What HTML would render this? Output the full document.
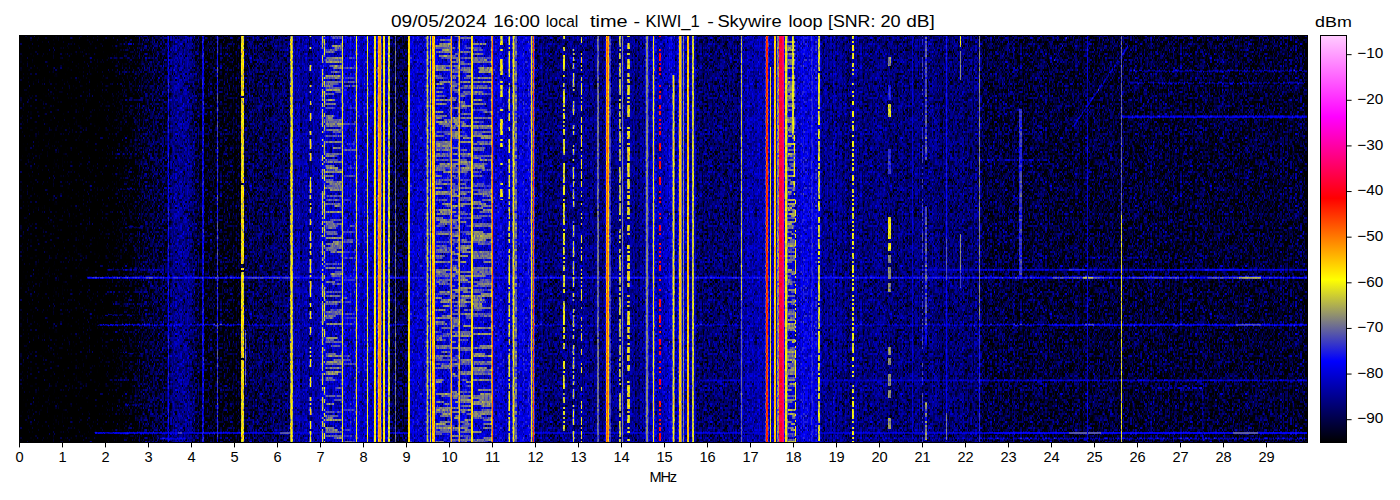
<!DOCTYPE html>
<html lang="en">
<head>
<meta charset="utf-8">
<title>KIWI_1 waterfall</title>
<style>
html,body{margin:0;padding:0;background:#fff}
body{width:1400px;height:500px;overflow:hidden;font-family:"Liberation Sans",sans-serif}
svg{display:block;position:absolute;left:0;top:0}
text{font-family:"Liberation Sans",sans-serif;fill:#000}
.tk line{stroke:#000;stroke-width:1}
.xl text{font-size:14.6px;text-anchor:middle}
.cl text{font-size:14.6px}
</style>
</head>
<body>
<svg width="1400" height="500" viewBox="0 0 1400 500">
<defs>
<filter id="wf" filterUnits="userSpaceOnUse" x="19" y="35" width="1289" height="408" color-interpolation-filters="sRGB">
<feColorMatrix in="SourceGraphic" type="matrix" values="1.1682 0.3363 0 0 -0.3363  1.1682 0.3363 0 0 -0.3363  1.1682 0.3363 0 0 -0.3363  0 0 0 0 1" result="s"/>
<feComponentTransfer in="s">
<feFuncR type="table" tableValues="0 0 1 1 1 1"/>
<feFuncG type="table" tableValues="0 0 1 0 0 0.8"/>
<feFuncB type="table" tableValues="0 1 0 0 1 1"/>
</feComponentTransfer>
</filter>
<pattern id="nz" patternUnits="userSpaceOnUse" x="19" y="35" width="160" height="128" patternContentUnits="userSpaceOnUse"><g transform="scale(1.25 2)" shape-rendering="crispEdges"><rect width="128" height="64" fill="#008400"/><path fill="#000000" d="M76 1h1v1h-1M6 3h1v1h-1M54 3h1v1h-1M93 3h1v1h-1M3 4h1v1h-1M4 5h1v1h-1M119 5h1v1h-1M19 7h1v1h-1M42 7h1v1h-1M95 7h1v1h-1M111 7h1v1h-1M21 8h1v1h-1M41 8h1v1h-1M99 8h1v1h-1M103 9h1v1h-1M74 10h1v1h-1M13 12h1v1h-1M65 14h1v1h-1M0 15h1v1h-1M70 15h1v1h-1M96 15h1v1h-1M40 16h1v1h-1M72 16h1v1h-1M53 17h1v1h-1M122 19h1v1h-1M124 19h1v1h-1M4 21h1v1h-1M35 21h1v1h-1M78 23h1v1h-1M79 23h1v1h-1M6 24h1v1h-1M13 24h1v1h-1M22 25h1v1h-1M31 25h1v1h-1M52 25h1v1h-1M54 25h1v1h-1M76 25h1v1h-1M77 25h1v1h-1M103 25h1v1h-1M7 26h1v1h-1M54 26h1v1h-1M60 26h1v1h-1M1 27h1v1h-1M6 27h1v1h-1M21 27h1v1h-1M10 28h1v1h-1M53 29h1v1h-1M110 29h1v1h-1M85 31h1v1h-1M108 31h1v1h-1M99 32h1v1h-1M50 33h1v1h-1M99 33h1v1h-1M73 34h1v1h-1M46 36h1v1h-1M6 37h1v1h-1M11 38h1v1h-1M42 38h1v1h-1M24 40h1v1h-1M34 40h1v1h-1M116 42h1v1h-1M86 43h1v1h-1M87 43h1v1h-1M97 44h1v1h-1M56 45h1v1h-1M82 45h1v1h-1M91 45h1v1h-1M63 46h1v1h-1M74 46h1v1h-1M112 46h1v1h-1M2 47h1v1h-1M7 47h1v1h-1M11 47h1v1h-1M26 47h1v1h-1M94 47h1v1h-1M97 47h1v1h-1M126 50h1v1h-1M40 52h1v1h-1M119 53h1v1h-1M44 54h1v1h-1M70 54h1v1h-1M58 55h1v1h-1M48 56h1v1h-1M58 56h1v1h-1M65 56h1v1h-1M41 58h1v1h-1M87 59h1v1h-1M125 61h1v1h-1M13 62h1v1h-1M57 62h1v1h-1M118 62h1v1h-1M33 63h1v1h-1M35 63h1v1h-1M123 63h1v1h-1"/><path fill="#000800" d="M85 0h1v1h-1M117 3h1v1h-1M19 4h1v1h-1M69 7h1v1h-1M65 8h1v1h-1M88 9h1v1h-1M5 10h1v1h-1M116 10h1v1h-1M23 11h1v1h-1M48 11h1v1h-1M95 13h1v1h-1M116 16h1v1h-1M104 19h1v1h-1M9 25h1v1h-1M72 26h1v1h-1M100 31h1v1h-1M96 33h1v1h-1M37 35h1v1h-1M117 35h1v1h-1M62 45h1v1h-1M6 50h1v1h-1M66 52h1v1h-1M25 54h1v1h-1M111 54h1v1h-1M18 56h1v1h-1M111 58h1v1h-1M72 60h1v1h-1M36 61h1v1h-1"/><path fill="#001000" d="M8 0h1v1h-1M38 3h1v1h-1M111 3h1v1h-1M119 3h1v1h-1M112 4h1v1h-1M0 6h1v1h-1M70 7h1v1h-1M31 10h1v1h-1M109 10h1v1h-1M60 11h1v1h-1M91 15h1v1h-1M43 18h1v1h-1M5 19h1v1h-1M21 19h1v1h-1M105 21h1v1h-1M125 22h1v1h-1M105 23h1v1h-1M5 24h1v1h-1M45 24h1v1h-1M89 25h1v1h-1M35 29h1v1h-1M59 29h1v1h-1M127 35h1v1h-1M67 38h1v1h-1M99 40h1v1h-1M52 42h1v1h-1M11 43h1v1h-1M21 43h1v1h-1M64 43h1v1h-1M119 43h1v1h-1M125 44h1v1h-1M84 45h1v1h-1M75 46h1v1h-1M12 50h1v1h-1M17 55h1v1h-1M100 56h1v1h-1M125 60h1v1h-1M59 63h1v1h-1"/><path fill="#001900" d="M127 1h1v1h-1M41 2h1v1h-1M53 4h1v1h-1M54 6h1v1h-1M114 6h1v1h-1M67 7h1v1h-1M63 11h1v1h-1M106 12h1v1h-1M112 12h1v1h-1M88 14h1v1h-1M117 16h1v1h-1M8 19h1v1h-1M1 20h1v1h-1M99 21h1v1h-1M88 22h1v1h-1M27 24h1v1h-1M32 24h1v1h-1M111 26h1v1h-1M13 28h1v1h-1M86 28h1v1h-1M22 30h1v1h-1M8 31h1v1h-1M47 31h1v1h-1M25 33h1v1h-1M59 34h1v1h-1M92 34h1v1h-1M88 35h1v1h-1M33 36h1v1h-1M86 36h1v1h-1M13 38h1v1h-1M75 38h1v1h-1M119 39h1v1h-1M16 42h1v1h-1M3 43h1v1h-1M14 43h1v1h-1M68 45h1v1h-1M97 45h1v1h-1M17 47h1v1h-1M8 49h1v1h-1M0 50h1v1h-1M30 51h1v1h-1M21 52h1v1h-1M21 53h1v1h-1M13 54h1v1h-1M71 54h1v1h-1M1 56h1v1h-1M72 56h1v1h-1M117 56h1v1h-1M40 57h1v1h-1M15 58h1v1h-1M13 59h1v1h-1M39 59h1v1h-1M94 59h1v1h-1M40 61h1v1h-1M6 63h1v1h-1M53 63h1v1h-1M85 63h1v1h-1"/><path fill="#002100" d="M68 0h1v1h-1M56 1h1v1h-1M109 2h1v1h-1M14 3h1v1h-1M22 3h1v1h-1M68 3h1v1h-1M4 4h1v1h-1M114 4h1v1h-1M92 5h1v1h-1M115 5h1v1h-1M116 5h1v1h-1M29 7h1v1h-1M75 7h1v1h-1M79 8h1v1h-1M105 8h1v1h-1M46 9h1v1h-1M78 9h1v1h-1M108 9h1v1h-1M30 10h1v1h-1M84 11h1v1h-1M117 11h1v1h-1M73 12h1v1h-1M85 12h1v1h-1M60 13h1v1h-1M31 16h1v1h-1M84 16h1v1h-1M107 16h1v1h-1M111 16h1v1h-1M127 17h1v1h-1M79 18h1v1h-1M24 19h1v1h-1M63 19h1v1h-1M118 19h1v1h-1M76 20h1v1h-1M111 20h1v1h-1M77 23h1v1h-1M98 24h1v1h-1M8 26h1v1h-1M47 27h1v1h-1M51 27h1v1h-1M42 28h1v1h-1M62 28h1v1h-1M67 28h1v1h-1M87 28h1v1h-1M26 30h1v1h-1M118 31h1v1h-1M19 32h1v1h-1M76 32h1v1h-1M54 33h1v1h-1M106 34h1v1h-1M0 39h1v1h-1M67 39h1v1h-1M44 40h1v1h-1M92 40h1v1h-1M6 41h1v1h-1M86 42h1v1h-1M112 43h1v1h-1M95 44h1v1h-1M52 45h1v1h-1M89 45h1v1h-1M102 50h1v1h-1M116 51h1v1h-1M125 52h1v1h-1M62 56h1v1h-1M64 57h1v1h-1M76 58h1v1h-1M15 59h1v1h-1M18 59h1v1h-1M32 59h1v1h-1M51 59h1v1h-1M4 60h1v1h-1M41 60h1v1h-1M95 61h1v1h-1M42 63h1v1h-1M103 63h1v1h-1M116 63h1v1h-1"/><path fill="#002900" d="M47 0h1v1h-1M45 1h1v1h-1M1 2h1v1h-1M12 2h1v1h-1M64 3h1v1h-1M70 3h1v1h-1M52 5h1v1h-1M3 6h1v1h-1M73 6h1v1h-1M96 7h1v1h-1M104 7h1v1h-1M107 7h1v1h-1M32 8h1v1h-1M34 8h1v1h-1M48 8h1v1h-1M83 8h1v1h-1M25 9h1v1h-1M125 9h1v1h-1M4 11h1v1h-1M47 11h1v1h-1M41 12h1v1h-1M27 13h1v1h-1M44 13h1v1h-1M59 13h1v1h-1M75 13h1v1h-1M30 15h1v1h-1M71 15h1v1h-1M127 15h1v1h-1M12 16h1v1h-1M57 16h1v1h-1M76 16h1v1h-1M119 17h1v1h-1M1 18h1v1h-1M100 18h1v1h-1M65 19h1v1h-1M79 19h1v1h-1M35 20h1v1h-1M50 20h1v1h-1M62 20h1v1h-1M23 22h1v1h-1M50 22h1v1h-1M68 22h1v1h-1M74 22h1v1h-1M82 22h1v1h-1M104 22h1v1h-1M47 23h1v1h-1M61 23h1v1h-1M98 23h1v1h-1M114 23h1v1h-1M4 24h1v1h-1M7 24h1v1h-1M30 24h1v1h-1M52 24h1v1h-1M112 24h1v1h-1M119 26h1v1h-1M22 27h1v1h-1M68 27h1v1h-1M59 30h1v1h-1M62 30h1v1h-1M64 30h1v1h-1M86 30h1v1h-1M34 31h1v1h-1M46 32h1v1h-1M8 33h1v1h-1M93 33h1v1h-1M112 33h1v1h-1M48 34h1v1h-1M95 34h1v1h-1M10 35h1v1h-1M24 35h1v1h-1M54 35h1v1h-1M78 35h1v1h-1M106 36h1v1h-1M40 37h1v1h-1M69 37h1v1h-1M100 37h1v1h-1M3 38h1v1h-1M46 38h1v1h-1M93 38h1v1h-1M52 39h1v1h-1M117 39h1v1h-1M3 42h1v1h-1M5 42h1v1h-1M44 42h1v1h-1M19 44h1v1h-1M71 46h1v1h-1M114 47h1v1h-1M37 48h1v1h-1M41 48h1v1h-1M29 49h1v1h-1M21 50h1v1h-1M37 50h1v1h-1M51 50h1v1h-1M69 50h1v1h-1M4 52h1v1h-1M94 53h1v1h-1M72 54h1v1h-1M46 56h1v1h-1M121 56h1v1h-1M20 57h1v1h-1M32 57h1v1h-1M53 57h1v1h-1M81 57h1v1h-1M121 57h1v1h-1M13 58h1v1h-1M62 58h1v1h-1M121 58h1v1h-1M127 58h1v1h-1M45 59h1v1h-1M20 60h1v1h-1M36 60h1v1h-1M97 60h1v1h-1M30 61h1v1h-1M82 61h1v1h-1M44 62h1v1h-1M72 63h1v1h-1"/><path fill="#003100" d="M7 0h1v1h-1M31 0h1v1h-1M89 0h1v1h-1M44 1h1v1h-1M65 1h1v1h-1M125 1h1v1h-1M24 2h1v1h-1M48 2h1v1h-1M85 2h1v1h-1M95 2h1v1h-1M11 3h1v1h-1M32 3h1v1h-1M46 3h1v1h-1M122 3h1v1h-1M92 4h1v1h-1M104 4h1v1h-1M124 4h1v1h-1M88 5h1v1h-1M96 5h1v1h-1M2 6h1v1h-1M51 7h1v1h-1M62 7h1v1h-1M127 7h1v1h-1M103 8h1v1h-1M104 8h1v1h-1M107 8h1v1h-1M40 9h1v1h-1M49 9h1v1h-1M124 9h1v1h-1M90 12h1v1h-1M15 14h1v1h-1M37 14h1v1h-1M59 14h1v1h-1M43 15h1v1h-1M4 16h1v1h-1M59 16h1v1h-1M63 16h1v1h-1M0 18h1v1h-1M27 19h1v1h-1M30 19h1v1h-1M64 19h1v1h-1M14 20h1v1h-1M94 20h1v1h-1M114 20h1v1h-1M8 22h1v1h-1M29 22h1v1h-1M71 23h1v1h-1M37 24h1v1h-1M120 24h1v1h-1M15 26h1v1h-1M48 26h1v1h-1M50 26h1v1h-1M67 26h1v1h-1M76 26h1v1h-1M77 26h1v1h-1M79 26h1v1h-1M87 26h1v1h-1M28 27h1v1h-1M18 28h1v1h-1M40 28h1v1h-1M72 30h1v1h-1M65 31h1v1h-1M114 31h1v1h-1M37 33h1v1h-1M58 33h1v1h-1M51 34h1v1h-1M52 34h1v1h-1M115 34h1v1h-1M38 35h1v1h-1M107 35h1v1h-1M126 35h1v1h-1M27 36h1v1h-1M38 36h1v1h-1M59 36h1v1h-1M81 36h1v1h-1M87 36h1v1h-1M112 36h1v1h-1M11 37h1v1h-1M22 37h1v1h-1M43 37h1v1h-1M119 38h1v1h-1M30 39h1v1h-1M37 39h1v1h-1M58 39h1v1h-1M68 39h1v1h-1M13 40h1v1h-1M72 40h1v1h-1M86 40h1v1h-1M94 40h1v1h-1M15 41h1v1h-1M68 41h1v1h-1M12 42h1v1h-1M47 42h1v1h-1M82 42h1v1h-1M56 43h1v1h-1M40 44h1v1h-1M110 44h1v1h-1M25 46h1v1h-1M85 46h1v1h-1M0 47h1v1h-1M8 48h1v1h-1M27 48h1v1h-1M82 48h1v1h-1M92 48h1v1h-1M27 49h1v1h-1M65 49h1v1h-1M86 49h1v1h-1M61 50h1v1h-1M31 51h1v1h-1M52 51h1v1h-1M11 52h1v1h-1M20 52h1v1h-1M27 52h1v1h-1M35 52h1v1h-1M39 52h1v1h-1M85 52h1v1h-1M6 53h1v1h-1M56 53h1v1h-1M76 53h1v1h-1M90 53h1v1h-1M5 54h1v1h-1M16 55h1v1h-1M62 55h1v1h-1M98 55h1v1h-1M25 56h1v1h-1M32 56h1v1h-1M39 56h1v1h-1M88 56h1v1h-1M126 56h1v1h-1M39 57h1v1h-1M34 58h1v1h-1M45 58h1v1h-1M68 58h1v1h-1M112 58h1v1h-1M20 59h1v1h-1M27 59h1v1h-1M59 59h1v1h-1M81 59h1v1h-1M95 59h1v1h-1M23 60h1v1h-1M85 60h1v1h-1M19 61h1v1h-1M70 61h1v1h-1M78 61h1v1h-1M63 62h1v1h-1M87 62h1v1h-1M88 62h1v1h-1M118 63h1v1h-1"/><path fill="#003a00" d="M46 0h1v1h-1M18 1h1v1h-1M27 1h1v1h-1M78 1h1v1h-1M6 2h1v1h-1M45 2h1v1h-1M66 2h1v1h-1M43 3h1v1h-1M67 3h1v1h-1M124 3h1v1h-1M63 4h1v1h-1M75 4h1v1h-1M102 4h1v1h-1M0 7h1v1h-1M10 7h1v1h-1M118 7h1v1h-1M3 8h1v1h-1M60 8h1v1h-1M78 8h1v1h-1M58 9h1v1h-1M86 10h1v1h-1M10 11h1v1h-1M79 11h1v1h-1M23 12h1v1h-1M40 12h1v1h-1M100 12h1v1h-1M111 12h1v1h-1M0 13h1v1h-1M56 13h1v1h-1M61 13h1v1h-1M127 14h1v1h-1M27 15h1v1h-1M38 15h1v1h-1M57 15h1v1h-1M119 15h1v1h-1M121 15h1v1h-1M123 15h1v1h-1M120 16h1v1h-1M22 17h1v1h-1M68 18h1v1h-1M122 18h1v1h-1M66 19h1v1h-1M53 20h1v1h-1M30 21h1v1h-1M50 21h1v1h-1M84 21h1v1h-1M85 21h1v1h-1M77 22h1v1h-1M80 22h1v1h-1M89 22h1v1h-1M109 22h1v1h-1M22 23h1v1h-1M42 23h1v1h-1M113 23h1v1h-1M44 24h1v1h-1M50 24h1v1h-1M83 24h1v1h-1M3 25h1v1h-1M17 25h1v1h-1M23 25h1v1h-1M32 25h1v1h-1M109 25h1v1h-1M38 26h1v1h-1M24 27h1v1h-1M26 27h1v1h-1M98 27h1v1h-1M11 29h1v1h-1M71 29h1v1h-1M118 29h1v1h-1M89 30h1v1h-1M95 30h1v1h-1M125 30h1v1h-1M23 31h1v1h-1M92 31h1v1h-1M15 32h1v1h-1M70 32h1v1h-1M118 32h1v1h-1M83 33h1v1h-1M91 34h1v1h-1M14 35h1v1h-1M30 35h1v1h-1M74 35h1v1h-1M34 36h1v1h-1M75 36h1v1h-1M5 37h1v1h-1M109 37h1v1h-1M97 38h1v1h-1M90 39h1v1h-1M97 39h1v1h-1M12 41h1v1h-1M34 41h1v1h-1M89 41h1v1h-1M101 41h1v1h-1M67 42h1v1h-1M91 42h1v1h-1M7 43h1v1h-1M9 44h1v1h-1M120 44h1v1h-1M13 45h1v1h-1M18 45h1v1h-1M104 45h1v1h-1M111 45h1v1h-1M70 46h1v1h-1M103 46h1v1h-1M33 47h1v1h-1M46 47h1v1h-1M57 47h1v1h-1M64 47h1v1h-1M106 47h1v1h-1M73 48h1v1h-1M98 48h1v1h-1M43 49h1v1h-1M76 49h1v1h-1M107 49h1v1h-1M114 49h1v1h-1M41 50h1v1h-1M122 50h1v1h-1M19 51h1v1h-1M61 51h1v1h-1M92 51h1v1h-1M98 51h1v1h-1M3 52h1v1h-1M31 52h1v1h-1M119 52h1v1h-1M37 53h1v1h-1M2 54h1v1h-1M49 54h1v1h-1M110 54h1v1h-1M0 55h1v1h-1M113 55h1v1h-1M125 55h1v1h-1M19 56h1v1h-1M38 57h1v1h-1M54 57h1v1h-1M1 58h1v1h-1M44 58h1v1h-1M105 58h1v1h-1M107 58h1v1h-1M30 59h1v1h-1M43 59h1v1h-1M61 60h1v1h-1M71 60h1v1h-1M23 61h1v1h-1M47 61h1v1h-1M56 62h1v1h-1M80 62h1v1h-1M25 63h1v1h-1M58 63h1v1h-1M102 63h1v1h-1"/><path fill="#004200" d="M77 0h1v1h-1M103 0h1v1h-1M122 0h1v1h-1M37 1h1v1h-1M10 2h1v1h-1M16 3h1v1h-1M21 3h1v1h-1M47 3h1v1h-1M53 3h1v1h-1M60 3h1v1h-1M62 3h1v1h-1M97 3h1v1h-1M20 4h1v1h-1M82 4h1v1h-1M25 5h1v1h-1M51 5h1v1h-1M65 5h1v1h-1M16 6h1v1h-1M3 7h1v1h-1M57 7h1v1h-1M23 8h1v1h-1M38 8h1v1h-1M44 8h1v1h-1M95 8h1v1h-1M26 9h1v1h-1M62 9h1v1h-1M7 10h1v1h-1M14 10h1v1h-1M75 10h1v1h-1M88 10h1v1h-1M94 10h1v1h-1M103 10h1v1h-1M106 10h1v1h-1M30 11h1v1h-1M115 11h1v1h-1M20 12h1v1h-1M37 12h1v1h-1M84 12h1v1h-1M115 12h1v1h-1M2 13h1v1h-1M114 13h1v1h-1M2 14h1v1h-1M72 14h1v1h-1M41 15h1v1h-1M58 15h1v1h-1M103 15h1v1h-1M10 16h1v1h-1M29 16h1v1h-1M68 16h1v1h-1M2 17h1v1h-1M25 17h1v1h-1M48 17h1v1h-1M122 17h1v1h-1M12 18h1v1h-1M23 18h1v1h-1M50 18h1v1h-1M75 18h1v1h-1M35 19h1v1h-1M51 19h1v1h-1M62 19h1v1h-1M22 20h1v1h-1M93 20h1v1h-1M123 20h1v1h-1M31 21h1v1h-1M39 21h1v1h-1M71 21h1v1h-1M89 21h1v1h-1M109 21h1v1h-1M28 22h1v1h-1M31 22h1v1h-1M63 22h1v1h-1M64 22h1v1h-1M6 23h1v1h-1M53 23h1v1h-1M76 23h1v1h-1M14 24h1v1h-1M77 24h1v1h-1M101 24h1v1h-1M105 24h1v1h-1M56 25h1v1h-1M61 25h1v1h-1M72 25h1v1h-1M86 25h1v1h-1M115 25h1v1h-1M10 26h1v1h-1M19 26h1v1h-1M68 26h1v1h-1M102 26h1v1h-1M7 27h1v1h-1M14 27h1v1h-1M57 27h1v1h-1M2 28h1v1h-1M80 28h1v1h-1M108 28h1v1h-1M111 28h1v1h-1M7 29h1v1h-1M62 29h1v1h-1M121 29h1v1h-1M7 30h1v1h-1M32 30h1v1h-1M44 30h1v1h-1M45 30h1v1h-1M87 30h1v1h-1M100 30h1v1h-1M25 31h1v1h-1M26 31h1v1h-1M103 31h1v1h-1M2 32h1v1h-1M9 32h1v1h-1M34 32h1v1h-1M80 32h1v1h-1M17 33h1v1h-1M21 33h1v1h-1M46 33h1v1h-1M56 33h1v1h-1M15 34h1v1h-1M116 34h1v1h-1M32 35h1v1h-1M6 36h1v1h-1M10 36h1v1h-1M44 36h1v1h-1M74 36h1v1h-1M7 37h1v1h-1M8 37h1v1h-1M38 37h1v1h-1M46 37h1v1h-1M62 37h1v1h-1M73 37h1v1h-1M119 37h1v1h-1M0 38h1v1h-1M83 38h1v1h-1M103 38h1v1h-1M115 38h1v1h-1M61 39h1v1h-1M83 39h1v1h-1M88 39h1v1h-1M118 39h1v1h-1M10 40h1v1h-1M17 40h1v1h-1M55 40h1v1h-1M123 40h1v1h-1M17 41h1v1h-1M46 41h1v1h-1M114 41h1v1h-1M118 41h1v1h-1M10 42h1v1h-1M14 42h1v1h-1M29 42h1v1h-1M30 42h1v1h-1M38 42h1v1h-1M110 42h1v1h-1M84 43h1v1h-1M104 43h1v1h-1M116 43h1v1h-1M34 44h1v1h-1M111 44h1v1h-1M28 45h1v1h-1M45 45h1v1h-1M55 45h1v1h-1M59 45h1v1h-1M73 45h1v1h-1M106 45h1v1h-1M32 46h1v1h-1M68 46h1v1h-1M48 47h1v1h-1M116 47h1v1h-1M6 48h1v1h-1M64 48h1v1h-1M91 48h1v1h-1M100 48h1v1h-1M25 49h1v1h-1M31 49h1v1h-1M85 49h1v1h-1M110 49h1v1h-1M119 49h1v1h-1M52 50h1v1h-1M94 50h1v1h-1M18 51h1v1h-1M24 51h1v1h-1M25 52h1v1h-1M80 52h1v1h-1M81 52h1v1h-1M95 52h1v1h-1M14 53h1v1h-1M59 53h1v1h-1M116 53h1v1h-1M7 54h1v1h-1M38 54h1v1h-1M5 55h1v1h-1M25 55h1v1h-1M51 55h1v1h-1M101 55h1v1h-1M107 55h1v1h-1M2 56h1v1h-1M35 56h1v1h-1M82 56h1v1h-1M84 56h1v1h-1M74 57h1v1h-1M46 58h1v1h-1M91 58h1v1h-1M109 58h1v1h-1M0 59h1v1h-1M25 59h1v1h-1M90 59h1v1h-1M7 60h1v1h-1M76 60h1v1h-1M104 60h1v1h-1M124 60h1v1h-1M38 61h1v1h-1M54 61h1v1h-1M112 61h1v1h-1M103 62h1v1h-1M30 63h1v1h-1M47 63h1v1h-1M112 63h1v1h-1"/><path fill="#004a00" d="M32 0h1v1h-1M124 0h1v1h-1M4 1h1v1h-1M122 1h1v1h-1M86 2h1v1h-1M88 2h1v1h-1M100 2h1v1h-1M33 3h1v1h-1M34 3h1v1h-1M121 3h1v1h-1M13 4h1v1h-1M79 4h1v1h-1M90 4h1v1h-1M45 5h1v1h-1M67 5h1v1h-1M106 5h1v1h-1M113 5h1v1h-1M74 6h1v1h-1M111 6h1v1h-1M120 7h1v1h-1M8 8h1v1h-1M10 8h1v1h-1M81 8h1v1h-1M101 8h1v1h-1M2 9h1v1h-1M76 9h1v1h-1M79 9h1v1h-1M90 9h1v1h-1M97 9h1v1h-1M98 9h1v1h-1M106 9h1v1h-1M3 10h1v1h-1M26 10h1v1h-1M54 10h1v1h-1M60 10h1v1h-1M82 10h1v1h-1M87 10h1v1h-1M13 11h1v1h-1M29 11h1v1h-1M51 11h1v1h-1M111 11h1v1h-1M30 12h1v1h-1M32 12h1v1h-1M55 12h1v1h-1M79 12h1v1h-1M93 12h1v1h-1M95 12h1v1h-1M96 12h1v1h-1M104 12h1v1h-1M25 13h1v1h-1M39 13h1v1h-1M100 13h1v1h-1M116 13h1v1h-1M26 14h1v1h-1M34 14h1v1h-1M87 14h1v1h-1M113 14h1v1h-1M94 15h1v1h-1M107 15h1v1h-1M37 16h1v1h-1M80 16h1v1h-1M97 16h1v1h-1M26 17h1v1h-1M46 17h1v1h-1M52 17h1v1h-1M87 17h1v1h-1M89 17h1v1h-1M116 17h1v1h-1M73 18h1v1h-1M81 18h1v1h-1M92 18h1v1h-1M101 18h1v1h-1M108 18h1v1h-1M26 19h1v1h-1M38 19h1v1h-1M90 19h1v1h-1M97 19h1v1h-1M117 19h1v1h-1M49 20h1v1h-1M69 20h1v1h-1M72 20h1v1h-1M79 20h1v1h-1M80 20h1v1h-1M82 20h1v1h-1M65 21h1v1h-1M94 21h1v1h-1M103 21h1v1h-1M110 21h1v1h-1M62 22h1v1h-1M3 23h1v1h-1M5 23h1v1h-1M44 23h1v1h-1M45 23h1v1h-1M62 23h1v1h-1M86 23h1v1h-1M89 23h1v1h-1M95 23h1v1h-1M102 23h1v1h-1M8 24h1v1h-1M12 24h1v1h-1M75 24h1v1h-1M80 24h1v1h-1M118 24h1v1h-1M4 25h1v1h-1M7 25h1v1h-1M25 25h1v1h-1M27 25h1v1h-1M29 25h1v1h-1M33 25h1v1h-1M38 25h1v1h-1M48 25h1v1h-1M57 25h1v1h-1M87 25h1v1h-1M29 26h1v1h-1M118 26h1v1h-1M2 27h1v1h-1M15 27h1v1h-1M19 27h1v1h-1M39 27h1v1h-1M58 27h1v1h-1M61 27h1v1h-1M72 27h1v1h-1M96 27h1v1h-1M99 27h1v1h-1M30 28h1v1h-1M43 28h1v1h-1M44 28h1v1h-1M105 28h1v1h-1M40 29h1v1h-1M48 29h1v1h-1M116 29h1v1h-1M119 29h1v1h-1M20 30h1v1h-1M43 30h1v1h-1M61 30h1v1h-1M4 31h1v1h-1M7 31h1v1h-1M15 31h1v1h-1M37 31h1v1h-1M82 31h1v1h-1M95 31h1v1h-1M22 32h1v1h-1M35 32h1v1h-1M35 33h1v1h-1M36 33h1v1h-1M104 33h1v1h-1M2 34h1v1h-1M89 34h1v1h-1M20 35h1v1h-1M92 35h1v1h-1M95 35h1v1h-1M56 36h1v1h-1M66 36h1v1h-1M109 36h1v1h-1M48 37h1v1h-1M70 37h1v1h-1M74 37h1v1h-1M80 37h1v1h-1M98 37h1v1h-1M35 38h1v1h-1M55 38h1v1h-1M70 38h1v1h-1M78 38h1v1h-1M100 38h1v1h-1M111 38h1v1h-1M31 39h1v1h-1M41 39h1v1h-1M49 39h1v1h-1M85 39h1v1h-1M95 39h1v1h-1M102 39h1v1h-1M113 39h1v1h-1M45 40h1v1h-1M66 40h1v1h-1M73 40h1v1h-1M101 40h1v1h-1M117 40h1v1h-1M124 40h1v1h-1M23 41h1v1h-1M29 41h1v1h-1M31 41h1v1h-1M35 41h1v1h-1M62 41h1v1h-1M70 41h1v1h-1M62 42h1v1h-1M79 42h1v1h-1M80 42h1v1h-1M89 42h1v1h-1M105 42h1v1h-1M106 42h1v1h-1M15 43h1v1h-1M28 43h1v1h-1M46 43h1v1h-1M52 43h1v1h-1M98 43h1v1h-1M13 44h1v1h-1M46 44h1v1h-1M50 44h1v1h-1M2 45h1v1h-1M8 45h1v1h-1M21 45h1v1h-1M27 45h1v1h-1M53 45h1v1h-1M126 45h1v1h-1M8 46h1v1h-1M17 46h1v1h-1M35 46h1v1h-1M122 46h1v1h-1M14 47h1v1h-1M22 47h1v1h-1M50 47h1v1h-1M13 48h1v1h-1M21 48h1v1h-1M47 48h1v1h-1M50 48h1v1h-1M68 48h1v1h-1M77 48h1v1h-1M125 48h1v1h-1M32 49h1v1h-1M48 49h1v1h-1M55 49h1v1h-1M56 49h1v1h-1M58 49h1v1h-1M75 50h1v1h-1M115 50h1v1h-1M119 50h1v1h-1M14 51h1v1h-1M25 51h1v1h-1M32 51h1v1h-1M72 51h1v1h-1M90 51h1v1h-1M109 51h1v1h-1M18 52h1v1h-1M38 52h1v1h-1M57 52h1v1h-1M16 53h1v1h-1M4 54h1v1h-1M9 54h1v1h-1M29 54h1v1h-1M60 54h1v1h-1M73 54h1v1h-1M24 55h1v1h-1M35 55h1v1h-1M38 55h1v1h-1M81 55h1v1h-1M16 56h1v1h-1M33 56h1v1h-1M6 57h1v1h-1M21 57h1v1h-1M30 57h1v1h-1M68 57h1v1h-1M116 57h1v1h-1M48 58h1v1h-1M78 58h1v1h-1M79 58h1v1h-1M93 58h1v1h-1M116 58h1v1h-1M16 59h1v1h-1M46 59h1v1h-1M57 59h1v1h-1M98 59h1v1h-1M101 59h1v1h-1M102 59h1v1h-1M83 60h1v1h-1M88 60h1v1h-1M110 60h1v1h-1M27 61h1v1h-1M5 62h1v1h-1M120 62h1v1h-1M27 63h1v1h-1M54 63h1v1h-1M62 63h1v1h-1M114 63h1v1h-1"/><path fill="#005200" d="M74 0h1v1h-1M2 1h1v1h-1M14 1h1v1h-1M80 1h1v1h-1M91 1h1v1h-1M100 1h1v1h-1M38 2h1v1h-1M56 2h1v1h-1M71 2h1v1h-1M97 2h1v1h-1M117 2h1v1h-1M120 2h1v1h-1M24 3h1v1h-1M59 3h1v1h-1M76 3h1v1h-1M82 3h1v1h-1M91 3h1v1h-1M92 3h1v1h-1M127 3h1v1h-1M125 4h1v1h-1M53 5h1v1h-1M60 5h1v1h-1M71 5h1v1h-1M73 5h1v1h-1M75 5h1v1h-1M121 5h1v1h-1M34 6h1v1h-1M56 6h1v1h-1M66 6h1v1h-1M69 6h1v1h-1M6 7h1v1h-1M8 7h1v1h-1M11 7h1v1h-1M36 7h1v1h-1M60 7h1v1h-1M71 7h1v1h-1M72 7h1v1h-1M110 7h1v1h-1M12 8h1v1h-1M77 8h1v1h-1M67 9h1v1h-1M92 9h1v1h-1M127 9h1v1h-1M1 10h1v1h-1M48 10h1v1h-1M61 10h1v1h-1M78 10h1v1h-1M81 10h1v1h-1M126 10h1v1h-1M46 11h1v1h-1M95 11h1v1h-1M120 11h1v1h-1M121 11h1v1h-1M0 12h1v1h-1M22 12h1v1h-1M36 12h1v1h-1M42 12h1v1h-1M53 12h1v1h-1M72 12h1v1h-1M82 12h1v1h-1M118 12h1v1h-1M23 13h1v1h-1M31 13h1v1h-1M35 13h1v1h-1M89 13h1v1h-1M21 14h1v1h-1M81 14h1v1h-1M109 14h1v1h-1M4 15h1v1h-1M21 15h1v1h-1M36 15h1v1h-1M54 15h1v1h-1M56 15h1v1h-1M60 15h1v1h-1M67 15h1v1h-1M89 15h1v1h-1M90 15h1v1h-1M7 16h1v1h-1M8 16h1v1h-1M20 16h1v1h-1M62 16h1v1h-1M64 16h1v1h-1M66 16h1v1h-1M105 16h1v1h-1M112 16h1v1h-1M126 16h1v1h-1M3 17h1v1h-1M51 17h1v1h-1M64 17h1v1h-1M9 18h1v1h-1M18 18h1v1h-1M74 18h1v1h-1M89 18h1v1h-1M117 18h1v1h-1M40 19h1v1h-1M78 19h1v1h-1M91 19h1v1h-1M98 19h1v1h-1M106 19h1v1h-1M111 19h1v1h-1M12 20h1v1h-1M19 20h1v1h-1M24 20h1v1h-1M31 20h1v1h-1M58 20h1v1h-1M74 20h1v1h-1M84 20h1v1h-1M87 20h1v1h-1M96 20h1v1h-1M1 21h1v1h-1M2 21h1v1h-1M12 21h1v1h-1M59 21h1v1h-1M83 21h1v1h-1M119 21h1v1h-1M2 22h1v1h-1M26 22h1v1h-1M53 22h1v1h-1M69 22h1v1h-1M71 22h1v1h-1M86 22h1v1h-1M112 22h1v1h-1M115 22h1v1h-1M121 22h1v1h-1M35 23h1v1h-1M38 24h1v1h-1M111 24h1v1h-1M59 25h1v1h-1M81 25h1v1h-1M26 26h1v1h-1M81 26h1v1h-1M94 26h1v1h-1M99 26h1v1h-1M3 27h1v1h-1M27 27h1v1h-1M80 27h1v1h-1M94 27h1v1h-1M122 27h1v1h-1M20 28h1v1h-1M60 29h1v1h-1M94 29h1v1h-1M18 30h1v1h-1M29 30h1v1h-1M84 30h1v1h-1M90 30h1v1h-1M120 30h1v1h-1M69 31h1v1h-1M73 31h1v1h-1M83 31h1v1h-1M115 31h1v1h-1M116 31h1v1h-1M18 32h1v1h-1M23 32h1v1h-1M26 32h1v1h-1M49 32h1v1h-1M84 32h1v1h-1M110 32h1v1h-1M117 32h1v1h-1M3 33h1v1h-1M23 33h1v1h-1M42 33h1v1h-1M84 33h1v1h-1M94 33h1v1h-1M111 33h1v1h-1M126 33h1v1h-1M18 34h1v1h-1M22 34h1v1h-1M31 34h1v1h-1M38 34h1v1h-1M44 34h1v1h-1M70 34h1v1h-1M98 34h1v1h-1M34 35h1v1h-1M39 35h1v1h-1M53 35h1v1h-1M56 35h1v1h-1M102 35h1v1h-1M111 35h1v1h-1M18 36h1v1h-1M42 36h1v1h-1M70 36h1v1h-1M85 36h1v1h-1M99 36h1v1h-1M10 37h1v1h-1M25 37h1v1h-1M72 37h1v1h-1M88 37h1v1h-1M12 38h1v1h-1M53 38h1v1h-1M86 38h1v1h-1M118 38h1v1h-1M120 38h1v1h-1M24 39h1v1h-1M72 39h1v1h-1M73 39h1v1h-1M74 39h1v1h-1M99 39h1v1h-1M122 39h1v1h-1M0 40h1v1h-1M12 40h1v1h-1M63 40h1v1h-1M87 40h1v1h-1M121 40h1v1h-1M20 41h1v1h-1M55 41h1v1h-1M107 41h1v1h-1M13 42h1v1h-1M27 42h1v1h-1M58 42h1v1h-1M68 42h1v1h-1M108 42h1v1h-1M127 42h1v1h-1M53 43h1v1h-1M57 43h1v1h-1M100 43h1v1h-1M126 43h1v1h-1M10 44h1v1h-1M88 44h1v1h-1M98 44h1v1h-1M93 45h1v1h-1M112 45h1v1h-1M27 46h1v1h-1M56 46h1v1h-1M62 46h1v1h-1M119 46h1v1h-1M45 47h1v1h-1M74 47h1v1h-1M84 47h1v1h-1M117 47h1v1h-1M7 48h1v1h-1M9 48h1v1h-1M22 48h1v1h-1M29 48h1v1h-1M51 49h1v1h-1M64 49h1v1h-1M91 49h1v1h-1M92 49h1v1h-1M121 49h1v1h-1M11 50h1v1h-1M14 50h1v1h-1M20 50h1v1h-1M54 50h1v1h-1M62 50h1v1h-1M109 50h1v1h-1M121 50h1v1h-1M1 51h1v1h-1M5 51h1v1h-1M54 51h1v1h-1M59 51h1v1h-1M63 51h1v1h-1M121 51h1v1h-1M30 52h1v1h-1M61 52h1v1h-1M86 52h1v1h-1M99 52h1v1h-1M52 53h1v1h-1M63 53h1v1h-1M80 53h1v1h-1M20 54h1v1h-1M41 54h1v1h-1M84 54h1v1h-1M91 54h1v1h-1M119 54h1v1h-1M13 55h1v1h-1M30 55h1v1h-1M40 55h1v1h-1M55 55h1v1h-1M73 55h1v1h-1M77 55h1v1h-1M87 55h1v1h-1M126 55h1v1h-1M29 56h1v1h-1M67 56h1v1h-1M127 56h1v1h-1M15 57h1v1h-1M26 57h1v1h-1M50 57h1v1h-1M70 57h1v1h-1M111 57h1v1h-1M38 58h1v1h-1M71 58h1v1h-1M98 58h1v1h-1M125 58h1v1h-1M52 59h1v1h-1M107 59h1v1h-1M115 59h1v1h-1M121 59h1v1h-1M0 60h1v1h-1M48 60h1v1h-1M75 60h1v1h-1M87 60h1v1h-1M107 60h1v1h-1M2 61h1v1h-1M15 61h1v1h-1M37 61h1v1h-1M42 61h1v1h-1M61 61h1v1h-1M62 61h1v1h-1M96 61h1v1h-1M2 62h1v1h-1M31 62h1v1h-1M45 62h1v1h-1M54 62h1v1h-1M60 62h1v1h-1M64 62h1v1h-1M67 62h1v1h-1M3 63h1v1h-1M76 63h1v1h-1M87 63h1v1h-1M106 63h1v1h-1M117 63h1v1h-1"/><path fill="#005a00" d="M39 0h1v1h-1M42 0h1v1h-1M48 0h1v1h-1M69 0h1v1h-1M0 1h1v1h-1M3 1h1v1h-1M17 1h1v1h-1M51 1h1v1h-1M66 1h1v1h-1M89 1h1v1h-1M101 1h1v1h-1M108 1h1v1h-1M30 2h1v1h-1M33 2h1v1h-1M73 2h1v1h-1M104 2h1v1h-1M113 2h1v1h-1M27 3h1v1h-1M28 3h1v1h-1M61 3h1v1h-1M65 3h1v1h-1M79 3h1v1h-1M94 3h1v1h-1M104 3h1v1h-1M109 3h1v1h-1M48 4h1v1h-1M62 4h1v1h-1M10 5h1v1h-1M29 5h1v1h-1M30 5h1v1h-1M39 5h1v1h-1M62 5h1v1h-1M70 5h1v1h-1M111 5h1v1h-1M18 6h1v1h-1M45 6h1v1h-1M50 6h1v1h-1M53 6h1v1h-1M68 6h1v1h-1M72 6h1v1h-1M93 6h1v1h-1M124 6h1v1h-1M39 7h1v1h-1M88 7h1v1h-1M100 7h1v1h-1M28 8h1v1h-1M57 8h1v1h-1M63 8h1v1h-1M123 8h1v1h-1M126 8h1v1h-1M127 8h1v1h-1M12 9h1v1h-1M21 9h1v1h-1M23 9h1v1h-1M30 9h1v1h-1M34 9h1v1h-1M43 9h1v1h-1M52 9h1v1h-1M83 9h1v1h-1M95 9h1v1h-1M119 9h1v1h-1M123 9h1v1h-1M22 10h1v1h-1M41 10h1v1h-1M122 10h1v1h-1M21 11h1v1h-1M22 11h1v1h-1M35 11h1v1h-1M37 11h1v1h-1M50 11h1v1h-1M55 11h1v1h-1M83 11h1v1h-1M99 11h1v1h-1M127 11h1v1h-1M2 12h1v1h-1M27 12h1v1h-1M31 12h1v1h-1M105 12h1v1h-1M4 13h1v1h-1M14 13h1v1h-1M38 13h1v1h-1M70 13h1v1h-1M93 13h1v1h-1M103 13h1v1h-1M22 14h1v1h-1M43 14h1v1h-1M46 14h1v1h-1M90 14h1v1h-1M118 14h1v1h-1M7 15h1v1h-1M17 15h1v1h-1M85 15h1v1h-1M87 15h1v1h-1M93 15h1v1h-1M42 16h1v1h-1M45 16h1v1h-1M54 16h1v1h-1M71 16h1v1h-1M79 16h1v1h-1M81 16h1v1h-1M123 16h1v1h-1M21 17h1v1h-1M35 17h1v1h-1M45 17h1v1h-1M95 17h1v1h-1M40 18h1v1h-1M110 18h1v1h-1M0 19h1v1h-1M7 19h1v1h-1M67 19h1v1h-1M83 19h1v1h-1M7 20h1v1h-1M25 20h1v1h-1M39 20h1v1h-1M73 20h1v1h-1M125 20h1v1h-1M21 21h1v1h-1M23 21h1v1h-1M58 21h1v1h-1M75 21h1v1h-1M46 22h1v1h-1M94 22h1v1h-1M106 22h1v1h-1M108 22h1v1h-1M127 22h1v1h-1M30 23h1v1h-1M66 23h1v1h-1M106 23h1v1h-1M110 23h1v1h-1M21 24h1v1h-1M65 24h1v1h-1M68 24h1v1h-1M86 24h1v1h-1M106 24h1v1h-1M30 25h1v1h-1M95 25h1v1h-1M116 25h1v1h-1M9 26h1v1h-1M11 26h1v1h-1M55 26h1v1h-1M63 26h1v1h-1M85 26h1v1h-1M109 26h1v1h-1M33 27h1v1h-1M49 27h1v1h-1M52 27h1v1h-1M55 27h1v1h-1M101 27h1v1h-1M15 28h1v1h-1M41 28h1v1h-1M47 28h1v1h-1M52 28h1v1h-1M0 29h1v1h-1M1 29h1v1h-1M34 29h1v1h-1M57 29h1v1h-1M78 29h1v1h-1M90 29h1v1h-1M113 29h1v1h-1M41 30h1v1h-1M48 30h1v1h-1M55 30h1v1h-1M108 30h1v1h-1M119 30h1v1h-1M17 31h1v1h-1M24 31h1v1h-1M31 31h1v1h-1M32 31h1v1h-1M55 31h1v1h-1M27 32h1v1h-1M42 32h1v1h-1M55 32h1v1h-1M62 32h1v1h-1M107 32h1v1h-1M116 32h1v1h-1M5 33h1v1h-1M9 33h1v1h-1M38 33h1v1h-1M45 33h1v1h-1M68 33h1v1h-1M78 33h1v1h-1M82 33h1v1h-1M95 33h1v1h-1M105 33h1v1h-1M109 33h1v1h-1M118 33h1v1h-1M23 34h1v1h-1M30 34h1v1h-1M57 34h1v1h-1M80 34h1v1h-1M82 34h1v1h-1M97 34h1v1h-1M104 34h1v1h-1M0 35h1v1h-1M6 35h1v1h-1M58 35h1v1h-1M77 35h1v1h-1M97 35h1v1h-1M110 35h1v1h-1M113 35h1v1h-1M116 35h1v1h-1M123 35h1v1h-1M8 36h1v1h-1M53 36h1v1h-1M72 36h1v1h-1M84 36h1v1h-1M89 36h1v1h-1M104 36h1v1h-1M107 36h1v1h-1M123 36h1v1h-1M124 36h1v1h-1M125 36h1v1h-1M14 37h1v1h-1M23 37h1v1h-1M44 37h1v1h-1M78 37h1v1h-1M83 37h1v1h-1M121 37h1v1h-1M127 37h1v1h-1M2 38h1v1h-1M5 38h1v1h-1M18 38h1v1h-1M51 38h1v1h-1M73 38h1v1h-1M122 38h1v1h-1M5 39h1v1h-1M12 39h1v1h-1M19 39h1v1h-1M36 39h1v1h-1M54 39h1v1h-1M75 39h1v1h-1M81 39h1v1h-1M104 39h1v1h-1M124 39h1v1h-1M1 40h1v1h-1M8 40h1v1h-1M118 40h1v1h-1M2 41h1v1h-1M59 41h1v1h-1M93 41h1v1h-1M104 41h1v1h-1M20 42h1v1h-1M48 42h1v1h-1M111 42h1v1h-1M124 42h1v1h-1M1 43h1v1h-1M10 43h1v1h-1M33 43h1v1h-1M44 43h1v1h-1M83 43h1v1h-1M108 43h1v1h-1M113 43h1v1h-1M23 44h1v1h-1M75 44h1v1h-1M78 44h1v1h-1M89 44h1v1h-1M102 44h1v1h-1M103 44h1v1h-1M22 45h1v1h-1M33 45h1v1h-1M50 45h1v1h-1M115 45h1v1h-1M117 45h1v1h-1M0 46h1v1h-1M12 46h1v1h-1M36 46h1v1h-1M38 46h1v1h-1M52 46h1v1h-1M80 46h1v1h-1M82 46h1v1h-1M88 46h1v1h-1M106 46h1v1h-1M6 47h1v1h-1M20 47h1v1h-1M49 47h1v1h-1M55 47h1v1h-1M101 47h1v1h-1M5 48h1v1h-1M72 48h1v1h-1M97 48h1v1h-1M112 48h1v1h-1M4 49h1v1h-1M73 49h1v1h-1M89 49h1v1h-1M122 49h1v1h-1M31 50h1v1h-1M39 50h1v1h-1M59 50h1v1h-1M79 50h1v1h-1M83 50h1v1h-1M89 50h1v1h-1M16 51h1v1h-1M51 51h1v1h-1M57 51h1v1h-1M104 51h1v1h-1M105 51h1v1h-1M43 52h1v1h-1M70 52h1v1h-1M71 52h1v1h-1M84 52h1v1h-1M109 52h1v1h-1M61 53h1v1h-1M81 53h1v1h-1M82 53h1v1h-1M96 53h1v1h-1M64 54h1v1h-1M82 54h1v1h-1M83 54h1v1h-1M116 54h1v1h-1M123 54h1v1h-1M57 55h1v1h-1M3 56h1v1h-1M36 56h1v1h-1M114 56h1v1h-1M4 57h1v1h-1M9 57h1v1h-1M22 57h1v1h-1M71 57h1v1h-1M97 57h1v1h-1M103 57h1v1h-1M107 57h1v1h-1M114 57h1v1h-1M117 57h1v1h-1M0 58h1v1h-1M23 58h1v1h-1M25 58h1v1h-1M39 58h1v1h-1M61 58h1v1h-1M66 58h1v1h-1M19 59h1v1h-1M76 59h1v1h-1M106 59h1v1h-1M1 60h1v1h-1M19 60h1v1h-1M32 60h1v1h-1M43 60h1v1h-1M96 60h1v1h-1M106 60h1v1h-1M111 60h1v1h-1M8 61h1v1h-1M57 61h1v1h-1M79 61h1v1h-1M86 61h1v1h-1M97 61h1v1h-1M101 61h1v1h-1M102 61h1v1h-1M4 62h1v1h-1M38 62h1v1h-1M49 62h1v1h-1M69 62h1v1h-1M110 62h1v1h-1M115 62h1v1h-1M116 62h1v1h-1M31 63h1v1h-1M45 63h1v1h-1M57 63h1v1h-1"/><path fill="#006300" d="M22 0h1v1h-1M23 0h1v1h-1M24 0h1v1h-1M25 0h1v1h-1M43 0h1v1h-1M78 0h1v1h-1M83 0h1v1h-1M90 0h1v1h-1M105 0h1v1h-1M113 0h1v1h-1M117 0h1v1h-1M126 0h1v1h-1M11 1h1v1h-1M19 1h1v1h-1M36 1h1v1h-1M57 1h1v1h-1M70 1h1v1h-1M77 1h1v1h-1M92 1h1v1h-1M93 1h1v1h-1M26 2h1v1h-1M32 2h1v1h-1M49 2h1v1h-1M72 2h1v1h-1M82 2h1v1h-1M110 2h1v1h-1M4 3h1v1h-1M37 3h1v1h-1M48 3h1v1h-1M49 3h1v1h-1M72 3h1v1h-1M81 3h1v1h-1M15 4h1v1h-1M21 4h1v1h-1M26 4h1v1h-1M29 4h1v1h-1M32 4h1v1h-1M36 4h1v1h-1M59 4h1v1h-1M67 4h1v1h-1M101 4h1v1h-1M120 4h1v1h-1M121 4h1v1h-1M1 5h1v1h-1M17 5h1v1h-1M28 5h1v1h-1M34 5h1v1h-1M86 5h1v1h-1M94 5h1v1h-1M104 5h1v1h-1M127 5h1v1h-1M11 6h1v1h-1M13 6h1v1h-1M24 6h1v1h-1M41 6h1v1h-1M62 6h1v1h-1M81 6h1v1h-1M112 6h1v1h-1M120 6h1v1h-1M9 7h1v1h-1M13 7h1v1h-1M16 7h1v1h-1M34 7h1v1h-1M37 7h1v1h-1M41 7h1v1h-1M74 7h1v1h-1M89 7h1v1h-1M90 7h1v1h-1M91 7h1v1h-1M122 7h1v1h-1M126 7h1v1h-1M39 8h1v1h-1M66 8h1v1h-1M73 8h1v1h-1M75 8h1v1h-1M84 8h1v1h-1M121 8h1v1h-1M5 9h1v1h-1M42 9h1v1h-1M57 9h1v1h-1M71 9h1v1h-1M99 9h1v1h-1M13 10h1v1h-1M20 10h1v1h-1M98 10h1v1h-1M100 10h1v1h-1M124 10h1v1h-1M12 11h1v1h-1M40 11h1v1h-1M58 11h1v1h-1M68 11h1v1h-1M70 11h1v1h-1M89 11h1v1h-1M97 11h1v1h-1M119 11h1v1h-1M8 12h1v1h-1M9 12h1v1h-1M15 12h1v1h-1M18 12h1v1h-1M25 12h1v1h-1M71 12h1v1h-1M36 13h1v1h-1M96 13h1v1h-1M119 13h1v1h-1M30 14h1v1h-1M32 14h1v1h-1M38 14h1v1h-1M39 14h1v1h-1M56 14h1v1h-1M62 14h1v1h-1M102 14h1v1h-1M125 14h1v1h-1M64 15h1v1h-1M98 15h1v1h-1M111 15h1v1h-1M114 15h1v1h-1M11 16h1v1h-1M18 16h1v1h-1M70 16h1v1h-1M93 16h1v1h-1M36 17h1v1h-1M42 17h1v1h-1M47 17h1v1h-1M67 17h1v1h-1M79 17h1v1h-1M90 17h1v1h-1M107 17h1v1h-1M112 17h1v1h-1M10 18h1v1h-1M76 18h1v1h-1M96 18h1v1h-1M118 18h1v1h-1M36 19h1v1h-1M58 19h1v1h-1M75 19h1v1h-1M88 19h1v1h-1M110 19h1v1h-1M18 20h1v1h-1M52 20h1v1h-1M54 20h1v1h-1M81 20h1v1h-1M102 20h1v1h-1M104 20h1v1h-1M6 21h1v1h-1M63 21h1v1h-1M96 21h1v1h-1M101 21h1v1h-1M51 22h1v1h-1M39 23h1v1h-1M40 23h1v1h-1M57 23h1v1h-1M60 23h1v1h-1M70 23h1v1h-1M94 23h1v1h-1M127 23h1v1h-1M64 24h1v1h-1M71 24h1v1h-1M82 24h1v1h-1M94 24h1v1h-1M100 24h1v1h-1M110 24h1v1h-1M125 24h1v1h-1M36 25h1v1h-1M67 25h1v1h-1M121 25h1v1h-1M2 26h1v1h-1M39 26h1v1h-1M41 26h1v1h-1M46 26h1v1h-1M61 26h1v1h-1M41 27h1v1h-1M43 27h1v1h-1M54 27h1v1h-1M65 27h1v1h-1M74 27h1v1h-1M81 27h1v1h-1M86 27h1v1h-1M21 28h1v1h-1M22 28h1v1h-1M27 28h1v1h-1M35 28h1v1h-1M37 28h1v1h-1M55 28h1v1h-1M91 28h1v1h-1M118 28h1v1h-1M8 29h1v1h-1M13 29h1v1h-1M63 29h1v1h-1M65 29h1v1h-1M96 29h1v1h-1M120 29h1v1h-1M122 29h1v1h-1M0 30h1v1h-1M3 30h1v1h-1M14 30h1v1h-1M40 30h1v1h-1M70 30h1v1h-1M82 30h1v1h-1M97 30h1v1h-1M121 30h1v1h-1M124 30h1v1h-1M2 31h1v1h-1M3 31h1v1h-1M76 31h1v1h-1M81 31h1v1h-1M86 31h1v1h-1M94 31h1v1h-1M96 31h1v1h-1M117 31h1v1h-1M125 31h1v1h-1M40 32h1v1h-1M41 32h1v1h-1M65 32h1v1h-1M72 32h1v1h-1M87 32h1v1h-1M100 32h1v1h-1M2 33h1v1h-1M28 33h1v1h-1M39 33h1v1h-1M40 33h1v1h-1M85 33h1v1h-1M88 33h1v1h-1M90 33h1v1h-1M42 34h1v1h-1M55 34h1v1h-1M63 34h1v1h-1M64 34h1v1h-1M85 34h1v1h-1M86 34h1v1h-1M90 34h1v1h-1M99 34h1v1h-1M125 34h1v1h-1M23 35h1v1h-1M36 35h1v1h-1M68 35h1v1h-1M3 36h1v1h-1M50 36h1v1h-1M57 36h1v1h-1M91 36h1v1h-1M34 37h1v1h-1M66 37h1v1h-1M67 37h1v1h-1M97 37h1v1h-1M106 37h1v1h-1M111 37h1v1h-1M21 38h1v1h-1M30 38h1v1h-1M54 38h1v1h-1M1 39h1v1h-1M7 39h1v1h-1M48 39h1v1h-1M93 39h1v1h-1M110 39h1v1h-1M5 40h1v1h-1M20 40h1v1h-1M36 40h1v1h-1M39 40h1v1h-1M56 40h1v1h-1M79 40h1v1h-1M82 40h1v1h-1M5 41h1v1h-1M8 41h1v1h-1M32 41h1v1h-1M58 41h1v1h-1M64 41h1v1h-1M66 41h1v1h-1M81 41h1v1h-1M97 41h1v1h-1M117 41h1v1h-1M125 41h1v1h-1M17 42h1v1h-1M40 42h1v1h-1M83 42h1v1h-1M94 42h1v1h-1M113 42h1v1h-1M17 43h1v1h-1M19 43h1v1h-1M28 44h1v1h-1M116 44h1v1h-1M122 44h1v1h-1M14 45h1v1h-1M31 45h1v1h-1M36 45h1v1h-1M75 45h1v1h-1M100 45h1v1h-1M103 45h1v1h-1M116 45h1v1h-1M11 46h1v1h-1M20 46h1v1h-1M39 46h1v1h-1M44 46h1v1h-1M92 46h1v1h-1M120 46h1v1h-1M23 47h1v1h-1M31 47h1v1h-1M83 47h1v1h-1M110 47h1v1h-1M18 48h1v1h-1M46 48h1v1h-1M63 48h1v1h-1M76 48h1v1h-1M83 48h1v1h-1M88 48h1v1h-1M122 48h1v1h-1M126 48h1v1h-1M26 49h1v1h-1M82 49h1v1h-1M116 49h1v1h-1M9 50h1v1h-1M38 50h1v1h-1M66 50h1v1h-1M88 50h1v1h-1M100 50h1v1h-1M40 51h1v1h-1M56 51h1v1h-1M73 51h1v1h-1M77 51h1v1h-1M96 51h1v1h-1M124 51h1v1h-1M6 52h1v1h-1M53 52h1v1h-1M69 52h1v1h-1M2 53h1v1h-1M24 53h1v1h-1M74 53h1v1h-1M102 53h1v1h-1M106 53h1v1h-1M123 53h1v1h-1M124 53h1v1h-1M27 54h1v1h-1M28 54h1v1h-1M75 54h1v1h-1M85 54h1v1h-1M19 55h1v1h-1M49 55h1v1h-1M50 55h1v1h-1M63 55h1v1h-1M72 55h1v1h-1M99 55h1v1h-1M109 55h1v1h-1M117 55h1v1h-1M127 55h1v1h-1M10 56h1v1h-1M20 56h1v1h-1M79 56h1v1h-1M112 56h1v1h-1M3 57h1v1h-1M19 57h1v1h-1M62 57h1v1h-1M69 57h1v1h-1M127 57h1v1h-1M3 58h1v1h-1M14 58h1v1h-1M47 58h1v1h-1M73 58h1v1h-1M82 58h1v1h-1M126 58h1v1h-1M42 59h1v1h-1M56 59h1v1h-1M88 59h1v1h-1M91 59h1v1h-1M96 59h1v1h-1M111 59h1v1h-1M37 60h1v1h-1M44 60h1v1h-1M46 60h1v1h-1M58 60h1v1h-1M70 60h1v1h-1M74 60h1v1h-1M101 60h1v1h-1M115 60h1v1h-1M120 60h1v1h-1M92 61h1v1h-1M94 61h1v1h-1M111 61h1v1h-1M119 61h1v1h-1M121 61h1v1h-1M19 62h1v1h-1M33 62h1v1h-1M50 62h1v1h-1M73 62h1v1h-1M79 62h1v1h-1M81 62h1v1h-1M84 62h1v1h-1M99 62h1v1h-1M102 62h1v1h-1M5 63h1v1h-1M10 63h1v1h-1M49 63h1v1h-1M66 63h1v1h-1M67 63h1v1h-1M74 63h1v1h-1M79 63h1v1h-1M81 63h1v1h-1M83 63h1v1h-1M90 63h1v1h-1M105 63h1v1h-1M126 63h1v1h-1"/><path fill="#006b00" d="M2 0h1v1h-1M13 0h1v1h-1M14 0h1v1h-1M21 0h1v1h-1M33 0h1v1h-1M107 0h1v1h-1M116 0h1v1h-1M127 0h1v1h-1M13 1h1v1h-1M54 1h1v1h-1M72 1h1v1h-1M74 1h1v1h-1M82 1h1v1h-1M111 1h1v1h-1M2 2h1v1h-1M8 2h1v1h-1M29 2h1v1h-1M34 2h1v1h-1M35 2h1v1h-1M39 2h1v1h-1M61 2h1v1h-1M70 2h1v1h-1M3 3h1v1h-1M7 3h1v1h-1M8 3h1v1h-1M10 3h1v1h-1M51 3h1v1h-1M63 3h1v1h-1M99 3h1v1h-1M112 3h1v1h-1M114 3h1v1h-1M120 3h1v1h-1M17 4h1v1h-1M60 4h1v1h-1M70 4h1v1h-1M93 4h1v1h-1M99 4h1v1h-1M119 4h1v1h-1M122 4h1v1h-1M18 5h1v1h-1M19 5h1v1h-1M40 5h1v1h-1M50 5h1v1h-1M58 5h1v1h-1M99 5h1v1h-1M5 6h1v1h-1M7 6h1v1h-1M14 6h1v1h-1M42 6h1v1h-1M52 6h1v1h-1M76 6h1v1h-1M82 6h1v1h-1M102 6h1v1h-1M103 6h1v1h-1M108 6h1v1h-1M126 6h1v1h-1M23 7h1v1h-1M30 7h1v1h-1M32 7h1v1h-1M55 7h1v1h-1M93 7h1v1h-1M112 7h1v1h-1M124 7h1v1h-1M5 8h1v1h-1M18 8h1v1h-1M29 8h1v1h-1M36 8h1v1h-1M43 8h1v1h-1M55 8h1v1h-1M100 8h1v1h-1M48 9h1v1h-1M54 9h1v1h-1M105 9h1v1h-1M15 10h1v1h-1M16 10h1v1h-1M28 10h1v1h-1M32 10h1v1h-1M34 10h1v1h-1M65 10h1v1h-1M68 10h1v1h-1M93 10h1v1h-1M111 10h1v1h-1M113 10h1v1h-1M36 11h1v1h-1M66 11h1v1h-1M69 11h1v1h-1M93 11h1v1h-1M100 11h1v1h-1M108 11h1v1h-1M113 11h1v1h-1M118 11h1v1h-1M24 12h1v1h-1M46 12h1v1h-1M47 12h1v1h-1M102 12h1v1h-1M103 12h1v1h-1M3 13h1v1h-1M30 13h1v1h-1M32 13h1v1h-1M54 13h1v1h-1M55 13h1v1h-1M82 13h1v1h-1M120 13h1v1h-1M122 13h1v1h-1M126 13h1v1h-1M40 14h1v1h-1M45 14h1v1h-1M48 14h1v1h-1M55 14h1v1h-1M57 14h1v1h-1M63 14h1v1h-1M86 14h1v1h-1M91 14h1v1h-1M104 14h1v1h-1M106 14h1v1h-1M114 14h1v1h-1M35 15h1v1h-1M66 15h1v1h-1M81 15h1v1h-1M86 15h1v1h-1M126 15h1v1h-1M5 16h1v1h-1M24 16h1v1h-1M34 16h1v1h-1M44 16h1v1h-1M89 16h1v1h-1M91 16h1v1h-1M99 16h1v1h-1M109 16h1v1h-1M13 17h1v1h-1M32 17h1v1h-1M83 17h1v1h-1M93 17h1v1h-1M99 17h1v1h-1M105 17h1v1h-1M110 17h1v1h-1M126 17h1v1h-1M3 18h1v1h-1M8 18h1v1h-1M22 18h1v1h-1M25 18h1v1h-1M31 18h1v1h-1M63 18h1v1h-1M71 18h1v1h-1M98 18h1v1h-1M124 18h1v1h-1M126 18h1v1h-1M127 18h1v1h-1M14 19h1v1h-1M15 19h1v1h-1M19 19h1v1h-1M61 19h1v1h-1M68 19h1v1h-1M85 19h1v1h-1M99 19h1v1h-1M102 19h1v1h-1M116 19h1v1h-1M126 19h1v1h-1M40 20h1v1h-1M57 20h1v1h-1M115 20h1v1h-1M121 20h1v1h-1M8 21h1v1h-1M32 21h1v1h-1M33 21h1v1h-1M40 21h1v1h-1M42 21h1v1h-1M90 21h1v1h-1M92 21h1v1h-1M95 21h1v1h-1M113 21h1v1h-1M121 21h1v1h-1M22 22h1v1h-1M42 22h1v1h-1M47 22h1v1h-1M79 22h1v1h-1M91 22h1v1h-1M28 23h1v1h-1M41 23h1v1h-1M46 23h1v1h-1M117 23h1v1h-1M9 24h1v1h-1M10 24h1v1h-1M17 24h1v1h-1M46 24h1v1h-1M51 24h1v1h-1M54 24h1v1h-1M55 24h1v1h-1M57 24h1v1h-1M61 24h1v1h-1M96 24h1v1h-1M104 24h1v1h-1M117 24h1v1h-1M20 25h1v1h-1M42 25h1v1h-1M27 26h1v1h-1M65 26h1v1h-1M74 26h1v1h-1M121 26h1v1h-1M8 27h1v1h-1M10 27h1v1h-1M18 27h1v1h-1M30 27h1v1h-1M83 27h1v1h-1M112 27h1v1h-1M114 27h1v1h-1M39 28h1v1h-1M65 28h1v1h-1M77 28h1v1h-1M107 28h1v1h-1M113 28h1v1h-1M2 29h1v1h-1M28 29h1v1h-1M42 29h1v1h-1M45 29h1v1h-1M93 29h1v1h-1M99 29h1v1h-1M103 29h1v1h-1M104 29h1v1h-1M127 29h1v1h-1M25 30h1v1h-1M51 30h1v1h-1M77 30h1v1h-1M92 30h1v1h-1M94 30h1v1h-1M98 30h1v1h-1M117 30h1v1h-1M122 30h1v1h-1M0 31h1v1h-1M102 31h1v1h-1M119 31h1v1h-1M3 32h1v1h-1M4 32h1v1h-1M14 32h1v1h-1M29 32h1v1h-1M31 32h1v1h-1M38 32h1v1h-1M39 32h1v1h-1M44 32h1v1h-1M66 32h1v1h-1M74 32h1v1h-1M14 33h1v1h-1M32 33h1v1h-1M34 33h1v1h-1M100 33h1v1h-1M110 33h1v1h-1M113 33h1v1h-1M123 33h1v1h-1M125 33h1v1h-1M1 34h1v1h-1M5 34h1v1h-1M7 34h1v1h-1M11 34h1v1h-1M13 34h1v1h-1M25 34h1v1h-1M46 34h1v1h-1M58 34h1v1h-1M62 34h1v1h-1M77 34h1v1h-1M78 34h1v1h-1M19 35h1v1h-1M29 35h1v1h-1M42 35h1v1h-1M5 36h1v1h-1M55 36h1v1h-1M27 37h1v1h-1M53 37h1v1h-1M54 37h1v1h-1M57 37h1v1h-1M76 37h1v1h-1M93 37h1v1h-1M94 37h1v1h-1M110 37h1v1h-1M112 37h1v1h-1M123 37h1v1h-1M126 37h1v1h-1M1 38h1v1h-1M43 38h1v1h-1M71 38h1v1h-1M72 38h1v1h-1M87 38h1v1h-1M108 38h1v1h-1M14 39h1v1h-1M34 39h1v1h-1M42 39h1v1h-1M50 39h1v1h-1M60 39h1v1h-1M63 39h1v1h-1M65 39h1v1h-1M70 39h1v1h-1M77 39h1v1h-1M79 39h1v1h-1M92 39h1v1h-1M103 39h1v1h-1M109 39h1v1h-1M120 39h1v1h-1M9 40h1v1h-1M26 40h1v1h-1M41 40h1v1h-1M42 40h1v1h-1M102 40h1v1h-1M120 40h1v1h-1M21 41h1v1h-1M25 41h1v1h-1M42 41h1v1h-1M49 41h1v1h-1M67 41h1v1h-1M2 42h1v1h-1M21 42h1v1h-1M23 42h1v1h-1M46 42h1v1h-1M49 42h1v1h-1M53 42h1v1h-1M104 42h1v1h-1M114 42h1v1h-1M125 42h1v1h-1M18 43h1v1h-1M24 43h1v1h-1M26 43h1v1h-1M38 43h1v1h-1M39 43h1v1h-1M42 43h1v1h-1M47 43h1v1h-1M91 43h1v1h-1M102 43h1v1h-1M117 43h1v1h-1M11 44h1v1h-1M16 44h1v1h-1M29 44h1v1h-1M35 44h1v1h-1M36 44h1v1h-1M54 44h1v1h-1M56 44h1v1h-1M62 44h1v1h-1M68 44h1v1h-1M69 44h1v1h-1M35 45h1v1h-1M42 45h1v1h-1M66 45h1v1h-1M81 45h1v1h-1M113 45h1v1h-1M120 45h1v1h-1M2 46h1v1h-1M26 46h1v1h-1M34 46h1v1h-1M87 46h1v1h-1M91 46h1v1h-1M109 46h1v1h-1M124 46h1v1h-1M127 46h1v1h-1M4 47h1v1h-1M61 47h1v1h-1M66 47h1v1h-1M67 47h1v1h-1M75 47h1v1h-1M82 47h1v1h-1M88 47h1v1h-1M1 48h1v1h-1M3 48h1v1h-1M52 48h1v1h-1M65 48h1v1h-1M70 48h1v1h-1M74 48h1v1h-1M86 48h1v1h-1M87 48h1v1h-1M103 48h1v1h-1M110 48h1v1h-1M0 49h1v1h-1M5 49h1v1h-1M14 49h1v1h-1M18 49h1v1h-1M19 49h1v1h-1M62 49h1v1h-1M75 49h1v1h-1M80 49h1v1h-1M16 50h1v1h-1M24 50h1v1h-1M25 50h1v1h-1M27 50h1v1h-1M55 50h1v1h-1M81 50h1v1h-1M82 50h1v1h-1M96 50h1v1h-1M99 50h1v1h-1M103 50h1v1h-1M8 51h1v1h-1M34 51h1v1h-1M35 51h1v1h-1M41 51h1v1h-1M78 51h1v1h-1M79 51h1v1h-1M88 51h1v1h-1M112 51h1v1h-1M46 52h1v1h-1M105 52h1v1h-1M116 52h1v1h-1M10 53h1v1h-1M32 53h1v1h-1M35 53h1v1h-1M43 53h1v1h-1M47 53h1v1h-1M68 53h1v1h-1M95 53h1v1h-1M18 54h1v1h-1M36 54h1v1h-1M37 54h1v1h-1M48 54h1v1h-1M62 54h1v1h-1M124 54h1v1h-1M6 55h1v1h-1M44 55h1v1h-1M66 55h1v1h-1M95 55h1v1h-1M97 55h1v1h-1M104 55h1v1h-1M112 55h1v1h-1M120 55h1v1h-1M124 55h1v1h-1M6 56h1v1h-1M23 56h1v1h-1M70 56h1v1h-1M73 56h1v1h-1M83 56h1v1h-1M106 56h1v1h-1M116 56h1v1h-1M28 57h1v1h-1M35 57h1v1h-1M45 57h1v1h-1M48 57h1v1h-1M73 57h1v1h-1M79 57h1v1h-1M94 57h1v1h-1M98 57h1v1h-1M112 57h1v1h-1M125 57h1v1h-1M6 58h1v1h-1M21 58h1v1h-1M51 58h1v1h-1M65 58h1v1h-1M70 58h1v1h-1M72 58h1v1h-1M77 58h1v1h-1M84 58h1v1h-1M6 59h1v1h-1M31 59h1v1h-1M68 59h1v1h-1M85 59h1v1h-1M116 59h1v1h-1M63 60h1v1h-1M65 60h1v1h-1M81 60h1v1h-1M7 61h1v1h-1M14 61h1v1h-1M22 61h1v1h-1M60 61h1v1h-1M73 61h1v1h-1M81 61h1v1h-1M87 61h1v1h-1M104 61h1v1h-1M117 61h1v1h-1M11 62h1v1h-1M16 62h1v1h-1M29 62h1v1h-1M36 62h1v1h-1M68 62h1v1h-1M119 62h1v1h-1M125 62h1v1h-1M14 63h1v1h-1M51 63h1v1h-1M60 63h1v1h-1M70 63h1v1h-1M89 63h1v1h-1M96 63h1v1h-1"/><path fill="#007300" d="M1 0h1v1h-1M3 0h1v1h-1M6 0h1v1h-1M11 0h1v1h-1M30 0h1v1h-1M50 0h1v1h-1M61 0h1v1h-1M66 0h1v1h-1M81 0h1v1h-1M88 0h1v1h-1M106 0h1v1h-1M120 0h1v1h-1M1 1h1v1h-1M24 1h1v1h-1M26 1h1v1h-1M53 1h1v1h-1M64 1h1v1h-1M67 1h1v1h-1M94 1h1v1h-1M95 1h1v1h-1M120 1h1v1h-1M17 2h1v1h-1M18 2h1v1h-1M53 2h1v1h-1M74 2h1v1h-1M76 2h1v1h-1M87 2h1v1h-1M116 2h1v1h-1M118 2h1v1h-1M119 2h1v1h-1M12 3h1v1h-1M19 3h1v1h-1M40 3h1v1h-1M69 3h1v1h-1M83 3h1v1h-1M90 3h1v1h-1M103 3h1v1h-1M107 3h1v1h-1M11 4h1v1h-1M30 4h1v1h-1M34 4h1v1h-1M35 4h1v1h-1M52 4h1v1h-1M66 4h1v1h-1M85 4h1v1h-1M86 4h1v1h-1M94 4h1v1h-1M100 4h1v1h-1M103 4h1v1h-1M105 4h1v1h-1M111 4h1v1h-1M116 4h1v1h-1M123 4h1v1h-1M126 4h1v1h-1M2 5h1v1h-1M20 5h1v1h-1M31 5h1v1h-1M42 5h1v1h-1M72 5h1v1h-1M82 5h1v1h-1M102 5h1v1h-1M126 5h1v1h-1M4 6h1v1h-1M49 6h1v1h-1M92 6h1v1h-1M116 6h1v1h-1M5 7h1v1h-1M17 7h1v1h-1M25 7h1v1h-1M45 7h1v1h-1M48 7h1v1h-1M54 7h1v1h-1M65 7h1v1h-1M66 7h1v1h-1M73 7h1v1h-1M78 7h1v1h-1M80 7h1v1h-1M98 7h1v1h-1M7 8h1v1h-1M52 8h1v1h-1M64 8h1v1h-1M86 8h1v1h-1M92 8h1v1h-1M98 8h1v1h-1M102 8h1v1h-1M6 9h1v1h-1M11 9h1v1h-1M16 9h1v1h-1M18 9h1v1h-1M24 9h1v1h-1M36 9h1v1h-1M64 9h1v1h-1M73 9h1v1h-1M91 9h1v1h-1M113 9h1v1h-1M117 9h1v1h-1M122 9h1v1h-1M10 10h1v1h-1M42 10h1v1h-1M50 10h1v1h-1M53 10h1v1h-1M58 10h1v1h-1M62 10h1v1h-1M66 10h1v1h-1M72 10h1v1h-1M101 10h1v1h-1M102 10h1v1h-1M123 10h1v1h-1M3 11h1v1h-1M31 11h1v1h-1M32 11h1v1h-1M43 11h1v1h-1M53 11h1v1h-1M74 11h1v1h-1M85 11h1v1h-1M92 11h1v1h-1M3 12h1v1h-1M58 12h1v1h-1M99 12h1v1h-1M114 12h1v1h-1M125 12h1v1h-1M85 13h1v1h-1M110 13h1v1h-1M123 13h1v1h-1M4 14h1v1h-1M7 14h1v1h-1M14 14h1v1h-1M18 14h1v1h-1M27 14h1v1h-1M53 14h1v1h-1M76 14h1v1h-1M94 14h1v1h-1M95 14h1v1h-1M101 14h1v1h-1M18 15h1v1h-1M20 15h1v1h-1M42 15h1v1h-1M61 15h1v1h-1M75 15h1v1h-1M79 15h1v1h-1M118 15h1v1h-1M122 15h1v1h-1M124 15h1v1h-1M3 16h1v1h-1M13 16h1v1h-1M16 16h1v1h-1M53 16h1v1h-1M74 16h1v1h-1M127 16h1v1h-1M5 17h1v1h-1M9 17h1v1h-1M17 17h1v1h-1M19 17h1v1h-1M23 17h1v1h-1M39 17h1v1h-1M44 17h1v1h-1M54 17h1v1h-1M57 17h1v1h-1M66 17h1v1h-1M69 17h1v1h-1M82 17h1v1h-1M88 17h1v1h-1M111 17h1v1h-1M20 18h1v1h-1M42 18h1v1h-1M44 18h1v1h-1M52 18h1v1h-1M55 18h1v1h-1M59 18h1v1h-1M78 18h1v1h-1M94 18h1v1h-1M114 18h1v1h-1M10 19h1v1h-1M34 19h1v1h-1M53 19h1v1h-1M73 19h1v1h-1M77 19h1v1h-1M82 19h1v1h-1M113 19h1v1h-1M20 20h1v1h-1M32 20h1v1h-1M56 20h1v1h-1M75 20h1v1h-1M90 20h1v1h-1M98 20h1v1h-1M109 20h1v1h-1M119 20h1v1h-1M126 20h1v1h-1M0 21h1v1h-1M14 21h1v1h-1M24 21h1v1h-1M61 21h1v1h-1M62 21h1v1h-1M67 21h1v1h-1M76 21h1v1h-1M78 21h1v1h-1M87 21h1v1h-1M107 21h1v1h-1M9 22h1v1h-1M10 22h1v1h-1M11 22h1v1h-1M21 22h1v1h-1M30 22h1v1h-1M35 22h1v1h-1M66 22h1v1h-1M70 22h1v1h-1M84 22h1v1h-1M99 22h1v1h-1M113 22h1v1h-1M117 22h1v1h-1M122 22h1v1h-1M13 23h1v1h-1M14 23h1v1h-1M20 23h1v1h-1M33 23h1v1h-1M55 23h1v1h-1M67 23h1v1h-1M109 23h1v1h-1M34 24h1v1h-1M87 24h1v1h-1M114 24h1v1h-1M124 24h1v1h-1M41 25h1v1h-1M73 25h1v1h-1M74 25h1v1h-1M35 26h1v1h-1M49 26h1v1h-1M59 26h1v1h-1M64 26h1v1h-1M71 26h1v1h-1M86 26h1v1h-1M114 26h1v1h-1M11 27h1v1h-1M17 27h1v1h-1M20 27h1v1h-1M32 27h1v1h-1M35 27h1v1h-1M46 27h1v1h-1M76 27h1v1h-1M103 27h1v1h-1M117 27h1v1h-1M126 27h1v1h-1M1 28h1v1h-1M8 28h1v1h-1M16 28h1v1h-1M17 28h1v1h-1M69 28h1v1h-1M88 28h1v1h-1M93 28h1v1h-1M95 28h1v1h-1M98 28h1v1h-1M101 28h1v1h-1M102 28h1v1h-1M121 28h1v1h-1M125 28h1v1h-1M18 29h1v1h-1M33 29h1v1h-1M36 29h1v1h-1M58 29h1v1h-1M66 29h1v1h-1M123 29h1v1h-1M60 30h1v1h-1M73 30h1v1h-1M88 30h1v1h-1M103 30h1v1h-1M111 30h1v1h-1M12 31h1v1h-1M58 31h1v1h-1M70 31h1v1h-1M112 31h1v1h-1M5 32h1v1h-1M12 32h1v1h-1M33 32h1v1h-1M83 32h1v1h-1M104 32h1v1h-1M105 32h1v1h-1M124 32h1v1h-1M49 33h1v1h-1M91 33h1v1h-1M92 33h1v1h-1M97 33h1v1h-1M0 34h1v1h-1M12 34h1v1h-1M14 34h1v1h-1M84 34h1v1h-1M100 34h1v1h-1M101 34h1v1h-1M123 34h1v1h-1M1 35h1v1h-1M8 35h1v1h-1M28 35h1v1h-1M49 35h1v1h-1M105 35h1v1h-1M12 36h1v1h-1M32 36h1v1h-1M36 36h1v1h-1M49 36h1v1h-1M92 36h1v1h-1M105 36h1v1h-1M118 36h1v1h-1M21 37h1v1h-1M28 37h1v1h-1M39 37h1v1h-1M47 37h1v1h-1M49 37h1v1h-1M52 37h1v1h-1M59 37h1v1h-1M65 37h1v1h-1M117 37h1v1h-1M125 37h1v1h-1M17 38h1v1h-1M23 38h1v1h-1M26 38h1v1h-1M96 38h1v1h-1M125 38h1v1h-1M27 39h1v1h-1M29 39h1v1h-1M56 39h1v1h-1M108 39h1v1h-1M115 39h1v1h-1M127 39h1v1h-1M3 40h1v1h-1M22 40h1v1h-1M29 40h1v1h-1M35 40h1v1h-1M60 40h1v1h-1M61 40h1v1h-1M71 40h1v1h-1M110 40h1v1h-1M112 40h1v1h-1M33 41h1v1h-1M38 41h1v1h-1M40 41h1v1h-1M47 41h1v1h-1M60 41h1v1h-1M88 41h1v1h-1M103 41h1v1h-1M111 41h1v1h-1M22 42h1v1h-1M34 42h1v1h-1M39 42h1v1h-1M81 42h1v1h-1M88 42h1v1h-1M98 42h1v1h-1M117 42h1v1h-1M126 42h1v1h-1M16 43h1v1h-1M22 43h1v1h-1M23 43h1v1h-1M29 43h1v1h-1M60 43h1v1h-1M63 43h1v1h-1M66 43h1v1h-1M73 43h1v1h-1M89 43h1v1h-1M97 43h1v1h-1M24 44h1v1h-1M31 44h1v1h-1M42 44h1v1h-1M52 44h1v1h-1M67 44h1v1h-1M100 44h1v1h-1M101 44h1v1h-1M105 44h1v1h-1M106 44h1v1h-1M121 44h1v1h-1M51 45h1v1h-1M57 45h1v1h-1M79 45h1v1h-1M87 45h1v1h-1M101 45h1v1h-1M124 45h1v1h-1M10 46h1v1h-1M37 46h1v1h-1M66 46h1v1h-1M113 46h1v1h-1M116 46h1v1h-1M27 47h1v1h-1M30 47h1v1h-1M40 47h1v1h-1M80 47h1v1h-1M87 47h1v1h-1M102 47h1v1h-1M112 47h1v1h-1M122 47h1v1h-1M24 48h1v1h-1M36 48h1v1h-1M54 48h1v1h-1M55 48h1v1h-1M57 48h1v1h-1M58 48h1v1h-1M66 48h1v1h-1M81 48h1v1h-1M84 48h1v1h-1M111 48h1v1h-1M113 48h1v1h-1M3 49h1v1h-1M6 49h1v1h-1M59 49h1v1h-1M68 49h1v1h-1M103 49h1v1h-1M106 49h1v1h-1M117 49h1v1h-1M118 49h1v1h-1M42 50h1v1h-1M45 50h1v1h-1M72 50h1v1h-1M73 50h1v1h-1M91 50h1v1h-1M92 50h1v1h-1M111 50h1v1h-1M113 50h1v1h-1M120 50h1v1h-1M125 50h1v1h-1M7 51h1v1h-1M20 51h1v1h-1M21 51h1v1h-1M22 51h1v1h-1M28 51h1v1h-1M84 51h1v1h-1M101 51h1v1h-1M110 51h1v1h-1M119 51h1v1h-1M127 51h1v1h-1M23 52h1v1h-1M32 52h1v1h-1M42 52h1v1h-1M0 53h1v1h-1M19 53h1v1h-1M30 53h1v1h-1M40 53h1v1h-1M48 53h1v1h-1M60 53h1v1h-1M67 53h1v1h-1M69 53h1v1h-1M70 53h1v1h-1M75 53h1v1h-1M77 53h1v1h-1M79 53h1v1h-1M84 53h1v1h-1M87 53h1v1h-1M118 53h1v1h-1M122 53h1v1h-1M31 54h1v1h-1M39 54h1v1h-1M42 54h1v1h-1M45 54h1v1h-1M51 54h1v1h-1M53 54h1v1h-1M63 54h1v1h-1M81 54h1v1h-1M94 54h1v1h-1M99 54h1v1h-1M101 54h1v1h-1M126 54h1v1h-1M14 55h1v1h-1M56 55h1v1h-1M71 55h1v1h-1M76 55h1v1h-1M96 55h1v1h-1M102 55h1v1h-1M110 55h1v1h-1M0 56h1v1h-1M55 56h1v1h-1M63 56h1v1h-1M68 56h1v1h-1M89 56h1v1h-1M98 56h1v1h-1M109 56h1v1h-1M119 56h1v1h-1M125 56h1v1h-1M11 57h1v1h-1M49 57h1v1h-1M51 57h1v1h-1M57 57h1v1h-1M77 57h1v1h-1M87 57h1v1h-1M89 57h1v1h-1M2 58h1v1h-1M32 58h1v1h-1M33 58h1v1h-1M58 58h1v1h-1M95 58h1v1h-1M100 58h1v1h-1M106 58h1v1h-1M49 59h1v1h-1M58 59h1v1h-1M60 59h1v1h-1M69 59h1v1h-1M99 59h1v1h-1M112 59h1v1h-1M5 60h1v1h-1M10 60h1v1h-1M33 60h1v1h-1M40 60h1v1h-1M73 60h1v1h-1M79 60h1v1h-1M112 60h1v1h-1M1 61h1v1h-1M20 61h1v1h-1M35 61h1v1h-1M41 61h1v1h-1M53 61h1v1h-1M91 61h1v1h-1M108 61h1v1h-1M120 61h1v1h-1M122 61h1v1h-1M18 62h1v1h-1M20 62h1v1h-1M39 62h1v1h-1M46 62h1v1h-1M91 62h1v1h-1M94 62h1v1h-1M124 62h1v1h-1M126 62h1v1h-1M50 63h1v1h-1M52 63h1v1h-1M86 63h1v1h-1M91 63h1v1h-1M92 63h1v1h-1M107 63h1v1h-1M108 63h1v1h-1"/><path fill="#007b00" d="M10 0h1v1h-1M35 0h1v1h-1M51 0h1v1h-1M60 0h1v1h-1M64 0h1v1h-1M65 0h1v1h-1M72 0h1v1h-1M82 0h1v1h-1M84 0h1v1h-1M91 0h1v1h-1M111 0h1v1h-1M20 1h1v1h-1M23 1h1v1h-1M30 1h1v1h-1M38 1h1v1h-1M43 1h1v1h-1M49 1h1v1h-1M55 1h1v1h-1M84 1h1v1h-1M88 1h1v1h-1M103 1h1v1h-1M104 1h1v1h-1M105 1h1v1h-1M107 1h1v1h-1M0 2h1v1h-1M15 2h1v1h-1M25 2h1v1h-1M37 2h1v1h-1M43 2h1v1h-1M57 2h1v1h-1M93 2h1v1h-1M105 2h1v1h-1M122 2h1v1h-1M124 2h1v1h-1M1 3h1v1h-1M20 3h1v1h-1M45 3h1v1h-1M89 3h1v1h-1M0 4h1v1h-1M5 4h1v1h-1M7 4h1v1h-1M37 4h1v1h-1M61 4h1v1h-1M5 5h1v1h-1M13 5h1v1h-1M35 5h1v1h-1M36 5h1v1h-1M46 5h1v1h-1M90 5h1v1h-1M98 5h1v1h-1M117 5h1v1h-1M17 6h1v1h-1M20 6h1v1h-1M26 6h1v1h-1M30 6h1v1h-1M44 6h1v1h-1M63 6h1v1h-1M83 6h1v1h-1M90 6h1v1h-1M105 6h1v1h-1M106 6h1v1h-1M1 7h1v1h-1M12 7h1v1h-1M35 7h1v1h-1M44 7h1v1h-1M47 7h1v1h-1M101 7h1v1h-1M105 7h1v1h-1M113 7h1v1h-1M119 7h1v1h-1M2 8h1v1h-1M15 8h1v1h-1M19 8h1v1h-1M42 8h1v1h-1M53 8h1v1h-1M87 8h1v1h-1M109 8h1v1h-1M112 8h1v1h-1M117 8h1v1h-1M118 8h1v1h-1M119 8h1v1h-1M3 9h1v1h-1M59 9h1v1h-1M94 9h1v1h-1M112 9h1v1h-1M120 9h1v1h-1M24 10h1v1h-1M29 10h1v1h-1M38 10h1v1h-1M46 10h1v1h-1M69 10h1v1h-1M89 10h1v1h-1M91 10h1v1h-1M108 10h1v1h-1M114 10h1v1h-1M117 10h1v1h-1M7 11h1v1h-1M19 11h1v1h-1M39 11h1v1h-1M49 11h1v1h-1M54 11h1v1h-1M61 11h1v1h-1M75 11h1v1h-1M78 11h1v1h-1M80 11h1v1h-1M90 11h1v1h-1M94 11h1v1h-1M102 11h1v1h-1M116 11h1v1h-1M122 11h1v1h-1M124 11h1v1h-1M11 12h1v1h-1M17 12h1v1h-1M56 12h1v1h-1M59 12h1v1h-1M76 12h1v1h-1M83 12h1v1h-1M91 12h1v1h-1M97 12h1v1h-1M123 12h1v1h-1M20 13h1v1h-1M33 13h1v1h-1M43 13h1v1h-1M48 13h1v1h-1M49 13h1v1h-1M58 13h1v1h-1M64 13h1v1h-1M78 13h1v1h-1M91 13h1v1h-1M106 13h1v1h-1M108 13h1v1h-1M117 13h1v1h-1M118 13h1v1h-1M0 14h1v1h-1M13 14h1v1h-1M23 14h1v1h-1M70 14h1v1h-1M107 14h1v1h-1M122 14h1v1h-1M123 14h1v1h-1M3 15h1v1h-1M28 15h1v1h-1M29 15h1v1h-1M68 15h1v1h-1M73 15h1v1h-1M76 15h1v1h-1M80 15h1v1h-1M83 15h1v1h-1M95 15h1v1h-1M101 15h1v1h-1M23 16h1v1h-1M52 16h1v1h-1M78 16h1v1h-1M101 16h1v1h-1M122 16h1v1h-1M33 17h1v1h-1M55 17h1v1h-1M76 17h1v1h-1M80 17h1v1h-1M98 17h1v1h-1M125 17h1v1h-1M7 18h1v1h-1M11 18h1v1h-1M35 18h1v1h-1M36 18h1v1h-1M37 18h1v1h-1M45 18h1v1h-1M47 18h1v1h-1M53 18h1v1h-1M60 18h1v1h-1M77 18h1v1h-1M86 18h1v1h-1M87 18h1v1h-1M102 18h1v1h-1M115 18h1v1h-1M119 18h1v1h-1M123 18h1v1h-1M2 19h1v1h-1M23 19h1v1h-1M32 19h1v1h-1M56 19h1v1h-1M103 19h1v1h-1M109 19h1v1h-1M21 20h1v1h-1M33 20h1v1h-1M34 20h1v1h-1M38 20h1v1h-1M63 20h1v1h-1M66 20h1v1h-1M83 20h1v1h-1M88 20h1v1h-1M97 20h1v1h-1M112 20h1v1h-1M120 20h1v1h-1M11 21h1v1h-1M28 21h1v1h-1M29 21h1v1h-1M44 21h1v1h-1M46 21h1v1h-1M54 21h1v1h-1M97 21h1v1h-1M102 21h1v1h-1M123 21h1v1h-1M3 22h1v1h-1M7 22h1v1h-1M19 22h1v1h-1M25 22h1v1h-1M37 22h1v1h-1M55 22h1v1h-1M60 22h1v1h-1M76 22h1v1h-1M8 23h1v1h-1M12 23h1v1h-1M26 23h1v1h-1M29 23h1v1h-1M37 23h1v1h-1M52 23h1v1h-1M68 23h1v1h-1M69 23h1v1h-1M73 23h1v1h-1M80 23h1v1h-1M81 23h1v1h-1M82 23h1v1h-1M99 23h1v1h-1M15 24h1v1h-1M33 24h1v1h-1M42 24h1v1h-1M58 24h1v1h-1M85 24h1v1h-1M107 24h1v1h-1M34 25h1v1h-1M53 25h1v1h-1M63 25h1v1h-1M100 25h1v1h-1M108 25h1v1h-1M112 25h1v1h-1M122 25h1v1h-1M123 25h1v1h-1M22 26h1v1h-1M24 26h1v1h-1M30 26h1v1h-1M66 26h1v1h-1M78 26h1v1h-1M80 26h1v1h-1M93 26h1v1h-1M103 26h1v1h-1M106 26h1v1h-1M12 27h1v1h-1M62 27h1v1h-1M63 27h1v1h-1M79 27h1v1h-1M90 27h1v1h-1M91 27h1v1h-1M100 27h1v1h-1M105 27h1v1h-1M9 28h1v1h-1M29 28h1v1h-1M50 28h1v1h-1M57 28h1v1h-1M72 28h1v1h-1M78 28h1v1h-1M96 28h1v1h-1M110 28h1v1h-1M123 28h1v1h-1M6 29h1v1h-1M14 29h1v1h-1M22 29h1v1h-1M32 29h1v1h-1M39 29h1v1h-1M67 29h1v1h-1M86 29h1v1h-1M97 29h1v1h-1M100 29h1v1h-1M111 29h1v1h-1M125 29h1v1h-1M5 30h1v1h-1M9 30h1v1h-1M38 30h1v1h-1M42 30h1v1h-1M47 30h1v1h-1M91 30h1v1h-1M93 30h1v1h-1M105 30h1v1h-1M109 30h1v1h-1M112 30h1v1h-1M115 30h1v1h-1M127 30h1v1h-1M13 31h1v1h-1M18 31h1v1h-1M19 31h1v1h-1M22 31h1v1h-1M35 31h1v1h-1M49 31h1v1h-1M68 31h1v1h-1M71 31h1v1h-1M77 31h1v1h-1M93 31h1v1h-1M107 31h1v1h-1M113 31h1v1h-1M126 31h1v1h-1M6 32h1v1h-1M16 32h1v1h-1M20 32h1v1h-1M21 32h1v1h-1M86 32h1v1h-1M90 32h1v1h-1M91 32h1v1h-1M122 32h1v1h-1M127 32h1v1h-1M4 33h1v1h-1M12 33h1v1h-1M24 33h1v1h-1M26 33h1v1h-1M62 33h1v1h-1M69 33h1v1h-1M73 33h1v1h-1M74 33h1v1h-1M75 33h1v1h-1M76 33h1v1h-1M89 33h1v1h-1M101 33h1v1h-1M106 33h1v1h-1M114 33h1v1h-1M122 33h1v1h-1M28 34h1v1h-1M40 34h1v1h-1M43 34h1v1h-1M47 34h1v1h-1M54 34h1v1h-1M112 34h1v1h-1M121 34h1v1h-1M126 34h1v1h-1M127 34h1v1h-1M11 35h1v1h-1M15 35h1v1h-1M18 35h1v1h-1M43 35h1v1h-1M44 35h1v1h-1M67 35h1v1h-1M87 35h1v1h-1M93 35h1v1h-1M104 35h1v1h-1M109 35h1v1h-1M2 36h1v1h-1M4 36h1v1h-1M11 36h1v1h-1M73 36h1v1h-1M76 36h1v1h-1M102 36h1v1h-1M116 36h1v1h-1M4 37h1v1h-1M9 37h1v1h-1M12 37h1v1h-1M15 37h1v1h-1M24 37h1v1h-1M33 37h1v1h-1M42 37h1v1h-1M75 37h1v1h-1M77 37h1v1h-1M84 37h1v1h-1M85 37h1v1h-1M92 37h1v1h-1M102 37h1v1h-1M62 38h1v1h-1M66 38h1v1h-1M76 38h1v1h-1M84 38h1v1h-1M114 38h1v1h-1M123 38h1v1h-1M2 39h1v1h-1M8 39h1v1h-1M15 39h1v1h-1M18 39h1v1h-1M23 39h1v1h-1M32 39h1v1h-1M33 39h1v1h-1M43 39h1v1h-1M82 39h1v1h-1M125 39h1v1h-1M37 40h1v1h-1M51 40h1v1h-1M59 40h1v1h-1M69 40h1v1h-1M74 40h1v1h-1M78 40h1v1h-1M80 40h1v1h-1M84 40h1v1h-1M98 40h1v1h-1M104 40h1v1h-1M116 40h1v1h-1M127 40h1v1h-1M10 41h1v1h-1M51 41h1v1h-1M65 41h1v1h-1M84 41h1v1h-1M86 41h1v1h-1M87 41h1v1h-1M90 41h1v1h-1M98 41h1v1h-1M24 42h1v1h-1M31 42h1v1h-1M41 42h1v1h-1M50 42h1v1h-1M66 42h1v1h-1M71 42h1v1h-1M72 42h1v1h-1M112 42h1v1h-1M115 42h1v1h-1M118 42h1v1h-1M0 43h1v1h-1M9 43h1v1h-1M20 43h1v1h-1M27 43h1v1h-1M34 43h1v1h-1M37 43h1v1h-1M50 43h1v1h-1M90 43h1v1h-1M106 43h1v1h-1M121 43h1v1h-1M2 44h1v1h-1M8 44h1v1h-1M17 44h1v1h-1M33 44h1v1h-1M37 44h1v1h-1M48 44h1v1h-1M53 44h1v1h-1M66 44h1v1h-1M74 44h1v1h-1M91 44h1v1h-1M112 44h1v1h-1M114 44h1v1h-1M10 45h1v1h-1M16 45h1v1h-1M17 45h1v1h-1M39 45h1v1h-1M40 45h1v1h-1M41 45h1v1h-1M58 45h1v1h-1M109 45h1v1h-1M123 45h1v1h-1M125 45h1v1h-1M9 46h1v1h-1M28 46h1v1h-1M46 46h1v1h-1M60 46h1v1h-1M67 46h1v1h-1M72 46h1v1h-1M86 46h1v1h-1M98 46h1v1h-1M105 46h1v1h-1M111 46h1v1h-1M115 46h1v1h-1M118 46h1v1h-1M123 46h1v1h-1M126 46h1v1h-1M8 47h1v1h-1M32 47h1v1h-1M41 47h1v1h-1M56 47h1v1h-1M59 47h1v1h-1M65 47h1v1h-1M93 47h1v1h-1M99 47h1v1h-1M105 47h1v1h-1M127 47h1v1h-1M11 48h1v1h-1M14 48h1v1h-1M19 48h1v1h-1M26 48h1v1h-1M30 48h1v1h-1M53 48h1v1h-1M99 48h1v1h-1M101 48h1v1h-1M108 48h1v1h-1M124 48h1v1h-1M9 49h1v1h-1M12 49h1v1h-1M54 49h1v1h-1M60 49h1v1h-1M84 49h1v1h-1M111 49h1v1h-1M113 49h1v1h-1M124 49h1v1h-1M32 50h1v1h-1M35 50h1v1h-1M40 50h1v1h-1M60 50h1v1h-1M64 50h1v1h-1M65 50h1v1h-1M68 50h1v1h-1M110 50h1v1h-1M9 51h1v1h-1M12 51h1v1h-1M17 51h1v1h-1M33 51h1v1h-1M58 51h1v1h-1M75 51h1v1h-1M80 51h1v1h-1M1 52h1v1h-1M2 52h1v1h-1M9 52h1v1h-1M13 52h1v1h-1M22 52h1v1h-1M44 52h1v1h-1M56 52h1v1h-1M62 52h1v1h-1M73 52h1v1h-1M4 53h1v1h-1M20 53h1v1h-1M22 53h1v1h-1M26 53h1v1h-1M38 53h1v1h-1M41 53h1v1h-1M58 53h1v1h-1M78 53h1v1h-1M88 53h1v1h-1M101 53h1v1h-1M120 53h1v1h-1M126 53h1v1h-1M10 54h1v1h-1M14 54h1v1h-1M16 54h1v1h-1M33 54h1v1h-1M52 54h1v1h-1M86 54h1v1h-1M98 54h1v1h-1M100 54h1v1h-1M112 54h1v1h-1M125 54h1v1h-1M27 55h1v1h-1M32 55h1v1h-1M53 55h1v1h-1M60 55h1v1h-1M65 55h1v1h-1M103 55h1v1h-1M121 55h1v1h-1M22 56h1v1h-1M34 56h1v1h-1M44 56h1v1h-1M54 56h1v1h-1M57 56h1v1h-1M59 56h1v1h-1M80 56h1v1h-1M23 57h1v1h-1M36 57h1v1h-1M42 57h1v1h-1M82 57h1v1h-1M119 57h1v1h-1M5 58h1v1h-1M18 58h1v1h-1M27 58h1v1h-1M28 58h1v1h-1M42 58h1v1h-1M55 58h1v1h-1M102 58h1v1h-1M110 58h1v1h-1M120 58h1v1h-1M122 58h1v1h-1M2 59h1v1h-1M3 59h1v1h-1M12 59h1v1h-1M28 59h1v1h-1M29 59h1v1h-1M62 59h1v1h-1M92 59h1v1h-1M117 59h1v1h-1M123 59h1v1h-1M11 60h1v1h-1M27 60h1v1h-1M42 60h1v1h-1M49 60h1v1h-1M57 60h1v1h-1M62 60h1v1h-1M69 60h1v1h-1M94 60h1v1h-1M100 60h1v1h-1M113 60h1v1h-1M118 60h1v1h-1M122 60h1v1h-1M5 61h1v1h-1M26 61h1v1h-1M45 61h1v1h-1M58 61h1v1h-1M72 61h1v1h-1M93 61h1v1h-1M103 61h1v1h-1M8 62h1v1h-1M9 62h1v1h-1M12 62h1v1h-1M17 62h1v1h-1M25 62h1v1h-1M74 62h1v1h-1M90 62h1v1h-1M92 62h1v1h-1M98 62h1v1h-1M122 62h1v1h-1M13 63h1v1h-1M15 63h1v1h-1M21 63h1v1h-1M44 63h1v1h-1M63 63h1v1h-1M127 63h1v1h-1"/><path fill="#008c00" d="M4 0h1v1h-1M9 0h1v1h-1M15 0h1v1h-1M45 0h1v1h-1M53 0h1v1h-1M79 0h1v1h-1M92 0h1v1h-1M104 0h1v1h-1M119 0h1v1h-1M8 1h1v1h-1M25 1h1v1h-1M28 1h1v1h-1M50 1h1v1h-1M60 1h1v1h-1M68 1h1v1h-1M79 1h1v1h-1M90 1h1v1h-1M99 1h1v1h-1M3 2h1v1h-1M13 2h1v1h-1M21 2h1v1h-1M28 2h1v1h-1M42 2h1v1h-1M64 2h1v1h-1M79 2h1v1h-1M102 2h1v1h-1M111 2h1v1h-1M52 3h1v1h-1M86 3h1v1h-1M101 3h1v1h-1M126 3h1v1h-1M16 4h1v1h-1M47 4h1v1h-1M49 4h1v1h-1M74 4h1v1h-1M78 4h1v1h-1M81 4h1v1h-1M96 4h1v1h-1M115 4h1v1h-1M14 5h1v1h-1M23 5h1v1h-1M24 5h1v1h-1M27 5h1v1h-1M32 5h1v1h-1M41 5h1v1h-1M54 5h1v1h-1M56 5h1v1h-1M91 5h1v1h-1M95 5h1v1h-1M25 6h1v1h-1M32 6h1v1h-1M58 6h1v1h-1M64 6h1v1h-1M65 6h1v1h-1M71 6h1v1h-1M78 6h1v1h-1M80 6h1v1h-1M115 6h1v1h-1M15 7h1v1h-1M20 7h1v1h-1M27 7h1v1h-1M59 7h1v1h-1M94 7h1v1h-1M102 7h1v1h-1M117 7h1v1h-1M0 8h1v1h-1M1 8h1v1h-1M17 8h1v1h-1M20 8h1v1h-1M25 8h1v1h-1M37 8h1v1h-1M40 8h1v1h-1M46 8h1v1h-1M51 8h1v1h-1M70 8h1v1h-1M76 8h1v1h-1M82 8h1v1h-1M85 8h1v1h-1M106 8h1v1h-1M108 8h1v1h-1M111 8h1v1h-1M115 8h1v1h-1M28 9h1v1h-1M66 9h1v1h-1M72 9h1v1h-1M82 9h1v1h-1M87 9h1v1h-1M23 10h1v1h-1M43 10h1v1h-1M55 10h1v1h-1M56 10h1v1h-1M59 10h1v1h-1M105 10h1v1h-1M118 10h1v1h-1M119 10h1v1h-1M127 10h1v1h-1M11 11h1v1h-1M26 11h1v1h-1M38 11h1v1h-1M45 11h1v1h-1M52 11h1v1h-1M91 11h1v1h-1M105 11h1v1h-1M16 12h1v1h-1M19 12h1v1h-1M35 12h1v1h-1M64 12h1v1h-1M68 12h1v1h-1M74 12h1v1h-1M81 12h1v1h-1M107 12h1v1h-1M109 12h1v1h-1M19 13h1v1h-1M24 13h1v1h-1M37 13h1v1h-1M45 13h1v1h-1M47 13h1v1h-1M76 13h1v1h-1M83 13h1v1h-1M97 13h1v1h-1M99 13h1v1h-1M102 13h1v1h-1M124 13h1v1h-1M10 14h1v1h-1M16 14h1v1h-1M31 14h1v1h-1M66 14h1v1h-1M68 14h1v1h-1M75 14h1v1h-1M96 14h1v1h-1M108 14h1v1h-1M116 14h1v1h-1M119 14h1v1h-1M126 14h1v1h-1M1 15h1v1h-1M10 15h1v1h-1M13 15h1v1h-1M32 15h1v1h-1M40 15h1v1h-1M69 15h1v1h-1M72 15h1v1h-1M102 15h1v1h-1M110 15h1v1h-1M25 16h1v1h-1M32 16h1v1h-1M55 16h1v1h-1M87 16h1v1h-1M96 16h1v1h-1M113 16h1v1h-1M119 16h1v1h-1M11 17h1v1h-1M18 17h1v1h-1M24 17h1v1h-1M102 17h1v1h-1M117 17h1v1h-1M4 18h1v1h-1M15 18h1v1h-1M16 18h1v1h-1M29 18h1v1h-1M32 18h1v1h-1M34 18h1v1h-1M38 18h1v1h-1M39 18h1v1h-1M83 18h1v1h-1M93 18h1v1h-1M95 18h1v1h-1M103 18h1v1h-1M17 19h1v1h-1M20 19h1v1h-1M31 19h1v1h-1M42 19h1v1h-1M44 19h1v1h-1M45 19h1v1h-1M49 19h1v1h-1M71 19h1v1h-1M72 19h1v1h-1M87 19h1v1h-1M94 19h1v1h-1M105 19h1v1h-1M107 19h1v1h-1M119 19h1v1h-1M8 20h1v1h-1M37 20h1v1h-1M61 20h1v1h-1M91 20h1v1h-1M100 20h1v1h-1M105 20h1v1h-1M116 20h1v1h-1M13 21h1v1h-1M18 21h1v1h-1M34 21h1v1h-1M36 21h1v1h-1M55 21h1v1h-1M64 21h1v1h-1M72 21h1v1h-1M88 21h1v1h-1M100 21h1v1h-1M6 22h1v1h-1M14 22h1v1h-1M17 22h1v1h-1M36 22h1v1h-1M39 22h1v1h-1M40 22h1v1h-1M44 22h1v1h-1M85 22h1v1h-1M93 22h1v1h-1M96 22h1v1h-1M34 23h1v1h-1M49 23h1v1h-1M54 23h1v1h-1M112 23h1v1h-1M1 24h1v1h-1M2 24h1v1h-1M22 24h1v1h-1M24 24h1v1h-1M26 24h1v1h-1M48 24h1v1h-1M76 24h1v1h-1M84 24h1v1h-1M92 24h1v1h-1M97 24h1v1h-1M109 24h1v1h-1M10 25h1v1h-1M26 25h1v1h-1M35 25h1v1h-1M65 25h1v1h-1M104 25h1v1h-1M126 25h1v1h-1M4 26h1v1h-1M5 26h1v1h-1M12 26h1v1h-1M14 26h1v1h-1M31 26h1v1h-1M42 26h1v1h-1M43 26h1v1h-1M47 26h1v1h-1M57 26h1v1h-1M62 26h1v1h-1M69 26h1v1h-1M73 26h1v1h-1M84 26h1v1h-1M95 26h1v1h-1M98 26h1v1h-1M107 26h1v1h-1M108 26h1v1h-1M113 26h1v1h-1M116 26h1v1h-1M117 26h1v1h-1M123 26h1v1h-1M13 27h1v1h-1M25 27h1v1h-1M31 27h1v1h-1M37 27h1v1h-1M64 27h1v1h-1M78 27h1v1h-1M102 27h1v1h-1M109 27h1v1h-1M113 27h1v1h-1M123 27h1v1h-1M14 28h1v1h-1M24 28h1v1h-1M48 28h1v1h-1M49 28h1v1h-1M58 28h1v1h-1M71 28h1v1h-1M83 28h1v1h-1M92 28h1v1h-1M97 28h1v1h-1M9 29h1v1h-1M46 29h1v1h-1M49 29h1v1h-1M54 29h1v1h-1M69 29h1v1h-1M106 29h1v1h-1M2 30h1v1h-1M28 30h1v1h-1M53 30h1v1h-1M63 30h1v1h-1M80 30h1v1h-1M114 30h1v1h-1M126 30h1v1h-1M10 31h1v1h-1M11 31h1v1h-1M16 31h1v1h-1M20 31h1v1h-1M48 31h1v1h-1M91 31h1v1h-1M99 31h1v1h-1M101 31h1v1h-1M104 31h1v1h-1M105 31h1v1h-1M109 31h1v1h-1M123 31h1v1h-1M8 32h1v1h-1M25 32h1v1h-1M32 32h1v1h-1M45 32h1v1h-1M52 32h1v1h-1M56 32h1v1h-1M58 32h1v1h-1M69 32h1v1h-1M94 32h1v1h-1M109 32h1v1h-1M111 32h1v1h-1M113 32h1v1h-1M15 33h1v1h-1M27 33h1v1h-1M65 33h1v1h-1M98 33h1v1h-1M107 33h1v1h-1M115 33h1v1h-1M120 33h1v1h-1M121 33h1v1h-1M124 33h1v1h-1M39 34h1v1h-1M60 34h1v1h-1M67 34h1v1h-1M71 34h1v1h-1M87 34h1v1h-1M88 34h1v1h-1M108 34h1v1h-1M12 35h1v1h-1M48 35h1v1h-1M51 35h1v1h-1M60 35h1v1h-1M75 35h1v1h-1M79 35h1v1h-1M81 35h1v1h-1M118 35h1v1h-1M120 35h1v1h-1M52 36h1v1h-1M83 36h1v1h-1M97 36h1v1h-1M100 36h1v1h-1M115 36h1v1h-1M0 37h1v1h-1M13 37h1v1h-1M41 37h1v1h-1M55 37h1v1h-1M86 37h1v1h-1M105 37h1v1h-1M113 37h1v1h-1M118 37h1v1h-1M120 37h1v1h-1M8 38h1v1h-1M27 38h1v1h-1M31 38h1v1h-1M41 38h1v1h-1M81 38h1v1h-1M91 38h1v1h-1M110 38h1v1h-1M22 39h1v1h-1M44 39h1v1h-1M45 39h1v1h-1M46 39h1v1h-1M47 39h1v1h-1M57 39h1v1h-1M64 39h1v1h-1M66 39h1v1h-1M21 40h1v1h-1M25 40h1v1h-1M30 40h1v1h-1M40 40h1v1h-1M67 40h1v1h-1M76 40h1v1h-1M95 40h1v1h-1M108 40h1v1h-1M19 41h1v1h-1M37 41h1v1h-1M41 41h1v1h-1M45 41h1v1h-1M54 41h1v1h-1M57 41h1v1h-1M85 41h1v1h-1M96 41h1v1h-1M99 41h1v1h-1M9 42h1v1h-1M11 42h1v1h-1M15 42h1v1h-1M33 42h1v1h-1M56 42h1v1h-1M57 42h1v1h-1M95 42h1v1h-1M4 43h1v1h-1M25 43h1v1h-1M35 43h1v1h-1M58 43h1v1h-1M72 43h1v1h-1M78 43h1v1h-1M103 43h1v1h-1M115 43h1v1h-1M27 44h1v1h-1M32 44h1v1h-1M47 44h1v1h-1M55 44h1v1h-1M61 44h1v1h-1M70 44h1v1h-1M76 44h1v1h-1M82 44h1v1h-1M83 44h1v1h-1M86 44h1v1h-1M117 44h1v1h-1M118 44h1v1h-1M9 45h1v1h-1M12 45h1v1h-1M20 45h1v1h-1M25 45h1v1h-1M64 45h1v1h-1M65 45h1v1h-1M77 45h1v1h-1M92 45h1v1h-1M96 45h1v1h-1M98 45h1v1h-1M22 46h1v1h-1M30 46h1v1h-1M42 46h1v1h-1M65 46h1v1h-1M73 46h1v1h-1M83 46h1v1h-1M84 46h1v1h-1M90 46h1v1h-1M93 46h1v1h-1M3 47h1v1h-1M38 47h1v1h-1M39 47h1v1h-1M58 47h1v1h-1M76 47h1v1h-1M77 47h1v1h-1M89 47h1v1h-1M111 47h1v1h-1M51 48h1v1h-1M56 48h1v1h-1M80 48h1v1h-1M94 48h1v1h-1M105 48h1v1h-1M114 48h1v1h-1M121 48h1v1h-1M123 48h1v1h-1M127 48h1v1h-1M1 49h1v1h-1M30 49h1v1h-1M78 49h1v1h-1M83 49h1v1h-1M88 49h1v1h-1M98 49h1v1h-1M104 49h1v1h-1M109 49h1v1h-1M1 50h1v1h-1M7 50h1v1h-1M10 50h1v1h-1M17 50h1v1h-1M22 50h1v1h-1M36 50h1v1h-1M74 50h1v1h-1M76 50h1v1h-1M78 50h1v1h-1M80 50h1v1h-1M85 50h1v1h-1M105 50h1v1h-1M124 50h1v1h-1M15 51h1v1h-1M26 51h1v1h-1M64 51h1v1h-1M67 51h1v1h-1M69 51h1v1h-1M70 51h1v1h-1M82 51h1v1h-1M106 51h1v1h-1M107 51h1v1h-1M108 51h1v1h-1M126 51h1v1h-1M14 52h1v1h-1M51 52h1v1h-1M59 52h1v1h-1M88 52h1v1h-1M90 52h1v1h-1M91 52h1v1h-1M107 52h1v1h-1M113 52h1v1h-1M1 53h1v1h-1M9 53h1v1h-1M42 53h1v1h-1M44 53h1v1h-1M46 53h1v1h-1M49 53h1v1h-1M51 53h1v1h-1M64 53h1v1h-1M86 53h1v1h-1M99 53h1v1h-1M117 53h1v1h-1M0 54h1v1h-1M1 54h1v1h-1M22 54h1v1h-1M30 54h1v1h-1M50 54h1v1h-1M57 54h1v1h-1M59 54h1v1h-1M87 54h1v1h-1M108 54h1v1h-1M118 54h1v1h-1M10 55h1v1h-1M18 55h1v1h-1M20 55h1v1h-1M29 55h1v1h-1M31 55h1v1h-1M52 55h1v1h-1M64 55h1v1h-1M74 55h1v1h-1M75 55h1v1h-1M85 55h1v1h-1M106 55h1v1h-1M13 56h1v1h-1M15 56h1v1h-1M40 56h1v1h-1M50 56h1v1h-1M53 56h1v1h-1M56 56h1v1h-1M60 56h1v1h-1M64 56h1v1h-1M66 56h1v1h-1M95 56h1v1h-1M101 56h1v1h-1M104 56h1v1h-1M105 56h1v1h-1M113 56h1v1h-1M118 56h1v1h-1M122 56h1v1h-1M124 56h1v1h-1M1 57h1v1h-1M7 57h1v1h-1M8 57h1v1h-1M16 57h1v1h-1M60 57h1v1h-1M106 57h1v1h-1M110 57h1v1h-1M118 57h1v1h-1M120 57h1v1h-1M124 57h1v1h-1M20 58h1v1h-1M24 58h1v1h-1M35 58h1v1h-1M37 58h1v1h-1M60 58h1v1h-1M75 58h1v1h-1M96 58h1v1h-1M123 58h1v1h-1M1 59h1v1h-1M4 59h1v1h-1M21 59h1v1h-1M24 59h1v1h-1M38 59h1v1h-1M48 59h1v1h-1M53 59h1v1h-1M54 59h1v1h-1M71 59h1v1h-1M73 59h1v1h-1M125 59h1v1h-1M127 59h1v1h-1M3 60h1v1h-1M15 60h1v1h-1M17 60h1v1h-1M21 60h1v1h-1M47 60h1v1h-1M50 60h1v1h-1M60 60h1v1h-1M86 60h1v1h-1M108 60h1v1h-1M116 60h1v1h-1M126 60h1v1h-1M13 61h1v1h-1M31 61h1v1h-1M32 61h1v1h-1M68 61h1v1h-1M71 61h1v1h-1M126 61h1v1h-1M37 62h1v1h-1M52 62h1v1h-1M77 62h1v1h-1M82 62h1v1h-1M104 62h1v1h-1M123 62h1v1h-1M1 63h1v1h-1M11 63h1v1h-1M20 63h1v1h-1M26 63h1v1h-1M37 63h1v1h-1M64 63h1v1h-1M95 63h1v1h-1M125 63h1v1h-1"/><path fill="#009400" d="M17 0h1v1h-1M41 0h1v1h-1M96 0h1v1h-1M110 0h1v1h-1M7 1h1v1h-1M35 1h1v1h-1M46 1h1v1h-1M87 1h1v1h-1M109 1h1v1h-1M119 1h1v1h-1M126 1h1v1h-1M52 2h1v1h-1M58 2h1v1h-1M60 2h1v1h-1M91 2h1v1h-1M92 2h1v1h-1M94 2h1v1h-1M107 2h1v1h-1M123 2h1v1h-1M125 2h1v1h-1M2 3h1v1h-1M30 3h1v1h-1M39 3h1v1h-1M41 3h1v1h-1M55 3h1v1h-1M66 3h1v1h-1M71 3h1v1h-1M75 3h1v1h-1M98 3h1v1h-1M6 4h1v1h-1M8 4h1v1h-1M12 4h1v1h-1M14 4h1v1h-1M18 4h1v1h-1M38 4h1v1h-1M45 4h1v1h-1M56 4h1v1h-1M71 4h1v1h-1M72 4h1v1h-1M95 4h1v1h-1M108 4h1v1h-1M110 4h1v1h-1M118 4h1v1h-1M16 5h1v1h-1M21 5h1v1h-1M44 5h1v1h-1M49 5h1v1h-1M64 5h1v1h-1M83 5h1v1h-1M103 5h1v1h-1M114 5h1v1h-1M1 6h1v1h-1M6 6h1v1h-1M22 6h1v1h-1M29 6h1v1h-1M31 6h1v1h-1M38 6h1v1h-1M51 6h1v1h-1M60 6h1v1h-1M79 6h1v1h-1M84 6h1v1h-1M85 6h1v1h-1M95 6h1v1h-1M97 6h1v1h-1M121 6h1v1h-1M58 7h1v1h-1M61 7h1v1h-1M76 7h1v1h-1M11 8h1v1h-1M22 8h1v1h-1M31 8h1v1h-1M35 8h1v1h-1M54 8h1v1h-1M56 8h1v1h-1M62 8h1v1h-1M69 8h1v1h-1M72 8h1v1h-1M74 8h1v1h-1M93 8h1v1h-1M114 8h1v1h-1M125 8h1v1h-1M10 9h1v1h-1M20 9h1v1h-1M39 9h1v1h-1M47 9h1v1h-1M63 9h1v1h-1M110 9h1v1h-1M21 10h1v1h-1M44 10h1v1h-1M79 10h1v1h-1M115 10h1v1h-1M121 10h1v1h-1M2 11h1v1h-1M8 11h1v1h-1M44 11h1v1h-1M82 11h1v1h-1M88 11h1v1h-1M7 12h1v1h-1M12 12h1v1h-1M28 12h1v1h-1M45 12h1v1h-1M80 12h1v1h-1M88 12h1v1h-1M98 12h1v1h-1M119 12h1v1h-1M50 13h1v1h-1M66 13h1v1h-1M73 13h1v1h-1M84 13h1v1h-1M12 14h1v1h-1M17 14h1v1h-1M42 14h1v1h-1M74 14h1v1h-1M89 14h1v1h-1M97 14h1v1h-1M100 14h1v1h-1M115 14h1v1h-1M8 15h1v1h-1M9 15h1v1h-1M16 15h1v1h-1M37 15h1v1h-1M39 15h1v1h-1M47 15h1v1h-1M52 15h1v1h-1M53 15h1v1h-1M63 15h1v1h-1M65 15h1v1h-1M74 15h1v1h-1M84 15h1v1h-1M112 15h1v1h-1M120 15h1v1h-1M15 16h1v1h-1M22 16h1v1h-1M26 16h1v1h-1M36 16h1v1h-1M48 16h1v1h-1M49 16h1v1h-1M60 16h1v1h-1M77 16h1v1h-1M86 16h1v1h-1M106 16h1v1h-1M110 16h1v1h-1M10 17h1v1h-1M14 17h1v1h-1M60 17h1v1h-1M68 17h1v1h-1M92 17h1v1h-1M97 17h1v1h-1M113 17h1v1h-1M114 17h1v1h-1M2 18h1v1h-1M13 18h1v1h-1M17 18h1v1h-1M28 18h1v1h-1M57 18h1v1h-1M64 18h1v1h-1M82 18h1v1h-1M105 18h1v1h-1M111 18h1v1h-1M113 18h1v1h-1M1 19h1v1h-1M18 19h1v1h-1M48 19h1v1h-1M86 19h1v1h-1M125 19h1v1h-1M127 19h1v1h-1M5 20h1v1h-1M6 20h1v1h-1M23 20h1v1h-1M26 20h1v1h-1M27 20h1v1h-1M36 20h1v1h-1M44 20h1v1h-1M46 20h1v1h-1M65 20h1v1h-1M71 20h1v1h-1M85 20h1v1h-1M92 20h1v1h-1M118 20h1v1h-1M9 21h1v1h-1M25 21h1v1h-1M26 21h1v1h-1M43 21h1v1h-1M56 21h1v1h-1M68 21h1v1h-1M73 21h1v1h-1M74 21h1v1h-1M104 21h1v1h-1M54 22h1v1h-1M58 22h1v1h-1M78 22h1v1h-1M81 22h1v1h-1M90 22h1v1h-1M107 22h1v1h-1M116 22h1v1h-1M1 23h1v1h-1M16 23h1v1h-1M27 23h1v1h-1M50 23h1v1h-1M51 23h1v1h-1M83 23h1v1h-1M85 23h1v1h-1M87 23h1v1h-1M93 23h1v1h-1M101 23h1v1h-1M118 23h1v1h-1M124 23h1v1h-1M3 24h1v1h-1M28 24h1v1h-1M35 24h1v1h-1M40 24h1v1h-1M41 24h1v1h-1M69 24h1v1h-1M79 24h1v1h-1M90 24h1v1h-1M93 24h1v1h-1M95 24h1v1h-1M15 25h1v1h-1M16 25h1v1h-1M18 25h1v1h-1M19 25h1v1h-1M21 25h1v1h-1M44 25h1v1h-1M46 25h1v1h-1M75 25h1v1h-1M78 25h1v1h-1M79 25h1v1h-1M92 25h1v1h-1M93 25h1v1h-1M97 25h1v1h-1M102 25h1v1h-1M114 25h1v1h-1M13 26h1v1h-1M36 26h1v1h-1M37 26h1v1h-1M52 26h1v1h-1M58 26h1v1h-1M97 26h1v1h-1M101 26h1v1h-1M0 27h1v1h-1M34 27h1v1h-1M38 27h1v1h-1M59 27h1v1h-1M77 27h1v1h-1M92 27h1v1h-1M110 27h1v1h-1M116 27h1v1h-1M118 27h1v1h-1M11 28h1v1h-1M28 28h1v1h-1M31 28h1v1h-1M60 28h1v1h-1M74 28h1v1h-1M89 28h1v1h-1M106 28h1v1h-1M112 28h1v1h-1M3 29h1v1h-1M15 29h1v1h-1M30 29h1v1h-1M43 29h1v1h-1M87 29h1v1h-1M109 29h1v1h-1M117 29h1v1h-1M4 30h1v1h-1M15 30h1v1h-1M27 30h1v1h-1M35 30h1v1h-1M37 30h1v1h-1M39 30h1v1h-1M57 30h1v1h-1M67 30h1v1h-1M78 30h1v1h-1M96 30h1v1h-1M104 30h1v1h-1M5 31h1v1h-1M21 31h1v1h-1M38 31h1v1h-1M53 31h1v1h-1M56 31h1v1h-1M62 31h1v1h-1M64 31h1v1h-1M80 31h1v1h-1M84 31h1v1h-1M87 31h1v1h-1M24 32h1v1h-1M30 32h1v1h-1M73 32h1v1h-1M77 32h1v1h-1M79 32h1v1h-1M93 32h1v1h-1M95 32h1v1h-1M20 33h1v1h-1M43 33h1v1h-1M48 33h1v1h-1M52 33h1v1h-1M61 33h1v1h-1M67 33h1v1h-1M79 33h1v1h-1M103 33h1v1h-1M108 33h1v1h-1M4 34h1v1h-1M6 34h1v1h-1M17 34h1v1h-1M20 34h1v1h-1M24 34h1v1h-1M56 34h1v1h-1M69 34h1v1h-1M76 34h1v1h-1M103 34h1v1h-1M107 34h1v1h-1M122 34h1v1h-1M13 35h1v1h-1M16 35h1v1h-1M21 35h1v1h-1M40 35h1v1h-1M57 35h1v1h-1M80 35h1v1h-1M83 35h1v1h-1M112 35h1v1h-1M114 35h1v1h-1M115 35h1v1h-1M122 35h1v1h-1M124 35h1v1h-1M125 35h1v1h-1M0 36h1v1h-1M39 36h1v1h-1M41 36h1v1h-1M68 36h1v1h-1M101 36h1v1h-1M117 36h1v1h-1M120 36h1v1h-1M17 37h1v1h-1M19 37h1v1h-1M32 37h1v1h-1M35 37h1v1h-1M50 37h1v1h-1M99 37h1v1h-1M103 37h1v1h-1M6 38h1v1h-1M48 38h1v1h-1M50 38h1v1h-1M58 38h1v1h-1M68 38h1v1h-1M69 38h1v1h-1M94 38h1v1h-1M104 38h1v1h-1M106 38h1v1h-1M124 38h1v1h-1M55 39h1v1h-1M59 39h1v1h-1M101 39h1v1h-1M114 39h1v1h-1M4 40h1v1h-1M7 40h1v1h-1M43 40h1v1h-1M58 40h1v1h-1M64 40h1v1h-1M75 40h1v1h-1M81 40h1v1h-1M91 40h1v1h-1M100 40h1v1h-1M115 40h1v1h-1M119 40h1v1h-1M0 41h1v1h-1M3 41h1v1h-1M24 41h1v1h-1M30 41h1v1h-1M80 41h1v1h-1M100 41h1v1h-1M106 41h1v1h-1M108 41h1v1h-1M127 41h1v1h-1M1 42h1v1h-1M7 42h1v1h-1M8 42h1v1h-1M26 42h1v1h-1M43 42h1v1h-1M87 42h1v1h-1M99 42h1v1h-1M100 42h1v1h-1M103 42h1v1h-1M109 42h1v1h-1M122 42h1v1h-1M54 43h1v1h-1M55 43h1v1h-1M59 43h1v1h-1M76 43h1v1h-1M96 43h1v1h-1M101 43h1v1h-1M120 43h1v1h-1M124 43h1v1h-1M41 44h1v1h-1M77 44h1v1h-1M85 44h1v1h-1M92 44h1v1h-1M94 44h1v1h-1M123 44h1v1h-1M124 44h1v1h-1M5 45h1v1h-1M37 45h1v1h-1M38 45h1v1h-1M67 45h1v1h-1M70 45h1v1h-1M72 45h1v1h-1M99 45h1v1h-1M108 45h1v1h-1M118 45h1v1h-1M14 46h1v1h-1M23 46h1v1h-1M43 46h1v1h-1M54 46h1v1h-1M57 46h1v1h-1M89 46h1v1h-1M104 46h1v1h-1M108 46h1v1h-1M125 46h1v1h-1M12 47h1v1h-1M18 47h1v1h-1M21 47h1v1h-1M43 47h1v1h-1M72 47h1v1h-1M78 47h1v1h-1M79 47h1v1h-1M85 47h1v1h-1M118 47h1v1h-1M119 47h1v1h-1M123 47h1v1h-1M125 47h1v1h-1M12 48h1v1h-1M20 48h1v1h-1M28 48h1v1h-1M35 48h1v1h-1M38 48h1v1h-1M43 48h1v1h-1M7 49h1v1h-1M10 49h1v1h-1M45 49h1v1h-1M53 49h1v1h-1M57 49h1v1h-1M66 49h1v1h-1M71 49h1v1h-1M87 49h1v1h-1M95 49h1v1h-1M50 50h1v1h-1M56 50h1v1h-1M108 50h1v1h-1M114 50h1v1h-1M117 50h1v1h-1M123 50h1v1h-1M0 51h1v1h-1M37 51h1v1h-1M42 51h1v1h-1M50 51h1v1h-1M60 51h1v1h-1M68 51h1v1h-1M81 51h1v1h-1M87 51h1v1h-1M94 51h1v1h-1M111 51h1v1h-1M117 51h1v1h-1M120 51h1v1h-1M28 52h1v1h-1M29 52h1v1h-1M41 52h1v1h-1M47 52h1v1h-1M54 52h1v1h-1M67 52h1v1h-1M68 52h1v1h-1M76 52h1v1h-1M87 52h1v1h-1M97 52h1v1h-1M103 52h1v1h-1M111 52h1v1h-1M112 52h1v1h-1M121 52h1v1h-1M122 52h1v1h-1M123 52h1v1h-1M127 52h1v1h-1M3 53h1v1h-1M13 53h1v1h-1M45 53h1v1h-1M55 53h1v1h-1M73 53h1v1h-1M83 53h1v1h-1M91 53h1v1h-1M92 53h1v1h-1M97 53h1v1h-1M98 53h1v1h-1M105 53h1v1h-1M108 53h1v1h-1M111 53h1v1h-1M12 54h1v1h-1M24 54h1v1h-1M26 54h1v1h-1M43 54h1v1h-1M46 54h1v1h-1M54 54h1v1h-1M77 54h1v1h-1M88 54h1v1h-1M89 54h1v1h-1M90 54h1v1h-1M97 54h1v1h-1M114 54h1v1h-1M121 54h1v1h-1M122 54h1v1h-1M8 55h1v1h-1M36 55h1v1h-1M41 55h1v1h-1M42 55h1v1h-1M47 55h1v1h-1M59 55h1v1h-1M67 55h1v1h-1M93 55h1v1h-1M108 55h1v1h-1M115 55h1v1h-1M116 55h1v1h-1M118 55h1v1h-1M8 56h1v1h-1M21 56h1v1h-1M28 56h1v1h-1M49 56h1v1h-1M51 56h1v1h-1M75 56h1v1h-1M81 56h1v1h-1M86 56h1v1h-1M90 56h1v1h-1M94 56h1v1h-1M107 56h1v1h-1M110 56h1v1h-1M111 56h1v1h-1M24 57h1v1h-1M27 57h1v1h-1M43 57h1v1h-1M52 57h1v1h-1M55 57h1v1h-1M75 57h1v1h-1M88 57h1v1h-1M90 57h1v1h-1M96 57h1v1h-1M99 57h1v1h-1M108 57h1v1h-1M126 57h1v1h-1M8 58h1v1h-1M17 58h1v1h-1M30 58h1v1h-1M40 58h1v1h-1M50 58h1v1h-1M56 58h1v1h-1M103 58h1v1h-1M124 58h1v1h-1M5 59h1v1h-1M11 59h1v1h-1M14 59h1v1h-1M23 59h1v1h-1M40 59h1v1h-1M44 59h1v1h-1M63 59h1v1h-1M84 59h1v1h-1M100 59h1v1h-1M110 59h1v1h-1M113 59h1v1h-1M122 59h1v1h-1M12 60h1v1h-1M28 60h1v1h-1M29 60h1v1h-1M34 60h1v1h-1M35 60h1v1h-1M51 60h1v1h-1M52 60h1v1h-1M53 60h1v1h-1M54 60h1v1h-1M56 60h1v1h-1M67 60h1v1h-1M90 60h1v1h-1M121 60h1v1h-1M9 61h1v1h-1M44 61h1v1h-1M46 61h1v1h-1M55 61h1v1h-1M63 61h1v1h-1M76 61h1v1h-1M84 61h1v1h-1M98 61h1v1h-1M113 61h1v1h-1M3 62h1v1h-1M53 62h1v1h-1M58 62h1v1h-1M66 62h1v1h-1M71 62h1v1h-1M76 62h1v1h-1M78 62h1v1h-1M83 62h1v1h-1M95 62h1v1h-1M97 62h1v1h-1M100 62h1v1h-1M4 63h1v1h-1M23 63h1v1h-1M29 63h1v1h-1M32 63h1v1h-1M43 63h1v1h-1M75 63h1v1h-1M78 63h1v1h-1M80 63h1v1h-1M98 63h1v1h-1M100 63h1v1h-1M104 63h1v1h-1M122 63h1v1h-1"/><path fill="#009c00" d="M0 0h1v1h-1M20 0h1v1h-1M40 0h1v1h-1M44 0h1v1h-1M71 0h1v1h-1M95 0h1v1h-1M99 0h1v1h-1M108 0h1v1h-1M112 0h1v1h-1M125 0h1v1h-1M12 1h1v1h-1M22 1h1v1h-1M33 1h1v1h-1M52 1h1v1h-1M81 1h1v1h-1M98 1h1v1h-1M123 1h1v1h-1M11 2h1v1h-1M16 2h1v1h-1M20 2h1v1h-1M44 2h1v1h-1M47 2h1v1h-1M50 2h1v1h-1M77 2h1v1h-1M80 2h1v1h-1M81 2h1v1h-1M90 2h1v1h-1M106 2h1v1h-1M112 2h1v1h-1M126 2h1v1h-1M127 2h1v1h-1M9 3h1v1h-1M17 3h1v1h-1M25 3h1v1h-1M31 3h1v1h-1M57 3h1v1h-1M87 3h1v1h-1M100 3h1v1h-1M102 3h1v1h-1M105 3h1v1h-1M113 3h1v1h-1M116 3h1v1h-1M118 3h1v1h-1M2 4h1v1h-1M23 4h1v1h-1M33 4h1v1h-1M50 4h1v1h-1M54 4h1v1h-1M58 4h1v1h-1M73 4h1v1h-1M106 4h1v1h-1M109 4h1v1h-1M127 4h1v1h-1M12 5h1v1h-1M22 5h1v1h-1M84 5h1v1h-1M85 5h1v1h-1M105 5h1v1h-1M12 6h1v1h-1M15 6h1v1h-1M21 6h1v1h-1M28 6h1v1h-1M57 6h1v1h-1M104 6h1v1h-1M117 6h1v1h-1M22 7h1v1h-1M43 7h1v1h-1M46 7h1v1h-1M50 7h1v1h-1M77 7h1v1h-1M79 7h1v1h-1M84 7h1v1h-1M108 7h1v1h-1M115 7h1v1h-1M4 8h1v1h-1M6 8h1v1h-1M14 8h1v1h-1M16 8h1v1h-1M59 8h1v1h-1M96 8h1v1h-1M113 8h1v1h-1M116 8h1v1h-1M8 9h1v1h-1M17 9h1v1h-1M31 9h1v1h-1M32 9h1v1h-1M35 9h1v1h-1M65 9h1v1h-1M80 9h1v1h-1M85 9h1v1h-1M93 9h1v1h-1M118 9h1v1h-1M121 9h1v1h-1M0 10h1v1h-1M6 10h1v1h-1M8 10h1v1h-1M63 10h1v1h-1M107 10h1v1h-1M125 10h1v1h-1M5 11h1v1h-1M20 11h1v1h-1M42 11h1v1h-1M72 11h1v1h-1M76 11h1v1h-1M77 11h1v1h-1M81 11h1v1h-1M86 11h1v1h-1M98 11h1v1h-1M14 12h1v1h-1M21 12h1v1h-1M29 12h1v1h-1M50 12h1v1h-1M78 12h1v1h-1M87 12h1v1h-1M110 12h1v1h-1M7 13h1v1h-1M12 13h1v1h-1M13 13h1v1h-1M29 13h1v1h-1M71 13h1v1h-1M77 13h1v1h-1M80 13h1v1h-1M81 13h1v1h-1M98 13h1v1h-1M104 13h1v1h-1M1 14h1v1h-1M9 14h1v1h-1M24 14h1v1h-1M25 14h1v1h-1M51 14h1v1h-1M52 14h1v1h-1M69 14h1v1h-1M71 14h1v1h-1M82 14h1v1h-1M84 14h1v1h-1M93 14h1v1h-1M117 14h1v1h-1M124 14h1v1h-1M15 15h1v1h-1M19 15h1v1h-1M23 15h1v1h-1M26 15h1v1h-1M59 15h1v1h-1M104 15h1v1h-1M108 15h1v1h-1M50 16h1v1h-1M56 16h1v1h-1M103 16h1v1h-1M108 16h1v1h-1M118 16h1v1h-1M125 16h1v1h-1M4 17h1v1h-1M12 17h1v1h-1M49 17h1v1h-1M70 17h1v1h-1M72 17h1v1h-1M77 17h1v1h-1M115 17h1v1h-1M5 18h1v1h-1M6 18h1v1h-1M21 18h1v1h-1M54 18h1v1h-1M58 18h1v1h-1M61 18h1v1h-1M67 18h1v1h-1M69 18h1v1h-1M70 18h1v1h-1M84 18h1v1h-1M88 18h1v1h-1M90 18h1v1h-1M109 18h1v1h-1M22 19h1v1h-1M33 19h1v1h-1M47 19h1v1h-1M50 19h1v1h-1M60 19h1v1h-1M74 19h1v1h-1M95 19h1v1h-1M121 19h1v1h-1M0 20h1v1h-1M2 20h1v1h-1M10 20h1v1h-1M15 20h1v1h-1M55 20h1v1h-1M59 20h1v1h-1M64 20h1v1h-1M89 20h1v1h-1M99 20h1v1h-1M124 20h1v1h-1M10 21h1v1h-1M22 21h1v1h-1M52 21h1v1h-1M57 21h1v1h-1M81 21h1v1h-1M108 21h1v1h-1M114 21h1v1h-1M118 21h1v1h-1M5 22h1v1h-1M57 22h1v1h-1M65 22h1v1h-1M73 22h1v1h-1M75 22h1v1h-1M98 22h1v1h-1M111 22h1v1h-1M119 22h1v1h-1M9 23h1v1h-1M10 23h1v1h-1M19 23h1v1h-1M43 23h1v1h-1M74 23h1v1h-1M91 23h1v1h-1M96 23h1v1h-1M100 23h1v1h-1M104 23h1v1h-1M123 23h1v1h-1M99 24h1v1h-1M102 24h1v1h-1M113 24h1v1h-1M121 24h1v1h-1M122 24h1v1h-1M0 25h1v1h-1M1 25h1v1h-1M24 25h1v1h-1M45 25h1v1h-1M51 25h1v1h-1M55 25h1v1h-1M94 25h1v1h-1M113 25h1v1h-1M119 25h1v1h-1M33 26h1v1h-1M56 26h1v1h-1M83 26h1v1h-1M88 26h1v1h-1M90 26h1v1h-1M100 26h1v1h-1M124 26h1v1h-1M16 27h1v1h-1M70 27h1v1h-1M71 27h1v1h-1M87 27h1v1h-1M106 27h1v1h-1M115 27h1v1h-1M127 27h1v1h-1M3 28h1v1h-1M4 28h1v1h-1M5 28h1v1h-1M12 28h1v1h-1M19 28h1v1h-1M23 28h1v1h-1M36 28h1v1h-1M46 28h1v1h-1M59 28h1v1h-1M64 28h1v1h-1M75 28h1v1h-1M82 28h1v1h-1M120 28h1v1h-1M10 29h1v1h-1M17 29h1v1h-1M26 29h1v1h-1M29 29h1v1h-1M51 29h1v1h-1M55 29h1v1h-1M61 29h1v1h-1M68 29h1v1h-1M70 29h1v1h-1M75 29h1v1h-1M92 29h1v1h-1M95 29h1v1h-1M102 29h1v1h-1M108 29h1v1h-1M115 29h1v1h-1M12 30h1v1h-1M50 30h1v1h-1M68 30h1v1h-1M107 30h1v1h-1M116 30h1v1h-1M118 30h1v1h-1M42 31h1v1h-1M43 31h1v1h-1M46 31h1v1h-1M51 31h1v1h-1M54 31h1v1h-1M59 31h1v1h-1M60 31h1v1h-1M61 31h1v1h-1M88 31h1v1h-1M110 31h1v1h-1M37 32h1v1h-1M50 32h1v1h-1M60 32h1v1h-1M63 32h1v1h-1M78 32h1v1h-1M92 32h1v1h-1M103 32h1v1h-1M114 32h1v1h-1M13 33h1v1h-1M29 33h1v1h-1M44 33h1v1h-1M47 33h1v1h-1M59 33h1v1h-1M60 33h1v1h-1M66 33h1v1h-1M72 33h1v1h-1M119 33h1v1h-1M8 34h1v1h-1M9 34h1v1h-1M34 34h1v1h-1M36 34h1v1h-1M41 34h1v1h-1M53 34h1v1h-1M65 34h1v1h-1M68 34h1v1h-1M72 34h1v1h-1M83 34h1v1h-1M120 34h1v1h-1M22 35h1v1h-1M26 35h1v1h-1M45 35h1v1h-1M61 35h1v1h-1M98 35h1v1h-1M103 35h1v1h-1M121 35h1v1h-1M15 36h1v1h-1M17 36h1v1h-1M28 36h1v1h-1M58 36h1v1h-1M69 36h1v1h-1M80 36h1v1h-1M1 37h1v1h-1M16 37h1v1h-1M61 37h1v1h-1M79 37h1v1h-1M95 37h1v1h-1M116 37h1v1h-1M4 38h1v1h-1M19 38h1v1h-1M28 38h1v1h-1M29 38h1v1h-1M32 38h1v1h-1M34 38h1v1h-1M37 38h1v1h-1M44 38h1v1h-1M59 38h1v1h-1M61 38h1v1h-1M65 38h1v1h-1M105 38h1v1h-1M3 39h1v1h-1M10 39h1v1h-1M11 39h1v1h-1M26 39h1v1h-1M28 39h1v1h-1M51 39h1v1h-1M53 39h1v1h-1M105 39h1v1h-1M107 39h1v1h-1M14 40h1v1h-1M18 40h1v1h-1M19 40h1v1h-1M31 40h1v1h-1M48 40h1v1h-1M49 40h1v1h-1M90 40h1v1h-1M106 40h1v1h-1M113 40h1v1h-1M4 41h1v1h-1M27 41h1v1h-1M73 41h1v1h-1M75 41h1v1h-1M76 41h1v1h-1M78 41h1v1h-1M94 41h1v1h-1M102 41h1v1h-1M121 41h1v1h-1M32 42h1v1h-1M74 42h1v1h-1M119 42h1v1h-1M120 42h1v1h-1M8 43h1v1h-1M30 43h1v1h-1M32 43h1v1h-1M41 43h1v1h-1M43 43h1v1h-1M48 43h1v1h-1M69 43h1v1h-1M70 43h1v1h-1M79 43h1v1h-1M110 43h1v1h-1M14 44h1v1h-1M30 44h1v1h-1M64 44h1v1h-1M73 44h1v1h-1M107 44h1v1h-1M1 45h1v1h-1M7 45h1v1h-1M19 45h1v1h-1M29 45h1v1h-1M43 45h1v1h-1M44 45h1v1h-1M83 45h1v1h-1M90 45h1v1h-1M110 45h1v1h-1M15 46h1v1h-1M31 46h1v1h-1M47 46h1v1h-1M58 46h1v1h-1M61 46h1v1h-1M78 46h1v1h-1M94 46h1v1h-1M99 46h1v1h-1M101 46h1v1h-1M102 46h1v1h-1M107 46h1v1h-1M117 46h1v1h-1M28 47h1v1h-1M34 47h1v1h-1M35 47h1v1h-1M47 47h1v1h-1M52 47h1v1h-1M124 47h1v1h-1M4 48h1v1h-1M39 48h1v1h-1M93 48h1v1h-1M117 48h1v1h-1M120 48h1v1h-1M2 49h1v1h-1M20 49h1v1h-1M24 49h1v1h-1M40 49h1v1h-1M63 49h1v1h-1M69 49h1v1h-1M81 49h1v1h-1M94 49h1v1h-1M120 49h1v1h-1M5 50h1v1h-1M15 50h1v1h-1M23 50h1v1h-1M26 50h1v1h-1M29 50h1v1h-1M33 50h1v1h-1M47 50h1v1h-1M53 50h1v1h-1M57 50h1v1h-1M71 50h1v1h-1M87 50h1v1h-1M101 50h1v1h-1M104 50h1v1h-1M106 50h1v1h-1M118 50h1v1h-1M10 51h1v1h-1M46 51h1v1h-1M74 51h1v1h-1M76 51h1v1h-1M83 51h1v1h-1M86 51h1v1h-1M91 51h1v1h-1M100 51h1v1h-1M114 51h1v1h-1M118 51h1v1h-1M125 51h1v1h-1M5 52h1v1h-1M15 52h1v1h-1M16 52h1v1h-1M52 52h1v1h-1M64 52h1v1h-1M74 52h1v1h-1M78 52h1v1h-1M98 52h1v1h-1M117 52h1v1h-1M118 52h1v1h-1M120 52h1v1h-1M28 53h1v1h-1M34 53h1v1h-1M71 53h1v1h-1M93 53h1v1h-1M127 53h1v1h-1M8 54h1v1h-1M11 54h1v1h-1M15 54h1v1h-1M17 54h1v1h-1M21 54h1v1h-1M32 54h1v1h-1M34 54h1v1h-1M55 54h1v1h-1M69 54h1v1h-1M76 54h1v1h-1M78 54h1v1h-1M102 54h1v1h-1M104 54h1v1h-1M2 55h1v1h-1M9 55h1v1h-1M12 55h1v1h-1M45 55h1v1h-1M46 55h1v1h-1M69 55h1v1h-1M92 55h1v1h-1M111 55h1v1h-1M27 56h1v1h-1M43 56h1v1h-1M52 56h1v1h-1M61 56h1v1h-1M69 56h1v1h-1M77 56h1v1h-1M92 56h1v1h-1M102 56h1v1h-1M115 56h1v1h-1M10 57h1v1h-1M14 57h1v1h-1M46 57h1v1h-1M58 57h1v1h-1M84 57h1v1h-1M101 57h1v1h-1M102 57h1v1h-1M10 58h1v1h-1M11 58h1v1h-1M26 58h1v1h-1M52 58h1v1h-1M80 58h1v1h-1M92 58h1v1h-1M94 58h1v1h-1M101 58h1v1h-1M26 59h1v1h-1M75 59h1v1h-1M30 60h1v1h-1M31 60h1v1h-1M64 60h1v1h-1M66 60h1v1h-1M68 60h1v1h-1M80 60h1v1h-1M93 60h1v1h-1M117 60h1v1h-1M18 61h1v1h-1M28 61h1v1h-1M29 61h1v1h-1M48 61h1v1h-1M65 61h1v1h-1M90 61h1v1h-1M107 61h1v1h-1M127 61h1v1h-1M0 62h1v1h-1M14 62h1v1h-1M61 62h1v1h-1M75 62h1v1h-1M96 62h1v1h-1M101 62h1v1h-1M106 62h1v1h-1M107 62h1v1h-1M112 62h1v1h-1M0 63h1v1h-1M17 63h1v1h-1M24 63h1v1h-1M39 63h1v1h-1M40 63h1v1h-1M61 63h1v1h-1M65 63h1v1h-1M69 63h1v1h-1M84 63h1v1h-1M88 63h1v1h-1M94 63h1v1h-1M124 63h1v1h-1"/><path fill="#00a500" d="M26 0h1v1h-1M27 0h1v1h-1M36 0h1v1h-1M37 0h1v1h-1M55 0h1v1h-1M56 0h1v1h-1M57 0h1v1h-1M59 0h1v1h-1M67 0h1v1h-1M70 0h1v1h-1M75 0h1v1h-1M93 0h1v1h-1M94 0h1v1h-1M114 0h1v1h-1M32 1h1v1h-1M39 1h1v1h-1M58 1h1v1h-1M102 1h1v1h-1M115 1h1v1h-1M5 2h1v1h-1M59 2h1v1h-1M75 2h1v1h-1M96 2h1v1h-1M114 2h1v1h-1M5 3h1v1h-1M15 3h1v1h-1M29 3h1v1h-1M74 3h1v1h-1M77 3h1v1h-1M80 3h1v1h-1M96 3h1v1h-1M22 4h1v1h-1M25 4h1v1h-1M27 4h1v1h-1M64 4h1v1h-1M69 4h1v1h-1M76 4h1v1h-1M107 4h1v1h-1M9 5h1v1h-1M11 5h1v1h-1M26 5h1v1h-1M55 5h1v1h-1M57 5h1v1h-1M76 5h1v1h-1M81 5h1v1h-1M110 5h1v1h-1M120 5h1v1h-1M9 6h1v1h-1M23 6h1v1h-1M46 6h1v1h-1M96 6h1v1h-1M123 6h1v1h-1M127 6h1v1h-1M18 7h1v1h-1M21 7h1v1h-1M33 7h1v1h-1M38 7h1v1h-1M40 7h1v1h-1M49 7h1v1h-1M56 7h1v1h-1M63 7h1v1h-1M26 8h1v1h-1M33 8h1v1h-1M89 8h1v1h-1M122 8h1v1h-1M0 9h1v1h-1M7 9h1v1h-1M13 9h1v1h-1M50 9h1v1h-1M51 9h1v1h-1M68 9h1v1h-1M77 9h1v1h-1M84 9h1v1h-1M102 9h1v1h-1M107 9h1v1h-1M4 10h1v1h-1M12 10h1v1h-1M57 10h1v1h-1M67 10h1v1h-1M70 10h1v1h-1M71 10h1v1h-1M77 10h1v1h-1M95 10h1v1h-1M99 10h1v1h-1M0 11h1v1h-1M18 11h1v1h-1M25 11h1v1h-1M41 11h1v1h-1M65 11h1v1h-1M73 11h1v1h-1M87 11h1v1h-1M103 11h1v1h-1M106 11h1v1h-1M4 12h1v1h-1M6 12h1v1h-1M51 12h1v1h-1M52 12h1v1h-1M61 12h1v1h-1M65 12h1v1h-1M101 12h1v1h-1M9 13h1v1h-1M26 13h1v1h-1M40 13h1v1h-1M41 13h1v1h-1M68 13h1v1h-1M69 13h1v1h-1M72 13h1v1h-1M88 13h1v1h-1M94 13h1v1h-1M111 13h1v1h-1M125 13h1v1h-1M8 14h1v1h-1M11 14h1v1h-1M19 14h1v1h-1M28 14h1v1h-1M29 14h1v1h-1M33 14h1v1h-1M49 14h1v1h-1M77 14h1v1h-1M78 14h1v1h-1M85 14h1v1h-1M111 14h1v1h-1M120 14h1v1h-1M2 15h1v1h-1M34 15h1v1h-1M50 15h1v1h-1M51 15h1v1h-1M82 15h1v1h-1M88 15h1v1h-1M105 15h1v1h-1M109 15h1v1h-1M117 15h1v1h-1M2 16h1v1h-1M6 16h1v1h-1M21 16h1v1h-1M43 16h1v1h-1M46 16h1v1h-1M73 16h1v1h-1M94 16h1v1h-1M28 17h1v1h-1M37 17h1v1h-1M62 17h1v1h-1M65 17h1v1h-1M73 17h1v1h-1M101 17h1v1h-1M106 17h1v1h-1M14 18h1v1h-1M33 18h1v1h-1M46 18h1v1h-1M80 18h1v1h-1M91 18h1v1h-1M97 18h1v1h-1M99 18h1v1h-1M104 18h1v1h-1M106 18h1v1h-1M12 19h1v1h-1M39 19h1v1h-1M43 19h1v1h-1M59 19h1v1h-1M92 19h1v1h-1M96 19h1v1h-1M101 19h1v1h-1M9 20h1v1h-1M13 20h1v1h-1M47 20h1v1h-1M48 20h1v1h-1M68 20h1v1h-1M70 20h1v1h-1M107 20h1v1h-1M16 21h1v1h-1M19 21h1v1h-1M48 21h1v1h-1M60 21h1v1h-1M82 21h1v1h-1M116 21h1v1h-1M117 21h1v1h-1M122 21h1v1h-1M0 22h1v1h-1M16 22h1v1h-1M32 22h1v1h-1M33 22h1v1h-1M41 22h1v1h-1M59 22h1v1h-1M72 22h1v1h-1M102 22h1v1h-1M120 22h1v1h-1M124 22h1v1h-1M0 23h1v1h-1M31 23h1v1h-1M64 23h1v1h-1M72 23h1v1h-1M121 23h1v1h-1M122 23h1v1h-1M125 23h1v1h-1M23 24h1v1h-1M56 24h1v1h-1M60 24h1v1h-1M63 24h1v1h-1M88 24h1v1h-1M6 25h1v1h-1M12 25h1v1h-1M28 25h1v1h-1M47 25h1v1h-1M101 25h1v1h-1M106 25h1v1h-1M107 25h1v1h-1M110 25h1v1h-1M111 25h1v1h-1M117 25h1v1h-1M118 25h1v1h-1M127 25h1v1h-1M17 26h1v1h-1M23 26h1v1h-1M25 26h1v1h-1M32 26h1v1h-1M89 26h1v1h-1M112 26h1v1h-1M36 27h1v1h-1M42 27h1v1h-1M45 27h1v1h-1M50 27h1v1h-1M53 27h1v1h-1M84 27h1v1h-1M93 27h1v1h-1M97 27h1v1h-1M111 27h1v1h-1M124 27h1v1h-1M0 28h1v1h-1M38 28h1v1h-1M45 28h1v1h-1M117 28h1v1h-1M37 29h1v1h-1M44 29h1v1h-1M64 29h1v1h-1M72 29h1v1h-1M80 29h1v1h-1M83 29h1v1h-1M84 29h1v1h-1M85 29h1v1h-1M124 29h1v1h-1M126 29h1v1h-1M1 30h1v1h-1M11 30h1v1h-1M17 30h1v1h-1M36 30h1v1h-1M46 30h1v1h-1M36 31h1v1h-1M50 31h1v1h-1M67 31h1v1h-1M72 31h1v1h-1M74 31h1v1h-1M78 31h1v1h-1M79 31h1v1h-1M43 32h1v1h-1M54 32h1v1h-1M57 32h1v1h-1M89 32h1v1h-1M102 32h1v1h-1M22 33h1v1h-1M81 33h1v1h-1M127 33h1v1h-1M32 34h1v1h-1M33 34h1v1h-1M37 34h1v1h-1M102 34h1v1h-1M109 34h1v1h-1M110 34h1v1h-1M111 34h1v1h-1M114 34h1v1h-1M5 35h1v1h-1M52 35h1v1h-1M55 35h1v1h-1M59 35h1v1h-1M62 35h1v1h-1M63 35h1v1h-1M73 35h1v1h-1M100 35h1v1h-1M7 36h1v1h-1M9 36h1v1h-1M21 36h1v1h-1M22 36h1v1h-1M30 36h1v1h-1M37 36h1v1h-1M54 36h1v1h-1M62 36h1v1h-1M64 36h1v1h-1M65 36h1v1h-1M78 36h1v1h-1M79 36h1v1h-1M94 36h1v1h-1M96 36h1v1h-1M114 36h1v1h-1M126 36h1v1h-1M2 37h1v1h-1M18 37h1v1h-1M36 37h1v1h-1M56 37h1v1h-1M91 37h1v1h-1M107 37h1v1h-1M114 37h1v1h-1M122 37h1v1h-1M10 38h1v1h-1M16 38h1v1h-1M33 38h1v1h-1M56 38h1v1h-1M64 38h1v1h-1M82 38h1v1h-1M89 38h1v1h-1M90 38h1v1h-1M98 38h1v1h-1M102 38h1v1h-1M112 38h1v1h-1M113 38h1v1h-1M4 39h1v1h-1M25 39h1v1h-1M71 39h1v1h-1M76 39h1v1h-1M78 39h1v1h-1M106 39h1v1h-1M126 39h1v1h-1M32 40h1v1h-1M33 40h1v1h-1M47 40h1v1h-1M54 40h1v1h-1M68 40h1v1h-1M88 40h1v1h-1M93 40h1v1h-1M105 40h1v1h-1M109 40h1v1h-1M111 40h1v1h-1M7 41h1v1h-1M61 41h1v1h-1M74 41h1v1h-1M82 41h1v1h-1M110 41h1v1h-1M0 42h1v1h-1M28 42h1v1h-1M42 42h1v1h-1M51 42h1v1h-1M78 42h1v1h-1M85 42h1v1h-1M107 42h1v1h-1M121 42h1v1h-1M5 43h1v1h-1M36 43h1v1h-1M67 43h1v1h-1M99 43h1v1h-1M111 43h1v1h-1M127 43h1v1h-1M0 44h1v1h-1M7 44h1v1h-1M12 44h1v1h-1M15 44h1v1h-1M43 44h1v1h-1M51 44h1v1h-1M58 44h1v1h-1M59 44h1v1h-1M71 44h1v1h-1M90 44h1v1h-1M93 44h1v1h-1M96 44h1v1h-1M104 44h1v1h-1M115 44h1v1h-1M126 44h1v1h-1M0 45h1v1h-1M3 45h1v1h-1M6 45h1v1h-1M23 45h1v1h-1M54 45h1v1h-1M78 45h1v1h-1M80 45h1v1h-1M94 45h1v1h-1M102 45h1v1h-1M107 45h1v1h-1M122 45h1v1h-1M45 46h1v1h-1M48 46h1v1h-1M51 46h1v1h-1M55 46h1v1h-1M114 46h1v1h-1M13 47h1v1h-1M15 47h1v1h-1M44 47h1v1h-1M86 47h1v1h-1M115 47h1v1h-1M10 48h1v1h-1M16 48h1v1h-1M25 48h1v1h-1M33 48h1v1h-1M60 48h1v1h-1M71 48h1v1h-1M90 48h1v1h-1M106 48h1v1h-1M118 48h1v1h-1M119 48h1v1h-1M11 49h1v1h-1M34 49h1v1h-1M38 49h1v1h-1M93 49h1v1h-1M100 49h1v1h-1M112 49h1v1h-1M126 49h1v1h-1M34 50h1v1h-1M63 50h1v1h-1M70 50h1v1h-1M84 50h1v1h-1M93 50h1v1h-1M95 50h1v1h-1M107 50h1v1h-1M4 51h1v1h-1M11 51h1v1h-1M27 51h1v1h-1M44 51h1v1h-1M53 51h1v1h-1M55 51h1v1h-1M93 51h1v1h-1M103 51h1v1h-1M123 51h1v1h-1M17 52h1v1h-1M58 52h1v1h-1M65 52h1v1h-1M72 52h1v1h-1M94 52h1v1h-1M104 52h1v1h-1M7 53h1v1h-1M65 53h1v1h-1M72 53h1v1h-1M103 53h1v1h-1M109 53h1v1h-1M112 53h1v1h-1M125 53h1v1h-1M66 54h1v1h-1M109 54h1v1h-1M120 54h1v1h-1M1 55h1v1h-1M37 55h1v1h-1M48 55h1v1h-1M84 55h1v1h-1M88 55h1v1h-1M89 55h1v1h-1M90 55h1v1h-1M94 55h1v1h-1M100 55h1v1h-1M123 55h1v1h-1M31 56h1v1h-1M37 56h1v1h-1M91 56h1v1h-1M96 56h1v1h-1M103 56h1v1h-1M12 57h1v1h-1M25 57h1v1h-1M44 57h1v1h-1M63 57h1v1h-1M65 57h1v1h-1M72 57h1v1h-1M105 57h1v1h-1M113 57h1v1h-1M7 58h1v1h-1M12 58h1v1h-1M16 58h1v1h-1M19 58h1v1h-1M53 58h1v1h-1M54 58h1v1h-1M64 58h1v1h-1M83 58h1v1h-1M85 58h1v1h-1M87 58h1v1h-1M97 58h1v1h-1M108 58h1v1h-1M114 58h1v1h-1M41 59h1v1h-1M50 59h1v1h-1M66 59h1v1h-1M105 59h1v1h-1M109 59h1v1h-1M114 59h1v1h-1M119 59h1v1h-1M124 59h1v1h-1M14 60h1v1h-1M24 60h1v1h-1M45 60h1v1h-1M82 60h1v1h-1M84 60h1v1h-1M89 60h1v1h-1M92 60h1v1h-1M99 60h1v1h-1M103 60h1v1h-1M109 60h1v1h-1M114 60h1v1h-1M6 61h1v1h-1M10 61h1v1h-1M24 61h1v1h-1M59 61h1v1h-1M83 61h1v1h-1M89 61h1v1h-1M109 61h1v1h-1M118 61h1v1h-1M15 62h1v1h-1M21 62h1v1h-1M22 62h1v1h-1M24 62h1v1h-1M35 62h1v1h-1M41 62h1v1h-1M59 62h1v1h-1M86 62h1v1h-1M93 62h1v1h-1M105 62h1v1h-1M2 63h1v1h-1M19 63h1v1h-1M68 63h1v1h-1M71 63h1v1h-1M109 63h1v1h-1M113 63h1v1h-1"/><path fill="#00ad00" d="M16 0h1v1h-1M18 0h1v1h-1M34 0h1v1h-1M52 0h1v1h-1M58 0h1v1h-1M76 0h1v1h-1M80 0h1v1h-1M102 0h1v1h-1M109 0h1v1h-1M118 0h1v1h-1M123 0h1v1h-1M6 1h1v1h-1M29 1h1v1h-1M47 1h1v1h-1M61 1h1v1h-1M62 1h1v1h-1M71 1h1v1h-1M113 1h1v1h-1M116 1h1v1h-1M118 1h1v1h-1M4 2h1v1h-1M7 2h1v1h-1M19 2h1v1h-1M27 2h1v1h-1M36 2h1v1h-1M55 2h1v1h-1M83 2h1v1h-1M101 2h1v1h-1M108 2h1v1h-1M26 3h1v1h-1M73 3h1v1h-1M106 3h1v1h-1M9 4h1v1h-1M51 4h1v1h-1M80 4h1v1h-1M0 5h1v1h-1M33 5h1v1h-1M43 5h1v1h-1M48 5h1v1h-1M59 5h1v1h-1M61 5h1v1h-1M68 5h1v1h-1M69 5h1v1h-1M78 5h1v1h-1M80 5h1v1h-1M19 6h1v1h-1M40 6h1v1h-1M55 6h1v1h-1M59 6h1v1h-1M77 6h1v1h-1M101 6h1v1h-1M122 6h1v1h-1M14 7h1v1h-1M26 7h1v1h-1M31 7h1v1h-1M103 7h1v1h-1M106 7h1v1h-1M114 7h1v1h-1M123 7h1v1h-1M9 8h1v1h-1M24 8h1v1h-1M30 8h1v1h-1M80 8h1v1h-1M94 8h1v1h-1M120 8h1v1h-1M27 9h1v1h-1M45 9h1v1h-1M55 9h1v1h-1M56 9h1v1h-1M61 9h1v1h-1M74 9h1v1h-1M75 9h1v1h-1M100 9h1v1h-1M116 9h1v1h-1M126 9h1v1h-1M17 10h1v1h-1M19 10h1v1h-1M39 10h1v1h-1M47 10h1v1h-1M64 10h1v1h-1M92 10h1v1h-1M1 11h1v1h-1M9 11h1v1h-1M15 11h1v1h-1M17 11h1v1h-1M96 11h1v1h-1M107 11h1v1h-1M114 11h1v1h-1M125 11h1v1h-1M1 12h1v1h-1M33 12h1v1h-1M39 12h1v1h-1M43 12h1v1h-1M49 12h1v1h-1M57 12h1v1h-1M63 12h1v1h-1M77 12h1v1h-1M122 12h1v1h-1M124 12h1v1h-1M126 12h1v1h-1M15 13h1v1h-1M18 13h1v1h-1M51 13h1v1h-1M87 13h1v1h-1M90 13h1v1h-1M92 13h1v1h-1M107 13h1v1h-1M127 13h1v1h-1M20 14h1v1h-1M36 14h1v1h-1M61 14h1v1h-1M99 14h1v1h-1M105 14h1v1h-1M110 14h1v1h-1M44 15h1v1h-1M48 15h1v1h-1M49 15h1v1h-1M17 16h1v1h-1M39 16h1v1h-1M90 16h1v1h-1M114 16h1v1h-1M115 16h1v1h-1M121 16h1v1h-1M124 16h1v1h-1M20 17h1v1h-1M40 17h1v1h-1M43 17h1v1h-1M56 17h1v1h-1M59 17h1v1h-1M61 17h1v1h-1M109 17h1v1h-1M118 17h1v1h-1M120 17h1v1h-1M49 18h1v1h-1M65 18h1v1h-1M85 18h1v1h-1M4 19h1v1h-1M6 19h1v1h-1M11 19h1v1h-1M16 19h1v1h-1M25 19h1v1h-1M52 19h1v1h-1M69 19h1v1h-1M81 19h1v1h-1M11 20h1v1h-1M17 20h1v1h-1M28 20h1v1h-1M29 20h1v1h-1M42 20h1v1h-1M43 20h1v1h-1M60 20h1v1h-1M113 20h1v1h-1M117 20h1v1h-1M49 21h1v1h-1M66 21h1v1h-1M79 21h1v1h-1M127 21h1v1h-1M13 22h1v1h-1M52 22h1v1h-1M56 22h1v1h-1M87 22h1v1h-1M105 22h1v1h-1M114 22h1v1h-1M118 22h1v1h-1M4 23h1v1h-1M18 23h1v1h-1M58 23h1v1h-1M84 23h1v1h-1M90 23h1v1h-1M103 23h1v1h-1M111 23h1v1h-1M119 23h1v1h-1M126 23h1v1h-1M39 24h1v1h-1M67 24h1v1h-1M108 24h1v1h-1M115 24h1v1h-1M11 25h1v1h-1M14 25h1v1h-1M39 25h1v1h-1M58 25h1v1h-1M60 25h1v1h-1M66 25h1v1h-1M71 25h1v1h-1M88 25h1v1h-1M125 25h1v1h-1M6 26h1v1h-1M18 26h1v1h-1M20 26h1v1h-1M44 26h1v1h-1M53 26h1v1h-1M105 26h1v1h-1M122 26h1v1h-1M126 26h1v1h-1M127 26h1v1h-1M29 27h1v1h-1M73 27h1v1h-1M75 27h1v1h-1M85 27h1v1h-1M89 27h1v1h-1M107 27h1v1h-1M125 27h1v1h-1M53 28h1v1h-1M54 28h1v1h-1M56 28h1v1h-1M66 28h1v1h-1M70 28h1v1h-1M90 28h1v1h-1M94 28h1v1h-1M116 28h1v1h-1M119 28h1v1h-1M122 28h1v1h-1M4 29h1v1h-1M12 29h1v1h-1M20 29h1v1h-1M24 29h1v1h-1M31 29h1v1h-1M77 29h1v1h-1M81 29h1v1h-1M19 30h1v1h-1M69 30h1v1h-1M74 30h1v1h-1M102 30h1v1h-1M6 31h1v1h-1M40 31h1v1h-1M44 31h1v1h-1M66 31h1v1h-1M75 31h1v1h-1M98 31h1v1h-1M106 31h1v1h-1M127 31h1v1h-1M11 32h1v1h-1M36 32h1v1h-1M51 32h1v1h-1M81 32h1v1h-1M82 32h1v1h-1M88 32h1v1h-1M96 32h1v1h-1M97 32h1v1h-1M98 32h1v1h-1M10 33h1v1h-1M16 33h1v1h-1M18 33h1v1h-1M70 33h1v1h-1M71 33h1v1h-1M77 33h1v1h-1M87 33h1v1h-1M102 33h1v1h-1M117 33h1v1h-1M74 34h1v1h-1M2 35h1v1h-1M17 35h1v1h-1M31 35h1v1h-1M47 35h1v1h-1M70 35h1v1h-1M86 35h1v1h-1M16 36h1v1h-1M31 36h1v1h-1M35 36h1v1h-1M47 36h1v1h-1M110 36h1v1h-1M127 36h1v1h-1M20 37h1v1h-1M29 37h1v1h-1M81 37h1v1h-1M82 37h1v1h-1M89 37h1v1h-1M20 38h1v1h-1M22 38h1v1h-1M36 38h1v1h-1M74 38h1v1h-1M77 38h1v1h-1M99 38h1v1h-1M121 38h1v1h-1M16 39h1v1h-1M17 39h1v1h-1M38 39h1v1h-1M40 39h1v1h-1M87 39h1v1h-1M89 39h1v1h-1M121 39h1v1h-1M123 39h1v1h-1M11 40h1v1h-1M27 40h1v1h-1M38 40h1v1h-1M77 40h1v1h-1M83 40h1v1h-1M103 40h1v1h-1M125 40h1v1h-1M16 41h1v1h-1M52 41h1v1h-1M79 41h1v1h-1M109 41h1v1h-1M112 41h1v1h-1M113 41h1v1h-1M124 41h1v1h-1M126 41h1v1h-1M45 42h1v1h-1M84 42h1v1h-1M40 43h1v1h-1M62 43h1v1h-1M68 43h1v1h-1M71 43h1v1h-1M93 43h1v1h-1M94 43h1v1h-1M125 43h1v1h-1M4 44h1v1h-1M22 44h1v1h-1M45 44h1v1h-1M65 44h1v1h-1M79 44h1v1h-1M81 44h1v1h-1M87 44h1v1h-1M109 44h1v1h-1M15 45h1v1h-1M24 45h1v1h-1M32 45h1v1h-1M34 45h1v1h-1M61 45h1v1h-1M76 45h1v1h-1M86 45h1v1h-1M95 45h1v1h-1M114 45h1v1h-1M4 46h1v1h-1M5 46h1v1h-1M6 46h1v1h-1M16 46h1v1h-1M18 46h1v1h-1M19 46h1v1h-1M21 46h1v1h-1M95 46h1v1h-1M5 47h1v1h-1M19 47h1v1h-1M71 47h1v1h-1M98 47h1v1h-1M108 47h1v1h-1M120 47h1v1h-1M121 47h1v1h-1M0 48h1v1h-1M17 48h1v1h-1M31 48h1v1h-1M44 48h1v1h-1M59 48h1v1h-1M62 48h1v1h-1M67 48h1v1h-1M69 48h1v1h-1M78 48h1v1h-1M28 49h1v1h-1M41 49h1v1h-1M42 49h1v1h-1M44 49h1v1h-1M47 49h1v1h-1M50 49h1v1h-1M90 49h1v1h-1M96 49h1v1h-1M102 49h1v1h-1M105 49h1v1h-1M2 50h1v1h-1M3 50h1v1h-1M28 50h1v1h-1M30 50h1v1h-1M67 50h1v1h-1M77 50h1v1h-1M116 50h1v1h-1M3 51h1v1h-1M13 51h1v1h-1M23 51h1v1h-1M36 51h1v1h-1M38 51h1v1h-1M48 51h1v1h-1M49 51h1v1h-1M95 51h1v1h-1M102 51h1v1h-1M7 52h1v1h-1M12 52h1v1h-1M33 52h1v1h-1M34 52h1v1h-1M89 52h1v1h-1M100 52h1v1h-1M106 52h1v1h-1M108 52h1v1h-1M114 52h1v1h-1M115 52h1v1h-1M124 52h1v1h-1M5 53h1v1h-1M17 53h1v1h-1M29 53h1v1h-1M33 53h1v1h-1M36 53h1v1h-1M50 53h1v1h-1M100 53h1v1h-1M104 53h1v1h-1M114 53h1v1h-1M115 53h1v1h-1M121 53h1v1h-1M6 54h1v1h-1M19 54h1v1h-1M40 54h1v1h-1M67 54h1v1h-1M68 54h1v1h-1M92 54h1v1h-1M93 54h1v1h-1M105 54h1v1h-1M106 54h1v1h-1M107 54h1v1h-1M115 54h1v1h-1M117 54h1v1h-1M7 55h1v1h-1M54 55h1v1h-1M79 55h1v1h-1M83 55h1v1h-1M86 55h1v1h-1M42 56h1v1h-1M45 56h1v1h-1M47 56h1v1h-1M93 56h1v1h-1M99 56h1v1h-1M0 57h1v1h-1M13 57h1v1h-1M76 57h1v1h-1M85 57h1v1h-1M91 57h1v1h-1M109 57h1v1h-1M4 58h1v1h-1M9 58h1v1h-1M36 58h1v1h-1M86 58h1v1h-1M117 58h1v1h-1M118 58h1v1h-1M8 59h1v1h-1M64 59h1v1h-1M65 59h1v1h-1M78 59h1v1h-1M86 59h1v1h-1M89 59h1v1h-1M93 59h1v1h-1M108 59h1v1h-1M126 59h1v1h-1M8 60h1v1h-1M9 60h1v1h-1M26 60h1v1h-1M55 60h1v1h-1M77 60h1v1h-1M123 60h1v1h-1M127 60h1v1h-1M17 61h1v1h-1M34 61h1v1h-1M43 61h1v1h-1M66 61h1v1h-1M74 61h1v1h-1M85 61h1v1h-1M100 61h1v1h-1M110 61h1v1h-1M114 61h1v1h-1M6 62h1v1h-1M28 62h1v1h-1M34 62h1v1h-1M40 62h1v1h-1M42 62h1v1h-1M47 62h1v1h-1M65 62h1v1h-1M108 62h1v1h-1M109 62h1v1h-1M111 62h1v1h-1M8 63h1v1h-1M12 63h1v1h-1M28 63h1v1h-1M34 63h1v1h-1M46 63h1v1h-1M97 63h1v1h-1M101 63h1v1h-1"/><path fill="#00b500" d="M29 0h1v1h-1M38 0h1v1h-1M73 0h1v1h-1M97 0h1v1h-1M34 1h1v1h-1M117 1h1v1h-1M121 1h1v1h-1M115 2h1v1h-1M42 3h1v1h-1M56 3h1v1h-1M85 3h1v1h-1M88 3h1v1h-1M24 4h1v1h-1M28 4h1v1h-1M31 4h1v1h-1M43 4h1v1h-1M57 4h1v1h-1M84 4h1v1h-1M98 4h1v1h-1M7 5h1v1h-1M74 5h1v1h-1M100 5h1v1h-1M108 5h1v1h-1M118 5h1v1h-1M123 5h1v1h-1M8 6h1v1h-1M10 6h1v1h-1M37 6h1v1h-1M39 6h1v1h-1M47 6h1v1h-1M67 6h1v1h-1M75 6h1v1h-1M88 6h1v1h-1M91 6h1v1h-1M113 6h1v1h-1M125 6h1v1h-1M4 7h1v1h-1M68 7h1v1h-1M81 7h1v1h-1M83 7h1v1h-1M116 7h1v1h-1M27 8h1v1h-1M91 8h1v1h-1M110 8h1v1h-1M4 9h1v1h-1M9 9h1v1h-1M15 9h1v1h-1M22 9h1v1h-1M96 9h1v1h-1M114 9h1v1h-1M2 10h1v1h-1M11 10h1v1h-1M36 10h1v1h-1M96 10h1v1h-1M27 11h1v1h-1M56 11h1v1h-1M64 11h1v1h-1M104 11h1v1h-1M109 11h1v1h-1M38 12h1v1h-1M69 12h1v1h-1M70 12h1v1h-1M75 12h1v1h-1M86 12h1v1h-1M121 12h1v1h-1M1 13h1v1h-1M6 13h1v1h-1M10 13h1v1h-1M74 13h1v1h-1M112 13h1v1h-1M115 13h1v1h-1M35 14h1v1h-1M64 14h1v1h-1M80 14h1v1h-1M98 14h1v1h-1M121 14h1v1h-1M31 15h1v1h-1M45 15h1v1h-1M100 15h1v1h-1M19 16h1v1h-1M38 16h1v1h-1M61 16h1v1h-1M67 16h1v1h-1M85 16h1v1h-1M98 16h1v1h-1M102 16h1v1h-1M1 17h1v1h-1M7 17h1v1h-1M8 17h1v1h-1M27 17h1v1h-1M30 17h1v1h-1M31 17h1v1h-1M38 17h1v1h-1M123 17h1v1h-1M30 18h1v1h-1M48 18h1v1h-1M56 18h1v1h-1M72 18h1v1h-1M107 18h1v1h-1M29 19h1v1h-1M37 19h1v1h-1M46 19h1v1h-1M57 19h1v1h-1M114 19h1v1h-1M115 19h1v1h-1M123 19h1v1h-1M4 20h1v1h-1M30 20h1v1h-1M95 20h1v1h-1M122 20h1v1h-1M17 21h1v1h-1M20 21h1v1h-1M51 21h1v1h-1M98 21h1v1h-1M126 21h1v1h-1M4 22h1v1h-1M20 22h1v1h-1M24 22h1v1h-1M34 22h1v1h-1M38 22h1v1h-1M45 22h1v1h-1M49 22h1v1h-1M83 22h1v1h-1M11 23h1v1h-1M32 23h1v1h-1M36 23h1v1h-1M63 23h1v1h-1M75 23h1v1h-1M88 23h1v1h-1M116 23h1v1h-1M16 24h1v1h-1M29 24h1v1h-1M31 24h1v1h-1M53 24h1v1h-1M62 24h1v1h-1M89 24h1v1h-1M126 24h1v1h-1M50 25h1v1h-1M68 25h1v1h-1M90 25h1v1h-1M98 25h1v1h-1M105 25h1v1h-1M3 26h1v1h-1M45 26h1v1h-1M115 26h1v1h-1M120 26h1v1h-1M44 27h1v1h-1M82 27h1v1h-1M119 27h1v1h-1M7 28h1v1h-1M26 28h1v1h-1M34 28h1v1h-1M109 28h1v1h-1M5 29h1v1h-1M16 29h1v1h-1M19 29h1v1h-1M25 29h1v1h-1M27 29h1v1h-1M41 29h1v1h-1M47 29h1v1h-1M91 29h1v1h-1M8 30h1v1h-1M21 30h1v1h-1M23 30h1v1h-1M24 30h1v1h-1M30 30h1v1h-1M79 30h1v1h-1M101 30h1v1h-1M106 30h1v1h-1M113 30h1v1h-1M123 30h1v1h-1M28 31h1v1h-1M39 31h1v1h-1M52 31h1v1h-1M63 31h1v1h-1M97 31h1v1h-1M28 32h1v1h-1M64 32h1v1h-1M85 32h1v1h-1M115 32h1v1h-1M119 32h1v1h-1M126 32h1v1h-1M1 33h1v1h-1M11 33h1v1h-1M30 33h1v1h-1M86 33h1v1h-1M45 34h1v1h-1M50 34h1v1h-1M81 34h1v1h-1M94 34h1v1h-1M105 34h1v1h-1M124 34h1v1h-1M7 35h1v1h-1M27 35h1v1h-1M41 35h1v1h-1M64 35h1v1h-1M82 35h1v1h-1M85 35h1v1h-1M90 35h1v1h-1M91 35h1v1h-1M23 36h1v1h-1M24 36h1v1h-1M40 36h1v1h-1M48 36h1v1h-1M88 36h1v1h-1M93 36h1v1h-1M98 36h1v1h-1M122 36h1v1h-1M63 37h1v1h-1M101 37h1v1h-1M124 37h1v1h-1M9 38h1v1h-1M49 38h1v1h-1M52 38h1v1h-1M79 38h1v1h-1M85 38h1v1h-1M95 38h1v1h-1M9 39h1v1h-1M20 39h1v1h-1M35 39h1v1h-1M62 39h1v1h-1M80 39h1v1h-1M94 39h1v1h-1M100 39h1v1h-1M111 39h1v1h-1M112 39h1v1h-1M50 40h1v1h-1M52 40h1v1h-1M62 40h1v1h-1M122 40h1v1h-1M36 41h1v1h-1M56 41h1v1h-1M71 41h1v1h-1M105 41h1v1h-1M115 41h1v1h-1M120 41h1v1h-1M25 42h1v1h-1M54 42h1v1h-1M59 42h1v1h-1M63 42h1v1h-1M69 42h1v1h-1M70 42h1v1h-1M92 42h1v1h-1M93 42h1v1h-1M101 42h1v1h-1M45 43h1v1h-1M49 43h1v1h-1M65 43h1v1h-1M75 43h1v1h-1M107 43h1v1h-1M109 43h1v1h-1M118 43h1v1h-1M21 44h1v1h-1M26 44h1v1h-1M38 44h1v1h-1M39 44h1v1h-1M72 44h1v1h-1M84 44h1v1h-1M99 44h1v1h-1M127 44h1v1h-1M74 45h1v1h-1M105 45h1v1h-1M13 46h1v1h-1M29 46h1v1h-1M33 46h1v1h-1M50 46h1v1h-1M59 46h1v1h-1M77 46h1v1h-1M79 46h1v1h-1M81 46h1v1h-1M97 46h1v1h-1M9 47h1v1h-1M10 47h1v1h-1M16 47h1v1h-1M36 47h1v1h-1M70 47h1v1h-1M81 47h1v1h-1M90 47h1v1h-1M103 47h1v1h-1M107 47h1v1h-1M32 48h1v1h-1M48 48h1v1h-1M79 48h1v1h-1M102 48h1v1h-1M109 48h1v1h-1M16 49h1v1h-1M17 49h1v1h-1M22 49h1v1h-1M23 49h1v1h-1M37 49h1v1h-1M49 49h1v1h-1M67 49h1v1h-1M127 49h1v1h-1M8 50h1v1h-1M19 50h1v1h-1M44 50h1v1h-1M86 50h1v1h-1M90 50h1v1h-1M97 50h1v1h-1M62 51h1v1h-1M115 51h1v1h-1M24 52h1v1h-1M48 52h1v1h-1M50 52h1v1h-1M55 52h1v1h-1M96 52h1v1h-1M126 52h1v1h-1M15 53h1v1h-1M85 53h1v1h-1M89 53h1v1h-1M110 53h1v1h-1M3 54h1v1h-1M79 54h1v1h-1M95 54h1v1h-1M103 54h1v1h-1M4 55h1v1h-1M15 55h1v1h-1M22 55h1v1h-1M23 55h1v1h-1M68 55h1v1h-1M4 56h1v1h-1M5 56h1v1h-1M11 56h1v1h-1M38 56h1v1h-1M74 56h1v1h-1M76 56h1v1h-1M97 56h1v1h-1M123 56h1v1h-1M5 57h1v1h-1M37 57h1v1h-1M59 57h1v1h-1M123 57h1v1h-1M22 58h1v1h-1M43 58h1v1h-1M69 58h1v1h-1M81 58h1v1h-1M7 59h1v1h-1M22 59h1v1h-1M35 59h1v1h-1M70 59h1v1h-1M72 59h1v1h-1M80 59h1v1h-1M104 59h1v1h-1M2 60h1v1h-1M6 60h1v1h-1M59 60h1v1h-1M95 60h1v1h-1M119 60h1v1h-1M67 61h1v1h-1M123 61h1v1h-1M1 62h1v1h-1M10 62h1v1h-1M23 62h1v1h-1M127 62h1v1h-1M9 63h1v1h-1M48 63h1v1h-1M73 63h1v1h-1M93 63h1v1h-1M111 63h1v1h-1M119 63h1v1h-1"/><path fill="#00bd00" d="M87 0h1v1h-1M101 0h1v1h-1M115 0h1v1h-1M121 0h1v1h-1M15 1h1v1h-1M63 1h1v1h-1M85 1h1v1h-1M106 1h1v1h-1M9 2h1v1h-1M14 2h1v1h-1M46 2h1v1h-1M54 2h1v1h-1M89 2h1v1h-1M58 3h1v1h-1M115 3h1v1h-1M91 4h1v1h-1M113 4h1v1h-1M117 4h1v1h-1M47 5h1v1h-1M63 5h1v1h-1M87 5h1v1h-1M109 5h1v1h-1M33 6h1v1h-1M86 6h1v1h-1M94 6h1v1h-1M100 6h1v1h-1M87 7h1v1h-1M97 7h1v1h-1M99 7h1v1h-1M49 8h1v1h-1M68 8h1v1h-1M37 9h1v1h-1M41 9h1v1h-1M86 9h1v1h-1M111 9h1v1h-1M27 10h1v1h-1M52 10h1v1h-1M110 10h1v1h-1M71 11h1v1h-1M126 11h1v1h-1M10 12h1v1h-1M66 12h1v1h-1M22 13h1v1h-1M121 13h1v1h-1M3 14h1v1h-1M47 14h1v1h-1M78 15h1v1h-1M1 16h1v1h-1M14 16h1v1h-1M30 16h1v1h-1M47 16h1v1h-1M51 16h1v1h-1M58 16h1v1h-1M88 16h1v1h-1M95 16h1v1h-1M104 16h1v1h-1M0 17h1v1h-1M41 17h1v1h-1M86 17h1v1h-1M96 17h1v1h-1M100 17h1v1h-1M104 17h1v1h-1M24 18h1v1h-1M26 18h1v1h-1M27 18h1v1h-1M120 18h1v1h-1M108 19h1v1h-1M120 19h1v1h-1M77 20h1v1h-1M86 20h1v1h-1M127 20h1v1h-1M7 21h1v1h-1M41 21h1v1h-1M47 21h1v1h-1M53 21h1v1h-1M70 21h1v1h-1M86 21h1v1h-1M91 21h1v1h-1M93 21h1v1h-1M106 21h1v1h-1M120 21h1v1h-1M15 22h1v1h-1M18 22h1v1h-1M92 22h1v1h-1M7 23h1v1h-1M24 23h1v1h-1M65 23h1v1h-1M115 23h1v1h-1M120 23h1v1h-1M119 24h1v1h-1M62 25h1v1h-1M70 25h1v1h-1M82 25h1v1h-1M84 25h1v1h-1M124 25h1v1h-1M16 26h1v1h-1M40 27h1v1h-1M56 27h1v1h-1M121 27h1v1h-1M79 28h1v1h-1M100 28h1v1h-1M124 28h1v1h-1M101 29h1v1h-1M105 29h1v1h-1M10 30h1v1h-1M65 30h1v1h-1M83 30h1v1h-1M41 31h1v1h-1M45 31h1v1h-1M89 31h1v1h-1M90 31h1v1h-1M124 31h1v1h-1M75 32h1v1h-1M120 32h1v1h-1M125 32h1v1h-1M53 33h1v1h-1M80 33h1v1h-1M16 34h1v1h-1M66 34h1v1h-1M75 34h1v1h-1M96 34h1v1h-1M94 35h1v1h-1M106 35h1v1h-1M13 36h1v1h-1M63 36h1v1h-1M82 36h1v1h-1M103 36h1v1h-1M3 37h1v1h-1M45 37h1v1h-1M58 37h1v1h-1M87 37h1v1h-1M90 37h1v1h-1M15 38h1v1h-1M38 38h1v1h-1M57 38h1v1h-1M107 38h1v1h-1M117 38h1v1h-1M2 40h1v1h-1M6 40h1v1h-1M57 40h1v1h-1M70 40h1v1h-1M85 40h1v1h-1M114 40h1v1h-1M1 41h1v1h-1M53 41h1v1h-1M69 41h1v1h-1M83 41h1v1h-1M119 41h1v1h-1M4 42h1v1h-1M19 42h1v1h-1M73 42h1v1h-1M76 42h1v1h-1M96 42h1v1h-1M102 42h1v1h-1M2 43h1v1h-1M6 43h1v1h-1M81 43h1v1h-1M3 44h1v1h-1M44 44h1v1h-1M57 44h1v1h-1M60 44h1v1h-1M48 45h1v1h-1M49 45h1v1h-1M63 45h1v1h-1M119 45h1v1h-1M127 45h1v1h-1M76 46h1v1h-1M110 46h1v1h-1M25 47h1v1h-1M29 47h1v1h-1M73 47h1v1h-1M91 47h1v1h-1M2 48h1v1h-1M15 48h1v1h-1M23 48h1v1h-1M42 48h1v1h-1M115 48h1v1h-1M15 49h1v1h-1M21 49h1v1h-1M74 49h1v1h-1M99 49h1v1h-1M101 49h1v1h-1M13 50h1v1h-1M48 50h1v1h-1M43 51h1v1h-1M47 51h1v1h-1M113 51h1v1h-1M45 52h1v1h-1M92 52h1v1h-1M12 53h1v1h-1M23 53h1v1h-1M53 53h1v1h-1M54 53h1v1h-1M96 54h1v1h-1M21 55h1v1h-1M26 55h1v1h-1M28 55h1v1h-1M33 55h1v1h-1M70 55h1v1h-1M80 55h1v1h-1M122 55h1v1h-1M24 56h1v1h-1M71 56h1v1h-1M87 56h1v1h-1M108 56h1v1h-1M41 57h1v1h-1M66 57h1v1h-1M93 57h1v1h-1M95 57h1v1h-1M115 57h1v1h-1M29 58h1v1h-1M63 58h1v1h-1M10 59h1v1h-1M36 59h1v1h-1M83 59h1v1h-1M118 59h1v1h-1M22 60h1v1h-1M38 60h1v1h-1M105 60h1v1h-1M0 61h1v1h-1M56 61h1v1h-1M69 61h1v1h-1M80 61h1v1h-1M88 61h1v1h-1M116 61h1v1h-1M30 62h1v1h-1M72 62h1v1h-1M36 63h1v1h-1M38 63h1v1h-1M121 63h1v1h-1"/><path fill="#00c500" d="M100 0h1v1h-1M31 1h1v1h-1M42 1h1v1h-1M31 2h1v1h-1M121 2h1v1h-1M18 3h1v1h-1M35 3h1v1h-1M110 3h1v1h-1M39 4h1v1h-1M40 4h1v1h-1M41 4h1v1h-1M65 4h1v1h-1M15 5h1v1h-1M38 5h1v1h-1M66 5h1v1h-1M112 5h1v1h-1M125 5h1v1h-1M35 6h1v1h-1M61 6h1v1h-1M52 7h1v1h-1M85 7h1v1h-1M92 7h1v1h-1M13 8h1v1h-1M45 8h1v1h-1M50 8h1v1h-1M67 8h1v1h-1M90 8h1v1h-1M1 9h1v1h-1M101 9h1v1h-1M115 9h1v1h-1M18 10h1v1h-1M76 10h1v1h-1M85 10h1v1h-1M90 10h1v1h-1M33 11h1v1h-1M34 11h1v1h-1M62 12h1v1h-1M89 12h1v1h-1M42 13h1v1h-1M65 13h1v1h-1M105 13h1v1h-1M6 14h1v1h-1M54 14h1v1h-1M103 14h1v1h-1M6 15h1v1h-1M62 15h1v1h-1M113 15h1v1h-1M9 16h1v1h-1M27 16h1v1h-1M82 16h1v1h-1M16 17h1v1h-1M74 17h1v1h-1M84 17h1v1h-1M121 17h1v1h-1M51 18h1v1h-1M62 18h1v1h-1M66 18h1v1h-1M112 18h1v1h-1M125 18h1v1h-1M3 19h1v1h-1M93 19h1v1h-1M3 21h1v1h-1M69 21h1v1h-1M1 22h1v1h-1M38 23h1v1h-1M11 24h1v1h-1M66 24h1v1h-1M78 24h1v1h-1M43 25h1v1h-1M49 25h1v1h-1M91 25h1v1h-1M120 25h1v1h-1M28 26h1v1h-1M34 26h1v1h-1M125 26h1v1h-1M5 27h1v1h-1M60 27h1v1h-1M32 28h1v1h-1M33 28h1v1h-1M68 28h1v1h-1M84 28h1v1h-1M115 28h1v1h-1M23 29h1v1h-1M74 29h1v1h-1M112 29h1v1h-1M54 30h1v1h-1M56 30h1v1h-1M75 30h1v1h-1M85 30h1v1h-1M1 31h1v1h-1M9 31h1v1h-1M27 31h1v1h-1M30 31h1v1h-1M1 32h1v1h-1M17 32h1v1h-1M53 32h1v1h-1M7 33h1v1h-1M19 33h1v1h-1M31 33h1v1h-1M33 33h1v1h-1M116 33h1v1h-1M9 35h1v1h-1M25 35h1v1h-1M46 35h1v1h-1M65 35h1v1h-1M69 35h1v1h-1M71 35h1v1h-1M72 35h1v1h-1M76 35h1v1h-1M89 35h1v1h-1M19 36h1v1h-1M20 36h1v1h-1M51 36h1v1h-1M113 36h1v1h-1M51 37h1v1h-1M64 37h1v1h-1M108 37h1v1h-1M7 38h1v1h-1M14 38h1v1h-1M39 38h1v1h-1M45 38h1v1h-1M47 38h1v1h-1M91 39h1v1h-1M126 40h1v1h-1M44 41h1v1h-1M92 41h1v1h-1M6 42h1v1h-1M77 42h1v1h-1M12 43h1v1h-1M13 43h1v1h-1M31 43h1v1h-1M85 43h1v1h-1M113 44h1v1h-1M46 45h1v1h-1M60 45h1v1h-1M121 45h1v1h-1M40 46h1v1h-1M53 46h1v1h-1M64 46h1v1h-1M100 46h1v1h-1M42 47h1v1h-1M63 47h1v1h-1M69 47h1v1h-1M95 47h1v1h-1M126 47h1v1h-1M45 48h1v1h-1M104 48h1v1h-1M13 49h1v1h-1M35 49h1v1h-1M39 49h1v1h-1M61 49h1v1h-1M72 49h1v1h-1M127 50h1v1h-1M71 51h1v1h-1M19 52h1v1h-1M75 52h1v1h-1M31 53h1v1h-1M80 54h1v1h-1M105 55h1v1h-1M30 56h1v1h-1M31 57h1v1h-1M61 57h1v1h-1M80 57h1v1h-1M49 58h1v1h-1M88 58h1v1h-1M90 58h1v1h-1M115 58h1v1h-1M17 59h1v1h-1M47 59h1v1h-1M79 59h1v1h-1M13 60h1v1h-1M50 61h1v1h-1M64 61h1v1h-1M115 61h1v1h-1M124 61h1v1h-1M7 62h1v1h-1M113 62h1v1h-1M41 63h1v1h-1M55 63h1v1h-1M115 63h1v1h-1"/><path fill="#00ce00" d="M5 0h1v1h-1M49 0h1v1h-1M54 0h1v1h-1M21 1h1v1h-1M48 1h1v1h-1M59 1h1v1h-1M96 1h1v1h-1M67 2h1v1h-1M78 2h1v1h-1M99 2h1v1h-1M103 2h1v1h-1M108 3h1v1h-1M10 4h1v1h-1M44 4h1v1h-1M88 4h1v1h-1M101 5h1v1h-1M27 6h1v1h-1M48 6h1v1h-1M121 7h1v1h-1M19 9h1v1h-1M53 9h1v1h-1M51 10h1v1h-1M84 10h1v1h-1M6 11h1v1h-1M101 11h1v1h-1M60 12h1v1h-1M116 12h1v1h-1M117 12h1v1h-1M57 13h1v1h-1M62 13h1v1h-1M22 15h1v1h-1M33 15h1v1h-1M77 15h1v1h-1M125 15h1v1h-1M78 17h1v1h-1M91 17h1v1h-1M108 17h1v1h-1M9 19h1v1h-1M54 19h1v1h-1M84 19h1v1h-1M51 20h1v1h-1M111 21h1v1h-1M112 21h1v1h-1M15 23h1v1h-1M48 23h1v1h-1M56 23h1v1h-1M18 24h1v1h-1M25 24h1v1h-1M36 24h1v1h-1M74 24h1v1h-1M69 25h1v1h-1M110 26h1v1h-1M4 27h1v1h-1M66 27h1v1h-1M69 27h1v1h-1M25 28h1v1h-1M51 28h1v1h-1M114 28h1v1h-1M38 29h1v1h-1M56 29h1v1h-1M13 30h1v1h-1M68 32h1v1h-1M106 32h1v1h-1M108 32h1v1h-1M3 35h1v1h-1M108 36h1v1h-1M30 37h1v1h-1M60 37h1v1h-1M71 37h1v1h-1M104 37h1v1h-1M88 38h1v1h-1M126 38h1v1h-1M9 41h1v1h-1M28 41h1v1h-1M43 41h1v1h-1M122 41h1v1h-1M36 42h1v1h-1M92 43h1v1h-1M1 44h1v1h-1M30 45h1v1h-1M47 45h1v1h-1M1 46h1v1h-1M24 46h1v1h-1M49 46h1v1h-1M69 46h1v1h-1M53 47h1v1h-1M96 47h1v1h-1M40 48h1v1h-1M116 48h1v1h-1M33 49h1v1h-1M77 49h1v1h-1M37 52h1v1h-1M82 52h1v1h-1M93 52h1v1h-1M23 54h1v1h-1M113 54h1v1h-1M41 56h1v1h-1M85 56h1v1h-1M120 56h1v1h-1M31 58h1v1h-1M74 58h1v1h-1M37 59h1v1h-1M74 59h1v1h-1M16 60h1v1h-1M99 61h1v1h-1M105 61h1v1h-1M106 61h1v1h-1M117 62h1v1h-1M7 63h1v1h-1M56 63h1v1h-1"/><path fill="#00d600" d="M62 0h1v1h-1M75 1h1v1h-1M62 2h1v1h-1M23 3h1v1h-1M125 3h1v1h-1M87 4h1v1h-1M89 4h1v1h-1M107 6h1v1h-1M125 7h1v1h-1M14 9h1v1h-1M38 9h1v1h-1M120 10h1v1h-1M120 12h1v1h-1M52 13h1v1h-1M67 13h1v1h-1M79 13h1v1h-1M12 15h1v1h-1M55 15h1v1h-1M100 16h1v1h-1M71 17h1v1h-1M13 19h1v1h-1M73 24h1v1h-1M81 24h1v1h-1M40 25h1v1h-1M96 25h1v1h-1M40 26h1v1h-1M7 32h1v1h-1M112 32h1v1h-1M64 33h1v1h-1M19 34h1v1h-1M21 34h1v1h-1M96 35h1v1h-1M99 35h1v1h-1M1 36h1v1h-1M68 37h1v1h-1M25 38h1v1h-1M127 38h1v1h-1M21 39h1v1h-1M96 39h1v1h-1M16 40h1v1h-1M91 41h1v1h-1M24 47h1v1h-1M51 47h1v1h-1M92 47h1v1h-1M49 48h1v1h-1M4 50h1v1h-1M66 51h1v1h-1M107 53h1v1h-1M61 54h1v1h-1M91 55h1v1h-1M18 57h1v1h-1M29 57h1v1h-1M104 57h1v1h-1M11 61h1v1h-1M16 61h1v1h-1M77 61h1v1h-1"/><path fill="#00de00" d="M9 1h1v1h-1M69 1h1v1h-1M1 4h1v1h-1M77 5h1v1h-1M24 7h1v1h-1M28 7h1v1h-1M86 7h1v1h-1M33 9h1v1h-1M60 9h1v1h-1M40 10h1v1h-1M21 13h1v1h-1M29 17h1v1h-1M80 19h1v1h-1M67 20h1v1h-1M45 21h1v1h-1M20 24h1v1h-1M8 25h1v1h-1M23 27h1v1h-1M95 27h1v1h-1M114 29h1v1h-1M49 30h1v1h-1M13 32h1v1h-1M121 32h1v1h-1M6 33h1v1h-1M3 34h1v1h-1M31 37h1v1h-1M15 40h1v1h-1M20 44h1v1h-1M37 47h1v1h-1M125 49h1v1h-1M11 55h1v1h-1M9 56h1v1h-1M86 57h1v1h-1M99 58h1v1h-1M103 59h1v1h-1"/><path fill="#00e600" d="M41 1h1v1h-1M115 15h1v1h-1M28 16h1v1h-1M125 21h1v1h-1M127 24h1v1h-1M58 30h1v1h-1M99 51h1v1h-1M11 53h1v1h-1M114 55h1v1h-1M78 57h1v1h-1"/><path fill="#00ef00" d="M33 16h1v1h-1M65 51h1v1h-1M85 51h1v1h-1"/><path fill="#00f700" d="M12 0h1v1h-1M57 11h1v1h-1M124 17h1v1h-1"/></g></pattern>
<linearGradient id="cb" x1="0" y1="1" x2="0" y2="0">
<stop offset="0" stop-color="#000"/>
<stop offset="0.2" stop-color="#00f"/>
<stop offset="0.4" stop-color="#ff0"/>
<stop offset="0.6" stop-color="#f00"/>
<stop offset="0.8" stop-color="#f0f"/>
<stop offset="1" stop-color="#fcf"/>
</linearGradient>
</defs>
<rect x="19" y="35" width="1289" height="408" fill="#000"/>
<g filter="url(#wf)">
<rect x="19" y="35" width="1289" height="408" fill="url(#nz)"/>
<g fill="#008000">
<rect x="1286.6" y="35" width="1.56" height="408" opacity="0.12"/>
<rect x="1280.31" y="35" width="1.56" height="408" opacity="0.06"/>
<rect x="1247.58" y="35" width="1.56" height="408" opacity="0.06"/>
<rect x="1227.44" y="35" width="1.56" height="408" opacity="0.06"/>
<rect x="1218.63" y="35" width="1.56" height="408" opacity="0.06"/>
<rect x="1213.59" y="35" width="1.56" height="408" opacity="0.06"/>
<rect x="1204.78" y="35" width="1.56" height="408" opacity="0.06"/>
<rect x="1202.26" y="35" width="1.56" height="408" opacity="0.06"/>
<rect x="1197.23" y="35" width="1.56" height="408" opacity="0.12"/>
<rect x="1192.19" y="35" width="1.56" height="408" opacity="0.06"/>
<rect x="1189.67" y="35" width="1.56" height="408" opacity="0.06"/>
<rect x="1183.38" y="35" width="1.56" height="408" opacity="0.06"/>
<rect x="1179.6" y="35" width="1.56" height="408" opacity="0.06"/>
<rect x="1174.57" y="35" width="1.56" height="408" opacity="0.06"/>
<rect x="1170.79" y="35" width="1.56" height="408" opacity="0.06"/>
<rect x="1168.27" y="35" width="1.56" height="408" opacity="0.06"/>
<rect x="1164.5" y="35" width="1.56" height="408" opacity="0.12"/>
<rect x="1156.95" y="35" width="1.56" height="408" opacity="0.12"/>
<rect x="1155.69" y="35" width="1.56" height="408" opacity="0.06"/>
<rect x="1153.17" y="35" width="1.56" height="408" opacity="0.06"/>
<rect x="1150.65" y="35" width="1.56" height="408" opacity="0.12"/>
<rect x="1144.36" y="35" width="2.82" height="408" opacity="0.06"/>
<rect x="1140.58" y="35" width="1.56" height="408" opacity="0.06"/>
<rect x="1126.73" y="35" width="1.56" height="408" opacity="0.06"/>
<rect x="1122.96" y="35" width="1.56" height="408" opacity="0.06"/>
<rect x="1117.92" y="35" width="1.56" height="408" opacity="0.06"/>
<rect x="1110.37" y="35" width="1.56" height="408" opacity="0.12"/>
<rect x="1106.59" y="35" width="1.56" height="408" opacity="0.06"/>
<rect x="1104.08" y="35" width="1.56" height="408" opacity="0.06"/>
<rect x="1101.56" y="35" width="1.56" height="408" opacity="0.06"/>
<rect x="1096.52" y="35" width="1.56" height="408" opacity="0.06"/>
<rect x="1094.01" y="35" width="1.56" height="408" opacity="0.06"/>
<rect x="1086.45" y="35" width="1.56" height="408" opacity="0.06"/>
<rect x="1082.68" y="35" width="1.56" height="408" opacity="0.12"/>
<rect x="1077.64" y="35" width="1.56" height="408" opacity="0.12"/>
<rect x="1075.12" y="35" width="2.82" height="408" opacity="0.06"/>
<rect x="1066.31" y="35" width="1.56" height="408" opacity="0.06"/>
<rect x="1057.5" y="35" width="1.56" height="408" opacity="0.06"/>
<rect x="1049.95" y="35" width="4.08" height="408" opacity="0.06"/>
<rect x="1044.91" y="35" width="2.82" height="408" opacity="0.12"/>
<rect x="1039.88" y="35" width="2.82" height="408" opacity="0.06"/>
<rect x="1037.36" y="35" width="1.56" height="408" opacity="0.12"/>
<rect x="1036.1" y="35" width="1.56" height="408" opacity="0.06"/>
<rect x="1032.33" y="35" width="1.56" height="408" opacity="0.06"/>
<rect x="1026.03" y="35" width="1.56" height="408" opacity="0.06"/>
<rect x="1023.51" y="35" width="1.56" height="408" opacity="0.06"/>
<rect x="1019.74" y="35" width="2.82" height="408" opacity="0.06"/>
<rect x="1017.22" y="35" width="1.56" height="408" opacity="0.06"/>
<rect x="1013.44" y="35" width="1.56" height="408" opacity="0.12"/>
<rect x="1012.18" y="35" width="1.56" height="408" opacity="0.06"/>
<rect x="1005.89" y="35" width="1.56" height="408" opacity="0.06"/>
<rect x="1003.37" y="35" width="1.56" height="408" opacity="0.12"/>
<rect x="1002.11" y="35" width="1.56" height="408" opacity="0.06"/>
<rect x="999.6" y="35" width="1.56" height="408" opacity="0.12"/>
<rect x="994.56" y="35" width="2.82" height="408" opacity="0.06"/>
<rect x="988.27" y="35" width="1.56" height="408" opacity="0.06"/>
<rect x="985.75" y="35" width="1.56" height="408" opacity="0.06"/>
<rect x="983.23" y="35" width="1.56" height="408" opacity="0.06"/>
<rect x="981.97" y="35" width="1.56" height="408" opacity="0.18"/>
<rect x="980.71" y="35" width="1.56" height="408" opacity="0.06"/>
<rect x="979.46" y="35" width="1.56" height="408" opacity="0.18"/>
<rect x="975.68" y="35" width="4.08" height="408" opacity="0.24"/>
<rect x="974.42" y="35" width="1.56" height="408" opacity="0.3"/>
<rect x="973.16" y="35" width="1.56" height="408" opacity="0.12"/>
<rect x="971.9" y="35" width="1.56" height="408" opacity="0.24"/>
<rect x="970.64" y="35" width="1.56" height="408" opacity="0.3"/>
<rect x="969.39" y="35" width="1.56" height="408" opacity="0.18"/>
<rect x="968.13" y="35" width="1.56" height="408" opacity="0.24"/>
<rect x="966.87" y="35" width="1.56" height="408" opacity="0.3"/>
<rect x="965.61" y="35" width="1.56" height="408" opacity="0.18"/>
<rect x="960.57" y="35" width="5.34" height="408" opacity="0.24"/>
<rect x="959.32" y="35" width="1.56" height="408" opacity="0.3"/>
<rect x="954.28" y="35" width="5.34" height="408" opacity="0.24"/>
<rect x="950.5" y="35" width="4.08" height="408" opacity="0.18"/>
<rect x="947.99" y="35" width="2.82" height="408" opacity="0.24"/>
<rect x="946.73" y="35" width="1.56" height="408" opacity="0.36"/>
<rect x="945.47" y="35" width="1.56" height="408" opacity="0.3"/>
<rect x="944.21" y="35" width="1.56" height="408" opacity="0.24"/>
<rect x="942.95" y="35" width="1.56" height="408" opacity="0.3"/>
<rect x="941.69" y="35" width="1.56" height="408" opacity="0.06"/>
<rect x="940.43" y="35" width="1.56" height="408" opacity="0.24"/>
<rect x="939.17" y="35" width="1.56" height="408" opacity="0.18"/>
<rect x="937.92" y="35" width="1.56" height="408" opacity="0.3"/>
<rect x="936.66" y="35" width="1.56" height="408" opacity="0.24"/>
<rect x="935.4" y="35" width="1.56" height="408" opacity="0.3"/>
<rect x="932.88" y="35" width="2.82" height="408" opacity="0.24"/>
<rect x="931.62" y="35" width="1.56" height="408" opacity="0.36"/>
<rect x="927.85" y="35" width="4.08" height="408" opacity="0.3"/>
<rect x="926.59" y="35" width="1.56" height="408" opacity="0.12"/>
<rect x="925.33" y="35" width="1.56" height="408" opacity="0.18"/>
<rect x="924.07" y="35" width="1.56" height="408" opacity="0.3"/>
<rect x="920.29" y="35" width="4.08" height="408" opacity="0.24"/>
<rect x="919.03" y="35" width="1.56" height="408" opacity="0.36"/>
<rect x="917.78" y="35" width="1.56" height="408" opacity="0.24"/>
<rect x="916.52" y="35" width="1.56" height="408" opacity="0.36"/>
<rect x="915.26" y="35" width="1.56" height="408" opacity="0.3"/>
<rect x="914" y="35" width="1.56" height="408" opacity="0.24"/>
<rect x="912.74" y="35" width="1.56" height="408" opacity="0.3"/>
<rect x="911.48" y="35" width="1.56" height="408" opacity="0.24"/>
<rect x="910.22" y="35" width="1.56" height="408" opacity="0.3"/>
<rect x="907.71" y="35" width="2.82" height="408" opacity="0.24"/>
<rect x="906.45" y="35" width="1.56" height="408" opacity="0.18"/>
<rect x="905.19" y="35" width="1.56" height="408" opacity="0.3"/>
<rect x="902.67" y="35" width="2.82" height="408" opacity="0.24"/>
<rect x="901.41" y="35" width="1.56" height="408" opacity="0.3"/>
<rect x="900.15" y="35" width="1.56" height="408" opacity="0.24"/>
<rect x="897.63" y="35" width="2.82" height="408" opacity="0.3"/>
<rect x="896.38" y="35" width="1.56" height="408" opacity="0.18"/>
<rect x="895.12" y="35" width="1.56" height="408" opacity="0.24"/>
<rect x="893.86" y="35" width="1.56" height="408" opacity="0.3"/>
<rect x="892.6" y="35" width="1.56" height="408" opacity="0.24"/>
<rect x="891.34" y="35" width="1.56" height="408" opacity="0.3"/>
<rect x="890.08" y="35" width="1.56" height="408" opacity="0.18"/>
<rect x="887.56" y="35" width="2.82" height="408" opacity="0.3"/>
<rect x="886.31" y="35" width="1.56" height="408" opacity="0.24"/>
<rect x="885.05" y="35" width="1.56" height="408" opacity="0.36"/>
<rect x="882.53" y="35" width="2.82" height="408" opacity="0.3"/>
<rect x="881.27" y="35" width="1.56" height="408" opacity="0.24"/>
<rect x="880.01" y="35" width="1.56" height="408" opacity="0.3"/>
<rect x="878.75" y="35" width="1.56" height="408" opacity="0.24"/>
<rect x="876.24" y="35" width="2.82" height="408" opacity="0.36"/>
<rect x="874.98" y="35" width="1.56" height="408" opacity="0.24"/>
<rect x="871.2" y="35" width="4.08" height="408" opacity="0.3"/>
<rect x="869.94" y="35" width="1.56" height="408" opacity="0.24"/>
<rect x="868.68" y="35" width="1.56" height="408" opacity="0.3"/>
<rect x="867.42" y="35" width="1.56" height="408" opacity="0.24"/>
<rect x="864.91" y="35" width="2.82" height="408" opacity="0.3"/>
<rect x="862.39" y="35" width="2.82" height="408" opacity="0.24"/>
<rect x="859.87" y="35" width="2.82" height="408" opacity="0.36"/>
<rect x="857.35" y="35" width="2.82" height="408" opacity="0.3"/>
<rect x="856.09" y="35" width="1.56" height="408" opacity="0.42"/>
<rect x="853.58" y="35" width="2.82" height="408" opacity="0.36"/>
<rect x="852.32" y="35" width="1.56" height="408" opacity="0.42"/>
<rect x="851.06" y="35" width="1.56" height="408" opacity="0.36"/>
<rect x="847.28" y="35" width="4.08" height="408" opacity="0.24"/>
<rect x="846.02" y="35" width="1.56" height="408" opacity="0.3"/>
<rect x="844.77" y="35" width="1.56" height="408" opacity="0.42"/>
<rect x="843.51" y="35" width="1.56" height="408" opacity="0.3"/>
<rect x="842.25" y="35" width="1.56" height="408" opacity="0.18"/>
<rect x="839.73" y="35" width="2.82" height="408" opacity="0.36"/>
<rect x="838.47" y="35" width="1.56" height="408" opacity="0.3"/>
<rect x="837.21" y="35" width="1.56" height="408" opacity="0.36"/>
<rect x="835.95" y="35" width="1.56" height="408" opacity="0.18"/>
<rect x="833.44" y="35" width="2.82" height="408" opacity="0.42"/>
<rect x="832.18" y="35" width="1.56" height="408" opacity="0.18"/>
<rect x="829.66" y="35" width="2.82" height="408" opacity="0.36"/>
<rect x="828.4" y="35" width="1.56" height="408" opacity="0.3"/>
<rect x="827.14" y="35" width="1.56" height="408" opacity="0.42"/>
<rect x="825.88" y="35" width="1.56" height="408" opacity="0.36"/>
<rect x="824.62" y="35" width="1.56" height="408" opacity="0.42"/>
<rect x="823.37" y="35" width="1.56" height="408" opacity="0.3"/>
<rect x="822.11" y="35" width="1.56" height="408" opacity="0.36"/>
<rect x="820.85" y="35" width="1.56" height="408" opacity="0.3"/>
<rect x="756.65" y="35" width="64.5" height="408" opacity="0.42"/>
<rect x="755.39" y="35" width="1.56" height="408" opacity="0.36"/>
<rect x="746.58" y="35" width="9.11" height="408" opacity="0.42"/>
<rect x="744.06" y="35" width="2.82" height="408" opacity="0.36"/>
<rect x="740.29" y="35" width="4.08" height="408" opacity="0.42"/>
<rect x="739.03" y="35" width="1.56" height="408" opacity="0.12"/>
<rect x="736.51" y="35" width="2.82" height="408" opacity="0.18"/>
<rect x="733.99" y="35" width="2.82" height="408" opacity="0.24"/>
<rect x="732.73" y="35" width="1.56" height="408" opacity="0.3"/>
<rect x="731.47" y="35" width="1.56" height="408" opacity="0.18"/>
<rect x="730.22" y="35" width="1.56" height="408" opacity="0.24"/>
<rect x="728.96" y="35" width="1.56" height="408" opacity="0.3"/>
<rect x="727.7" y="35" width="1.56" height="408" opacity="0.24"/>
<rect x="726.44" y="35" width="1.56" height="408" opacity="0.18"/>
<rect x="725.18" y="35" width="1.56" height="408" opacity="0.24"/>
<rect x="722.66" y="35" width="2.82" height="408" opacity="0.18"/>
<rect x="721.4" y="35" width="1.56" height="408" opacity="0.3"/>
<rect x="720.15" y="35" width="1.56" height="408" opacity="0.24"/>
<rect x="717.63" y="35" width="2.82" height="408" opacity="0.18"/>
<rect x="716.37" y="35" width="1.56" height="408" opacity="0.24"/>
<rect x="715.11" y="35" width="1.56" height="408" opacity="0.18"/>
<rect x="713.85" y="35" width="1.56" height="408" opacity="0.3"/>
<rect x="712.59" y="35" width="1.56" height="408" opacity="0.18"/>
<rect x="710.08" y="35" width="2.82" height="408" opacity="0.24"/>
<rect x="707.56" y="35" width="2.82" height="408" opacity="0.3"/>
<rect x="706.3" y="35" width="1.56" height="408" opacity="0.18"/>
<rect x="702.52" y="35" width="4.08" height="408" opacity="0.24"/>
<rect x="701.26" y="35" width="1.56" height="408" opacity="0.18"/>
<rect x="700" y="35" width="1.56" height="408" opacity="0.24"/>
<rect x="698.75" y="35" width="1.56" height="408" opacity="0.3"/>
<rect x="697.49" y="35" width="1.56" height="408" opacity="0.24"/>
<rect x="696.23" y="35" width="1.56" height="408" opacity="0.18"/>
<rect x="693.71" y="35" width="2.82" height="408" opacity="0.42"/>
<rect x="692.45" y="35" width="1.56" height="408" opacity="0.36"/>
<rect x="691.19" y="35" width="1.56" height="408" opacity="0.42"/>
<rect x="689.93" y="35" width="1.56" height="408" opacity="0.36"/>
<rect x="676.09" y="35" width="14.15" height="408" opacity="0.42"/>
<rect x="674.83" y="35" width="1.56" height="408" opacity="0.36"/>
<rect x="645.88" y="35" width="29.25" height="408" opacity="0.42"/>
<rect x="643.36" y="35" width="2.82" height="408" opacity="0.36"/>
<rect x="642.1" y="35" width="1.56" height="408" opacity="0.24"/>
<rect x="639.58" y="35" width="2.82" height="408" opacity="0.36"/>
<rect x="638.32" y="35" width="1.56" height="408" opacity="0.24"/>
<rect x="637.07" y="35" width="1.56" height="408" opacity="0.36"/>
<rect x="635.81" y="35" width="1.56" height="408" opacity="0.3"/>
<rect x="634.55" y="35" width="1.56" height="408" opacity="0.18"/>
<rect x="633.29" y="35" width="1.56" height="408" opacity="0.36"/>
<rect x="632.03" y="35" width="1.56" height="408" opacity="0.3"/>
<rect x="630.77" y="35" width="1.56" height="408" opacity="0.36"/>
<rect x="628.25" y="35" width="2.82" height="408" opacity="0.42"/>
<rect x="627" y="35" width="1.56" height="408" opacity="0.3"/>
<rect x="621.96" y="35" width="5.34" height="408" opacity="0.36"/>
<rect x="620.7" y="35" width="1.56" height="408" opacity="0.3"/>
<rect x="619.44" y="35" width="1.56" height="408" opacity="0.24"/>
<rect x="618.18" y="35" width="1.56" height="408" opacity="0.42"/>
<rect x="615.67" y="35" width="2.82" height="408" opacity="0.36"/>
<rect x="611.89" y="35" width="4.08" height="408" opacity="0.3"/>
<rect x="610.63" y="35" width="1.56" height="408" opacity="0.24"/>
<rect x="606.85" y="35" width="4.08" height="408" opacity="0.42"/>
<rect x="605.6" y="35" width="1.56" height="408" opacity="0.36"/>
<rect x="603.08" y="35" width="2.82" height="408" opacity="0.3"/>
<rect x="601.82" y="35" width="1.56" height="408" opacity="0.24"/>
<rect x="600.56" y="35" width="1.56" height="408" opacity="0.3"/>
<rect x="596.78" y="35" width="4.08" height="408" opacity="0.24"/>
<rect x="595.53" y="35" width="1.56" height="408" opacity="0.36"/>
<rect x="594.27" y="35" width="1.56" height="408" opacity="0.3"/>
<rect x="593.01" y="35" width="1.56" height="408" opacity="0.24"/>
<rect x="590.49" y="35" width="2.82" height="408" opacity="0.36"/>
<rect x="589.23" y="35" width="1.56" height="408" opacity="0.24"/>
<rect x="587.97" y="35" width="1.56" height="408" opacity="0.3"/>
<rect x="586.71" y="35" width="1.56" height="408" opacity="0.24"/>
<rect x="584.2" y="35" width="2.82" height="408" opacity="0.36"/>
<rect x="582.94" y="35" width="1.56" height="408" opacity="0.42"/>
<rect x="581.68" y="35" width="1.56" height="408" opacity="0.24"/>
<rect x="579.16" y="35" width="2.82" height="408" opacity="0.3"/>
<rect x="576.64" y="35" width="2.82" height="408" opacity="0.36"/>
<rect x="575.38" y="35" width="1.56" height="408" opacity="0.3"/>
<rect x="574.13" y="35" width="1.56" height="408" opacity="0.18"/>
<rect x="572.87" y="35" width="1.56" height="408" opacity="0.3"/>
<rect x="571.61" y="35" width="1.56" height="408" opacity="0.24"/>
<rect x="569.09" y="35" width="2.82" height="408" opacity="0.3"/>
<rect x="567.83" y="35" width="1.56" height="408" opacity="0.24"/>
<rect x="566.57" y="35" width="1.56" height="408" opacity="0.36"/>
<rect x="560.28" y="35" width="6.59" height="408" opacity="0.3"/>
<rect x="553.99" y="35" width="6.59" height="408" opacity="0.24"/>
<rect x="552.73" y="35" width="1.56" height="408" opacity="0.12"/>
<rect x="548.95" y="35" width="4.08" height="408" opacity="0.24"/>
<rect x="547.69" y="35" width="1.56" height="408" opacity="0.18"/>
<rect x="546.43" y="35" width="1.56" height="408" opacity="0.36"/>
<rect x="545.17" y="35" width="1.56" height="408" opacity="0.24"/>
<rect x="543.92" y="35" width="1.56" height="408" opacity="0.18"/>
<rect x="542.66" y="35" width="1.56" height="408" opacity="0.3"/>
<rect x="541.4" y="35" width="1.56" height="408" opacity="0.36"/>
<rect x="540.14" y="35" width="1.56" height="408" opacity="0.18"/>
<rect x="536.36" y="35" width="4.08" height="408" opacity="0.24"/>
<rect x="535.1" y="35" width="1.56" height="408" opacity="0.18"/>
<rect x="533.84" y="35" width="1.56" height="408" opacity="0.3"/>
<rect x="531.33" y="35" width="2.82" height="408" opacity="0.36"/>
<rect x="434.4" y="35" width="97.23" height="408" opacity="0.42"/>
<rect x="433.14" y="35" width="1.56" height="408" opacity="0.36"/>
<rect x="409.22" y="35" width="24.22" height="408" opacity="0.42"/>
<rect x="407.97" y="35" width="1.56" height="408" opacity="0.24"/>
<rect x="405.45" y="35" width="1.56" height="408" opacity="0.18"/>
<rect x="404.19" y="35" width="1.56" height="408" opacity="0.06"/>
<rect x="401.67" y="35" width="1.56" height="408" opacity="0.12"/>
<rect x="397.9" y="35" width="1.56" height="408" opacity="0.12"/>
<rect x="396.64" y="35" width="1.56" height="408" opacity="0.06"/>
<rect x="392.86" y="35" width="2.82" height="408" opacity="0.06"/>
<rect x="391.6" y="35" width="1.56" height="408" opacity="0.12"/>
<rect x="390.34" y="35" width="1.56" height="408" opacity="0.06"/>
<rect x="332.44" y="35" width="58.2" height="408" opacity="0.42"/>
<rect x="331.18" y="35" width="1.56" height="408" opacity="0.36"/>
<rect x="329.92" y="35" width="1.56" height="408" opacity="0.42"/>
<rect x="328.66" y="35" width="1.56" height="408" opacity="0.36"/>
<rect x="316.07" y="35" width="12.89" height="408" opacity="0.42"/>
<rect x="314.82" y="35" width="1.56" height="408" opacity="0.36"/>
<rect x="312.3" y="35" width="2.82" height="408" opacity="0.42"/>
<rect x="311.04" y="35" width="1.56" height="408" opacity="0.24"/>
<rect x="309.78" y="35" width="1.56" height="408" opacity="0.36"/>
<rect x="308.52" y="35" width="1.56" height="408" opacity="0.24"/>
<rect x="307.26" y="35" width="1.56" height="408" opacity="0.36"/>
<rect x="302.23" y="35" width="5.34" height="408" opacity="0.42"/>
<rect x="300.97" y="35" width="1.56" height="408" opacity="0.3"/>
<rect x="299.71" y="35" width="1.56" height="408" opacity="0.36"/>
<rect x="295.93" y="35" width="4.08" height="408" opacity="0.42"/>
<rect x="294.67" y="35" width="1.56" height="408" opacity="0.3"/>
<rect x="293.42" y="35" width="1.56" height="408" opacity="0.42"/>
<rect x="292.16" y="35" width="1.56" height="408" opacity="0.36"/>
<rect x="290.9" y="35" width="1.56" height="408" opacity="0.3"/>
<rect x="288.38" y="35" width="2.82" height="408" opacity="0.18"/>
<rect x="287.12" y="35" width="1.56" height="408" opacity="0.24"/>
<rect x="285.86" y="35" width="1.56" height="408" opacity="0.06"/>
<rect x="284.6" y="35" width="1.56" height="408" opacity="0.18"/>
<rect x="282.09" y="35" width="2.82" height="408" opacity="0.24"/>
<rect x="280.83" y="35" width="1.56" height="408" opacity="0.12"/>
<rect x="279.57" y="35" width="1.56" height="408" opacity="0.24"/>
<rect x="278.31" y="35" width="1.56" height="408" opacity="0.18"/>
<rect x="277.05" y="35" width="1.56" height="408" opacity="0.12"/>
<rect x="275.79" y="35" width="1.56" height="408" opacity="0.18"/>
<rect x="274.53" y="35" width="1.56" height="408" opacity="0.12"/>
<rect x="273.28" y="35" width="1.56" height="408" opacity="0.24"/>
<rect x="272.02" y="35" width="1.56" height="408" opacity="0.18"/>
<rect x="270.76" y="35" width="1.56" height="408" opacity="0.24"/>
<rect x="269.5" y="35" width="1.56" height="408" opacity="0.06"/>
<rect x="266.98" y="35" width="2.82" height="408" opacity="0.12"/>
<rect x="265.72" y="35" width="1.56" height="408" opacity="0.18"/>
<rect x="263.21" y="35" width="2.82" height="408" opacity="0.06"/>
<rect x="261.95" y="35" width="1.56" height="408" opacity="0.18"/>
<rect x="260.69" y="35" width="1.56" height="408" opacity="0.12"/>
<rect x="259.43" y="35" width="1.56" height="408" opacity="0.18"/>
<rect x="256.91" y="35" width="2.82" height="408" opacity="0.12"/>
<rect x="255.65" y="35" width="1.56" height="408" opacity="0.18"/>
<rect x="254.39" y="35" width="1.56" height="408" opacity="0.06"/>
<rect x="253.13" y="35" width="1.56" height="408" opacity="0.24"/>
<rect x="251.88" y="35" width="1.56" height="408" opacity="0.06"/>
<rect x="249.36" y="35" width="2.82" height="408" opacity="0.18"/>
<rect x="248.1" y="35" width="1.56" height="408" opacity="0.06"/>
<rect x="245.58" y="35" width="2.82" height="408" opacity="0.12"/>
<rect x="244.32" y="35" width="1.56" height="408" opacity="0.06"/>
<rect x="241.81" y="35" width="1.56" height="408" opacity="0.06"/>
<rect x="197.75" y="35" width="1.56" height="408" opacity="0.12"/>
<rect x="195.23" y="35" width="2.82" height="408" opacity="0.06"/>
<rect x="191.45" y="35" width="4.08" height="408" opacity="0.18"/>
<rect x="190.2" y="35" width="1.56" height="408" opacity="0.24"/>
<rect x="188.94" y="35" width="1.56" height="408" opacity="0.3"/>
<rect x="187.68" y="35" width="1.56" height="408" opacity="0.42"/>
<rect x="185.16" y="35" width="2.82" height="408" opacity="0.36"/>
<rect x="183.9" y="35" width="1.56" height="408" opacity="0.3"/>
<rect x="180.12" y="35" width="4.08" height="408" opacity="0.36"/>
<rect x="178.87" y="35" width="1.56" height="408" opacity="0.42"/>
<rect x="172.57" y="35" width="6.59" height="408" opacity="0.36"/>
<rect x="171.31" y="35" width="1.56" height="408" opacity="0.3"/>
<rect x="170.05" y="35" width="1.56" height="408" opacity="0.18"/>
<rect x="168.8" y="35" width="1.56" height="408" opacity="0.06"/>
<rect x="167.54" y="35" width="1.56" height="408" opacity="0.12"/>
<rect x="165.02" y="35" width="1.56" height="408" opacity="0.12"/>
<rect x="156.21" y="35" width="2.82" height="408" opacity="0.06"/>
<rect x="152.43" y="35" width="1.56" height="408" opacity="0.06"/>
<rect x="167.65" y="35" width="1.3" height="408" opacity="0.55"/>
<rect x="202.25" y="35" width="1.5" height="408" opacity="0.55"/>
<rect x="216.85" y="35" width="1.3" height="408" opacity="0.55"/>
<rect x="241.1" y="35" width="2.8" height="61" opacity="0.3"/>
<rect x="241.1" y="98" width="2.8" height="85" opacity="0.3"/>
<rect x="241.1" y="185" width="2.8" height="79" opacity="0.3"/>
<rect x="241.1" y="268" width="2.8" height="2" opacity="0.3"/>
<rect x="241.1" y="272" width="2.8" height="86" opacity="0.3"/>
<rect x="241.1" y="360" width="2.8" height="83" opacity="0.3"/>
<rect x="290.25" y="35" width="2.5" height="408" opacity="0.3"/>
<rect x="309.5" y="35" width="2" height="2" opacity="0.3"/>
<rect x="309.5" y="47" width="2" height="2" opacity="0.3"/>
<rect x="309.5" y="65" width="2" height="6" opacity="0.3"/>
<rect x="309.5" y="85" width="2" height="2" opacity="0.3"/>
<rect x="309.5" y="91" width="2" height="2" opacity="0.3"/>
<rect x="309.5" y="101" width="2" height="4" opacity="0.3"/>
<rect x="309.5" y="113" width="2" height="8" opacity="0.3"/>
<rect x="309.5" y="131" width="2" height="4" opacity="0.3"/>
<rect x="309.5" y="139" width="2" height="10" opacity="0.3"/>
<rect x="309.5" y="153" width="2" height="8" opacity="0.3"/>
<rect x="309.5" y="177" width="2" height="16" opacity="0.3"/>
<rect x="309.5" y="195" width="2" height="4" opacity="0.3"/>
<rect x="309.5" y="203" width="2" height="2" opacity="0.3"/>
<rect x="309.5" y="207" width="2" height="6" opacity="0.3"/>
<rect x="309.5" y="219" width="2" height="6" opacity="0.3"/>
<rect x="309.5" y="231" width="2" height="10" opacity="0.3"/>
<rect x="309.5" y="243" width="2" height="6" opacity="0.3"/>
<rect x="309.5" y="251" width="2" height="4" opacity="0.3"/>
<rect x="309.5" y="259" width="2" height="14" opacity="0.3"/>
<rect x="309.5" y="275" width="2" height="2" opacity="0.3"/>
<rect x="309.5" y="281" width="2" height="16" opacity="0.3"/>
<rect x="309.5" y="303" width="2" height="4" opacity="0.3"/>
<rect x="309.5" y="311" width="2" height="8" opacity="0.3"/>
<rect x="309.5" y="327" width="2" height="8" opacity="0.3"/>
<rect x="309.5" y="347" width="2" height="2" opacity="0.3"/>
<rect x="309.5" y="351" width="2" height="2" opacity="0.3"/>
<rect x="309.5" y="355" width="2" height="2" opacity="0.3"/>
<rect x="309.5" y="359" width="2" height="8" opacity="0.3"/>
<rect x="309.5" y="377" width="2" height="10" opacity="0.3"/>
<rect x="309.5" y="397" width="2" height="4" opacity="0.3"/>
<rect x="309.5" y="403" width="2" height="2" opacity="0.3"/>
<rect x="309.5" y="407" width="2" height="8" opacity="0.3"/>
<rect x="309.5" y="421" width="2" height="8" opacity="0.3"/>
<rect x="309.5" y="431" width="2" height="12" opacity="0.3"/>
<rect x="321.75" y="35" width="1.5" height="14" opacity="0.3"/>
<rect x="321.75" y="55" width="1.5" height="8" opacity="0.3"/>
<rect x="321.75" y="69" width="1.5" height="18" opacity="0.3"/>
<rect x="321.75" y="89" width="1.5" height="12" opacity="0.3"/>
<rect x="321.75" y="103" width="1.5" height="4" opacity="0.3"/>
<rect x="321.75" y="109" width="1.5" height="18" opacity="0.3"/>
<rect x="321.75" y="131" width="1.5" height="2" opacity="0.3"/>
<rect x="321.75" y="139" width="1.5" height="2" opacity="0.3"/>
<rect x="321.75" y="145" width="1.5" height="2" opacity="0.3"/>
<rect x="321.75" y="155" width="1.5" height="6" opacity="0.3"/>
<rect x="321.75" y="163" width="1.5" height="2" opacity="0.3"/>
<rect x="321.75" y="169" width="1.5" height="10" opacity="0.3"/>
<rect x="321.75" y="191" width="1.5" height="24" opacity="0.3"/>
<rect x="321.75" y="217" width="1.5" height="2" opacity="0.3"/>
<rect x="321.75" y="221" width="1.5" height="4" opacity="0.3"/>
<rect x="321.75" y="227" width="1.5" height="6" opacity="0.3"/>
<rect x="321.75" y="235" width="1.5" height="2" opacity="0.3"/>
<rect x="321.75" y="241" width="1.5" height="14" opacity="0.3"/>
<rect x="321.75" y="257" width="1.5" height="4" opacity="0.3"/>
<rect x="321.75" y="263" width="1.5" height="2" opacity="0.3"/>
<rect x="321.75" y="269" width="1.5" height="2" opacity="0.3"/>
<rect x="321.75" y="273" width="1.5" height="8" opacity="0.3"/>
<rect x="321.75" y="283" width="1.5" height="14" opacity="0.3"/>
<rect x="321.75" y="301" width="1.5" height="24" opacity="0.3"/>
<rect x="321.75" y="327" width="1.5" height="18" opacity="0.3"/>
<rect x="321.75" y="347" width="1.5" height="24" opacity="0.3"/>
<rect x="321.75" y="373" width="1.5" height="12" opacity="0.3"/>
<rect x="321.75" y="387" width="1.5" height="4" opacity="0.3"/>
<rect x="321.75" y="397" width="1.5" height="14" opacity="0.3"/>
<rect x="321.75" y="417" width="1.5" height="2" opacity="0.3"/>
<rect x="321.75" y="421" width="1.5" height="6" opacity="0.3"/>
<rect x="321.75" y="429" width="1.5" height="14" opacity="0.3"/>
<rect x="323.85" y="35" width="1.3" height="2" opacity="0.3"/>
<rect x="323.85" y="39" width="1.3" height="18" opacity="0.3"/>
<rect x="323.85" y="77" width="1.3" height="2" opacity="0.3"/>
<rect x="323.85" y="81" width="1.3" height="6" opacity="0.3"/>
<rect x="323.85" y="91" width="1.3" height="16" opacity="0.3"/>
<rect x="323.85" y="113" width="1.3" height="4" opacity="0.3"/>
<rect x="323.85" y="119" width="1.3" height="4" opacity="0.3"/>
<rect x="323.85" y="125" width="1.3" height="6" opacity="0.3"/>
<rect x="323.85" y="141" width="1.3" height="14" opacity="0.3"/>
<rect x="323.85" y="157" width="1.3" height="2" opacity="0.3"/>
<rect x="323.85" y="161" width="1.3" height="2" opacity="0.3"/>
<rect x="323.85" y="169" width="1.3" height="12" opacity="0.3"/>
<rect x="323.85" y="183" width="1.3" height="16" opacity="0.3"/>
<rect x="323.85" y="201" width="1.3" height="18" opacity="0.3"/>
<rect x="323.85" y="221" width="1.3" height="2" opacity="0.3"/>
<rect x="323.85" y="225" width="1.3" height="12" opacity="0.3"/>
<rect x="323.85" y="245" width="1.3" height="4" opacity="0.3"/>
<rect x="323.85" y="251" width="1.3" height="8" opacity="0.3"/>
<rect x="323.85" y="261" width="1.3" height="2" opacity="0.3"/>
<rect x="323.85" y="265" width="1.3" height="2" opacity="0.3"/>
<rect x="323.85" y="275" width="1.3" height="4" opacity="0.3"/>
<rect x="323.85" y="287" width="1.3" height="14" opacity="0.3"/>
<rect x="323.85" y="303" width="1.3" height="18" opacity="0.3"/>
<rect x="323.85" y="329" width="1.3" height="8" opacity="0.3"/>
<rect x="323.85" y="349" width="1.3" height="2" opacity="0.3"/>
<rect x="323.85" y="361" width="1.3" height="2" opacity="0.3"/>
<rect x="323.85" y="373" width="1.3" height="2" opacity="0.3"/>
<rect x="323.85" y="387" width="1.3" height="8" opacity="0.3"/>
<rect x="323.85" y="399" width="1.3" height="4" opacity="0.3"/>
<rect x="323.85" y="409" width="1.3" height="2" opacity="0.3"/>
<rect x="323.85" y="413" width="1.3" height="4" opacity="0.3"/>
<rect x="323.85" y="419" width="1.3" height="2" opacity="0.3"/>
<rect x="323.85" y="423" width="1.3" height="4" opacity="0.3"/>
<rect x="323.85" y="433" width="1.3" height="6" opacity="0.3"/>
<rect x="323.85" y="441" width="1.3" height="2" opacity="0.3"/>
<rect x="341.85" y="35" width="1.3" height="408" opacity="0.3"/>
<rect x="355.85" y="35" width="1.3" height="408" opacity="0.3"/>
<rect x="366.85" y="35" width="1.3" height="408" opacity="0.3"/>
<rect x="374" y="35" width="2" height="408" opacity="0.3"/>
<rect x="377.7" y="35" width="3.6" height="408" opacity="0.3"/>
<rect x="378.5" y="35" width="2" height="408" opacity="0.45"/>
<rect x="383" y="35" width="2" height="408" opacity="0.3"/>
<rect x="388" y="35" width="2" height="408" opacity="0.3"/>
<rect x="395" y="35" width="1" height="408" opacity="0.55"/>
<rect x="408" y="35" width="2" height="408" opacity="0.3"/>
<rect x="426.5" y="35" width="2" height="408" opacity="0.3"/>
<rect x="430" y="35" width="1" height="408" opacity="0.3"/>
<rect x="432" y="35" width="3" height="408" opacity="0.45"/>
<rect x="450.55" y="35" width="1.5" height="408" opacity="0.45"/>
<rect x="458.55" y="35" width="1.5" height="408" opacity="0.45"/>
<rect x="471" y="35" width="2" height="408" opacity="0.3"/>
<rect x="491.55" y="35" width="1.5" height="408" opacity="0.45"/>
<rect x="500.25" y="35" width="2.5" height="10" opacity="0.3"/>
<rect x="500.25" y="49" width="2.5" height="2" opacity="0.3"/>
<rect x="500.25" y="59" width="2.5" height="16" opacity="0.3"/>
<rect x="500.25" y="81" width="2.5" height="2" opacity="0.3"/>
<rect x="500.25" y="85" width="2.5" height="12" opacity="0.3"/>
<rect x="500.25" y="109" width="2.5" height="2" opacity="0.3"/>
<rect x="500.25" y="119" width="2.5" height="16" opacity="0.3"/>
<rect x="500.25" y="139" width="2.5" height="2" opacity="0.3"/>
<rect x="500.25" y="143" width="2.5" height="4" opacity="0.3"/>
<rect x="500.25" y="163" width="2.5" height="2" opacity="0.3"/>
<rect x="500.25" y="183" width="2.5" height="2" opacity="0.3"/>
<rect x="500.25" y="189" width="2.5" height="8" opacity="0.3"/>
<rect x="500.25" y="199" width="2.5" height="1" opacity="0.3"/>
<rect x="508.4" y="35" width="1.6" height="10" opacity="0.3"/>
<rect x="508.4" y="47" width="1.6" height="2" opacity="0.3"/>
<rect x="508.4" y="51" width="1.6" height="26" opacity="0.3"/>
<rect x="508.4" y="83" width="1.6" height="2" opacity="0.3"/>
<rect x="508.4" y="87" width="1.6" height="24" opacity="0.3"/>
<rect x="508.4" y="113" width="1.6" height="8" opacity="0.3"/>
<rect x="508.4" y="127" width="1.6" height="4" opacity="0.3"/>
<rect x="508.4" y="139" width="1.6" height="14" opacity="0.3"/>
<rect x="508.4" y="159" width="1.6" height="14" opacity="0.3"/>
<rect x="508.4" y="175" width="1.6" height="12" opacity="0.3"/>
<rect x="508.4" y="189" width="1.6" height="10" opacity="0.3"/>
<rect x="508.4" y="201" width="1.6" height="4" opacity="0.3"/>
<rect x="508.4" y="207" width="1.6" height="12" opacity="0.3"/>
<rect x="508.4" y="221" width="1.6" height="10" opacity="0.3"/>
<rect x="508.4" y="233" width="1.6" height="4" opacity="0.3"/>
<rect x="508.4" y="239" width="1.6" height="4" opacity="0.3"/>
<rect x="508.4" y="249" width="1.6" height="4" opacity="0.3"/>
<rect x="508.4" y="255" width="1.6" height="30" opacity="0.3"/>
<rect x="508.4" y="287" width="1.6" height="2" opacity="0.3"/>
<rect x="508.4" y="291" width="1.6" height="12" opacity="0.3"/>
<rect x="508.4" y="305" width="1.6" height="12" opacity="0.3"/>
<rect x="508.4" y="319" width="1.6" height="2" opacity="0.3"/>
<rect x="508.4" y="323" width="1.6" height="14" opacity="0.3"/>
<rect x="508.4" y="339" width="1.6" height="6" opacity="0.3"/>
<rect x="508.4" y="349" width="1.6" height="2" opacity="0.3"/>
<rect x="508.4" y="353" width="1.6" height="24" opacity="0.3"/>
<rect x="508.4" y="379" width="1.6" height="2" opacity="0.3"/>
<rect x="508.4" y="383" width="1.6" height="6" opacity="0.3"/>
<rect x="508.4" y="391" width="1.6" height="20" opacity="0.3"/>
<rect x="508.4" y="413" width="1.6" height="2" opacity="0.3"/>
<rect x="508.4" y="417" width="1.6" height="14" opacity="0.3"/>
<rect x="508.4" y="433" width="1.6" height="10" opacity="0.3"/>
<rect x="512.5" y="35" width="2" height="408" opacity="0.3"/>
<rect x="515.25" y="35" width="1.5" height="408" opacity="0.3"/>
<rect x="530.75" y="35" width="1.5" height="408" opacity="0.3"/>
<rect x="532.75" y="35" width="1.5" height="408" opacity="0.45"/>
<rect x="563" y="35" width="2" height="4" opacity="0.3"/>
<rect x="563" y="47" width="2" height="4" opacity="0.3"/>
<rect x="563" y="55" width="2" height="16" opacity="0.3"/>
<rect x="563" y="75" width="2" height="2" opacity="0.3"/>
<rect x="563" y="83" width="2" height="4" opacity="0.3"/>
<rect x="563" y="89" width="2" height="18" opacity="0.3"/>
<rect x="563" y="109" width="2" height="2" opacity="0.3"/>
<rect x="563" y="113" width="2" height="6" opacity="0.3"/>
<rect x="563" y="121" width="2" height="2" opacity="0.3"/>
<rect x="563" y="125" width="2" height="2" opacity="0.3"/>
<rect x="563" y="129" width="2" height="6" opacity="0.3"/>
<rect x="563" y="139" width="2" height="16" opacity="0.3"/>
<rect x="563" y="163" width="2" height="20" opacity="0.3"/>
<rect x="563" y="185" width="2" height="10" opacity="0.3"/>
<rect x="563" y="199" width="2" height="2" opacity="0.3"/>
<rect x="563" y="203" width="2" height="22" opacity="0.3"/>
<rect x="563" y="229" width="2" height="2" opacity="0.3"/>
<rect x="563" y="233" width="2" height="12" opacity="0.3"/>
<rect x="563" y="247" width="2" height="8" opacity="0.3"/>
<rect x="563" y="257" width="2" height="2" opacity="0.3"/>
<rect x="563" y="261" width="2" height="2" opacity="0.3"/>
<rect x="563" y="265" width="2" height="6" opacity="0.3"/>
<rect x="563" y="275" width="2" height="12" opacity="0.3"/>
<rect x="563" y="289" width="2" height="4" opacity="0.3"/>
<rect x="563" y="301" width="2" height="24" opacity="0.3"/>
<rect x="563" y="327" width="2" height="6" opacity="0.3"/>
<rect x="563" y="335" width="2" height="4" opacity="0.3"/>
<rect x="563" y="343" width="2" height="6" opacity="0.3"/>
<rect x="563" y="361" width="2" height="8" opacity="0.3"/>
<rect x="563" y="371" width="2" height="2" opacity="0.3"/>
<rect x="563" y="375" width="2" height="14" opacity="0.3"/>
<rect x="563" y="393" width="2" height="2" opacity="0.3"/>
<rect x="563" y="397" width="2" height="6" opacity="0.3"/>
<rect x="563" y="407" width="2" height="2" opacity="0.3"/>
<rect x="563" y="411" width="2" height="4" opacity="0.3"/>
<rect x="563" y="417" width="2" height="2" opacity="0.3"/>
<rect x="563" y="421" width="2" height="2" opacity="0.3"/>
<rect x="563" y="425" width="2" height="6" opacity="0.3"/>
<rect x="572.5" y="49" width="2" height="2" opacity="0.3"/>
<rect x="572.5" y="53" width="2" height="2" opacity="0.3"/>
<rect x="572.5" y="57" width="2" height="4" opacity="0.3"/>
<rect x="572.5" y="63" width="2" height="6" opacity="0.3"/>
<rect x="572.5" y="73" width="2" height="14" opacity="0.3"/>
<rect x="572.5" y="89" width="2" height="2" opacity="0.3"/>
<rect x="572.5" y="101" width="2" height="14" opacity="0.3"/>
<rect x="572.5" y="125" width="2" height="4" opacity="0.3"/>
<rect x="572.5" y="131" width="2" height="4" opacity="0.3"/>
<rect x="572.5" y="145" width="2" height="2" opacity="0.3"/>
<rect x="572.5" y="149" width="2" height="6" opacity="0.3"/>
<rect x="572.5" y="159" width="2" height="2" opacity="0.3"/>
<rect x="572.5" y="167" width="2" height="12" opacity="0.3"/>
<rect x="572.5" y="181" width="2" height="6" opacity="0.3"/>
<rect x="572.5" y="189" width="2" height="10" opacity="0.3"/>
<rect x="572.5" y="201" width="2" height="6" opacity="0.3"/>
<rect x="572.5" y="221" width="2" height="2" opacity="0.3"/>
<rect x="572.5" y="225" width="2" height="12" opacity="0.3"/>
<rect x="572.5" y="241" width="2" height="16" opacity="0.3"/>
<rect x="572.5" y="261" width="2" height="14" opacity="0.3"/>
<rect x="572.5" y="277" width="2" height="10" opacity="0.3"/>
<rect x="572.5" y="293" width="2" height="4" opacity="0.3"/>
<rect x="572.5" y="299" width="2" height="2" opacity="0.3"/>
<rect x="572.5" y="309" width="2" height="4" opacity="0.3"/>
<rect x="572.5" y="315" width="2" height="12" opacity="0.3"/>
<rect x="572.5" y="329" width="2" height="2" opacity="0.3"/>
<rect x="572.5" y="335" width="2" height="4" opacity="0.3"/>
<rect x="572.5" y="345" width="2" height="10" opacity="0.3"/>
<rect x="572.5" y="357" width="2" height="12" opacity="0.3"/>
<rect x="572.5" y="371" width="2" height="2" opacity="0.3"/>
<rect x="572.5" y="375" width="2" height="4" opacity="0.3"/>
<rect x="572.5" y="381" width="2" height="4" opacity="0.3"/>
<rect x="572.5" y="389" width="2" height="10" opacity="0.3"/>
<rect x="572.5" y="405" width="2" height="2" opacity="0.3"/>
<rect x="572.5" y="409" width="2" height="16" opacity="0.3"/>
<rect x="572.5" y="431" width="2" height="12" opacity="0.3"/>
<rect x="580.85" y="37" width="1.3" height="6" opacity="0.3"/>
<rect x="580.85" y="53" width="1.3" height="2" opacity="0.3"/>
<rect x="580.85" y="57" width="1.3" height="6" opacity="0.3"/>
<rect x="580.85" y="65" width="1.3" height="2" opacity="0.3"/>
<rect x="580.85" y="69" width="1.3" height="2" opacity="0.3"/>
<rect x="580.85" y="77" width="1.3" height="4" opacity="0.3"/>
<rect x="580.85" y="83" width="1.3" height="12" opacity="0.3"/>
<rect x="580.85" y="97" width="1.3" height="2" opacity="0.3"/>
<rect x="580.85" y="101" width="1.3" height="2" opacity="0.3"/>
<rect x="580.85" y="105" width="1.3" height="6" opacity="0.3"/>
<rect x="580.85" y="117" width="1.3" height="6" opacity="0.3"/>
<rect x="580.85" y="125" width="1.3" height="8" opacity="0.3"/>
<rect x="580.85" y="135" width="1.3" height="12" opacity="0.3"/>
<rect x="580.85" y="149" width="1.3" height="2" opacity="0.3"/>
<rect x="580.85" y="155" width="1.3" height="2" opacity="0.3"/>
<rect x="580.85" y="159" width="1.3" height="10" opacity="0.3"/>
<rect x="580.85" y="171" width="1.3" height="8" opacity="0.3"/>
<rect x="580.85" y="181" width="1.3" height="6" opacity="0.3"/>
<rect x="580.85" y="191" width="1.3" height="2" opacity="0.3"/>
<rect x="580.85" y="195" width="1.3" height="2" opacity="0.3"/>
<rect x="580.85" y="203" width="1.3" height="2" opacity="0.3"/>
<rect x="580.85" y="213" width="1.3" height="2" opacity="0.3"/>
<rect x="580.85" y="217" width="1.3" height="2" opacity="0.3"/>
<rect x="580.85" y="223" width="1.3" height="2" opacity="0.3"/>
<rect x="580.85" y="235" width="1.3" height="8" opacity="0.3"/>
<rect x="580.85" y="247" width="1.3" height="2" opacity="0.3"/>
<rect x="580.85" y="251" width="1.3" height="2" opacity="0.3"/>
<rect x="580.85" y="255" width="1.3" height="6" opacity="0.3"/>
<rect x="580.85" y="269" width="1.3" height="2" opacity="0.3"/>
<rect x="580.85" y="273" width="1.3" height="2" opacity="0.3"/>
<rect x="580.85" y="277" width="1.3" height="2" opacity="0.3"/>
<rect x="580.85" y="281" width="1.3" height="2" opacity="0.3"/>
<rect x="580.85" y="285" width="1.3" height="2" opacity="0.3"/>
<rect x="580.85" y="289" width="1.3" height="12" opacity="0.3"/>
<rect x="580.85" y="307" width="1.3" height="2" opacity="0.3"/>
<rect x="580.85" y="317" width="1.3" height="4" opacity="0.3"/>
<rect x="580.85" y="325" width="1.3" height="2" opacity="0.3"/>
<rect x="580.85" y="329" width="1.3" height="2" opacity="0.3"/>
<rect x="580.85" y="333" width="1.3" height="8" opacity="0.3"/>
<rect x="580.85" y="349" width="1.3" height="6" opacity="0.3"/>
<rect x="580.85" y="363" width="1.3" height="2" opacity="0.3"/>
<rect x="580.85" y="367" width="1.3" height="6" opacity="0.3"/>
<rect x="580.85" y="387" width="1.3" height="4" opacity="0.3"/>
<rect x="580.85" y="401" width="1.3" height="8" opacity="0.3"/>
<rect x="580.85" y="411" width="1.3" height="2" opacity="0.3"/>
<rect x="580.85" y="417" width="1.3" height="8" opacity="0.3"/>
<rect x="580.85" y="427" width="1.3" height="2" opacity="0.3"/>
<rect x="580.85" y="431" width="1.3" height="8" opacity="0.3"/>
<rect x="580.85" y="441" width="1.3" height="2" opacity="0.3"/>
<rect x="597" y="35" width="2" height="408" opacity="0.55"/>
<rect x="605.8" y="35" width="3.4" height="408" opacity="0.3"/>
<rect x="606.5" y="35" width="1.8" height="408" opacity="0.45"/>
<rect x="609.35" y="35" width="1.3" height="408" opacity="0.55"/>
<rect x="619.25" y="35" width="1.5" height="12" opacity="0.3"/>
<rect x="619.25" y="49" width="1.5" height="2" opacity="0.3"/>
<rect x="619.25" y="53" width="1.5" height="6" opacity="0.3"/>
<rect x="619.25" y="63" width="1.5" height="14" opacity="0.3"/>
<rect x="619.25" y="79" width="1.5" height="16" opacity="0.3"/>
<rect x="619.25" y="99" width="1.5" height="2" opacity="0.3"/>
<rect x="619.25" y="103" width="1.5" height="6" opacity="0.3"/>
<rect x="619.25" y="111" width="1.5" height="6" opacity="0.3"/>
<rect x="619.25" y="119" width="1.5" height="10" opacity="0.3"/>
<rect x="619.25" y="131" width="1.5" height="12" opacity="0.3"/>
<rect x="619.25" y="145" width="1.5" height="2" opacity="0.3"/>
<rect x="619.25" y="149" width="1.5" height="12" opacity="0.3"/>
<rect x="619.25" y="167" width="1.5" height="16" opacity="0.3"/>
<rect x="619.25" y="185" width="1.5" height="16" opacity="0.3"/>
<rect x="619.25" y="203" width="1.5" height="12" opacity="0.3"/>
<rect x="619.25" y="219" width="1.5" height="2" opacity="0.3"/>
<rect x="619.25" y="229" width="1.5" height="4" opacity="0.3"/>
<rect x="619.25" y="235" width="1.5" height="4" opacity="0.3"/>
<rect x="619.25" y="241" width="1.5" height="2" opacity="0.3"/>
<rect x="619.25" y="249" width="1.5" height="4" opacity="0.3"/>
<rect x="619.25" y="255" width="1.5" height="16" opacity="0.3"/>
<rect x="619.25" y="273" width="1.5" height="2" opacity="0.3"/>
<rect x="619.25" y="277" width="1.5" height="8" opacity="0.3"/>
<rect x="619.25" y="287" width="1.5" height="4" opacity="0.3"/>
<rect x="619.25" y="293" width="1.5" height="2" opacity="0.3"/>
<rect x="619.25" y="297" width="1.5" height="18" opacity="0.3"/>
<rect x="619.25" y="319" width="1.5" height="18" opacity="0.3"/>
<rect x="619.25" y="339" width="1.5" height="2" opacity="0.3"/>
<rect x="619.25" y="345" width="1.5" height="10" opacity="0.3"/>
<rect x="619.25" y="357" width="1.5" height="4" opacity="0.3"/>
<rect x="619.25" y="363" width="1.5" height="4" opacity="0.3"/>
<rect x="619.25" y="369" width="1.5" height="8" opacity="0.3"/>
<rect x="619.25" y="379" width="1.5" height="2" opacity="0.3"/>
<rect x="619.25" y="383" width="1.5" height="2" opacity="0.3"/>
<rect x="619.25" y="393" width="1.5" height="18" opacity="0.3"/>
<rect x="619.25" y="413" width="1.5" height="4" opacity="0.3"/>
<rect x="619.25" y="421" width="1.5" height="16" opacity="0.3"/>
<rect x="619.25" y="439" width="1.5" height="4" opacity="0.3"/>
<rect x="621.75" y="35" width="1.5" height="408" opacity="0.55"/>
<rect x="627.25" y="35" width="2.5" height="2" opacity="0.3"/>
<rect x="627.25" y="43" width="2.5" height="6" opacity="0.3"/>
<rect x="627.25" y="53" width="2.5" height="2" opacity="0.3"/>
<rect x="627.25" y="59" width="2.5" height="10" opacity="0.3"/>
<rect x="627.25" y="73" width="2.5" height="4" opacity="0.3"/>
<rect x="627.25" y="79" width="2.5" height="4" opacity="0.3"/>
<rect x="627.25" y="85" width="2.5" height="10" opacity="0.3"/>
<rect x="627.25" y="97" width="2.5" height="2" opacity="0.3"/>
<rect x="627.25" y="101" width="2.5" height="2" opacity="0.3"/>
<rect x="627.25" y="105" width="2.5" height="12" opacity="0.3"/>
<rect x="627.25" y="127" width="2.5" height="2" opacity="0.3"/>
<rect x="627.25" y="131" width="2.5" height="8" opacity="0.3"/>
<rect x="627.25" y="143" width="2.5" height="2" opacity="0.3"/>
<rect x="627.25" y="147" width="2.5" height="14" opacity="0.3"/>
<rect x="627.25" y="163" width="2.5" height="14" opacity="0.3"/>
<rect x="627.25" y="179" width="2.5" height="10" opacity="0.3"/>
<rect x="627.25" y="191" width="2.5" height="2" opacity="0.3"/>
<rect x="627.25" y="195" width="2.5" height="4" opacity="0.3"/>
<rect x="627.25" y="201" width="2.5" height="4" opacity="0.3"/>
<rect x="627.25" y="207" width="2.5" height="8" opacity="0.3"/>
<rect x="627.25" y="217" width="2.5" height="2" opacity="0.3"/>
<rect x="627.25" y="225" width="2.5" height="6" opacity="0.3"/>
<rect x="627.25" y="233" width="2.5" height="2" opacity="0.3"/>
<rect x="627.25" y="245" width="2.5" height="4" opacity="0.3"/>
<rect x="627.25" y="251" width="2.5" height="2" opacity="0.3"/>
<rect x="627.25" y="255" width="2.5" height="6" opacity="0.3"/>
<rect x="627.25" y="263" width="2.5" height="6" opacity="0.3"/>
<rect x="627.25" y="271" width="2.5" height="10" opacity="0.3"/>
<rect x="627.25" y="283" width="2.5" height="4" opacity="0.3"/>
<rect x="627.25" y="295" width="2.5" height="2" opacity="0.3"/>
<rect x="627.25" y="301" width="2.5" height="2" opacity="0.3"/>
<rect x="627.25" y="305" width="2.5" height="2" opacity="0.3"/>
<rect x="627.25" y="311" width="2.5" height="14" opacity="0.3"/>
<rect x="627.25" y="327" width="2.5" height="6" opacity="0.3"/>
<rect x="627.25" y="335" width="2.5" height="4" opacity="0.3"/>
<rect x="627.25" y="343" width="2.5" height="2" opacity="0.3"/>
<rect x="627.25" y="347" width="2.5" height="6" opacity="0.3"/>
<rect x="627.25" y="355" width="2.5" height="6" opacity="0.3"/>
<rect x="627.25" y="365" width="2.5" height="6" opacity="0.3"/>
<rect x="627.25" y="381" width="2.5" height="2" opacity="0.3"/>
<rect x="627.25" y="385" width="2.5" height="12" opacity="0.3"/>
<rect x="627.25" y="399" width="2.5" height="10" opacity="0.3"/>
<rect x="627.25" y="411" width="2.5" height="2" opacity="0.3"/>
<rect x="627.25" y="415" width="2.5" height="8" opacity="0.3"/>
<rect x="627.25" y="427" width="2.5" height="2" opacity="0.3"/>
<rect x="627.25" y="431" width="2.5" height="2" opacity="0.3"/>
<rect x="627.25" y="439" width="2.5" height="2" opacity="0.3"/>
<rect x="645.5" y="35" width="3" height="408" opacity="0.55"/>
<rect x="652.75" y="35" width="1.5" height="408" opacity="0.3"/>
<rect x="659" y="35" width="2" height="2" opacity="0.45"/>
<rect x="659" y="49" width="2" height="2" opacity="0.45"/>
<rect x="659" y="53" width="2" height="8" opacity="0.45"/>
<rect x="659" y="63" width="2" height="2" opacity="0.45"/>
<rect x="659" y="67" width="2" height="4" opacity="0.45"/>
<rect x="659" y="73" width="2" height="2" opacity="0.45"/>
<rect x="659" y="85" width="2" height="2" opacity="0.45"/>
<rect x="659" y="91" width="2" height="2" opacity="0.45"/>
<rect x="659" y="95" width="2" height="4" opacity="0.45"/>
<rect x="659" y="105" width="2" height="4" opacity="0.45"/>
<rect x="659" y="111" width="2" height="4" opacity="0.45"/>
<rect x="659" y="119" width="2" height="2" opacity="0.45"/>
<rect x="659" y="123" width="2" height="2" opacity="0.45"/>
<rect x="659" y="127" width="2" height="2" opacity="0.45"/>
<rect x="659" y="131" width="2" height="4" opacity="0.45"/>
<rect x="659" y="143" width="2" height="8" opacity="0.45"/>
<rect x="659" y="157" width="2" height="2" opacity="0.45"/>
<rect x="659" y="161" width="2" height="8" opacity="0.45"/>
<rect x="659" y="177" width="2" height="8" opacity="0.45"/>
<rect x="659" y="191" width="2" height="2" opacity="0.45"/>
<rect x="659" y="197" width="2" height="2" opacity="0.45"/>
<rect x="659" y="201" width="2" height="2" opacity="0.45"/>
<rect x="659" y="213" width="2" height="2" opacity="0.45"/>
<rect x="659" y="217" width="2" height="2" opacity="0.45"/>
<rect x="659" y="225" width="2" height="6" opacity="0.45"/>
<rect x="659" y="233" width="2" height="2" opacity="0.45"/>
<rect x="659" y="243" width="2" height="2" opacity="0.45"/>
<rect x="659" y="247" width="2" height="2" opacity="0.45"/>
<rect x="659" y="251" width="2" height="2" opacity="0.45"/>
<rect x="659" y="255" width="2" height="2" opacity="0.45"/>
<rect x="659" y="261" width="2" height="2" opacity="0.45"/>
<rect x="659" y="265" width="2" height="6" opacity="0.45"/>
<rect x="659" y="279" width="2" height="2" opacity="0.45"/>
<rect x="659" y="289" width="2" height="2" opacity="0.45"/>
<rect x="659" y="299" width="2" height="8" opacity="0.45"/>
<rect x="659" y="309" width="2" height="2" opacity="0.45"/>
<rect x="659" y="315" width="2" height="8" opacity="0.45"/>
<rect x="659" y="325" width="2" height="2" opacity="0.45"/>
<rect x="659" y="331" width="2" height="2" opacity="0.45"/>
<rect x="659" y="339" width="2" height="6" opacity="0.45"/>
<rect x="659" y="347" width="2" height="2" opacity="0.45"/>
<rect x="659" y="351" width="2" height="4" opacity="0.45"/>
<rect x="659" y="361" width="2" height="2" opacity="0.45"/>
<rect x="659" y="367" width="2" height="2" opacity="0.45"/>
<rect x="659" y="371" width="2" height="2" opacity="0.45"/>
<rect x="659" y="379" width="2" height="6" opacity="0.45"/>
<rect x="659" y="387" width="2" height="2" opacity="0.45"/>
<rect x="659" y="401" width="2" height="6" opacity="0.45"/>
<rect x="659" y="409" width="2" height="2" opacity="0.45"/>
<rect x="659" y="413" width="2" height="2" opacity="0.45"/>
<rect x="659" y="419" width="2" height="2" opacity="0.45"/>
<rect x="659" y="423" width="2" height="2" opacity="0.45"/>
<rect x="659" y="427" width="2" height="4" opacity="0.45"/>
<rect x="659" y="433" width="2" height="8" opacity="0.45"/>
<rect x="672.5" y="75" width="2" height="368" opacity="0.3"/>
<rect x="678.8" y="35" width="2.4" height="408" opacity="0.45"/>
<rect x="681" y="35" width="1" height="408" opacity="0.55"/>
<rect x="683" y="35" width="1" height="408" opacity="0.55"/>
<rect x="687" y="35" width="2" height="408" opacity="0.45"/>
<rect x="692" y="35" width="2" height="408" opacity="0.3"/>
<rect x="741" y="35" width="1" height="265" opacity="0.3"/>
<rect x="741" y="300" width="1" height="143" opacity="0.55"/>
<rect x="765.85" y="35" width="2.3" height="408" opacity="0.45"/>
<rect x="770" y="67" width="1" height="376" opacity="0.3"/>
<rect x="774" y="35" width="2" height="408" opacity="0.45"/>
<rect x="777.25" y="35" width="1.5" height="408" opacity="0.3"/>
<rect x="779" y="35" width="5" height="408" opacity="0.45"/>
<rect x="782.5" y="35" width="1.6" height="408" opacity="0.45"/>
<rect x="784.9" y="35" width="2.6" height="408" opacity="0.3"/>
<rect x="792.2" y="35" width="1.6" height="100" opacity="0.3"/>
<rect x="793.65" y="135" width="1.3" height="6" opacity="0.3"/>
<rect x="793.65" y="143" width="1.3" height="10" opacity="0.3"/>
<rect x="793.65" y="157" width="1.3" height="2" opacity="0.3"/>
<rect x="793.65" y="161" width="1.3" height="16" opacity="0.3"/>
<rect x="793.65" y="181" width="1.3" height="6" opacity="0.3"/>
<rect x="793.65" y="193" width="1.3" height="2" opacity="0.3"/>
<rect x="793.65" y="199" width="1.3" height="1" opacity="0.3"/>
<rect x="795" y="200" width="1" height="4" opacity="0.3"/>
<rect x="795" y="210" width="1" height="6" opacity="0.3"/>
<rect x="795" y="218" width="1" height="4" opacity="0.3"/>
<rect x="795" y="230" width="1" height="2" opacity="0.3"/>
<rect x="795" y="234" width="1" height="4" opacity="0.3"/>
<rect x="795" y="240" width="1" height="6" opacity="0.3"/>
<rect x="795" y="248" width="1" height="10" opacity="0.3"/>
<rect x="795" y="260" width="1" height="14" opacity="0.3"/>
<rect x="795" y="276" width="1" height="2" opacity="0.3"/>
<rect x="795" y="284" width="1" height="2" opacity="0.3"/>
<rect x="795" y="288" width="1" height="6" opacity="0.3"/>
<rect x="795" y="300" width="1" height="2" opacity="0.3"/>
<rect x="795" y="304" width="1" height="2" opacity="0.3"/>
<rect x="795" y="308" width="1" height="2" opacity="0.3"/>
<rect x="795" y="312" width="1" height="6" opacity="0.3"/>
<rect x="795" y="320" width="1" height="4" opacity="0.3"/>
<rect x="795" y="326" width="1" height="2" opacity="0.3"/>
<rect x="795" y="330" width="1" height="2" opacity="0.3"/>
<rect x="795" y="334" width="1" height="2" opacity="0.3"/>
<rect x="795" y="340" width="1" height="2" opacity="0.3"/>
<rect x="795" y="346" width="1" height="2" opacity="0.3"/>
<rect x="795" y="350" width="1" height="8" opacity="0.3"/>
<rect x="795" y="360" width="1" height="18" opacity="0.3"/>
<rect x="795" y="382" width="1" height="18" opacity="0.3"/>
<rect x="795" y="402" width="1" height="8" opacity="0.3"/>
<rect x="795" y="414" width="1" height="2" opacity="0.3"/>
<rect x="795" y="420" width="1" height="2" opacity="0.3"/>
<rect x="795" y="426" width="1" height="10" opacity="0.3"/>
<rect x="795" y="438" width="1" height="5" opacity="0.3"/>
<rect x="811.5" y="35" width="1" height="408" opacity="0.55"/>
<rect x="818.25" y="35" width="1.5" height="36" opacity="0.3"/>
<rect x="818.25" y="73" width="1.5" height="36" opacity="0.3"/>
<rect x="818.25" y="111" width="1.5" height="14" opacity="0.3"/>
<rect x="818.25" y="129" width="1.5" height="10" opacity="0.3"/>
<rect x="818.25" y="141" width="1.5" height="20" opacity="0.3"/>
<rect x="818.25" y="163" width="1.5" height="6" opacity="0.3"/>
<rect x="818.25" y="171" width="1.5" height="28" opacity="0.3"/>
<rect x="818.25" y="201" width="1.5" height="10" opacity="0.3"/>
<rect x="818.25" y="217" width="1.5" height="6" opacity="0.3"/>
<rect x="818.25" y="225" width="1.5" height="12" opacity="0.3"/>
<rect x="818.25" y="239" width="1.5" height="10" opacity="0.3"/>
<rect x="818.25" y="251" width="1.5" height="4" opacity="0.3"/>
<rect x="818.25" y="257" width="1.5" height="2" opacity="0.3"/>
<rect x="818.25" y="261" width="1.5" height="2" opacity="0.3"/>
<rect x="818.25" y="265" width="1.5" height="36" opacity="0.3"/>
<rect x="818.25" y="303" width="1.5" height="2" opacity="0.3"/>
<rect x="818.25" y="307" width="1.5" height="22" opacity="0.3"/>
<rect x="818.25" y="331" width="1.5" height="22" opacity="0.3"/>
<rect x="818.25" y="355" width="1.5" height="6" opacity="0.3"/>
<rect x="818.25" y="363" width="1.5" height="8" opacity="0.3"/>
<rect x="818.25" y="373" width="1.5" height="2" opacity="0.3"/>
<rect x="818.25" y="377" width="1.5" height="14" opacity="0.3"/>
<rect x="818.25" y="393" width="1.5" height="6" opacity="0.3"/>
<rect x="818.25" y="401" width="1.5" height="22" opacity="0.3"/>
<rect x="818.25" y="425" width="1.5" height="16" opacity="0.3"/>
<rect x="852" y="35" width="2" height="4" opacity="0.3"/>
<rect x="852" y="41" width="2" height="2" opacity="0.3"/>
<rect x="852" y="45" width="2" height="6" opacity="0.3"/>
<rect x="852" y="53" width="2" height="6" opacity="0.3"/>
<rect x="852" y="63" width="2" height="4" opacity="0.3"/>
<rect x="852" y="69" width="2" height="2" opacity="0.3"/>
<rect x="852" y="73" width="2" height="2" opacity="0.3"/>
<rect x="852" y="83" width="2" height="2" opacity="0.3"/>
<rect x="852" y="91" width="2" height="2" opacity="0.3"/>
<rect x="852" y="95" width="2" height="2" opacity="0.3"/>
<rect x="852" y="101" width="2" height="4" opacity="0.3"/>
<rect x="852" y="111" width="2" height="6" opacity="0.3"/>
<rect x="852" y="121" width="2" height="2" opacity="0.3"/>
<rect x="852" y="125" width="2" height="6" opacity="0.3"/>
<rect x="852" y="135" width="2" height="2" opacity="0.3"/>
<rect x="852" y="141" width="2" height="6" opacity="0.3"/>
<rect x="852" y="149" width="2" height="2" opacity="0.3"/>
<rect x="852" y="153" width="2" height="4" opacity="0.3"/>
<rect x="852" y="159" width="2" height="2" opacity="0.3"/>
<rect x="852" y="163" width="2" height="2" opacity="0.3"/>
<rect x="852" y="167" width="2" height="4" opacity="0.3"/>
<rect x="852" y="175" width="2" height="6" opacity="0.3"/>
<rect x="852" y="183" width="2" height="2" opacity="0.3"/>
<rect x="852" y="189" width="2" height="4" opacity="0.3"/>
<rect x="852" y="195" width="2" height="2" opacity="0.3"/>
<rect x="852" y="199" width="2" height="2" opacity="0.3"/>
<rect x="852" y="203" width="2" height="2" opacity="0.3"/>
<rect x="852" y="207" width="2" height="4" opacity="0.3"/>
<rect x="852" y="213" width="2" height="6" opacity="0.3"/>
<rect x="852" y="221" width="2" height="2" opacity="0.3"/>
<rect x="852" y="225" width="2" height="2" opacity="0.3"/>
<rect x="852" y="229" width="2" height="2" opacity="0.3"/>
<rect x="852" y="233" width="2" height="6" opacity="0.3"/>
<rect x="852" y="241" width="2" height="4" opacity="0.3"/>
<rect x="852" y="247" width="2" height="2" opacity="0.3"/>
<rect x="852" y="253" width="2" height="6" opacity="0.3"/>
<rect x="852" y="261" width="2" height="2" opacity="0.3"/>
<rect x="852" y="265" width="2" height="8" opacity="0.3"/>
<rect x="852" y="275" width="2" height="2" opacity="0.3"/>
<rect x="852" y="279" width="2" height="2" opacity="0.3"/>
<rect x="852" y="283" width="2" height="2" opacity="0.3"/>
<rect x="852" y="287" width="2" height="4" opacity="0.3"/>
<rect x="852" y="295" width="2" height="2" opacity="0.3"/>
<rect x="852" y="299" width="2" height="2" opacity="0.3"/>
<rect x="852" y="303" width="2" height="2" opacity="0.3"/>
<rect x="852" y="307" width="2" height="4" opacity="0.3"/>
<rect x="852" y="313" width="2" height="2" opacity="0.3"/>
<rect x="852" y="317" width="2" height="4" opacity="0.3"/>
<rect x="852" y="323" width="2" height="2" opacity="0.3"/>
<rect x="852" y="327" width="2" height="4" opacity="0.3"/>
<rect x="852" y="333" width="2" height="8" opacity="0.3"/>
<rect x="852" y="343" width="2" height="10" opacity="0.3"/>
<rect x="852" y="357" width="2" height="4" opacity="0.3"/>
<rect x="852" y="365" width="2" height="2" opacity="0.3"/>
<rect x="852" y="371" width="2" height="2" opacity="0.3"/>
<rect x="852" y="375" width="2" height="2" opacity="0.3"/>
<rect x="852" y="385" width="2" height="2" opacity="0.3"/>
<rect x="852" y="389" width="2" height="4" opacity="0.3"/>
<rect x="852" y="397" width="2" height="2" opacity="0.3"/>
<rect x="852" y="401" width="2" height="6" opacity="0.3"/>
<rect x="852" y="409" width="2" height="10" opacity="0.3"/>
<rect x="852" y="421" width="2" height="2" opacity="0.3"/>
<rect x="852" y="427" width="2" height="2" opacity="0.3"/>
<rect x="852" y="431" width="2" height="4" opacity="0.3"/>
<rect x="852" y="437" width="2" height="2" opacity="0.3"/>
<rect x="852" y="441" width="2" height="2" opacity="0.3"/>
<rect x="888" y="57" width="3" height="9" opacity="0.55"/>
<rect x="888" y="85" width="3" height="15" opacity="0.55"/>
<rect x="888" y="104" width="3" height="13" opacity="0.3"/>
<rect x="888" y="149" width="3" height="25" opacity="0.55"/>
<rect x="888" y="217" width="3" height="22" opacity="0.3"/>
<rect x="888" y="243" width="3" height="8" opacity="0.3"/>
<rect x="888" y="255" width="3" height="8" opacity="0.55"/>
<rect x="888" y="267" width="3" height="12" opacity="0.55"/>
<rect x="888" y="283" width="3" height="9" opacity="0.55"/>
<rect x="888" y="347" width="3" height="8" opacity="0.55"/>
<rect x="888" y="358" width="3" height="7" opacity="0.55"/>
<rect x="888" y="374" width="3" height="12" opacity="0.55"/>
<rect x="888" y="390" width="3" height="8" opacity="0.55"/>
<rect x="888" y="418" width="3" height="11" opacity="0.55"/>
<rect x="912" y="35" width="1" height="408" opacity="0.55"/>
<rect x="922" y="35" width="1" height="2" opacity="0.55"/>
<rect x="922" y="39" width="1" height="6" opacity="0.55"/>
<rect x="922" y="57" width="1" height="10" opacity="0.55"/>
<rect x="922" y="69" width="1" height="2" opacity="0.55"/>
<rect x="922" y="73" width="1" height="6" opacity="0.55"/>
<rect x="922" y="89" width="1" height="2" opacity="0.55"/>
<rect x="922" y="93" width="1" height="2" opacity="0.55"/>
<rect x="922" y="103" width="1" height="2" opacity="0.55"/>
<rect x="922" y="113" width="1" height="2" opacity="0.55"/>
<rect x="922" y="119" width="1" height="2" opacity="0.55"/>
<rect x="922" y="127" width="1" height="12" opacity="0.55"/>
<rect x="922" y="145" width="1" height="18" opacity="0.55"/>
<rect x="922" y="167" width="1" height="2" opacity="0.55"/>
<rect x="922" y="173" width="1" height="2" opacity="0.55"/>
<rect x="922" y="179" width="1" height="4" opacity="0.55"/>
<rect x="922" y="185" width="1" height="4" opacity="0.55"/>
<rect x="922" y="199" width="1" height="2" opacity="0.55"/>
<rect x="922" y="203" width="1" height="14" opacity="0.55"/>
<rect x="922" y="219" width="1" height="2" opacity="0.55"/>
<rect x="922" y="223" width="1" height="4" opacity="0.55"/>
<rect x="922" y="229" width="1" height="12" opacity="0.55"/>
<rect x="922" y="243" width="1" height="18" opacity="0.55"/>
<rect x="922" y="265" width="1" height="2" opacity="0.55"/>
<rect x="922" y="269" width="1" height="2" opacity="0.55"/>
<rect x="922" y="273" width="1" height="6" opacity="0.55"/>
<rect x="922" y="281" width="1" height="2" opacity="0.55"/>
<rect x="922" y="287" width="1" height="2" opacity="0.55"/>
<rect x="922" y="291" width="1" height="2" opacity="0.55"/>
<rect x="922" y="295" width="1" height="4" opacity="0.55"/>
<rect x="922" y="301" width="1" height="8" opacity="0.55"/>
<rect x="922" y="313" width="1" height="2" opacity="0.55"/>
<rect x="922" y="319" width="1" height="2" opacity="0.55"/>
<rect x="922" y="323" width="1" height="2" opacity="0.55"/>
<rect x="922" y="327" width="1" height="6" opacity="0.55"/>
<rect x="922" y="335" width="1" height="10" opacity="0.55"/>
<rect x="922" y="347" width="1" height="2" opacity="0.55"/>
<rect x="922" y="363" width="1" height="4" opacity="0.55"/>
<rect x="922" y="371" width="1" height="4" opacity="0.55"/>
<rect x="922" y="377" width="1" height="8" opacity="0.55"/>
<rect x="922" y="393" width="1" height="18" opacity="0.55"/>
<rect x="922" y="417" width="1" height="2" opacity="0.55"/>
<rect x="922" y="421" width="1" height="2" opacity="0.55"/>
<rect x="922" y="431" width="1" height="2" opacity="0.55"/>
<rect x="922" y="437" width="1" height="6" opacity="0.55"/>
<rect x="925.25" y="35" width="1.5" height="125" opacity="0.55"/>
<rect x="925.25" y="206" width="1.5" height="119" opacity="0.55"/>
<rect x="925.25" y="325" width="1.5" height="20" opacity="0.55"/>
<rect x="925.25" y="402" width="1.5" height="38" opacity="0.3"/>
<rect x="946" y="35" width="1" height="204" opacity="0.55"/>
<rect x="946" y="239" width="1" height="41" opacity="0.55"/>
<rect x="946" y="280" width="1" height="133" opacity="0.55"/>
<rect x="946" y="413" width="1" height="27" opacity="0.55"/>
<rect x="959.9" y="35" width="1.2" height="12" opacity="0.3"/>
<rect x="959.9" y="51" width="1.2" height="29" opacity="0.55"/>
<rect x="959.9" y="234" width="1.2" height="36" opacity="0.55"/>
<rect x="959.9" y="270" width="1.2" height="18" opacity="0.55"/>
<rect x="979" y="35" width="1" height="285" opacity="0.55"/>
<rect x="979" y="320" width="1" height="123" opacity="0.55"/>
<rect x="1007.5" y="35" width="1" height="45" opacity="0.55"/>
<rect x="1019" y="108.5" width="3" height="170.5" opacity="0.55"/>
<rect x="1087" y="35" width="1" height="408" opacity="0.55"/>
<rect x="1121" y="35" width="1" height="180" opacity="0.55"/>
<rect x="1121" y="215" width="1" height="228" opacity="0.3"/>
<rect x="245.1" y="330" width="1" height="55" opacity="0.55"/>
<rect x="330.8" y="35" width="10.9" height="2" opacity="0.45"/>
<rect x="331.76" y="37" width="9.94" height="2" opacity="0.45"/>
<rect x="331.37" y="45" width="10.33" height="2" opacity="0.45"/>
<rect x="334.13" y="47" width="7.57" height="2" opacity="0.45"/>
<rect x="325.5" y="49" width="16.2" height="2" opacity="0.45"/>
<rect x="325.5" y="51" width="9.2" height="2" opacity="0.45"/>
<rect x="325.5" y="57" width="16.2" height="2" opacity="0.45"/>
<rect x="325.5" y="59" width="16.2" height="2" opacity="0.45"/>
<rect x="325.5" y="61" width="16.2" height="2" opacity="0.45"/>
<rect x="329.44" y="65" width="12.26" height="2" opacity="0.45"/>
<rect x="332.82" y="67" width="8.88" height="2" opacity="0.45"/>
<rect x="330.63" y="71" width="11.07" height="2" opacity="0.45"/>
<rect x="325.5" y="75" width="16.2" height="2" opacity="0.45"/>
<rect x="325.5" y="77" width="16.2" height="2" opacity="0.45"/>
<rect x="325.5" y="81" width="16.2" height="2" opacity="0.45"/>
<rect x="325.5" y="83" width="12.17" height="2" opacity="0.45"/>
<rect x="325.5" y="85" width="7.89" height="2" opacity="0.45"/>
<rect x="325.5" y="87" width="16.2" height="2" opacity="0.45"/>
<rect x="325.5" y="89" width="16.2" height="2" opacity="0.45"/>
<rect x="335.15" y="91" width="6.55" height="2" opacity="0.45"/>
<rect x="325.5" y="93" width="8.78" height="2" opacity="0.45"/>
<rect x="325.5" y="99" width="9.5" height="2" opacity="0.45"/>
<rect x="325.5" y="103" width="10.62" height="2" opacity="0.45"/>
<rect x="325.5" y="107" width="10.01" height="2" opacity="0.45"/>
<rect x="325.5" y="115" width="9.23" height="2" opacity="0.45"/>
<rect x="325.5" y="117" width="7.05" height="2" opacity="0.45"/>
<rect x="325.5" y="119" width="16.2" height="2" opacity="0.45"/>
<rect x="325.5" y="121" width="16.2" height="2" opacity="0.45"/>
<rect x="325.5" y="123" width="16.2" height="2" opacity="0.45"/>
<rect x="325.5" y="125" width="16.2" height="2" opacity="0.45"/>
<rect x="325.5" y="129" width="16.2" height="2" opacity="0.45"/>
<rect x="332.54" y="131" width="9.16" height="2" opacity="0.45"/>
<rect x="325.5" y="135" width="16.2" height="2" opacity="0.45"/>
<rect x="325.5" y="141" width="16.2" height="2" opacity="0.45"/>
<rect x="332.92" y="147" width="8.78" height="2" opacity="0.45"/>
<rect x="325.5" y="153" width="16.2" height="2" opacity="0.45"/>
<rect x="325.5" y="155" width="11.92" height="2" opacity="0.45"/>
<rect x="325.5" y="159" width="12.49" height="2" opacity="0.45"/>
<rect x="325.5" y="161" width="16.2" height="2" opacity="0.45"/>
<rect x="325.5" y="165" width="9.07" height="2" opacity="0.45"/>
<rect x="325.5" y="167" width="12.6" height="2" opacity="0.45"/>
<rect x="325.5" y="169" width="16.2" height="2" opacity="0.45"/>
<rect x="325.5" y="171" width="16.2" height="2" opacity="0.45"/>
<rect x="325.5" y="175" width="8.1" height="2" opacity="0.45"/>
<rect x="325.5" y="179" width="8.19" height="2" opacity="0.45"/>
<rect x="325.5" y="181" width="16.2" height="2" opacity="0.45"/>
<rect x="329.55" y="183" width="12.15" height="2" opacity="0.45"/>
<rect x="325.5" y="185" width="16.2" height="2" opacity="0.45"/>
<rect x="325.5" y="187" width="16.2" height="2" opacity="0.45"/>
<rect x="329.72" y="189" width="11.98" height="2" opacity="0.45"/>
<rect x="325.5" y="195" width="16.2" height="2" opacity="0.45"/>
<rect x="325.5" y="199" width="16.2" height="2" opacity="0.45"/>
<rect x="325.5" y="203" width="16.2" height="2" opacity="0.45"/>
<rect x="334.13" y="205" width="7.57" height="2" opacity="0.45"/>
<rect x="325.5" y="211" width="16.2" height="2" opacity="0.45"/>
<rect x="330.05" y="219" width="11.65" height="2" opacity="0.45"/>
<rect x="325.5" y="221" width="8.03" height="2" opacity="0.45"/>
<rect x="325.5" y="223" width="16.2" height="2" opacity="0.45"/>
<rect x="325.5" y="225" width="12.31" height="2" opacity="0.45"/>
<rect x="325.5" y="227" width="10.46" height="2" opacity="0.45"/>
<rect x="325.5" y="231" width="11.91" height="2" opacity="0.45"/>
<rect x="325.5" y="233" width="12.75" height="2" opacity="0.45"/>
<rect x="325.5" y="237" width="16.2" height="2" opacity="0.45"/>
<rect x="333.07" y="241" width="8.63" height="2" opacity="0.45"/>
<rect x="325.5" y="243" width="16.2" height="2" opacity="0.45"/>
<rect x="330.23" y="245" width="11.47" height="2" opacity="0.45"/>
<rect x="325.5" y="247" width="16.2" height="2" opacity="0.45"/>
<rect x="325.5" y="249" width="11.13" height="2" opacity="0.45"/>
<rect x="330.3" y="251" width="11.4" height="2" opacity="0.45"/>
<rect x="325.5" y="263" width="16.2" height="2" opacity="0.45"/>
<rect x="325.5" y="267" width="16.2" height="2" opacity="0.45"/>
<rect x="334.56" y="271" width="7.14" height="2" opacity="0.45"/>
<rect x="330.32" y="273" width="11.38" height="2" opacity="0.45"/>
<rect x="330.4" y="275" width="11.3" height="2" opacity="0.45"/>
<rect x="335.04" y="279" width="6.66" height="2" opacity="0.45"/>
<rect x="325.5" y="281" width="9.52" height="2" opacity="0.45"/>
<rect x="332.25" y="283" width="9.45" height="2" opacity="0.45"/>
<rect x="325.5" y="291" width="16.2" height="2" opacity="0.45"/>
<rect x="325.5" y="295" width="16.2" height="2" opacity="0.45"/>
<rect x="325.5" y="301" width="16.2" height="2" opacity="0.45"/>
<rect x="325.5" y="303" width="12.39" height="2" opacity="0.45"/>
<rect x="330.33" y="309" width="11.37" height="2" opacity="0.45"/>
<rect x="325.5" y="311" width="16.2" height="2" opacity="0.45"/>
<rect x="325.5" y="313" width="16.2" height="2" opacity="0.45"/>
<rect x="325.5" y="315" width="10.54" height="2" opacity="0.45"/>
<rect x="325.5" y="317" width="8.08" height="2" opacity="0.45"/>
<rect x="325.5" y="323" width="16.2" height="2" opacity="0.45"/>
<rect x="325.5" y="337" width="12.12" height="2" opacity="0.45"/>
<rect x="325.5" y="339" width="8.58" height="2" opacity="0.45"/>
<rect x="325.5" y="341" width="16.2" height="2" opacity="0.45"/>
<rect x="331.05" y="345" width="10.65" height="2" opacity="0.45"/>
<rect x="325.5" y="353" width="10.82" height="2" opacity="0.45"/>
<rect x="325.5" y="355" width="16.2" height="2" opacity="0.45"/>
<rect x="333.34" y="359" width="8.36" height="2" opacity="0.45"/>
<rect x="325.5" y="361" width="16.2" height="2" opacity="0.45"/>
<rect x="325.5" y="363" width="16.2" height="2" opacity="0.45"/>
<rect x="325.5" y="367" width="16.2" height="2" opacity="0.45"/>
<rect x="325.5" y="371" width="16.2" height="2" opacity="0.45"/>
<rect x="325.5" y="373" width="12.62" height="2" opacity="0.45"/>
<rect x="325.5" y="377" width="7.25" height="2" opacity="0.45"/>
<rect x="325.5" y="379" width="11.66" height="2" opacity="0.45"/>
<rect x="335.11" y="387" width="6.59" height="2" opacity="0.45"/>
<rect x="325.5" y="395" width="16.2" height="2" opacity="0.45"/>
<rect x="333.39" y="399" width="8.31" height="2" opacity="0.45"/>
<rect x="325.5" y="403" width="8.53" height="2" opacity="0.45"/>
<rect x="325.5" y="411" width="16.2" height="2" opacity="0.45"/>
<rect x="325.5" y="415" width="12.78" height="2" opacity="0.45"/>
<rect x="325.5" y="417" width="8.4" height="2" opacity="0.45"/>
<rect x="325.5" y="419" width="16.2" height="2" opacity="0.45"/>
<rect x="325.5" y="427" width="9.11" height="2" opacity="0.45"/>
<rect x="325.5" y="429" width="12.46" height="2" opacity="0.45"/>
<rect x="325.5" y="431" width="16.2" height="2" opacity="0.45"/>
<rect x="325.5" y="435" width="16.2" height="2" opacity="0.45"/>
<rect x="333.62" y="437" width="8.08" height="2" opacity="0.45"/>
<rect x="349.03" y="57" width="6.47" height="2" opacity="0.45"/>
<rect x="343.5" y="67" width="12" height="2" opacity="0.45"/>
<rect x="343.5" y="77" width="12" height="2" opacity="0.45"/>
<rect x="343.5" y="81" width="12" height="2" opacity="0.45"/>
<rect x="343.5" y="85" width="12" height="2" opacity="0.45"/>
<rect x="348.6" y="107" width="6.9" height="2" opacity="0.45"/>
<rect x="343.5" y="123" width="12" height="2" opacity="0.45"/>
<rect x="346.35" y="143" width="9.15" height="2" opacity="0.45"/>
<rect x="343.5" y="149" width="12" height="2" opacity="0.45"/>
<rect x="347.7" y="167" width="7.8" height="2" opacity="0.45"/>
<rect x="343.5" y="175" width="12" height="2" opacity="0.45"/>
<rect x="343.5" y="199" width="7.9" height="2" opacity="0.45"/>
<rect x="349.1" y="225" width="6.4" height="2" opacity="0.45"/>
<rect x="343.5" y="231" width="12" height="2" opacity="0.45"/>
<rect x="343.5" y="239" width="12" height="2" opacity="0.45"/>
<rect x="343.5" y="241" width="9.52" height="2" opacity="0.45"/>
<rect x="343.5" y="251" width="12" height="2" opacity="0.45"/>
<rect x="343.5" y="257" width="12" height="2" opacity="0.45"/>
<rect x="343.5" y="279" width="12" height="2" opacity="0.45"/>
<rect x="343.5" y="297" width="4.93" height="2" opacity="0.45"/>
<rect x="343.5" y="301" width="7.34" height="2" opacity="0.45"/>
<rect x="343.5" y="313" width="12" height="2" opacity="0.45"/>
<rect x="343.5" y="317" width="12" height="2" opacity="0.45"/>
<rect x="343.5" y="323" width="12" height="2" opacity="0.45"/>
<rect x="343.5" y="355" width="6.81" height="2" opacity="0.45"/>
<rect x="343.5" y="359" width="6.98" height="2" opacity="0.45"/>
<rect x="343.5" y="363" width="12" height="2" opacity="0.45"/>
<rect x="343.5" y="409" width="12" height="2" opacity="0.45"/>
<rect x="343.5" y="429" width="6.88" height="2" opacity="0.45"/>
<rect x="343.5" y="435" width="8.91" height="2" opacity="0.45"/>
<rect x="343.5" y="441" width="12" height="2" opacity="0.45"/>
<rect x="440.12" y="39" width="10.28" height="2" opacity="0.45"/>
<rect x="439.37" y="43" width="11.03" height="2" opacity="0.45"/>
<rect x="435.6" y="45" width="14.8" height="2" opacity="0.45"/>
<rect x="435.6" y="47" width="14.8" height="2" opacity="0.45"/>
<rect x="442.05" y="49" width="8.35" height="2" opacity="0.45"/>
<rect x="435.6" y="51" width="14.8" height="2" opacity="0.45"/>
<rect x="438.94" y="55" width="11.46" height="2" opacity="0.45"/>
<rect x="441.28" y="57" width="9.12" height="2" opacity="0.45"/>
<rect x="435.6" y="65" width="14.8" height="2" opacity="0.45"/>
<rect x="435.6" y="67" width="10.07" height="2" opacity="0.45"/>
<rect x="435.6" y="69" width="14.8" height="2" opacity="0.45"/>
<rect x="435.6" y="75" width="6.24" height="2" opacity="0.45"/>
<rect x="435.6" y="77" width="11.37" height="2" opacity="0.45"/>
<rect x="439.38" y="81" width="11.02" height="2" opacity="0.45"/>
<rect x="435.6" y="83" width="8.45" height="2" opacity="0.45"/>
<rect x="435.6" y="87" width="8.67" height="2" opacity="0.45"/>
<rect x="435.6" y="91" width="7.2" height="2" opacity="0.45"/>
<rect x="435.6" y="95" width="9.72" height="2" opacity="0.45"/>
<rect x="435.6" y="99" width="14.8" height="2" opacity="0.45"/>
<rect x="435.6" y="103" width="11.23" height="2" opacity="0.45"/>
<rect x="435.6" y="111" width="8.07" height="2" opacity="0.45"/>
<rect x="435.6" y="115" width="11.27" height="2" opacity="0.45"/>
<rect x="435.6" y="117" width="6.69" height="2" opacity="0.45"/>
<rect x="444.15" y="119" width="6.25" height="2" opacity="0.45"/>
<rect x="435.6" y="121" width="14.8" height="2" opacity="0.45"/>
<rect x="438.72" y="123" width="11.68" height="2" opacity="0.45"/>
<rect x="441.59" y="125" width="8.81" height="2" opacity="0.45"/>
<rect x="435.6" y="131" width="14.8" height="2" opacity="0.45"/>
<rect x="444.4" y="133" width="6" height="2" opacity="0.45"/>
<rect x="435.6" y="135" width="8.58" height="2" opacity="0.45"/>
<rect x="435.6" y="141" width="14.8" height="2" opacity="0.45"/>
<rect x="435.6" y="143" width="14.8" height="2" opacity="0.45"/>
<rect x="435.6" y="145" width="14.8" height="2" opacity="0.45"/>
<rect x="435.6" y="147" width="14.8" height="2" opacity="0.45"/>
<rect x="435.6" y="149" width="14.8" height="2" opacity="0.45"/>
<rect x="435.6" y="153" width="14.8" height="2" opacity="0.45"/>
<rect x="435.6" y="155" width="14.8" height="2" opacity="0.45"/>
<rect x="435.6" y="159" width="14.8" height="2" opacity="0.45"/>
<rect x="439.55" y="163" width="10.85" height="2" opacity="0.45"/>
<rect x="435.6" y="165" width="14.8" height="2" opacity="0.45"/>
<rect x="435.6" y="167" width="14.8" height="2" opacity="0.45"/>
<rect x="435.6" y="169" width="9.73" height="2" opacity="0.45"/>
<rect x="443.08" y="171" width="7.32" height="2" opacity="0.45"/>
<rect x="435.6" y="175" width="6.67" height="2" opacity="0.45"/>
<rect x="435.6" y="179" width="14.8" height="2" opacity="0.45"/>
<rect x="435.6" y="181" width="6.06" height="2" opacity="0.45"/>
<rect x="435.6" y="183" width="14.8" height="2" opacity="0.45"/>
<rect x="435.6" y="187" width="6.79" height="2" opacity="0.45"/>
<rect x="435.6" y="191" width="14.8" height="2" opacity="0.45"/>
<rect x="435.6" y="193" width="14.8" height="2" opacity="0.45"/>
<rect x="435.6" y="199" width="11.83" height="2" opacity="0.45"/>
<rect x="441.73" y="203" width="8.67" height="2" opacity="0.45"/>
<rect x="444.33" y="205" width="6.07" height="2" opacity="0.45"/>
<rect x="435.6" y="209" width="14.8" height="2" opacity="0.45"/>
<rect x="440.18" y="211" width="10.22" height="2" opacity="0.45"/>
<rect x="435.6" y="213" width="14.8" height="2" opacity="0.45"/>
<rect x="435.6" y="217" width="7.49" height="2" opacity="0.45"/>
<rect x="435.6" y="219" width="14.8" height="2" opacity="0.45"/>
<rect x="440.1" y="221" width="10.3" height="2" opacity="0.45"/>
<rect x="438.65" y="223" width="11.75" height="2" opacity="0.45"/>
<rect x="435.6" y="225" width="9.24" height="2" opacity="0.45"/>
<rect x="435.6" y="231" width="14.8" height="2" opacity="0.45"/>
<rect x="435.6" y="233" width="14.8" height="2" opacity="0.45"/>
<rect x="435.6" y="241" width="14.8" height="2" opacity="0.45"/>
<rect x="435.6" y="245" width="11.25" height="2" opacity="0.45"/>
<rect x="438.58" y="247" width="11.82" height="2" opacity="0.45"/>
<rect x="435.6" y="249" width="14.8" height="2" opacity="0.45"/>
<rect x="435.6" y="251" width="14.8" height="2" opacity="0.45"/>
<rect x="435.6" y="255" width="9.17" height="2" opacity="0.45"/>
<rect x="435.6" y="257" width="7.3" height="2" opacity="0.45"/>
<rect x="435.6" y="261" width="14.8" height="2" opacity="0.45"/>
<rect x="435.6" y="269" width="14.8" height="2" opacity="0.45"/>
<rect x="435.6" y="271" width="10.71" height="2" opacity="0.45"/>
<rect x="435.6" y="273" width="14.8" height="2" opacity="0.45"/>
<rect x="435.6" y="275" width="14.8" height="2" opacity="0.45"/>
<rect x="435.6" y="279" width="14.8" height="2" opacity="0.45"/>
<rect x="435.6" y="281" width="11.8" height="2" opacity="0.45"/>
<rect x="438.6" y="283" width="11.8" height="2" opacity="0.45"/>
<rect x="439.45" y="291" width="10.95" height="2" opacity="0.45"/>
<rect x="435.6" y="293" width="14.8" height="2" opacity="0.45"/>
<rect x="435.6" y="297" width="6.4" height="2" opacity="0.45"/>
<rect x="441.08" y="299" width="9.32" height="2" opacity="0.45"/>
<rect x="440.3" y="301" width="10.1" height="2" opacity="0.45"/>
<rect x="442.5" y="305" width="7.9" height="2" opacity="0.45"/>
<rect x="435.6" y="309" width="9.94" height="2" opacity="0.45"/>
<rect x="441.63" y="315" width="8.77" height="2" opacity="0.45"/>
<rect x="435.6" y="317" width="14.8" height="2" opacity="0.45"/>
<rect x="435.6" y="321" width="9.22" height="2" opacity="0.45"/>
<rect x="435.6" y="323" width="11.42" height="2" opacity="0.45"/>
<rect x="440.35" y="327" width="10.05" height="2" opacity="0.45"/>
<rect x="435.6" y="331" width="6.25" height="2" opacity="0.45"/>
<rect x="442.6" y="333" width="7.8" height="2" opacity="0.45"/>
<rect x="435.6" y="335" width="14.8" height="2" opacity="0.45"/>
<rect x="435.6" y="337" width="6.68" height="2" opacity="0.45"/>
<rect x="435.6" y="339" width="10.28" height="2" opacity="0.45"/>
<rect x="435.6" y="345" width="14.8" height="2" opacity="0.45"/>
<rect x="435.6" y="347" width="14.8" height="2" opacity="0.45"/>
<rect x="441.16" y="351" width="9.24" height="2" opacity="0.45"/>
<rect x="435.6" y="355" width="14.8" height="2" opacity="0.45"/>
<rect x="435.6" y="357" width="7.5" height="2" opacity="0.45"/>
<rect x="435.6" y="359" width="14.8" height="2" opacity="0.45"/>
<rect x="435.6" y="363" width="14.8" height="2" opacity="0.45"/>
<rect x="441.26" y="365" width="9.14" height="2" opacity="0.45"/>
<rect x="435.6" y="367" width="14.8" height="2" opacity="0.45"/>
<rect x="435.6" y="379" width="8.14" height="2" opacity="0.45"/>
<rect x="435.6" y="381" width="7.2" height="2" opacity="0.45"/>
<rect x="435.6" y="393" width="14.8" height="2" opacity="0.45"/>
<rect x="441" y="395" width="9.4" height="2" opacity="0.45"/>
<rect x="435.6" y="401" width="8.21" height="2" opacity="0.45"/>
<rect x="443.4" y="403" width="7" height="2" opacity="0.45"/>
<rect x="435.6" y="407" width="14.8" height="2" opacity="0.45"/>
<rect x="435.6" y="409" width="14.8" height="2" opacity="0.45"/>
<rect x="435.6" y="411" width="14.8" height="2" opacity="0.45"/>
<rect x="441.52" y="413" width="8.88" height="2" opacity="0.45"/>
<rect x="439.89" y="415" width="10.51" height="2" opacity="0.45"/>
<rect x="439.28" y="421" width="11.12" height="2" opacity="0.45"/>
<rect x="435.6" y="423" width="10.37" height="2" opacity="0.45"/>
<rect x="435.6" y="425" width="14.8" height="2" opacity="0.45"/>
<rect x="435.6" y="427" width="14.8" height="2" opacity="0.45"/>
<rect x="440.16" y="429" width="10.24" height="2" opacity="0.45"/>
<rect x="435.6" y="431" width="14.8" height="2" opacity="0.45"/>
<rect x="435.6" y="433" width="6.81" height="2" opacity="0.45"/>
<rect x="435.6" y="441" width="8.45" height="2" opacity="0.45"/>
<rect x="435.6" y="443" width="9.13" height="2" opacity="0.45"/>
<rect x="454.42" y="35" width="3.98" height="2" opacity="0.45"/>
<rect x="452.3" y="47" width="3.33" height="2" opacity="0.45"/>
<rect x="454.95" y="53" width="3.45" height="2" opacity="0.45"/>
<rect x="452.3" y="55" width="4.32" height="2" opacity="0.45"/>
<rect x="452.3" y="57" width="6.1" height="2" opacity="0.45"/>
<rect x="455.77" y="59" width="2.63" height="2" opacity="0.45"/>
<rect x="452.3" y="61" width="6.1" height="2" opacity="0.45"/>
<rect x="452.3" y="65" width="6.1" height="2" opacity="0.45"/>
<rect x="454.66" y="67" width="3.74" height="2" opacity="0.45"/>
<rect x="452.3" y="69" width="6.1" height="2" opacity="0.45"/>
<rect x="452.3" y="71" width="6.1" height="2" opacity="0.45"/>
<rect x="452.3" y="75" width="6.1" height="2" opacity="0.45"/>
<rect x="452.3" y="77" width="3.73" height="2" opacity="0.45"/>
<rect x="452.3" y="81" width="3.51" height="2" opacity="0.45"/>
<rect x="452.3" y="83" width="6.1" height="2" opacity="0.45"/>
<rect x="452.3" y="85" width="4.8" height="2" opacity="0.45"/>
<rect x="452.3" y="87" width="2.66" height="2" opacity="0.45"/>
<rect x="452.3" y="89" width="6.1" height="2" opacity="0.45"/>
<rect x="454.21" y="91" width="4.19" height="2" opacity="0.45"/>
<rect x="452.3" y="97" width="4.52" height="2" opacity="0.45"/>
<rect x="452.3" y="99" width="3.57" height="2" opacity="0.45"/>
<rect x="452.3" y="107" width="6.1" height="2" opacity="0.45"/>
<rect x="452.3" y="117" width="6.1" height="2" opacity="0.45"/>
<rect x="452.3" y="119" width="6.1" height="2" opacity="0.45"/>
<rect x="452.3" y="121" width="6.1" height="2" opacity="0.45"/>
<rect x="454.72" y="123" width="3.68" height="2" opacity="0.45"/>
<rect x="452.3" y="125" width="6.1" height="2" opacity="0.45"/>
<rect x="452.3" y="127" width="3.5" height="2" opacity="0.45"/>
<rect x="452.3" y="131" width="6.1" height="2" opacity="0.45"/>
<rect x="452.3" y="133" width="6.1" height="2" opacity="0.45"/>
<rect x="452.3" y="135" width="6.1" height="2" opacity="0.45"/>
<rect x="452.3" y="137" width="6.1" height="2" opacity="0.45"/>
<rect x="452.3" y="147" width="6.1" height="2" opacity="0.45"/>
<rect x="452.3" y="153" width="6.1" height="2" opacity="0.45"/>
<rect x="452.3" y="159" width="6.1" height="2" opacity="0.45"/>
<rect x="452.3" y="163" width="6.1" height="2" opacity="0.45"/>
<rect x="452.3" y="165" width="3.66" height="2" opacity="0.45"/>
<rect x="452.3" y="167" width="6.1" height="2" opacity="0.45"/>
<rect x="452.3" y="169" width="6.1" height="2" opacity="0.45"/>
<rect x="452.3" y="171" width="6.1" height="2" opacity="0.45"/>
<rect x="452.3" y="175" width="3.99" height="2" opacity="0.45"/>
<rect x="454.29" y="177" width="4.11" height="2" opacity="0.45"/>
<rect x="452.3" y="183" width="3.35" height="2" opacity="0.45"/>
<rect x="452.3" y="185" width="6.1" height="2" opacity="0.45"/>
<rect x="452.3" y="187" width="6.1" height="2" opacity="0.45"/>
<rect x="452.3" y="189" width="6.1" height="2" opacity="0.45"/>
<rect x="452.3" y="191" width="2.57" height="2" opacity="0.45"/>
<rect x="452.3" y="193" width="4.87" height="2" opacity="0.45"/>
<rect x="452.3" y="195" width="6.1" height="2" opacity="0.45"/>
<rect x="452.3" y="199" width="3.74" height="2" opacity="0.45"/>
<rect x="452.3" y="205" width="6.1" height="2" opacity="0.45"/>
<rect x="452.3" y="207" width="3.61" height="2" opacity="0.45"/>
<rect x="452.3" y="211" width="4.13" height="2" opacity="0.45"/>
<rect x="454.1" y="215" width="4.3" height="2" opacity="0.45"/>
<rect x="452.3" y="219" width="6.1" height="2" opacity="0.45"/>
<rect x="452.3" y="221" width="4.52" height="2" opacity="0.45"/>
<rect x="452.3" y="223" width="4.86" height="2" opacity="0.45"/>
<rect x="454.29" y="225" width="4.11" height="2" opacity="0.45"/>
<rect x="452.3" y="227" width="6.1" height="2" opacity="0.45"/>
<rect x="452.3" y="231" width="6.1" height="2" opacity="0.45"/>
<rect x="452.3" y="233" width="6.1" height="2" opacity="0.45"/>
<rect x="452.3" y="235" width="6.1" height="2" opacity="0.45"/>
<rect x="452.3" y="239" width="6.1" height="2" opacity="0.45"/>
<rect x="453.68" y="241" width="4.72" height="2" opacity="0.45"/>
<rect x="452.3" y="243" width="2.69" height="2" opacity="0.45"/>
<rect x="455.83" y="247" width="2.57" height="2" opacity="0.45"/>
<rect x="452.3" y="251" width="2.49" height="2" opacity="0.45"/>
<rect x="452.3" y="253" width="6.1" height="2" opacity="0.45"/>
<rect x="452.3" y="259" width="6.1" height="2" opacity="0.45"/>
<rect x="452.3" y="265" width="4.46" height="2" opacity="0.45"/>
<rect x="452.3" y="267" width="4.23" height="2" opacity="0.45"/>
<rect x="452.3" y="269" width="6.1" height="2" opacity="0.45"/>
<rect x="455.67" y="271" width="2.73" height="2" opacity="0.45"/>
<rect x="452.3" y="273" width="6.1" height="2" opacity="0.45"/>
<rect x="452.3" y="275" width="3.12" height="2" opacity="0.45"/>
<rect x="453.61" y="279" width="4.79" height="2" opacity="0.45"/>
<rect x="452.3" y="285" width="2.97" height="2" opacity="0.45"/>
<rect x="452.3" y="289" width="6.1" height="2" opacity="0.45"/>
<rect x="455.08" y="291" width="3.32" height="2" opacity="0.45"/>
<rect x="452.3" y="293" width="3.4" height="2" opacity="0.45"/>
<rect x="452.3" y="295" width="6.1" height="2" opacity="0.45"/>
<rect x="452.3" y="297" width="2.95" height="2" opacity="0.45"/>
<rect x="452.3" y="301" width="6.1" height="2" opacity="0.45"/>
<rect x="453.57" y="305" width="4.83" height="2" opacity="0.45"/>
<rect x="453.58" y="309" width="4.82" height="2" opacity="0.45"/>
<rect x="452.3" y="313" width="6.1" height="2" opacity="0.45"/>
<rect x="452.3" y="317" width="6.1" height="2" opacity="0.45"/>
<rect x="452.3" y="319" width="6.1" height="2" opacity="0.45"/>
<rect x="452.3" y="321" width="6.1" height="2" opacity="0.45"/>
<rect x="452.3" y="323" width="6.1" height="2" opacity="0.45"/>
<rect x="452.3" y="325" width="6.1" height="2" opacity="0.45"/>
<rect x="452.3" y="327" width="2.49" height="2" opacity="0.45"/>
<rect x="452.3" y="331" width="6.1" height="2" opacity="0.45"/>
<rect x="454.94" y="333" width="3.46" height="2" opacity="0.45"/>
<rect x="452.3" y="335" width="6.1" height="2" opacity="0.45"/>
<rect x="452.3" y="341" width="3.97" height="2" opacity="0.45"/>
<rect x="452.3" y="347" width="6.1" height="2" opacity="0.45"/>
<rect x="455.3" y="355" width="3.1" height="2" opacity="0.45"/>
<rect x="452.3" y="357" width="6.1" height="2" opacity="0.45"/>
<rect x="452.3" y="359" width="4.56" height="2" opacity="0.45"/>
<rect x="452.3" y="363" width="6.1" height="2" opacity="0.45"/>
<rect x="452.3" y="365" width="6.1" height="2" opacity="0.45"/>
<rect x="452.3" y="373" width="3.46" height="2" opacity="0.45"/>
<rect x="452.3" y="375" width="6.1" height="2" opacity="0.45"/>
<rect x="452.3" y="391" width="4.79" height="2" opacity="0.45"/>
<rect x="452.3" y="393" width="6.1" height="2" opacity="0.45"/>
<rect x="452.3" y="395" width="6.1" height="2" opacity="0.45"/>
<rect x="452.3" y="397" width="6.1" height="2" opacity="0.45"/>
<rect x="454.83" y="401" width="3.57" height="2" opacity="0.45"/>
<rect x="452.3" y="407" width="6.1" height="2" opacity="0.45"/>
<rect x="452.3" y="411" width="6.1" height="2" opacity="0.45"/>
<rect x="455.19" y="415" width="3.21" height="2" opacity="0.45"/>
<rect x="453.99" y="417" width="4.41" height="2" opacity="0.45"/>
<rect x="452.3" y="425" width="2.48" height="2" opacity="0.45"/>
<rect x="452.3" y="427" width="6.1" height="2" opacity="0.45"/>
<rect x="452.3" y="429" width="6.1" height="2" opacity="0.45"/>
<rect x="452.3" y="435" width="6.1" height="2" opacity="0.45"/>
<rect x="452.3" y="439" width="6.1" height="2" opacity="0.45"/>
<rect x="452.3" y="441" width="4.25" height="2" opacity="0.45"/>
<rect x="452.3" y="443" width="6.1" height="2" opacity="0.45"/>
<rect x="460.3" y="37" width="10.6" height="2" opacity="0.45"/>
<rect x="466.09" y="47" width="4.81" height="2" opacity="0.45"/>
<rect x="460.3" y="51" width="10.6" height="2" opacity="0.45"/>
<rect x="460.3" y="57" width="10.6" height="2" opacity="0.45"/>
<rect x="460.3" y="61" width="4.51" height="2" opacity="0.45"/>
<rect x="460.3" y="63" width="10.6" height="2" opacity="0.45"/>
<rect x="460.3" y="67" width="10.6" height="2" opacity="0.45"/>
<rect x="460.3" y="69" width="10.6" height="2" opacity="0.45"/>
<rect x="463.36" y="71" width="7.54" height="2" opacity="0.45"/>
<rect x="466.3" y="75" width="4.6" height="2" opacity="0.45"/>
<rect x="463.76" y="77" width="7.14" height="2" opacity="0.45"/>
<rect x="460.3" y="81" width="10.6" height="2" opacity="0.45"/>
<rect x="463.48" y="85" width="7.42" height="2" opacity="0.45"/>
<rect x="460.3" y="87" width="10.6" height="2" opacity="0.45"/>
<rect x="462.9" y="91" width="8" height="2" opacity="0.45"/>
<rect x="460.3" y="93" width="10.6" height="2" opacity="0.45"/>
<rect x="460.3" y="95" width="4.85" height="2" opacity="0.45"/>
<rect x="460.3" y="101" width="4.73" height="2" opacity="0.45"/>
<rect x="460.3" y="103" width="5.27" height="2" opacity="0.45"/>
<rect x="460.3" y="105" width="10.6" height="2" opacity="0.45"/>
<rect x="460.3" y="107" width="6.71" height="2" opacity="0.45"/>
<rect x="460.3" y="113" width="10.6" height="2" opacity="0.45"/>
<rect x="460.3" y="117" width="10.6" height="2" opacity="0.45"/>
<rect x="460.3" y="121" width="4.5" height="2" opacity="0.45"/>
<rect x="460.3" y="123" width="5.66" height="2" opacity="0.45"/>
<rect x="460.3" y="125" width="10.6" height="2" opacity="0.45"/>
<rect x="460.3" y="131" width="4.97" height="2" opacity="0.45"/>
<rect x="460.3" y="135" width="7.94" height="2" opacity="0.45"/>
<rect x="463.13" y="137" width="7.77" height="2" opacity="0.45"/>
<rect x="460.3" y="141" width="10.6" height="2" opacity="0.45"/>
<rect x="460.3" y="149" width="6.82" height="2" opacity="0.45"/>
<rect x="460.3" y="153" width="10.6" height="2" opacity="0.45"/>
<rect x="460.3" y="155" width="10.6" height="2" opacity="0.45"/>
<rect x="460.3" y="159" width="6.53" height="2" opacity="0.45"/>
<rect x="460.3" y="161" width="10.6" height="2" opacity="0.45"/>
<rect x="460.3" y="163" width="10.6" height="2" opacity="0.45"/>
<rect x="465.2" y="165" width="5.7" height="2" opacity="0.45"/>
<rect x="460.3" y="167" width="10.6" height="2" opacity="0.45"/>
<rect x="460.3" y="169" width="10.6" height="2" opacity="0.45"/>
<rect x="460.3" y="171" width="7.64" height="2" opacity="0.45"/>
<rect x="460.3" y="179" width="10.6" height="2" opacity="0.45"/>
<rect x="460.3" y="183" width="5.82" height="2" opacity="0.45"/>
<rect x="460.3" y="187" width="10.6" height="2" opacity="0.45"/>
<rect x="460.3" y="191" width="10.6" height="2" opacity="0.45"/>
<rect x="460.3" y="193" width="6.4" height="2" opacity="0.45"/>
<rect x="460.3" y="197" width="10.6" height="2" opacity="0.45"/>
<rect x="460.3" y="199" width="10.6" height="2" opacity="0.45"/>
<rect x="460.3" y="203" width="10.6" height="2" opacity="0.45"/>
<rect x="460.3" y="205" width="4.25" height="2" opacity="0.45"/>
<rect x="460.3" y="211" width="5.49" height="2" opacity="0.45"/>
<rect x="460.3" y="213" width="10.6" height="2" opacity="0.45"/>
<rect x="460.3" y="217" width="10.6" height="2" opacity="0.45"/>
<rect x="460.3" y="221" width="5.8" height="2" opacity="0.45"/>
<rect x="466.46" y="225" width="4.44" height="2" opacity="0.45"/>
<rect x="460.3" y="231" width="10.6" height="2" opacity="0.45"/>
<rect x="465.66" y="233" width="5.24" height="2" opacity="0.45"/>
<rect x="460.3" y="239" width="6.51" height="2" opacity="0.45"/>
<rect x="460.3" y="241" width="10.6" height="2" opacity="0.45"/>
<rect x="460.3" y="245" width="10.6" height="2" opacity="0.45"/>
<rect x="460.3" y="247" width="10.6" height="2" opacity="0.45"/>
<rect x="460.3" y="249" width="6.5" height="2" opacity="0.45"/>
<rect x="460.3" y="251" width="10.6" height="2" opacity="0.45"/>
<rect x="460.3" y="255" width="7.71" height="2" opacity="0.45"/>
<rect x="460.3" y="261" width="5.62" height="2" opacity="0.45"/>
<rect x="460.3" y="271" width="10.6" height="2" opacity="0.45"/>
<rect x="460.3" y="275" width="10.6" height="2" opacity="0.45"/>
<rect x="460.3" y="277" width="5.17" height="2" opacity="0.45"/>
<rect x="460.3" y="279" width="7.75" height="2" opacity="0.45"/>
<rect x="460.3" y="281" width="10.6" height="2" opacity="0.45"/>
<rect x="460.3" y="287" width="10.6" height="2" opacity="0.45"/>
<rect x="460.3" y="289" width="7.92" height="2" opacity="0.45"/>
<rect x="463.03" y="291" width="7.87" height="2" opacity="0.45"/>
<rect x="460.3" y="295" width="10.6" height="2" opacity="0.45"/>
<rect x="460.3" y="297" width="10.6" height="2" opacity="0.45"/>
<rect x="460.3" y="299" width="5.55" height="2" opacity="0.45"/>
<rect x="460.3" y="301" width="10.6" height="2" opacity="0.45"/>
<rect x="460.3" y="303" width="4.42" height="2" opacity="0.45"/>
<rect x="460.3" y="305" width="6.61" height="2" opacity="0.45"/>
<rect x="463.86" y="309" width="7.04" height="2" opacity="0.45"/>
<rect x="460.3" y="313" width="10.6" height="2" opacity="0.45"/>
<rect x="466.46" y="315" width="4.44" height="2" opacity="0.45"/>
<rect x="465.74" y="317" width="5.16" height="2" opacity="0.45"/>
<rect x="463.01" y="325" width="7.89" height="2" opacity="0.45"/>
<rect x="460.3" y="331" width="10.6" height="2" opacity="0.45"/>
<rect x="460.3" y="333" width="10.6" height="2" opacity="0.45"/>
<rect x="460.3" y="335" width="10.6" height="2" opacity="0.45"/>
<rect x="460.3" y="339" width="7.75" height="2" opacity="0.45"/>
<rect x="460.3" y="347" width="10.6" height="2" opacity="0.45"/>
<rect x="460.3" y="349" width="10.6" height="2" opacity="0.45"/>
<rect x="460.3" y="359" width="10.6" height="2" opacity="0.45"/>
<rect x="460.3" y="361" width="10.6" height="2" opacity="0.45"/>
<rect x="460.3" y="363" width="10.6" height="2" opacity="0.45"/>
<rect x="460.3" y="371" width="10.6" height="2" opacity="0.45"/>
<rect x="460.3" y="373" width="10.6" height="2" opacity="0.45"/>
<rect x="460.3" y="379" width="7.35" height="2" opacity="0.45"/>
<rect x="465.88" y="381" width="5.02" height="2" opacity="0.45"/>
<rect x="465.16" y="385" width="5.74" height="2" opacity="0.45"/>
<rect x="460.3" y="391" width="10.6" height="2" opacity="0.45"/>
<rect x="460.3" y="395" width="10.6" height="2" opacity="0.45"/>
<rect x="460.3" y="397" width="8.17" height="2" opacity="0.45"/>
<rect x="460.3" y="399" width="10.6" height="2" opacity="0.45"/>
<rect x="460.3" y="401" width="10.6" height="2" opacity="0.45"/>
<rect x="460.3" y="405" width="10.6" height="2" opacity="0.45"/>
<rect x="460.3" y="409" width="10.6" height="2" opacity="0.45"/>
<rect x="460.3" y="411" width="5.32" height="2" opacity="0.45"/>
<rect x="466.25" y="413" width="4.65" height="2" opacity="0.45"/>
<rect x="464.74" y="419" width="6.16" height="2" opacity="0.45"/>
<rect x="460.3" y="421" width="8.18" height="2" opacity="0.45"/>
<rect x="463.83" y="423" width="7.07" height="2" opacity="0.45"/>
<rect x="460.3" y="425" width="10.6" height="2" opacity="0.45"/>
<rect x="460.3" y="427" width="7.97" height="2" opacity="0.45"/>
<rect x="464.72" y="429" width="6.18" height="2" opacity="0.45"/>
<rect x="460.3" y="431" width="10.6" height="2" opacity="0.45"/>
<rect x="460.3" y="435" width="10.6" height="2" opacity="0.45"/>
<rect x="466.09" y="437" width="4.81" height="2" opacity="0.45"/>
<rect x="460.3" y="439" width="10.6" height="2" opacity="0.45"/>
<rect x="460.3" y="441" width="7.1" height="2" opacity="0.45"/>
<rect x="460.3" y="443" width="10.6" height="2" opacity="0.45"/>
<rect x="473.2" y="43" width="13.01" height="2" opacity="0.45"/>
<rect x="473.2" y="47" width="7.56" height="2" opacity="0.45"/>
<rect x="473.2" y="49" width="9.48" height="2" opacity="0.45"/>
<rect x="473.2" y="53" width="9.59" height="2" opacity="0.45"/>
<rect x="473.2" y="57" width="18.2" height="2" opacity="0.45"/>
<rect x="473.2" y="59" width="14.45" height="2" opacity="0.45"/>
<rect x="473.2" y="61" width="18.2" height="2" opacity="0.45"/>
<rect x="477.94" y="67" width="13.46" height="2" opacity="0.45"/>
<rect x="479.15" y="69" width="12.25" height="2" opacity="0.45"/>
<rect x="478.55" y="71" width="12.85" height="2" opacity="0.45"/>
<rect x="473.2" y="77" width="18.2" height="2" opacity="0.45"/>
<rect x="473.2" y="81" width="18.2" height="2" opacity="0.45"/>
<rect x="473.2" y="85" width="14.37" height="2" opacity="0.45"/>
<rect x="473.2" y="87" width="18.2" height="2" opacity="0.45"/>
<rect x="473.2" y="91" width="9.27" height="2" opacity="0.45"/>
<rect x="473.2" y="93" width="18.2" height="2" opacity="0.45"/>
<rect x="473.2" y="99" width="9.16" height="2" opacity="0.45"/>
<rect x="473.2" y="103" width="12.83" height="2" opacity="0.45"/>
<rect x="473.2" y="109" width="13.98" height="2" opacity="0.45"/>
<rect x="482.49" y="111" width="8.91" height="2" opacity="0.45"/>
<rect x="473.2" y="117" width="18.2" height="2" opacity="0.45"/>
<rect x="473.2" y="121" width="10.42" height="2" opacity="0.45"/>
<rect x="473.2" y="125" width="18.2" height="2" opacity="0.45"/>
<rect x="473.2" y="127" width="18.2" height="2" opacity="0.45"/>
<rect x="473.2" y="131" width="18.2" height="2" opacity="0.45"/>
<rect x="473.2" y="133" width="9.56" height="2" opacity="0.45"/>
<rect x="473.2" y="135" width="18.2" height="2" opacity="0.45"/>
<rect x="481.13" y="137" width="10.27" height="2" opacity="0.45"/>
<rect x="477.04" y="141" width="14.36" height="2" opacity="0.45"/>
<rect x="473.2" y="143" width="18.2" height="2" opacity="0.45"/>
<rect x="473.2" y="147" width="12.64" height="2" opacity="0.45"/>
<rect x="473.2" y="149" width="11.27" height="2" opacity="0.45"/>
<rect x="473.2" y="155" width="18.2" height="2" opacity="0.45"/>
<rect x="473.2" y="157" width="8.04" height="2" opacity="0.45"/>
<rect x="479.54" y="159" width="11.86" height="2" opacity="0.45"/>
<rect x="473.2" y="163" width="14.11" height="2" opacity="0.45"/>
<rect x="473.2" y="165" width="11.17" height="2" opacity="0.45"/>
<rect x="473.2" y="167" width="11.75" height="2" opacity="0.45"/>
<rect x="481.51" y="169" width="9.89" height="2" opacity="0.45"/>
<rect x="473.2" y="171" width="8.11" height="2" opacity="0.45"/>
<rect x="473.2" y="175" width="10.29" height="2" opacity="0.45"/>
<rect x="473.2" y="183" width="11.89" height="2" opacity="0.45"/>
<rect x="473.2" y="185" width="18.2" height="2" opacity="0.45"/>
<rect x="473.2" y="189" width="18.2" height="2" opacity="0.45"/>
<rect x="478.36" y="191" width="13.04" height="2" opacity="0.45"/>
<rect x="473.2" y="193" width="18.2" height="2" opacity="0.45"/>
<rect x="482.57" y="195" width="8.83" height="2" opacity="0.45"/>
<rect x="482.06" y="199" width="9.34" height="2" opacity="0.45"/>
<rect x="473.2" y="201" width="8.06" height="2" opacity="0.45"/>
<rect x="473.2" y="203" width="12.82" height="2" opacity="0.45"/>
<rect x="480.82" y="205" width="10.58" height="2" opacity="0.45"/>
<rect x="473.2" y="207" width="10.09" height="2" opacity="0.45"/>
<rect x="482.56" y="209" width="8.84" height="2" opacity="0.45"/>
<rect x="479.02" y="211" width="12.38" height="2" opacity="0.45"/>
<rect x="473.2" y="215" width="18.2" height="2" opacity="0.45"/>
<rect x="473.2" y="217" width="8.44" height="2" opacity="0.45"/>
<rect x="473.2" y="223" width="18.2" height="2" opacity="0.45"/>
<rect x="473.2" y="225" width="18.2" height="2" opacity="0.45"/>
<rect x="473.2" y="231" width="10.47" height="2" opacity="0.45"/>
<rect x="473.2" y="233" width="18.2" height="2" opacity="0.45"/>
<rect x="473.2" y="235" width="18.2" height="2" opacity="0.45"/>
<rect x="473.2" y="237" width="18.2" height="2" opacity="0.45"/>
<rect x="473.2" y="239" width="12.54" height="2" opacity="0.45"/>
<rect x="473.2" y="241" width="18.2" height="2" opacity="0.45"/>
<rect x="478.02" y="243" width="13.38" height="2" opacity="0.45"/>
<rect x="473.2" y="251" width="18.2" height="2" opacity="0.45"/>
<rect x="473.2" y="253" width="18.2" height="2" opacity="0.45"/>
<rect x="473.2" y="255" width="18.2" height="2" opacity="0.45"/>
<rect x="473.2" y="257" width="18.2" height="2" opacity="0.45"/>
<rect x="483.44" y="261" width="7.96" height="2" opacity="0.45"/>
<rect x="473.2" y="267" width="18.2" height="2" opacity="0.45"/>
<rect x="473.2" y="269" width="18.2" height="2" opacity="0.45"/>
<rect x="473.2" y="271" width="18.2" height="2" opacity="0.45"/>
<rect x="473.2" y="273" width="18.2" height="2" opacity="0.45"/>
<rect x="473.2" y="275" width="13.49" height="2" opacity="0.45"/>
<rect x="479.39" y="279" width="12.01" height="2" opacity="0.45"/>
<rect x="473.2" y="281" width="18.2" height="2" opacity="0.45"/>
<rect x="476.94" y="283" width="14.46" height="2" opacity="0.45"/>
<rect x="473.2" y="285" width="18.2" height="2" opacity="0.45"/>
<rect x="473.2" y="289" width="18.2" height="2" opacity="0.45"/>
<rect x="473.2" y="291" width="9.38" height="2" opacity="0.45"/>
<rect x="480.91" y="293" width="10.49" height="2" opacity="0.45"/>
<rect x="473.2" y="295" width="18.2" height="2" opacity="0.45"/>
<rect x="473.2" y="297" width="9.11" height="2" opacity="0.45"/>
<rect x="473.2" y="299" width="11.65" height="2" opacity="0.45"/>
<rect x="473.2" y="301" width="12.81" height="2" opacity="0.45"/>
<rect x="473.2" y="303" width="9.2" height="2" opacity="0.45"/>
<rect x="473.2" y="305" width="9.14" height="2" opacity="0.45"/>
<rect x="473.2" y="307" width="18.2" height="2" opacity="0.45"/>
<rect x="473.2" y="309" width="8.96" height="2" opacity="0.45"/>
<rect x="473.2" y="313" width="18.2" height="2" opacity="0.45"/>
<rect x="473.2" y="315" width="18.2" height="2" opacity="0.45"/>
<rect x="473.2" y="327" width="18.2" height="2" opacity="0.45"/>
<rect x="473.2" y="333" width="18.2" height="2" opacity="0.45"/>
<rect x="479.28" y="345" width="12.12" height="2" opacity="0.45"/>
<rect x="473.2" y="347" width="18.2" height="2" opacity="0.45"/>
<rect x="473.2" y="353" width="12.02" height="2" opacity="0.45"/>
<rect x="473.2" y="355" width="18.2" height="2" opacity="0.45"/>
<rect x="473.2" y="361" width="18.2" height="2" opacity="0.45"/>
<rect x="473.2" y="363" width="18.2" height="2" opacity="0.45"/>
<rect x="473.2" y="367" width="13.55" height="2" opacity="0.45"/>
<rect x="473.2" y="369" width="18.2" height="2" opacity="0.45"/>
<rect x="473.2" y="371" width="18.2" height="2" opacity="0.45"/>
<rect x="473.2" y="373" width="18.2" height="2" opacity="0.45"/>
<rect x="473.2" y="379" width="18.2" height="2" opacity="0.45"/>
<rect x="477.53" y="389" width="13.87" height="2" opacity="0.45"/>
<rect x="480.24" y="393" width="11.16" height="2" opacity="0.45"/>
<rect x="473.2" y="395" width="18.2" height="2" opacity="0.45"/>
<rect x="473.2" y="397" width="18.2" height="2" opacity="0.45"/>
<rect x="477.62" y="399" width="13.78" height="2" opacity="0.45"/>
<rect x="473.2" y="401" width="18.2" height="2" opacity="0.45"/>
<rect x="473.2" y="403" width="18.2" height="2" opacity="0.45"/>
<rect x="481.5" y="405" width="9.9" height="2" opacity="0.45"/>
<rect x="481.43" y="409" width="9.97" height="2" opacity="0.45"/>
<rect x="473.2" y="411" width="18.2" height="2" opacity="0.45"/>
<rect x="473.2" y="413" width="18.2" height="2" opacity="0.45"/>
<rect x="473.2" y="415" width="8.15" height="2" opacity="0.45"/>
<rect x="473.2" y="417" width="18.2" height="2" opacity="0.45"/>
<rect x="483.6" y="419" width="7.8" height="2" opacity="0.45"/>
<rect x="483.55" y="423" width="7.85" height="2" opacity="0.45"/>
<rect x="482.61" y="427" width="8.79" height="2" opacity="0.45"/>
<rect x="473.2" y="431" width="8.24" height="2" opacity="0.45"/>
<rect x="483.77" y="437" width="7.63" height="2" opacity="0.45"/>
<rect x="473.2" y="439" width="18.2" height="2" opacity="0.45"/>
<rect x="473.2" y="441" width="14.49" height="2" opacity="0.45"/>
<rect x="473.2" y="443" width="18.2" height="2" opacity="0.45"/>
<rect x="787.6" y="41" width="7.9" height="2" opacity="0.45"/>
<rect x="787.6" y="45" width="7.9" height="2" opacity="0.45"/>
<rect x="787.6" y="47" width="4.08" height="2" opacity="0.45"/>
<rect x="787.6" y="49" width="7.9" height="2" opacity="0.45"/>
<rect x="787.6" y="53" width="7.9" height="2" opacity="0.45"/>
<rect x="787.6" y="55" width="7.9" height="2" opacity="0.45"/>
<rect x="787.6" y="59" width="7.9" height="2" opacity="0.45"/>
<rect x="787.6" y="61" width="7.9" height="2" opacity="0.45"/>
<rect x="787.6" y="63" width="7.9" height="2" opacity="0.45"/>
<rect x="787.6" y="67" width="7.9" height="2" opacity="0.45"/>
<rect x="791.55" y="75" width="3.95" height="2" opacity="0.45"/>
<rect x="787.6" y="77" width="7.9" height="2" opacity="0.45"/>
<rect x="787.6" y="81" width="7.9" height="2" opacity="0.45"/>
<rect x="787.6" y="83" width="7.9" height="2" opacity="0.45"/>
<rect x="787.6" y="85" width="7.9" height="2" opacity="0.45"/>
<rect x="787.6" y="87" width="7.9" height="2" opacity="0.45"/>
<rect x="787.6" y="89" width="7.9" height="2" opacity="0.45"/>
<rect x="787.6" y="91" width="7.9" height="2" opacity="0.45"/>
<rect x="789.78" y="93" width="5.72" height="2" opacity="0.45"/>
<rect x="787.6" y="95" width="7.9" height="2" opacity="0.45"/>
<rect x="787.6" y="97" width="4.62" height="2" opacity="0.45"/>
<rect x="787.6" y="99" width="7.9" height="2" opacity="0.45"/>
<rect x="787.6" y="103" width="7.9" height="2" opacity="0.45"/>
<rect x="787.6" y="105" width="7.9" height="2" opacity="0.45"/>
<rect x="791.9" y="107" width="3.6" height="2" opacity="0.45"/>
<rect x="787.6" y="109" width="4.69" height="2" opacity="0.45"/>
<rect x="787.6" y="117" width="7.9" height="2" opacity="0.45"/>
<rect x="787.6" y="119" width="7.9" height="2" opacity="0.45"/>
<rect x="787.6" y="121" width="7.9" height="2" opacity="0.45"/>
<rect x="791.34" y="123" width="4.16" height="2" opacity="0.45"/>
<rect x="789.99" y="125" width="5.51" height="2" opacity="0.45"/>
<rect x="787.6" y="127" width="7.9" height="2" opacity="0.45"/>
<rect x="787.6" y="129" width="6.19" height="2" opacity="0.45"/>
<rect x="789.3" y="131" width="6.2" height="2" opacity="0.45"/>
<rect x="787.6" y="135" width="4.71" height="2" opacity="0.45"/>
<rect x="792.21" y="137" width="3.29" height="2" opacity="0.45"/>
<rect x="787.6" y="143" width="7.9" height="2" opacity="0.45"/>
<rect x="787.6" y="145" width="3.31" height="2" opacity="0.45"/>
<rect x="787.6" y="149" width="7.9" height="2" opacity="0.45"/>
<rect x="787.6" y="153" width="7.9" height="2" opacity="0.45"/>
<rect x="787.6" y="155" width="7.9" height="2" opacity="0.45"/>
<rect x="787.6" y="159" width="7.9" height="2" opacity="0.45"/>
<rect x="789.29" y="163" width="6.21" height="2" opacity="0.45"/>
<rect x="790.2" y="165" width="5.3" height="2" opacity="0.45"/>
<rect x="787.6" y="167" width="3.24" height="2" opacity="0.45"/>
<rect x="787.6" y="169" width="7.9" height="2" opacity="0.45"/>
<rect x="787.6" y="175" width="7.9" height="2" opacity="0.45"/>
<rect x="787.6" y="179" width="3.4" height="2" opacity="0.45"/>
<rect x="790.25" y="181" width="5.25" height="2" opacity="0.45"/>
<rect x="789.58" y="183" width="5.92" height="2" opacity="0.45"/>
<rect x="787.6" y="187" width="7.9" height="2" opacity="0.45"/>
<rect x="792.14" y="189" width="3.36" height="2" opacity="0.45"/>
<rect x="787.6" y="191" width="4.07" height="2" opacity="0.45"/>
<rect x="787.6" y="193" width="3.91" height="2" opacity="0.45"/>
<rect x="787.6" y="199" width="7.9" height="2" opacity="0.45"/>
<rect x="787.6" y="203" width="7.9" height="2" opacity="0.45"/>
<rect x="789.23" y="205" width="6.27" height="2" opacity="0.45"/>
<rect x="787.6" y="207" width="4.42" height="2" opacity="0.45"/>
<rect x="787.6" y="209" width="7.9" height="2" opacity="0.45"/>
<rect x="792.16" y="211" width="3.34" height="2" opacity="0.45"/>
<rect x="787.6" y="213" width="7.9" height="2" opacity="0.45"/>
<rect x="791.32" y="215" width="4.18" height="2" opacity="0.45"/>
<rect x="787.6" y="217" width="7.9" height="2" opacity="0.45"/>
<rect x="787.6" y="221" width="7.9" height="2" opacity="0.45"/>
<rect x="787.6" y="223" width="4.3" height="2" opacity="0.45"/>
<rect x="787.6" y="225" width="7.9" height="2" opacity="0.45"/>
<rect x="787.6" y="227" width="6.26" height="2" opacity="0.45"/>
<rect x="787.6" y="231" width="4.2" height="2" opacity="0.45"/>
<rect x="791.16" y="233" width="4.34" height="2" opacity="0.45"/>
<rect x="787.6" y="237" width="4.67" height="2" opacity="0.45"/>
<rect x="789.77" y="239" width="5.73" height="2" opacity="0.45"/>
<rect x="787.6" y="241" width="7.9" height="2" opacity="0.45"/>
<rect x="787.6" y="243" width="7.9" height="2" opacity="0.45"/>
<rect x="787.6" y="245" width="7.9" height="2" opacity="0.45"/>
<rect x="789.29" y="247" width="6.21" height="2" opacity="0.45"/>
<rect x="787.6" y="249" width="4.68" height="2" opacity="0.45"/>
<rect x="787.6" y="251" width="7.9" height="2" opacity="0.45"/>
<rect x="787.6" y="255" width="7.9" height="2" opacity="0.45"/>
<rect x="789.64" y="257" width="5.86" height="2" opacity="0.45"/>
<rect x="787.6" y="259" width="7.9" height="2" opacity="0.45"/>
<rect x="787.6" y="261" width="4.87" height="2" opacity="0.45"/>
<rect x="787.6" y="269" width="4.47" height="2" opacity="0.45"/>
<rect x="787.6" y="271" width="7.9" height="2" opacity="0.45"/>
<rect x="791.65" y="273" width="3.85" height="2" opacity="0.45"/>
<rect x="787.6" y="275" width="3.53" height="2" opacity="0.45"/>
<rect x="787.6" y="279" width="4.23" height="2" opacity="0.45"/>
<rect x="787.6" y="281" width="7.9" height="2" opacity="0.45"/>
<rect x="787.6" y="283" width="5.27" height="2" opacity="0.45"/>
<rect x="787.6" y="289" width="7.9" height="2" opacity="0.45"/>
<rect x="790.8" y="291" width="4.7" height="2" opacity="0.45"/>
<rect x="787.6" y="295" width="7.9" height="2" opacity="0.45"/>
<rect x="791.45" y="299" width="4.05" height="2" opacity="0.45"/>
<rect x="787.6" y="301" width="7.9" height="2" opacity="0.45"/>
<rect x="790.56" y="303" width="4.94" height="2" opacity="0.45"/>
<rect x="787.6" y="309" width="7.9" height="2" opacity="0.45"/>
<rect x="787.6" y="311" width="7.9" height="2" opacity="0.45"/>
<rect x="787.6" y="313" width="7.9" height="2" opacity="0.45"/>
<rect x="787.6" y="315" width="7.9" height="2" opacity="0.45"/>
<rect x="790.23" y="317" width="5.27" height="2" opacity="0.45"/>
<rect x="787.6" y="319" width="7.9" height="2" opacity="0.45"/>
<rect x="787.6" y="323" width="7.9" height="2" opacity="0.45"/>
<rect x="787.6" y="325" width="7.9" height="2" opacity="0.45"/>
<rect x="787.6" y="327" width="7.9" height="2" opacity="0.45"/>
<rect x="787.6" y="329" width="7.9" height="2" opacity="0.45"/>
<rect x="787.6" y="339" width="7.9" height="2" opacity="0.45"/>
<rect x="791.96" y="341" width="3.54" height="2" opacity="0.45"/>
<rect x="789.56" y="347" width="5.94" height="2" opacity="0.45"/>
<rect x="787.6" y="349" width="7.9" height="2" opacity="0.45"/>
<rect x="787.6" y="351" width="7.9" height="2" opacity="0.45"/>
<rect x="787.6" y="353" width="7.9" height="2" opacity="0.45"/>
<rect x="787.6" y="355" width="7.9" height="2" opacity="0.45"/>
<rect x="787.6" y="357" width="7.9" height="2" opacity="0.45"/>
<rect x="787.6" y="359" width="7.9" height="2" opacity="0.45"/>
<rect x="791.86" y="361" width="3.64" height="2" opacity="0.45"/>
<rect x="787.6" y="363" width="7.9" height="2" opacity="0.45"/>
<rect x="787.6" y="365" width="7.9" height="2" opacity="0.45"/>
<rect x="790.48" y="367" width="5.02" height="2" opacity="0.45"/>
<rect x="787.6" y="369" width="7.9" height="2" opacity="0.45"/>
<rect x="787.6" y="371" width="7.9" height="2" opacity="0.45"/>
<rect x="787.6" y="373" width="7.9" height="2" opacity="0.45"/>
<rect x="787.6" y="377" width="7.9" height="2" opacity="0.45"/>
<rect x="787.6" y="379" width="7.9" height="2" opacity="0.45"/>
<rect x="789.53" y="383" width="5.97" height="2" opacity="0.45"/>
<rect x="787.6" y="385" width="7.9" height="2" opacity="0.45"/>
<rect x="787.6" y="389" width="4.11" height="2" opacity="0.45"/>
<rect x="787.6" y="395" width="7.9" height="2" opacity="0.45"/>
<rect x="787.6" y="399" width="7.9" height="2" opacity="0.45"/>
<rect x="787.6" y="401" width="5.01" height="2" opacity="0.45"/>
<rect x="787.6" y="409" width="7.9" height="2" opacity="0.45"/>
<rect x="787.6" y="413" width="7.9" height="2" opacity="0.45"/>
<rect x="792.14" y="415" width="3.36" height="2" opacity="0.45"/>
<rect x="791.93" y="417" width="3.57" height="2" opacity="0.45"/>
<rect x="787.6" y="421" width="4.1" height="2" opacity="0.45"/>
<rect x="790.77" y="423" width="4.73" height="2" opacity="0.45"/>
<rect x="787.6" y="427" width="5.95" height="2" opacity="0.45"/>
<rect x="790.68" y="429" width="4.82" height="2" opacity="0.45"/>
<rect x="787.6" y="433" width="7.9" height="2" opacity="0.45"/>
<rect x="787.6" y="435" width="7.9" height="2" opacity="0.45"/>
<rect x="787.6" y="439" width="7.9" height="2" opacity="0.45"/>
<rect x="787.6" y="441" width="7.9" height="2" opacity="0.45"/>
<rect x="86.5" y="276.6" width="1221.5" height="2.2" opacity="0.5"/>
<rect x="146" y="276.7" width="7" height="2" opacity="0.5"/>
<rect x="174" y="276.7" width="4" height="2" opacity="0.5"/>
<rect x="245" y="276.7" width="45" height="2" opacity="0.5"/>
<rect x="1053" y="276.7" width="51" height="2" opacity="0.5"/>
<rect x="1083" y="276.7" width="10" height="2" opacity="0.5"/>
<rect x="1129" y="276.7" width="50" height="2" opacity="0.5"/>
<rect x="1207" y="276.7" width="54" height="2" opacity="0.5"/>
<rect x="1239" y="276.7" width="22" height="2" opacity="0.5"/>
<rect x="915" y="268.8" width="393" height="2" opacity="0.5"/>
<rect x="1069" y="268.8" width="16" height="2" opacity="0.5"/>
<rect x="1204" y="268.8" width="41" height="2" opacity="0.5"/>
<rect x="176" y="323.8" width="4" height="2" opacity="0.5"/>
<rect x="1050" y="323.8" width="258" height="2" opacity="0.5"/>
<rect x="1085" y="323.8" width="9" height="2" opacity="0.5"/>
<rect x="1236" y="323.8" width="25" height="2" opacity="0.5"/>
<rect x="700" y="379.4" width="608" height="2" opacity="0.5"/>
<rect x="94.5" y="432" width="1213.5" height="2" opacity="0.5"/>
<rect x="994" y="432" width="314" height="2" opacity="0.5"/>
<rect x="178" y="432" width="4" height="2" opacity="0.5"/>
<rect x="280" y="432" width="10" height="2" opacity="0.5"/>
<rect x="1069" y="432" width="32" height="2" opacity="0.5"/>
<rect x="1233" y="432" width="25" height="2" opacity="0.5"/>
<rect x="160" y="437.6" width="26" height="2" opacity="0.5"/>
<rect x="1121" y="115.4" width="187" height="2.5" opacity="0.5"/>
</g>
<g style="mix-blend-mode:screen">
<g shape-rendering="crispEdges">
<rect x="19" y="35" width="1.56" height="408" fill="#170000"/>
<rect x="20.26" y="35" width="1.56" height="408" fill="#190000"/>
<rect x="21.52" y="35" width="1.56" height="408" fill="#170000"/>
<rect x="22.78" y="35" width="1.56" height="408" fill="#160000"/>
<rect x="24.04" y="35" width="1.56" height="408" fill="#150000"/>
<rect x="25.29" y="35" width="1.56" height="408" fill="#170000"/>
<rect x="26.55" y="35" width="1.56" height="408" fill="#1a0000"/>
<rect x="27.81" y="35" width="1.56" height="408" fill="#180000"/>
<rect x="29.07" y="35" width="1.56" height="408" fill="#1a0000"/>
<rect x="30.33" y="35" width="4.08" height="408" fill="#180000"/>
<rect x="34.11" y="35" width="1.56" height="408" fill="#130000"/>
<rect x="35.36" y="35" width="1.56" height="408" fill="#190000"/>
<rect x="36.62" y="35" width="2.82" height="408" fill="#180000"/>
<rect x="39.14" y="35" width="2.82" height="408" fill="#130000"/>
<rect x="41.66" y="35" width="1.56" height="408" fill="#150000"/>
<rect x="42.92" y="35" width="1.56" height="408" fill="#160000"/>
<rect x="44.18" y="35" width="1.56" height="408" fill="#180000"/>
<rect x="45.43" y="35" width="1.56" height="408" fill="#170000"/>
<rect x="46.69" y="35" width="1.56" height="408" fill="#190000"/>
<rect x="47.95" y="35" width="1.56" height="408" fill="#160000"/>
<rect x="49.21" y="35" width="2.82" height="408" fill="#180000"/>
<rect x="51.73" y="35" width="1.56" height="408" fill="#160000"/>
<rect x="52.99" y="35" width="1.56" height="408" fill="#1b0000"/>
<rect x="54.25" y="35" width="1.56" height="408" fill="#190000"/>
<rect x="55.5" y="35" width="1.56" height="408" fill="#1a0000"/>
<rect x="56.76" y="35" width="1.56" height="408" fill="#160000"/>
<rect x="58.02" y="35" width="1.56" height="408" fill="#150000"/>
<rect x="59.28" y="35" width="1.56" height="408" fill="#160000"/>
<rect x="60.54" y="35" width="1.56" height="408" fill="#170000"/>
<rect x="61.8" y="35" width="1.56" height="408" fill="#190000"/>
<rect x="63.06" y="35" width="1.56" height="408" fill="#180000"/>
<rect x="64.32" y="35" width="1.56" height="408" fill="#160000"/>
<rect x="65.58" y="35" width="1.56" height="408" fill="#150000"/>
<rect x="66.83" y="35" width="1.56" height="408" fill="#160000"/>
<rect x="68.09" y="35" width="1.56" height="408" fill="#1a0000"/>
<rect x="69.35" y="35" width="1.56" height="408" fill="#150000"/>
<rect x="70.61" y="35" width="2.82" height="408" fill="#180000"/>
<rect x="73.13" y="35" width="1.56" height="408" fill="#140000"/>
<rect x="74.39" y="35" width="1.56" height="408" fill="#170000"/>
<rect x="75.65" y="35" width="1.56" height="408" fill="#1a0000"/>
<rect x="76.9" y="35" width="1.56" height="408" fill="#120000"/>
<rect x="78.16" y="35" width="1.56" height="408" fill="#160000"/>
<rect x="79.42" y="35" width="1.56" height="408" fill="#170000"/>
<rect x="80.68" y="35" width="1.56" height="408" fill="#150000"/>
<rect x="81.94" y="35" width="1.56" height="408" fill="#180000"/>
<rect x="83.2" y="35" width="1.56" height="408" fill="#170000"/>
<rect x="84.46" y="35" width="1.56" height="408" fill="#140000"/>
<rect x="85.72" y="35" width="2.82" height="408" fill="#190000"/>
<rect x="88.23" y="35" width="1.56" height="408" fill="#1a0000"/>
<rect x="89.49" y="35" width="1.56" height="408" fill="#1b0000"/>
<rect x="90.75" y="35" width="2.82" height="408" fill="#180000"/>
<rect x="93.27" y="35" width="1.56" height="408" fill="#140000"/>
<rect x="94.53" y="35" width="1.56" height="408" fill="#190000"/>
<rect x="95.79" y="35" width="2.82" height="408" fill="#160000"/>
<rect x="98.3" y="35" width="1.56" height="408" fill="#140000"/>
<rect x="99.56" y="35" width="1.56" height="408" fill="#150000"/>
<rect x="100.82" y="35" width="1.56" height="408" fill="#160000"/>
<rect x="102.08" y="35" width="1.56" height="408" fill="#1a0000"/>
<rect x="103.34" y="35" width="1.56" height="408" fill="#120000"/>
<rect x="104.6" y="35" width="1.56" height="408" fill="#140000"/>
<rect x="105.86" y="35" width="1.56" height="408" fill="#180000"/>
<rect x="107.12" y="35" width="1.56" height="408" fill="#1c0000"/>
<rect x="108.37" y="35" width="1.56" height="408" fill="#1a0000"/>
<rect x="109.63" y="35" width="1.56" height="408" fill="#140000"/>
<rect x="110.89" y="35" width="1.56" height="408" fill="#130000"/>
<rect x="112.15" y="35" width="1.56" height="408" fill="#1b0000"/>
<rect x="113.41" y="35" width="2.82" height="408" fill="#180000"/>
<rect x="115.93" y="35" width="1.56" height="408" fill="#1d0000"/>
<rect x="117.19" y="35" width="1.56" height="408" fill="#1e0000"/>
<rect x="118.44" y="35" width="1.56" height="408" fill="#1c0000"/>
<rect x="119.7" y="35" width="2.82" height="408" fill="#1d0000"/>
<rect x="122.22" y="35" width="1.56" height="408" fill="#210000"/>
<rect x="123.48" y="35" width="2.82" height="408" fill="#1f0000"/>
<rect x="126" y="35" width="1.56" height="408" fill="#200000"/>
<rect x="127.26" y="35" width="1.56" height="408" fill="#1b0000"/>
<rect x="128.51" y="35" width="4.08" height="408" fill="#230000"/>
<rect x="132.29" y="35" width="1.56" height="408" fill="#1d0000"/>
<rect x="133.55" y="35" width="1.56" height="408" fill="#210000"/>
<rect x="134.81" y="35" width="1.56" height="408" fill="#260000"/>
<rect x="136.07" y="35" width="1.56" height="408" fill="#200000"/>
<rect x="137.33" y="35" width="1.56" height="408" fill="#250000"/>
<rect x="138.58" y="35" width="1.56" height="408" fill="#290000"/>
<rect x="139.84" y="35" width="1.56" height="408" fill="#240000"/>
<rect x="141.1" y="35" width="1.56" height="408" fill="#2c0000"/>
<rect x="142.36" y="35" width="1.56" height="408" fill="#2a0000"/>
<rect x="143.62" y="35" width="1.56" height="408" fill="#290000"/>
<rect x="144.88" y="35" width="1.56" height="408" fill="#2b0000"/>
<rect x="146.14" y="35" width="1.56" height="408" fill="#2c0000"/>
<rect x="147.4" y="35" width="1.56" height="408" fill="#2b0000"/>
<rect x="148.66" y="35" width="1.56" height="408" fill="#2d0000"/>
<rect x="149.91" y="35" width="1.56" height="408" fill="#290000"/>
<rect x="151.17" y="35" width="1.56" height="408" fill="#2a0000"/>
<rect x="152.43" y="35" width="1.56" height="408" fill="#2e0000"/>
<rect x="153.69" y="35" width="1.56" height="408" fill="#2c0000"/>
<rect x="154.95" y="35" width="1.56" height="408" fill="#2a0000"/>
<rect x="156.21" y="35" width="1.56" height="408" fill="#2e0000"/>
<rect x="157.47" y="35" width="1.56" height="408" fill="#300000"/>
<rect x="158.73" y="35" width="1.56" height="408" fill="#2c0000"/>
<rect x="159.98" y="35" width="1.56" height="408" fill="#2a0000"/>
<rect x="161.24" y="35" width="4.08" height="408" fill="#2d0000"/>
<rect x="165.02" y="35" width="1.56" height="408" fill="#310000"/>
<rect x="166.28" y="35" width="1.56" height="408" fill="#2c0000"/>
<rect x="167.54" y="35" width="1.56" height="408" fill="#320000"/>
<rect x="168.8" y="35" width="1.56" height="408" fill="#2f0000"/>
<rect x="170.05" y="35" width="1.56" height="408" fill="#340000"/>
<rect x="171.31" y="35" width="1.56" height="408" fill="#390000"/>
<rect x="172.57" y="35" width="5.34" height="408" fill="#3c0000"/>
<rect x="177.61" y="35" width="1.56" height="408" fill="#3d0000"/>
<rect x="178.87" y="35" width="1.56" height="408" fill="#3f0000"/>
<rect x="180.12" y="35" width="1.56" height="408" fill="#3c0000"/>
<rect x="181.38" y="35" width="1.56" height="408" fill="#3d0000"/>
<rect x="182.64" y="35" width="1.56" height="408" fill="#3e0000"/>
<rect x="183.9" y="35" width="1.56" height="408" fill="#3b0000"/>
<rect x="185.16" y="35" width="1.56" height="408" fill="#3e0000"/>
<rect x="186.42" y="35" width="1.56" height="408" fill="#3c0000"/>
<rect x="187.68" y="35" width="1.56" height="408" fill="#3f0000"/>
<rect x="188.94" y="35" width="1.56" height="408" fill="#3a0000"/>
<rect x="190.2" y="35" width="1.56" height="408" fill="#370000"/>
<rect x="191.45" y="35" width="1.56" height="408" fill="#350000"/>
<rect x="192.71" y="35" width="1.56" height="408" fill="#340000"/>
<rect x="193.97" y="35" width="1.56" height="408" fill="#350000"/>
<rect x="195.23" y="35" width="2.82" height="408" fill="#2f0000"/>
<rect x="197.75" y="35" width="1.56" height="408" fill="#310000"/>
<rect x="199.01" y="35" width="1.56" height="408" fill="#250000"/>
<rect x="200.27" y="35" width="1.56" height="408" fill="#270000"/>
<rect x="201.52" y="35" width="1.56" height="408" fill="#290000"/>
<rect x="202.78" y="35" width="1.56" height="408" fill="#280000"/>
<rect x="204.04" y="35" width="1.56" height="408" fill="#270000"/>
<rect x="205.3" y="35" width="1.56" height="408" fill="#250000"/>
<rect x="206.56" y="35" width="1.56" height="408" fill="#280000"/>
<rect x="207.82" y="35" width="1.56" height="408" fill="#270000"/>
<rect x="209.08" y="35" width="1.56" height="408" fill="#250000"/>
<rect x="210.34" y="35" width="1.56" height="408" fill="#2c0000"/>
<rect x="211.59" y="35" width="1.56" height="408" fill="#270000"/>
<rect x="212.85" y="35" width="1.56" height="408" fill="#250000"/>
<rect x="214.11" y="35" width="1.56" height="408" fill="#260000"/>
<rect x="215.37" y="35" width="1.56" height="408" fill="#250000"/>
<rect x="216.63" y="35" width="1.56" height="408" fill="#260000"/>
<rect x="217.89" y="35" width="1.56" height="408" fill="#1f0000"/>
<rect x="219.15" y="35" width="1.56" height="408" fill="#250000"/>
<rect x="220.41" y="35" width="1.56" height="408" fill="#280000"/>
<rect x="221.67" y="35" width="1.56" height="408" fill="#230000"/>
<rect x="222.92" y="35" width="1.56" height="408" fill="#260000"/>
<rect x="224.18" y="35" width="2.82" height="408" fill="#280000"/>
<rect x="226.7" y="35" width="1.56" height="408" fill="#2a0000"/>
<rect x="227.96" y="35" width="1.56" height="408" fill="#220000"/>
<rect x="229.22" y="35" width="2.82" height="408" fill="#250000"/>
<rect x="231.74" y="35" width="1.56" height="408" fill="#270000"/>
<rect x="232.99" y="35" width="1.56" height="408" fill="#290000"/>
<rect x="234.25" y="35" width="1.56" height="408" fill="#1f0000"/>
<rect x="235.51" y="35" width="1.56" height="408" fill="#290000"/>
<rect x="236.77" y="35" width="1.56" height="408" fill="#220000"/>
<rect x="238.03" y="35" width="1.56" height="408" fill="#280000"/>
<rect x="239.29" y="35" width="1.56" height="408" fill="#220000"/>
<rect x="240.55" y="35" width="1.56" height="408" fill="#290000"/>
<rect x="241.81" y="35" width="1.56" height="408" fill="#2e0000"/>
<rect x="243.06" y="35" width="1.56" height="408" fill="#2d0000"/>
<rect x="244.32" y="35" width="1.56" height="408" fill="#300000"/>
<rect x="245.58" y="35" width="1.56" height="408" fill="#320000"/>
<rect x="246.84" y="35" width="2.82" height="408" fill="#300000"/>
<rect x="249.36" y="35" width="1.56" height="408" fill="#340000"/>
<rect x="250.62" y="35" width="1.56" height="408" fill="#330000"/>
<rect x="251.88" y="35" width="1.56" height="408" fill="#300000"/>
<rect x="253.13" y="35" width="1.56" height="408" fill="#380000"/>
<rect x="254.39" y="35" width="1.56" height="408" fill="#2e0000"/>
<rect x="255.65" y="35" width="1.56" height="408" fill="#340000"/>
<rect x="256.91" y="35" width="1.56" height="408" fill="#310000"/>
<rect x="258.17" y="35" width="1.56" height="408" fill="#320000"/>
<rect x="259.43" y="35" width="1.56" height="408" fill="#340000"/>
<rect x="260.69" y="35" width="1.56" height="408" fill="#330000"/>
<rect x="261.95" y="35" width="1.56" height="408" fill="#340000"/>
<rect x="263.21" y="35" width="2.82" height="408" fill="#2f0000"/>
<rect x="265.72" y="35" width="1.56" height="408" fill="#340000"/>
<rect x="266.98" y="35" width="2.82" height="408" fill="#300000"/>
<rect x="269.5" y="35" width="1.56" height="408" fill="#2f0000"/>
<rect x="270.76" y="35" width="1.56" height="408" fill="#360000"/>
<rect x="272.02" y="35" width="1.56" height="408" fill="#350000"/>
<rect x="273.28" y="35" width="1.56" height="408" fill="#370000"/>
<rect x="274.53" y="35" width="1.56" height="408" fill="#310000"/>
<rect x="275.79" y="35" width="1.56" height="408" fill="#330000"/>
<rect x="277.05" y="35" width="1.56" height="408" fill="#310000"/>
<rect x="278.31" y="35" width="1.56" height="408" fill="#360000"/>
<rect x="279.57" y="35" width="1.56" height="408" fill="#380000"/>
<rect x="280.83" y="35" width="1.56" height="408" fill="#320000"/>
<rect x="282.09" y="35" width="1.56" height="408" fill="#380000"/>
<rect x="283.35" y="35" width="1.56" height="408" fill="#370000"/>
<rect x="284.6" y="35" width="1.56" height="408" fill="#340000"/>
<rect x="285.86" y="35" width="1.56" height="408" fill="#2f0000"/>
<rect x="287.12" y="35" width="1.56" height="408" fill="#380000"/>
<rect x="288.38" y="35" width="2.82" height="408" fill="#340000"/>
<rect x="290.9" y="35" width="1.56" height="408" fill="#3a0000"/>
<rect x="292.16" y="35" width="1.56" height="408" fill="#3e0000"/>
<rect x="293.42" y="35" width="1.56" height="408" fill="#430000"/>
<rect x="294.67" y="35" width="1.56" height="408" fill="#3a0000"/>
<rect x="295.93" y="35" width="1.56" height="408" fill="#420000"/>
<rect x="297.19" y="35" width="2.82" height="408" fill="#430000"/>
<rect x="299.71" y="35" width="1.56" height="408" fill="#3d0000"/>
<rect x="300.97" y="35" width="1.56" height="408" fill="#3b0000"/>
<rect x="302.23" y="35" width="1.56" height="408" fill="#420000"/>
<rect x="303.49" y="35" width="2.82" height="408" fill="#3f0000"/>
<rect x="306" y="35" width="1.56" height="408" fill="#440000"/>
<rect x="307.26" y="35" width="1.56" height="408" fill="#3e0000"/>
<rect x="308.52" y="35" width="1.56" height="408" fill="#360000"/>
<rect x="309.78" y="35" width="1.56" height="408" fill="#3d0000"/>
<rect x="311.04" y="35" width="1.56" height="408" fill="#380000"/>
<rect x="312.3" y="35" width="1.56" height="408" fill="#420000"/>
<rect x="313.56" y="35" width="1.56" height="408" fill="#400000"/>
<rect x="314.82" y="35" width="1.56" height="408" fill="#3d0000"/>
<rect x="316.07" y="35" width="1.56" height="408" fill="#3f0000"/>
<rect x="317.33" y="35" width="1.56" height="408" fill="#420000"/>
<rect x="318.59" y="35" width="1.56" height="408" fill="#400000"/>
<rect x="319.85" y="35" width="1.56" height="408" fill="#470000"/>
<rect x="321.11" y="35" width="1.56" height="408" fill="#440000"/>
<rect x="322.37" y="35" width="1.56" height="408" fill="#480000"/>
<rect x="323.63" y="35" width="1.56" height="408" fill="#4a0000"/>
<rect x="324.89" y="35" width="1.56" height="408" fill="#4b0000"/>
<rect x="326.14" y="35" width="1.56" height="408" fill="#420000"/>
<rect x="327.4" y="35" width="1.56" height="408" fill="#480000"/>
<rect x="328.66" y="35" width="1.56" height="408" fill="#3e0000"/>
<rect x="329.92" y="35" width="1.56" height="408" fill="#410000"/>
<rect x="331.18" y="35" width="1.56" height="408" fill="#3e0000"/>
<rect x="332.44" y="35" width="1.56" height="408" fill="#490000"/>
<rect x="333.7" y="35" width="1.56" height="408" fill="#410000"/>
<rect x="334.96" y="35" width="4.08" height="408" fill="#450000"/>
<rect x="338.73" y="35" width="1.56" height="408" fill="#430000"/>
<rect x="339.99" y="35" width="1.56" height="408" fill="#460000"/>
<rect x="341.25" y="35" width="1.56" height="408" fill="#4c0000"/>
<rect x="342.51" y="35" width="1.56" height="408" fill="#460000"/>
<rect x="343.77" y="35" width="1.56" height="408" fill="#490000"/>
<rect x="345.03" y="35" width="1.56" height="408" fill="#4c0000"/>
<rect x="346.29" y="35" width="1.56" height="408" fill="#470000"/>
<rect x="347.54" y="35" width="1.56" height="408" fill="#440000"/>
<rect x="348.8" y="35" width="1.56" height="408" fill="#460000"/>
<rect x="350.06" y="35" width="1.56" height="408" fill="#4c0000"/>
<rect x="351.32" y="35" width="1.56" height="408" fill="#420000"/>
<rect x="352.58" y="35" width="1.56" height="408" fill="#460000"/>
<rect x="353.84" y="35" width="1.56" height="408" fill="#4c0000"/>
<rect x="355.1" y="35" width="1.56" height="408" fill="#4b0000"/>
<rect x="356.36" y="35" width="1.56" height="408" fill="#480000"/>
<rect x="357.61" y="35" width="1.56" height="408" fill="#4b0000"/>
<rect x="358.87" y="35" width="1.56" height="408" fill="#490000"/>
<rect x="360.13" y="35" width="1.56" height="408" fill="#440000"/>
<rect x="361.39" y="35" width="1.56" height="408" fill="#420000"/>
<rect x="362.65" y="35" width="1.56" height="408" fill="#460000"/>
<rect x="363.91" y="35" width="1.56" height="408" fill="#4c0000"/>
<rect x="365.17" y="35" width="1.56" height="408" fill="#460000"/>
<rect x="366.43" y="35" width="2.82" height="408" fill="#450000"/>
<rect x="368.94" y="35" width="1.56" height="408" fill="#430000"/>
<rect x="370.2" y="35" width="1.56" height="408" fill="#480000"/>
<rect x="371.46" y="35" width="1.56" height="408" fill="#440000"/>
<rect x="372.72" y="35" width="1.56" height="408" fill="#4a0000"/>
<rect x="373.98" y="35" width="1.56" height="408" fill="#400000"/>
<rect x="375.24" y="35" width="1.56" height="408" fill="#490000"/>
<rect x="376.5" y="35" width="1.56" height="408" fill="#450000"/>
<rect x="377.75" y="35" width="1.56" height="408" fill="#400000"/>
<rect x="379.01" y="35" width="1.56" height="408" fill="#4a0000"/>
<rect x="380.27" y="35" width="1.56" height="408" fill="#460000"/>
<rect x="381.53" y="35" width="1.56" height="408" fill="#3f0000"/>
<rect x="382.79" y="35" width="1.56" height="408" fill="#440000"/>
<rect x="384.05" y="35" width="1.56" height="408" fill="#480000"/>
<rect x="385.31" y="35" width="1.56" height="408" fill="#450000"/>
<rect x="386.57" y="35" width="2.82" height="408" fill="#490000"/>
<rect x="389.08" y="35" width="1.56" height="408" fill="#3f0000"/>
<rect x="390.34" y="35" width="1.56" height="408" fill="#2e0000"/>
<rect x="391.6" y="35" width="1.56" height="408" fill="#310000"/>
<rect x="392.86" y="35" width="1.56" height="408" fill="#2f0000"/>
<rect x="394.12" y="35" width="1.56" height="408" fill="#2e0000"/>
<rect x="395.38" y="35" width="1.56" height="408" fill="#280000"/>
<rect x="396.64" y="35" width="1.56" height="408" fill="#2f0000"/>
<rect x="397.9" y="35" width="1.56" height="408" fill="#300000"/>
<rect x="399.15" y="35" width="1.56" height="408" fill="#2d0000"/>
<rect x="400.41" y="35" width="1.56" height="408" fill="#2c0000"/>
<rect x="401.67" y="35" width="1.56" height="408" fill="#320000"/>
<rect x="402.93" y="35" width="1.56" height="408" fill="#290000"/>
<rect x="404.19" y="35" width="1.56" height="408" fill="#2e0000"/>
<rect x="405.45" y="35" width="1.56" height="408" fill="#330000"/>
<rect x="406.71" y="35" width="1.56" height="408" fill="#2b0000"/>
<rect x="407.97" y="35" width="1.56" height="408" fill="#370000"/>
<rect x="409.22" y="35" width="1.56" height="408" fill="#4c0000"/>
<rect x="410.48" y="35" width="1.56" height="408" fill="#470000"/>
<rect x="411.74" y="35" width="1.56" height="408" fill="#490000"/>
<rect x="413" y="35" width="1.56" height="408" fill="#4a0000"/>
<rect x="414.26" y="35" width="1.56" height="408" fill="#440000"/>
<rect x="415.52" y="35" width="1.56" height="408" fill="#470000"/>
<rect x="416.78" y="35" width="1.56" height="408" fill="#480000"/>
<rect x="418.04" y="35" width="1.56" height="408" fill="#4a0000"/>
<rect x="419.29" y="35" width="1.56" height="408" fill="#470000"/>
<rect x="420.55" y="35" width="1.56" height="408" fill="#460000"/>
<rect x="421.81" y="35" width="1.56" height="408" fill="#430000"/>
<rect x="423.07" y="35" width="1.56" height="408" fill="#460000"/>
<rect x="424.33" y="35" width="1.56" height="408" fill="#4a0000"/>
<rect x="425.59" y="35" width="1.56" height="408" fill="#470000"/>
<rect x="426.85" y="35" width="2.82" height="408" fill="#440000"/>
<rect x="429.37" y="35" width="1.56" height="408" fill="#510000"/>
<rect x="430.62" y="35" width="1.56" height="408" fill="#4b0000"/>
<rect x="431.88" y="35" width="1.56" height="408" fill="#490000"/>
<rect x="433.14" y="35" width="1.56" height="408" fill="#3d0000"/>
<rect x="434.4" y="35" width="2.82" height="408" fill="#490000"/>
<rect x="436.92" y="35" width="1.56" height="408" fill="#4d0000"/>
<rect x="438.18" y="35" width="1.56" height="408" fill="#490000"/>
<rect x="439.44" y="35" width="1.56" height="408" fill="#470000"/>
<rect x="440.69" y="35" width="1.56" height="408" fill="#490000"/>
<rect x="441.95" y="35" width="1.56" height="408" fill="#400000"/>
<rect x="443.21" y="35" width="1.56" height="408" fill="#4b0000"/>
<rect x="444.47" y="35" width="1.56" height="408" fill="#480000"/>
<rect x="445.73" y="35" width="1.56" height="408" fill="#440000"/>
<rect x="446.99" y="35" width="1.56" height="408" fill="#4c0000"/>
<rect x="448.25" y="35" width="1.56" height="408" fill="#4e0000"/>
<rect x="449.51" y="35" width="1.56" height="408" fill="#420000"/>
<rect x="450.76" y="35" width="1.56" height="408" fill="#450000"/>
<rect x="452.02" y="35" width="2.82" height="408" fill="#480000"/>
<rect x="454.54" y="35" width="1.56" height="408" fill="#460000"/>
<rect x="455.8" y="35" width="1.56" height="408" fill="#430000"/>
<rect x="457.06" y="35" width="1.56" height="408" fill="#4f0000"/>
<rect x="458.32" y="35" width="1.56" height="408" fill="#4b0000"/>
<rect x="459.58" y="35" width="1.56" height="408" fill="#430000"/>
<rect x="460.83" y="35" width="1.56" height="408" fill="#420000"/>
<rect x="462.09" y="35" width="1.56" height="408" fill="#4d0000"/>
<rect x="463.35" y="35" width="1.56" height="408" fill="#4b0000"/>
<rect x="464.61" y="35" width="1.56" height="408" fill="#4e0000"/>
<rect x="465.87" y="35" width="1.56" height="408" fill="#4a0000"/>
<rect x="467.13" y="35" width="1.56" height="408" fill="#440000"/>
<rect x="468.39" y="35" width="1.56" height="408" fill="#480000"/>
<rect x="469.65" y="35" width="1.56" height="408" fill="#3f0000"/>
<rect x="470.91" y="35" width="1.56" height="408" fill="#440000"/>
<rect x="472.16" y="35" width="1.56" height="408" fill="#470000"/>
<rect x="473.42" y="35" width="1.56" height="408" fill="#490000"/>
<rect x="474.68" y="35" width="1.56" height="408" fill="#440000"/>
<rect x="475.94" y="35" width="1.56" height="408" fill="#470000"/>
<rect x="477.2" y="35" width="1.56" height="408" fill="#490000"/>
<rect x="478.46" y="35" width="1.56" height="408" fill="#480000"/>
<rect x="479.72" y="35" width="1.56" height="408" fill="#490000"/>
<rect x="480.98" y="35" width="1.56" height="408" fill="#480000"/>
<rect x="482.23" y="35" width="1.56" height="408" fill="#460000"/>
<rect x="483.49" y="35" width="1.56" height="408" fill="#4a0000"/>
<rect x="484.75" y="35" width="1.56" height="408" fill="#470000"/>
<rect x="486.01" y="35" width="1.56" height="408" fill="#440000"/>
<rect x="487.27" y="35" width="1.56" height="408" fill="#450000"/>
<rect x="488.53" y="35" width="2.82" height="408" fill="#470000"/>
<rect x="491.05" y="35" width="2.82" height="408" fill="#480000"/>
<rect x="493.56" y="35" width="1.56" height="408" fill="#490000"/>
<rect x="494.82" y="35" width="1.56" height="408" fill="#480000"/>
<rect x="496.08" y="35" width="1.56" height="408" fill="#440000"/>
<rect x="497.34" y="35" width="1.56" height="408" fill="#4a0000"/>
<rect x="498.6" y="35" width="1.56" height="408" fill="#4c0000"/>
<rect x="499.86" y="35" width="1.56" height="408" fill="#4a0000"/>
<rect x="501.12" y="35" width="1.56" height="408" fill="#470000"/>
<rect x="502.38" y="35" width="1.56" height="408" fill="#4a0000"/>
<rect x="503.63" y="35" width="1.56" height="408" fill="#450000"/>
<rect x="504.89" y="35" width="1.56" height="408" fill="#410000"/>
<rect x="506.15" y="35" width="1.56" height="408" fill="#480000"/>
<rect x="507.41" y="35" width="1.56" height="408" fill="#450000"/>
<rect x="508.67" y="35" width="1.56" height="408" fill="#4b0000"/>
<rect x="509.93" y="35" width="1.56" height="408" fill="#440000"/>
<rect x="511.19" y="35" width="1.56" height="408" fill="#3f0000"/>
<rect x="512.45" y="35" width="1.56" height="408" fill="#440000"/>
<rect x="513.7" y="35" width="1.56" height="408" fill="#4e0000"/>
<rect x="514.96" y="35" width="1.56" height="408" fill="#470000"/>
<rect x="516.22" y="35" width="1.56" height="408" fill="#430000"/>
<rect x="517.48" y="35" width="1.56" height="408" fill="#450000"/>
<rect x="518.74" y="35" width="2.82" height="408" fill="#4a0000"/>
<rect x="521.26" y="35" width="1.56" height="408" fill="#490000"/>
<rect x="522.52" y="35" width="1.56" height="408" fill="#4e0000"/>
<rect x="523.77" y="35" width="1.56" height="408" fill="#4b0000"/>
<rect x="525.03" y="35" width="1.56" height="408" fill="#480000"/>
<rect x="526.29" y="35" width="1.56" height="408" fill="#4a0000"/>
<rect x="527.55" y="35" width="1.56" height="408" fill="#4e0000"/>
<rect x="528.81" y="35" width="1.56" height="408" fill="#4c0000"/>
<rect x="530.07" y="35" width="1.56" height="408" fill="#490000"/>
<rect x="531.33" y="35" width="1.56" height="408" fill="#3d0000"/>
<rect x="532.59" y="35" width="1.56" height="408" fill="#3c0000"/>
<rect x="533.84" y="35" width="1.56" height="408" fill="#3a0000"/>
<rect x="535.1" y="35" width="1.56" height="408" fill="#350000"/>
<rect x="536.36" y="35" width="1.56" height="408" fill="#380000"/>
<rect x="537.62" y="35" width="1.56" height="408" fill="#370000"/>
<rect x="538.88" y="35" width="1.56" height="408" fill="#380000"/>
<rect x="540.14" y="35" width="1.56" height="408" fill="#350000"/>
<rect x="541.4" y="35" width="1.56" height="408" fill="#3c0000"/>
<rect x="542.66" y="35" width="1.56" height="408" fill="#390000"/>
<rect x="543.92" y="35" width="1.56" height="408" fill="#350000"/>
<rect x="545.17" y="35" width="1.56" height="408" fill="#360000"/>
<rect x="546.43" y="35" width="1.56" height="408" fill="#3c0000"/>
<rect x="547.69" y="35" width="1.56" height="408" fill="#350000"/>
<rect x="548.95" y="35" width="2.82" height="408" fill="#380000"/>
<rect x="551.47" y="35" width="1.56" height="408" fill="#360000"/>
<rect x="552.73" y="35" width="1.56" height="408" fill="#330000"/>
<rect x="553.99" y="35" width="1.56" height="408" fill="#360000"/>
<rect x="555.24" y="35" width="1.56" height="408" fill="#370000"/>
<rect x="556.5" y="35" width="1.56" height="408" fill="#390000"/>
<rect x="557.76" y="35" width="1.56" height="408" fill="#380000"/>
<rect x="559.02" y="35" width="1.56" height="408" fill="#360000"/>
<rect x="560.28" y="35" width="1.56" height="408" fill="#390000"/>
<rect x="561.54" y="35" width="4.08" height="408" fill="#3b0000"/>
<rect x="565.31" y="35" width="1.56" height="408" fill="#3a0000"/>
<rect x="566.57" y="35" width="1.56" height="408" fill="#3c0000"/>
<rect x="567.83" y="35" width="1.56" height="408" fill="#380000"/>
<rect x="569.09" y="35" width="1.56" height="408" fill="#390000"/>
<rect x="570.35" y="35" width="1.56" height="408" fill="#3b0000"/>
<rect x="571.61" y="35" width="1.56" height="408" fill="#370000"/>
<rect x="572.87" y="35" width="1.56" height="408" fill="#3a0000"/>
<rect x="574.13" y="35" width="1.56" height="408" fill="#360000"/>
<rect x="575.38" y="35" width="1.56" height="408" fill="#390000"/>
<rect x="576.64" y="35" width="2.82" height="408" fill="#3c0000"/>
<rect x="579.16" y="35" width="1.56" height="408" fill="#3b0000"/>
<rect x="580.42" y="35" width="1.56" height="408" fill="#3a0000"/>
<rect x="581.68" y="35" width="1.56" height="408" fill="#370000"/>
<rect x="582.94" y="35" width="1.56" height="408" fill="#3f0000"/>
<rect x="584.2" y="35" width="1.56" height="408" fill="#3c0000"/>
<rect x="585.46" y="35" width="1.56" height="408" fill="#3d0000"/>
<rect x="586.71" y="35" width="1.56" height="408" fill="#390000"/>
<rect x="587.97" y="35" width="1.56" height="408" fill="#3a0000"/>
<rect x="589.23" y="35" width="1.56" height="408" fill="#360000"/>
<rect x="590.49" y="35" width="2.82" height="408" fill="#3d0000"/>
<rect x="593.01" y="35" width="1.56" height="408" fill="#360000"/>
<rect x="594.27" y="35" width="1.56" height="408" fill="#3b0000"/>
<rect x="595.53" y="35" width="1.56" height="408" fill="#3c0000"/>
<rect x="596.78" y="35" width="2.82" height="408" fill="#360000"/>
<rect x="599.3" y="35" width="1.56" height="408" fill="#380000"/>
<rect x="600.56" y="35" width="1.56" height="408" fill="#390000"/>
<rect x="601.82" y="35" width="1.56" height="408" fill="#370000"/>
<rect x="603.08" y="35" width="2.82" height="408" fill="#3b0000"/>
<rect x="605.6" y="35" width="1.56" height="408" fill="#3e0000"/>
<rect x="606.85" y="35" width="1.56" height="408" fill="#3f0000"/>
<rect x="608.11" y="35" width="1.56" height="408" fill="#420000"/>
<rect x="609.37" y="35" width="1.56" height="408" fill="#410000"/>
<rect x="610.63" y="35" width="1.56" height="408" fill="#380000"/>
<rect x="611.89" y="35" width="1.56" height="408" fill="#3b0000"/>
<rect x="613.15" y="35" width="2.82" height="408" fill="#390000"/>
<rect x="615.67" y="35" width="2.82" height="408" fill="#3d0000"/>
<rect x="618.18" y="35" width="1.56" height="408" fill="#3f0000"/>
<rect x="619.44" y="35" width="1.56" height="408" fill="#370000"/>
<rect x="620.7" y="35" width="1.56" height="408" fill="#390000"/>
<rect x="621.96" y="35" width="1.56" height="408" fill="#3d0000"/>
<rect x="623.22" y="35" width="2.82" height="408" fill="#3c0000"/>
<rect x="625.74" y="35" width="1.56" height="408" fill="#3d0000"/>
<rect x="627" y="35" width="1.56" height="408" fill="#3a0000"/>
<rect x="628.25" y="35" width="1.56" height="408" fill="#400000"/>
<rect x="629.51" y="35" width="1.56" height="408" fill="#3e0000"/>
<rect x="630.77" y="35" width="1.56" height="408" fill="#3d0000"/>
<rect x="632.03" y="35" width="1.56" height="408" fill="#3b0000"/>
<rect x="633.29" y="35" width="1.56" height="408" fill="#3d0000"/>
<rect x="634.55" y="35" width="1.56" height="408" fill="#330000"/>
<rect x="635.81" y="35" width="1.56" height="408" fill="#3a0000"/>
<rect x="637.07" y="35" width="1.56" height="408" fill="#3d0000"/>
<rect x="638.32" y="35" width="1.56" height="408" fill="#380000"/>
<rect x="639.58" y="35" width="2.82" height="408" fill="#3e0000"/>
<rect x="642.1" y="35" width="1.56" height="408" fill="#380000"/>
<rect x="643.36" y="35" width="2.82" height="408" fill="#3c0000"/>
<rect x="645.88" y="35" width="1.56" height="408" fill="#400000"/>
<rect x="647.14" y="35" width="1.56" height="408" fill="#420000"/>
<rect x="648.39" y="35" width="1.56" height="408" fill="#400000"/>
<rect x="649.65" y="35" width="1.56" height="408" fill="#3f0000"/>
<rect x="650.91" y="35" width="1.56" height="408" fill="#420000"/>
<rect x="652.17" y="35" width="1.56" height="408" fill="#440000"/>
<rect x="653.43" y="35" width="1.56" height="408" fill="#480000"/>
<rect x="654.69" y="35" width="1.56" height="408" fill="#470000"/>
<rect x="655.95" y="35" width="1.56" height="408" fill="#430000"/>
<rect x="657.21" y="35" width="1.56" height="408" fill="#410000"/>
<rect x="658.46" y="35" width="1.56" height="408" fill="#440000"/>
<rect x="659.72" y="35" width="1.56" height="408" fill="#430000"/>
<rect x="660.98" y="35" width="1.56" height="408" fill="#420000"/>
<rect x="662.24" y="35" width="1.56" height="408" fill="#450000"/>
<rect x="663.5" y="35" width="1.56" height="408" fill="#440000"/>
<rect x="664.76" y="35" width="1.56" height="408" fill="#460000"/>
<rect x="666.02" y="35" width="1.56" height="408" fill="#480000"/>
<rect x="667.28" y="35" width="1.56" height="408" fill="#440000"/>
<rect x="668.54" y="35" width="1.56" height="408" fill="#4e0000"/>
<rect x="669.79" y="35" width="1.56" height="408" fill="#450000"/>
<rect x="671.05" y="35" width="1.56" height="408" fill="#4a0000"/>
<rect x="672.31" y="35" width="1.56" height="408" fill="#460000"/>
<rect x="673.57" y="35" width="1.56" height="408" fill="#490000"/>
<rect x="674.83" y="35" width="1.56" height="408" fill="#3c0000"/>
<rect x="676.09" y="35" width="1.56" height="408" fill="#420000"/>
<rect x="677.35" y="35" width="1.56" height="408" fill="#450000"/>
<rect x="678.61" y="35" width="1.56" height="408" fill="#460000"/>
<rect x="679.86" y="35" width="1.56" height="408" fill="#4c0000"/>
<rect x="681.12" y="35" width="1.56" height="408" fill="#450000"/>
<rect x="682.38" y="35" width="1.56" height="408" fill="#480000"/>
<rect x="683.64" y="35" width="2.82" height="408" fill="#460000"/>
<rect x="686.16" y="35" width="1.56" height="408" fill="#440000"/>
<rect x="687.42" y="35" width="1.56" height="408" fill="#420000"/>
<rect x="688.68" y="35" width="1.56" height="408" fill="#440000"/>
<rect x="689.93" y="35" width="1.56" height="408" fill="#3e0000"/>
<rect x="691.19" y="35" width="1.56" height="408" fill="#460000"/>
<rect x="692.45" y="35" width="1.56" height="408" fill="#3d0000"/>
<rect x="693.71" y="35" width="1.56" height="408" fill="#410000"/>
<rect x="694.97" y="35" width="1.56" height="408" fill="#430000"/>
<rect x="696.23" y="35" width="2.82" height="408" fill="#360000"/>
<rect x="698.75" y="35" width="1.56" height="408" fill="#390000"/>
<rect x="700" y="35" width="1.56" height="408" fill="#360000"/>
<rect x="701.26" y="35" width="1.56" height="408" fill="#340000"/>
<rect x="702.52" y="35" width="1.56" height="408" fill="#360000"/>
<rect x="703.78" y="35" width="1.56" height="408" fill="#370000"/>
<rect x="705.04" y="35" width="1.56" height="408" fill="#380000"/>
<rect x="706.3" y="35" width="1.56" height="408" fill="#340000"/>
<rect x="707.56" y="35" width="2.82" height="408" fill="#3a0000"/>
<rect x="710.08" y="35" width="2.82" height="408" fill="#360000"/>
<rect x="712.59" y="35" width="1.56" height="408" fill="#350000"/>
<rect x="713.85" y="35" width="1.56" height="408" fill="#390000"/>
<rect x="715.11" y="35" width="1.56" height="408" fill="#340000"/>
<rect x="716.37" y="35" width="1.56" height="408" fill="#370000"/>
<rect x="717.63" y="35" width="1.56" height="408" fill="#350000"/>
<rect x="718.89" y="35" width="1.56" height="408" fill="#340000"/>
<rect x="720.15" y="35" width="1.56" height="408" fill="#380000"/>
<rect x="721.4" y="35" width="1.56" height="408" fill="#390000"/>
<rect x="722.66" y="35" width="1.56" height="408" fill="#360000"/>
<rect x="723.92" y="35" width="1.56" height="408" fill="#340000"/>
<rect x="725.18" y="35" width="1.56" height="408" fill="#380000"/>
<rect x="726.44" y="35" width="1.56" height="408" fill="#360000"/>
<rect x="727.7" y="35" width="1.56" height="408" fill="#370000"/>
<rect x="728.96" y="35" width="1.56" height="408" fill="#3a0000"/>
<rect x="730.22" y="35" width="1.56" height="408" fill="#390000"/>
<rect x="731.47" y="35" width="1.56" height="408" fill="#350000"/>
<rect x="732.73" y="35" width="1.56" height="408" fill="#3b0000"/>
<rect x="733.99" y="35" width="1.56" height="408" fill="#360000"/>
<rect x="735.25" y="35" width="1.56" height="408" fill="#380000"/>
<rect x="736.51" y="35" width="1.56" height="408" fill="#340000"/>
<rect x="737.77" y="35" width="1.56" height="408" fill="#360000"/>
<rect x="739.03" y="35" width="1.56" height="408" fill="#320000"/>
<rect x="740.29" y="35" width="1.56" height="408" fill="#430000"/>
<rect x="741.54" y="35" width="1.56" height="408" fill="#480000"/>
<rect x="742.8" y="35" width="1.56" height="408" fill="#3f0000"/>
<rect x="744.06" y="35" width="1.56" height="408" fill="#3e0000"/>
<rect x="745.32" y="35" width="1.56" height="408" fill="#3d0000"/>
<rect x="746.58" y="35" width="1.56" height="408" fill="#480000"/>
<rect x="747.84" y="35" width="1.56" height="408" fill="#420000"/>
<rect x="749.1" y="35" width="1.56" height="408" fill="#430000"/>
<rect x="750.36" y="35" width="1.56" height="408" fill="#420000"/>
<rect x="751.62" y="35" width="1.56" height="408" fill="#430000"/>
<rect x="752.87" y="35" width="1.56" height="408" fill="#3f0000"/>
<rect x="754.13" y="35" width="1.56" height="408" fill="#430000"/>
<rect x="755.39" y="35" width="1.56" height="408" fill="#3e0000"/>
<rect x="756.65" y="35" width="1.56" height="408" fill="#430000"/>
<rect x="757.91" y="35" width="1.56" height="408" fill="#440000"/>
<rect x="759.17" y="35" width="1.56" height="408" fill="#450000"/>
<rect x="760.43" y="35" width="1.56" height="408" fill="#420000"/>
<rect x="761.69" y="35" width="1.56" height="408" fill="#400000"/>
<rect x="762.94" y="35" width="1.56" height="408" fill="#440000"/>
<rect x="764.2" y="35" width="1.56" height="408" fill="#420000"/>
<rect x="765.46" y="35" width="1.56" height="408" fill="#4b0000"/>
<rect x="766.72" y="35" width="1.56" height="408" fill="#490000"/>
<rect x="767.98" y="35" width="1.56" height="408" fill="#450000"/>
<rect x="769.24" y="35" width="1.56" height="408" fill="#440000"/>
<rect x="770.5" y="35" width="2.82" height="408" fill="#430000"/>
<rect x="773.01" y="35" width="1.56" height="408" fill="#450000"/>
<rect x="774.27" y="35" width="1.56" height="408" fill="#470000"/>
<rect x="775.53" y="35" width="2.82" height="408" fill="#480000"/>
<rect x="778.05" y="35" width="1.56" height="408" fill="#4e0000"/>
<rect x="779.31" y="35" width="1.56" height="408" fill="#440000"/>
<rect x="780.57" y="35" width="1.56" height="408" fill="#460000"/>
<rect x="781.83" y="35" width="1.56" height="408" fill="#510000"/>
<rect x="783.08" y="35" width="1.56" height="408" fill="#400000"/>
<rect x="784.34" y="35" width="1.56" height="408" fill="#450000"/>
<rect x="785.6" y="35" width="2.82" height="408" fill="#470000"/>
<rect x="788.12" y="35" width="1.56" height="408" fill="#480000"/>
<rect x="789.38" y="35" width="1.56" height="408" fill="#460000"/>
<rect x="790.64" y="35" width="1.56" height="408" fill="#480000"/>
<rect x="791.9" y="35" width="1.56" height="408" fill="#470000"/>
<rect x="793.16" y="35" width="1.56" height="408" fill="#4a0000"/>
<rect x="794.41" y="35" width="1.56" height="408" fill="#400000"/>
<rect x="795.67" y="35" width="1.56" height="408" fill="#450000"/>
<rect x="796.93" y="35" width="1.56" height="408" fill="#4b0000"/>
<rect x="798.19" y="35" width="2.82" height="408" fill="#470000"/>
<rect x="800.71" y="35" width="1.56" height="408" fill="#4d0000"/>
<rect x="801.97" y="35" width="1.56" height="408" fill="#480000"/>
<rect x="803.23" y="35" width="2.82" height="408" fill="#4d0000"/>
<rect x="805.74" y="35" width="1.56" height="408" fill="#4c0000"/>
<rect x="807" y="35" width="1.56" height="408" fill="#4d0000"/>
<rect x="808.26" y="35" width="1.56" height="408" fill="#4a0000"/>
<rect x="809.52" y="35" width="1.56" height="408" fill="#450000"/>
<rect x="810.78" y="35" width="1.56" height="408" fill="#4b0000"/>
<rect x="812.04" y="35" width="1.56" height="408" fill="#4c0000"/>
<rect x="813.3" y="35" width="1.56" height="408" fill="#490000"/>
<rect x="814.55" y="35" width="1.56" height="408" fill="#4a0000"/>
<rect x="815.81" y="35" width="1.56" height="408" fill="#4d0000"/>
<rect x="817.07" y="35" width="1.56" height="408" fill="#470000"/>
<rect x="818.33" y="35" width="1.56" height="408" fill="#460000"/>
<rect x="819.59" y="35" width="1.56" height="408" fill="#430000"/>
<rect x="820.85" y="35" width="1.56" height="408" fill="#3a0000"/>
<rect x="822.11" y="35" width="1.56" height="408" fill="#3c0000"/>
<rect x="823.37" y="35" width="1.56" height="408" fill="#3b0000"/>
<rect x="824.62" y="35" width="1.56" height="408" fill="#410000"/>
<rect x="825.88" y="35" width="1.56" height="408" fill="#3d0000"/>
<rect x="827.14" y="35" width="1.56" height="408" fill="#3f0000"/>
<rect x="828.4" y="35" width="1.56" height="408" fill="#390000"/>
<rect x="829.66" y="35" width="2.82" height="408" fill="#3c0000"/>
<rect x="832.18" y="35" width="1.56" height="408" fill="#350000"/>
<rect x="833.44" y="35" width="1.56" height="408" fill="#410000"/>
<rect x="834.7" y="35" width="1.56" height="408" fill="#3f0000"/>
<rect x="835.95" y="35" width="1.56" height="408" fill="#350000"/>
<rect x="837.21" y="35" width="1.56" height="408" fill="#3e0000"/>
<rect x="838.47" y="35" width="1.56" height="408" fill="#3b0000"/>
<rect x="839.73" y="35" width="2.82" height="408" fill="#3d0000"/>
<rect x="842.25" y="35" width="1.56" height="408" fill="#360000"/>
<rect x="843.51" y="35" width="1.56" height="408" fill="#3a0000"/>
<rect x="844.77" y="35" width="1.56" height="408" fill="#410000"/>
<rect x="846.02" y="35" width="1.56" height="408" fill="#390000"/>
<rect x="847.28" y="35" width="1.56" height="408" fill="#370000"/>
<rect x="848.54" y="35" width="1.56" height="408" fill="#360000"/>
<rect x="849.8" y="35" width="1.56" height="408" fill="#370000"/>
<rect x="851.06" y="35" width="1.56" height="408" fill="#3c0000"/>
<rect x="852.32" y="35" width="1.56" height="408" fill="#410000"/>
<rect x="853.58" y="35" width="2.82" height="408" fill="#3c0000"/>
<rect x="856.09" y="35" width="1.56" height="408" fill="#430000"/>
<rect x="857.35" y="35" width="2.82" height="408" fill="#390000"/>
<rect x="859.87" y="35" width="2.82" height="408" fill="#3c0000"/>
<rect x="862.39" y="35" width="1.56" height="408" fill="#380000"/>
<rect x="863.65" y="35" width="1.56" height="408" fill="#370000"/>
<rect x="864.91" y="35" width="1.56" height="408" fill="#3b0000"/>
<rect x="866.17" y="35" width="1.56" height="408" fill="#3a0000"/>
<rect x="867.42" y="35" width="1.56" height="408" fill="#370000"/>
<rect x="868.68" y="35" width="1.56" height="408" fill="#390000"/>
<rect x="869.94" y="35" width="1.56" height="408" fill="#380000"/>
<rect x="871.2" y="35" width="1.56" height="408" fill="#3b0000"/>
<rect x="872.46" y="35" width="2.82" height="408" fill="#390000"/>
<rect x="874.98" y="35" width="1.56" height="408" fill="#380000"/>
<rect x="876.24" y="35" width="1.56" height="408" fill="#3c0000"/>
<rect x="877.49" y="35" width="1.56" height="408" fill="#3d0000"/>
<rect x="878.75" y="35" width="1.56" height="408" fill="#380000"/>
<rect x="880.01" y="35" width="1.56" height="408" fill="#3b0000"/>
<rect x="881.27" y="35" width="1.56" height="408" fill="#370000"/>
<rect x="882.53" y="35" width="1.56" height="408" fill="#390000"/>
<rect x="883.79" y="35" width="1.56" height="408" fill="#3b0000"/>
<rect x="885.05" y="35" width="1.56" height="408" fill="#3d0000"/>
<rect x="886.31" y="35" width="1.56" height="408" fill="#380000"/>
<rect x="887.56" y="35" width="2.82" height="408" fill="#390000"/>
<rect x="890.08" y="35" width="1.56" height="408" fill="#350000"/>
<rect x="891.34" y="35" width="1.56" height="408" fill="#390000"/>
<rect x="892.6" y="35" width="1.56" height="408" fill="#370000"/>
<rect x="893.86" y="35" width="1.56" height="408" fill="#3a0000"/>
<rect x="895.12" y="35" width="1.56" height="408" fill="#360000"/>
<rect x="896.38" y="35" width="1.56" height="408" fill="#340000"/>
<rect x="897.63" y="35" width="2.82" height="408" fill="#390000"/>
<rect x="900.15" y="35" width="1.56" height="408" fill="#370000"/>
<rect x="901.41" y="35" width="1.56" height="408" fill="#3b0000"/>
<rect x="902.67" y="35" width="1.56" height="408" fill="#380000"/>
<rect x="903.93" y="35" width="1.56" height="408" fill="#370000"/>
<rect x="905.19" y="35" width="1.56" height="408" fill="#390000"/>
<rect x="906.45" y="35" width="1.56" height="408" fill="#340000"/>
<rect x="907.71" y="35" width="1.56" height="408" fill="#370000"/>
<rect x="908.96" y="35" width="1.56" height="408" fill="#380000"/>
<rect x="910.22" y="35" width="1.56" height="408" fill="#3a0000"/>
<rect x="911.48" y="35" width="1.56" height="408" fill="#380000"/>
<rect x="912.74" y="35" width="1.56" height="408" fill="#390000"/>
<rect x="914" y="35" width="1.56" height="408" fill="#360000"/>
<rect x="915.26" y="35" width="1.56" height="408" fill="#390000"/>
<rect x="916.52" y="35" width="1.56" height="408" fill="#3c0000"/>
<rect x="917.78" y="35" width="1.56" height="408" fill="#360000"/>
<rect x="919.03" y="35" width="1.56" height="408" fill="#3e0000"/>
<rect x="920.29" y="35" width="1.56" height="408" fill="#360000"/>
<rect x="921.55" y="35" width="2.82" height="408" fill="#380000"/>
<rect x="924.07" y="35" width="1.56" height="408" fill="#3a0000"/>
<rect x="925.33" y="35" width="1.56" height="408" fill="#350000"/>
<rect x="926.59" y="35" width="1.56" height="408" fill="#320000"/>
<rect x="927.85" y="35" width="4.08" height="408" fill="#390000"/>
<rect x="931.62" y="35" width="1.56" height="408" fill="#3e0000"/>
<rect x="932.88" y="35" width="2.82" height="408" fill="#380000"/>
<rect x="935.4" y="35" width="1.56" height="408" fill="#3a0000"/>
<rect x="936.66" y="35" width="1.56" height="408" fill="#380000"/>
<rect x="937.92" y="35" width="1.56" height="408" fill="#3b0000"/>
<rect x="939.17" y="35" width="1.56" height="408" fill="#340000"/>
<rect x="940.43" y="35" width="1.56" height="408" fill="#360000"/>
<rect x="941.69" y="35" width="1.56" height="408" fill="#2f0000"/>
<rect x="942.95" y="35" width="1.56" height="408" fill="#390000"/>
<rect x="944.21" y="35" width="1.56" height="408" fill="#360000"/>
<rect x="945.47" y="35" width="1.56" height="408" fill="#390000"/>
<rect x="946.73" y="35" width="1.56" height="408" fill="#3c0000"/>
<rect x="947.99" y="35" width="1.56" height="408" fill="#370000"/>
<rect x="949.25" y="35" width="2.82" height="408" fill="#360000"/>
<rect x="951.76" y="35" width="2.82" height="408" fill="#350000"/>
<rect x="954.28" y="35" width="1.56" height="408" fill="#380000"/>
<rect x="955.54" y="35" width="2.82" height="408" fill="#370000"/>
<rect x="958.06" y="35" width="1.56" height="408" fill="#360000"/>
<rect x="959.32" y="35" width="1.56" height="408" fill="#390000"/>
<rect x="960.57" y="35" width="1.56" height="408" fill="#380000"/>
<rect x="961.83" y="35" width="1.56" height="408" fill="#360000"/>
<rect x="963.09" y="35" width="1.56" height="408" fill="#380000"/>
<rect x="964.35" y="35" width="1.56" height="408" fill="#360000"/>
<rect x="965.61" y="35" width="1.56" height="408" fill="#330000"/>
<rect x="966.87" y="35" width="1.56" height="408" fill="#3a0000"/>
<rect x="968.13" y="35" width="1.56" height="408" fill="#370000"/>
<rect x="969.39" y="35" width="1.56" height="408" fill="#340000"/>
<rect x="970.64" y="35" width="1.56" height="408" fill="#390000"/>
<rect x="971.9" y="35" width="1.56" height="408" fill="#370000"/>
<rect x="973.16" y="35" width="1.56" height="408" fill="#320000"/>
<rect x="974.42" y="35" width="1.56" height="408" fill="#3a0000"/>
<rect x="975.68" y="35" width="1.56" height="408" fill="#370000"/>
<rect x="976.94" y="35" width="1.56" height="408" fill="#380000"/>
<rect x="978.2" y="35" width="1.56" height="408" fill="#360000"/>
<rect x="979.46" y="35" width="1.56" height="408" fill="#350000"/>
<rect x="980.71" y="35" width="1.56" height="408" fill="#300000"/>
<rect x="981.97" y="35" width="1.56" height="408" fill="#340000"/>
<rect x="983.23" y="35" width="1.56" height="408" fill="#2f0000"/>
<rect x="984.49" y="35" width="1.56" height="408" fill="#2c0000"/>
<rect x="985.75" y="35" width="1.56" height="408" fill="#2e0000"/>
<rect x="987.01" y="35" width="1.56" height="408" fill="#2d0000"/>
<rect x="988.27" y="35" width="1.56" height="408" fill="#2f0000"/>
<rect x="989.53" y="35" width="1.56" height="408" fill="#2c0000"/>
<rect x="990.79" y="35" width="1.56" height="408" fill="#2d0000"/>
<rect x="992.04" y="35" width="1.56" height="408" fill="#280000"/>
<rect x="993.3" y="35" width="1.56" height="408" fill="#2c0000"/>
<rect x="994.56" y="35" width="1.56" height="408" fill="#2f0000"/>
<rect x="995.82" y="35" width="1.56" height="408" fill="#300000"/>
<rect x="997.08" y="35" width="1.56" height="408" fill="#2c0000"/>
<rect x="998.34" y="35" width="1.56" height="408" fill="#2d0000"/>
<rect x="999.6" y="35" width="1.56" height="408" fill="#310000"/>
<rect x="1000.86" y="35" width="1.56" height="408" fill="#2c0000"/>
<rect x="1002.11" y="35" width="1.56" height="408" fill="#2f0000"/>
<rect x="1003.37" y="35" width="1.56" height="408" fill="#310000"/>
<rect x="1004.63" y="35" width="1.56" height="408" fill="#2d0000"/>
<rect x="1005.89" y="35" width="1.56" height="408" fill="#300000"/>
<rect x="1007.15" y="35" width="1.56" height="408" fill="#2b0000"/>
<rect x="1008.41" y="35" width="4.08" height="408" fill="#2d0000"/>
<rect x="1012.18" y="35" width="1.56" height="408" fill="#300000"/>
<rect x="1013.44" y="35" width="1.56" height="408" fill="#330000"/>
<rect x="1014.7" y="35" width="2.82" height="408" fill="#2b0000"/>
<rect x="1017.22" y="35" width="1.56" height="408" fill="#2e0000"/>
<rect x="1018.48" y="35" width="1.56" height="408" fill="#2a0000"/>
<rect x="1019.74" y="35" width="2.82" height="408" fill="#2e0000"/>
<rect x="1022.25" y="35" width="1.56" height="408" fill="#2c0000"/>
<rect x="1023.51" y="35" width="1.56" height="408" fill="#2e0000"/>
<rect x="1024.77" y="35" width="1.56" height="408" fill="#290000"/>
<rect x="1026.03" y="35" width="1.56" height="408" fill="#2f0000"/>
<rect x="1027.29" y="35" width="1.56" height="408" fill="#290000"/>
<rect x="1028.55" y="35" width="2.82" height="408" fill="#2b0000"/>
<rect x="1031.07" y="35" width="1.56" height="408" fill="#2c0000"/>
<rect x="1032.33" y="35" width="1.56" height="408" fill="#2f0000"/>
<rect x="1033.58" y="35" width="1.56" height="408" fill="#2d0000"/>
<rect x="1034.84" y="35" width="1.56" height="408" fill="#2c0000"/>
<rect x="1036.1" y="35" width="1.56" height="408" fill="#2e0000"/>
<rect x="1037.36" y="35" width="1.56" height="408" fill="#300000"/>
<rect x="1038.62" y="35" width="2.82" height="408" fill="#2d0000"/>
<rect x="1041.14" y="35" width="1.56" height="408" fill="#300000"/>
<rect x="1042.4" y="35" width="1.56" height="408" fill="#2d0000"/>
<rect x="1043.65" y="35" width="1.56" height="408" fill="#290000"/>
<rect x="1044.91" y="35" width="1.56" height="408" fill="#330000"/>
<rect x="1046.17" y="35" width="1.56" height="408" fill="#320000"/>
<rect x="1047.43" y="35" width="1.56" height="408" fill="#280000"/>
<rect x="1048.69" y="35" width="1.56" height="408" fill="#2c0000"/>
<rect x="1049.95" y="35" width="1.56" height="408" fill="#2e0000"/>
<rect x="1051.21" y="35" width="1.56" height="408" fill="#2f0000"/>
<rect x="1052.47" y="35" width="1.56" height="408" fill="#2e0000"/>
<rect x="1053.72" y="35" width="1.56" height="408" fill="#2c0000"/>
<rect x="1054.98" y="35" width="1.56" height="408" fill="#2a0000"/>
<rect x="1056.24" y="35" width="1.56" height="408" fill="#2d0000"/>
<rect x="1057.5" y="35" width="1.56" height="408" fill="#2f0000"/>
<rect x="1058.76" y="35" width="2.82" height="408" fill="#2a0000"/>
<rect x="1061.28" y="35" width="1.56" height="408" fill="#2c0000"/>
<rect x="1062.54" y="35" width="1.56" height="408" fill="#280000"/>
<rect x="1063.79" y="35" width="1.56" height="408" fill="#2c0000"/>
<rect x="1065.05" y="35" width="1.56" height="408" fill="#2b0000"/>
<rect x="1066.31" y="35" width="1.56" height="408" fill="#2d0000"/>
<rect x="1067.57" y="35" width="1.56" height="408" fill="#2b0000"/>
<rect x="1068.83" y="35" width="1.56" height="408" fill="#2a0000"/>
<rect x="1070.09" y="35" width="1.56" height="408" fill="#2b0000"/>
<rect x="1071.35" y="35" width="1.56" height="408" fill="#2c0000"/>
<rect x="1072.61" y="35" width="1.56" height="408" fill="#2b0000"/>
<rect x="1073.87" y="35" width="1.56" height="408" fill="#2c0000"/>
<rect x="1075.12" y="35" width="1.56" height="408" fill="#2e0000"/>
<rect x="1076.38" y="35" width="1.56" height="408" fill="#2f0000"/>
<rect x="1077.64" y="35" width="1.56" height="408" fill="#300000"/>
<rect x="1078.9" y="35" width="1.56" height="408" fill="#2a0000"/>
<rect x="1080.16" y="35" width="1.56" height="408" fill="#2b0000"/>
<rect x="1081.42" y="35" width="1.56" height="408" fill="#260000"/>
<rect x="1082.68" y="35" width="1.56" height="408" fill="#310000"/>
<rect x="1083.94" y="35" width="1.56" height="408" fill="#2a0000"/>
<rect x="1085.19" y="35" width="1.56" height="408" fill="#2c0000"/>
<rect x="1086.45" y="35" width="1.56" height="408" fill="#2d0000"/>
<rect x="1087.71" y="35" width="1.56" height="408" fill="#290000"/>
<rect x="1088.97" y="35" width="1.56" height="408" fill="#2d0000"/>
<rect x="1090.23" y="35" width="1.56" height="408" fill="#2c0000"/>
<rect x="1091.49" y="35" width="1.56" height="408" fill="#280000"/>
<rect x="1092.75" y="35" width="1.56" height="408" fill="#2d0000"/>
<rect x="1094.01" y="35" width="1.56" height="408" fill="#2f0000"/>
<rect x="1095.26" y="35" width="1.56" height="408" fill="#280000"/>
<rect x="1096.52" y="35" width="1.56" height="408" fill="#2e0000"/>
<rect x="1097.78" y="35" width="4.08" height="408" fill="#2d0000"/>
<rect x="1101.56" y="35" width="1.56" height="408" fill="#2f0000"/>
<rect x="1102.82" y="35" width="1.56" height="408" fill="#2c0000"/>
<rect x="1104.08" y="35" width="1.56" height="408" fill="#2e0000"/>
<rect x="1105.33" y="35" width="1.56" height="408" fill="#2b0000"/>
<rect x="1106.59" y="35" width="1.56" height="408" fill="#2e0000"/>
<rect x="1107.85" y="35" width="1.56" height="408" fill="#2a0000"/>
<rect x="1109.11" y="35" width="1.56" height="408" fill="#2c0000"/>
<rect x="1110.37" y="35" width="1.56" height="408" fill="#300000"/>
<rect x="1111.63" y="35" width="1.56" height="408" fill="#2d0000"/>
<rect x="1112.89" y="35" width="1.56" height="408" fill="#2c0000"/>
<rect x="1114.15" y="35" width="1.56" height="408" fill="#290000"/>
<rect x="1115.41" y="35" width="1.56" height="408" fill="#2a0000"/>
<rect x="1116.66" y="35" width="1.56" height="408" fill="#2c0000"/>
<rect x="1117.92" y="35" width="1.56" height="408" fill="#2e0000"/>
<rect x="1119.18" y="35" width="2.82" height="408" fill="#2d0000"/>
<rect x="1121.7" y="35" width="1.56" height="408" fill="#2c0000"/>
<rect x="1122.96" y="35" width="1.56" height="408" fill="#2f0000"/>
<rect x="1124.22" y="35" width="2.82" height="408" fill="#2b0000"/>
<rect x="1126.73" y="35" width="1.56" height="408" fill="#2e0000"/>
<rect x="1127.99" y="35" width="1.56" height="408" fill="#2c0000"/>
<rect x="1129.25" y="35" width="1.56" height="408" fill="#2b0000"/>
<rect x="1130.51" y="35" width="1.56" height="408" fill="#2a0000"/>
<rect x="1131.77" y="35" width="1.56" height="408" fill="#2b0000"/>
<rect x="1133.03" y="35" width="2.82" height="408" fill="#2d0000"/>
<rect x="1135.55" y="35" width="1.56" height="408" fill="#290000"/>
<rect x="1136.8" y="35" width="1.56" height="408" fill="#2d0000"/>
<rect x="1138.06" y="35" width="1.56" height="408" fill="#2c0000"/>
<rect x="1139.32" y="35" width="1.56" height="408" fill="#290000"/>
<rect x="1140.58" y="35" width="1.56" height="408" fill="#2e0000"/>
<rect x="1141.84" y="35" width="2.82" height="408" fill="#2b0000"/>
<rect x="1144.36" y="35" width="1.56" height="408" fill="#2e0000"/>
<rect x="1145.62" y="35" width="1.56" height="408" fill="#2f0000"/>
<rect x="1146.88" y="35" width="1.56" height="408" fill="#2a0000"/>
<rect x="1148.13" y="35" width="1.56" height="408" fill="#2d0000"/>
<rect x="1149.39" y="35" width="1.56" height="408" fill="#2a0000"/>
<rect x="1150.65" y="35" width="1.56" height="408" fill="#310000"/>
<rect x="1151.91" y="35" width="1.56" height="408" fill="#2a0000"/>
<rect x="1153.17" y="35" width="1.56" height="408" fill="#2f0000"/>
<rect x="1154.43" y="35" width="1.56" height="408" fill="#2a0000"/>
<rect x="1155.69" y="35" width="1.56" height="408" fill="#2e0000"/>
<rect x="1156.95" y="35" width="1.56" height="408" fill="#310000"/>
<rect x="1158.2" y="35" width="1.56" height="408" fill="#250000"/>
<rect x="1159.46" y="35" width="1.56" height="408" fill="#2b0000"/>
<rect x="1160.72" y="35" width="1.56" height="408" fill="#2d0000"/>
<rect x="1161.98" y="35" width="1.56" height="408" fill="#2b0000"/>
<rect x="1163.24" y="35" width="1.56" height="408" fill="#2a0000"/>
<rect x="1164.5" y="35" width="1.56" height="408" fill="#310000"/>
<rect x="1165.76" y="35" width="1.56" height="408" fill="#2c0000"/>
<rect x="1167.02" y="35" width="1.56" height="408" fill="#280000"/>
<rect x="1168.27" y="35" width="1.56" height="408" fill="#2e0000"/>
<rect x="1169.53" y="35" width="1.56" height="408" fill="#270000"/>
<rect x="1170.79" y="35" width="1.56" height="408" fill="#2e0000"/>
<rect x="1172.05" y="35" width="1.56" height="408" fill="#2a0000"/>
<rect x="1173.31" y="35" width="1.56" height="408" fill="#2c0000"/>
<rect x="1174.57" y="35" width="1.56" height="408" fill="#2f0000"/>
<rect x="1175.83" y="35" width="1.56" height="408" fill="#2c0000"/>
<rect x="1177.09" y="35" width="1.56" height="408" fill="#280000"/>
<rect x="1178.34" y="35" width="1.56" height="408" fill="#270000"/>
<rect x="1179.6" y="35" width="1.56" height="408" fill="#2e0000"/>
<rect x="1180.86" y="35" width="1.56" height="408" fill="#2d0000"/>
<rect x="1182.12" y="35" width="1.56" height="408" fill="#290000"/>
<rect x="1183.38" y="35" width="1.56" height="408" fill="#2e0000"/>
<rect x="1184.64" y="35" width="2.82" height="408" fill="#2d0000"/>
<rect x="1187.16" y="35" width="1.56" height="408" fill="#260000"/>
<rect x="1188.42" y="35" width="1.56" height="408" fill="#2b0000"/>
<rect x="1189.67" y="35" width="1.56" height="408" fill="#2e0000"/>
<rect x="1190.93" y="35" width="1.56" height="408" fill="#2d0000"/>
<rect x="1192.19" y="35" width="1.56" height="408" fill="#2e0000"/>
<rect x="1193.45" y="35" width="1.56" height="408" fill="#250000"/>
<rect x="1194.71" y="35" width="1.56" height="408" fill="#2c0000"/>
<rect x="1195.97" y="35" width="1.56" height="408" fill="#2d0000"/>
<rect x="1197.23" y="35" width="1.56" height="408" fill="#320000"/>
<rect x="1198.49" y="35" width="1.56" height="408" fill="#290000"/>
<rect x="1199.74" y="35" width="2.82" height="408" fill="#2b0000"/>
<rect x="1202.26" y="35" width="1.56" height="408" fill="#2e0000"/>
<rect x="1203.52" y="35" width="1.56" height="408" fill="#2a0000"/>
<rect x="1204.78" y="35" width="1.56" height="408" fill="#2e0000"/>
<rect x="1206.04" y="35" width="1.56" height="408" fill="#290000"/>
<rect x="1207.3" y="35" width="1.56" height="408" fill="#2c0000"/>
<rect x="1208.56" y="35" width="1.56" height="408" fill="#2a0000"/>
<rect x="1209.81" y="35" width="1.56" height="408" fill="#2c0000"/>
<rect x="1211.07" y="35" width="1.56" height="408" fill="#2a0000"/>
<rect x="1212.33" y="35" width="1.56" height="408" fill="#270000"/>
<rect x="1213.59" y="35" width="1.56" height="408" fill="#2e0000"/>
<rect x="1214.85" y="35" width="1.56" height="408" fill="#2c0000"/>
<rect x="1216.11" y="35" width="1.56" height="408" fill="#2a0000"/>
<rect x="1217.37" y="35" width="1.56" height="408" fill="#2c0000"/>
<rect x="1218.63" y="35" width="1.56" height="408" fill="#2e0000"/>
<rect x="1219.88" y="35" width="1.56" height="408" fill="#290000"/>
<rect x="1221.14" y="35" width="1.56" height="408" fill="#2b0000"/>
<rect x="1222.4" y="35" width="1.56" height="408" fill="#2d0000"/>
<rect x="1223.66" y="35" width="1.56" height="408" fill="#2c0000"/>
<rect x="1224.92" y="35" width="1.56" height="408" fill="#2a0000"/>
<rect x="1226.18" y="35" width="1.56" height="408" fill="#260000"/>
<rect x="1227.44" y="35" width="1.56" height="408" fill="#2e0000"/>
<rect x="1228.7" y="35" width="1.56" height="408" fill="#2c0000"/>
<rect x="1229.96" y="35" width="1.56" height="408" fill="#2b0000"/>
<rect x="1231.21" y="35" width="1.56" height="408" fill="#2a0000"/>
<rect x="1232.47" y="35" width="1.56" height="408" fill="#2c0000"/>
<rect x="1233.73" y="35" width="1.56" height="408" fill="#2a0000"/>
<rect x="1234.99" y="35" width="2.82" height="408" fill="#290000"/>
<rect x="1237.51" y="35" width="2.82" height="408" fill="#2a0000"/>
<rect x="1240.03" y="35" width="1.56" height="408" fill="#280000"/>
<rect x="1241.28" y="35" width="1.56" height="408" fill="#2d0000"/>
<rect x="1242.54" y="35" width="1.56" height="408" fill="#280000"/>
<rect x="1243.8" y="35" width="1.56" height="408" fill="#2d0000"/>
<rect x="1245.06" y="35" width="1.56" height="408" fill="#290000"/>
<rect x="1246.32" y="35" width="1.56" height="408" fill="#2c0000"/>
<rect x="1247.58" y="35" width="1.56" height="408" fill="#2e0000"/>
<rect x="1248.84" y="35" width="1.56" height="408" fill="#2c0000"/>
<rect x="1250.1" y="35" width="1.56" height="408" fill="#290000"/>
<rect x="1251.35" y="35" width="2.82" height="408" fill="#2b0000"/>
<rect x="1253.87" y="35" width="1.56" height="408" fill="#270000"/>
<rect x="1255.13" y="35" width="1.56" height="408" fill="#290000"/>
<rect x="1256.39" y="35" width="1.56" height="408" fill="#2b0000"/>
<rect x="1257.65" y="35" width="1.56" height="408" fill="#2a0000"/>
<rect x="1258.91" y="35" width="1.56" height="408" fill="#2b0000"/>
<rect x="1260.17" y="35" width="4.08" height="408" fill="#2d0000"/>
<rect x="1263.94" y="35" width="1.56" height="408" fill="#2c0000"/>
<rect x="1265.2" y="35" width="1.56" height="408" fill="#2a0000"/>
<rect x="1266.46" y="35" width="1.56" height="408" fill="#2b0000"/>
<rect x="1267.72" y="35" width="4.08" height="408" fill="#2a0000"/>
<rect x="1271.5" y="35" width="1.56" height="408" fill="#270000"/>
<rect x="1272.75" y="35" width="1.56" height="408" fill="#2a0000"/>
<rect x="1274.01" y="35" width="1.56" height="408" fill="#2b0000"/>
<rect x="1275.27" y="35" width="1.56" height="408" fill="#280000"/>
<rect x="1276.53" y="35" width="1.56" height="408" fill="#2b0000"/>
<rect x="1277.79" y="35" width="1.56" height="408" fill="#2c0000"/>
<rect x="1279.05" y="35" width="1.56" height="408" fill="#2a0000"/>
<rect x="1280.31" y="35" width="1.56" height="408" fill="#300000"/>
<rect x="1281.57" y="35" width="1.56" height="408" fill="#240000"/>
<rect x="1282.82" y="35" width="1.56" height="408" fill="#2a0000"/>
<rect x="1284.08" y="35" width="1.56" height="408" fill="#260000"/>
<rect x="1285.34" y="35" width="1.56" height="408" fill="#2d0000"/>
<rect x="1286.6" y="35" width="1.56" height="408" fill="#310000"/>
<rect x="1287.86" y="35" width="1.56" height="408" fill="#250000"/>
<rect x="1289.12" y="35" width="1.56" height="408" fill="#2b0000"/>
<rect x="1290.38" y="35" width="1.56" height="408" fill="#2c0000"/>
<rect x="1291.64" y="35" width="1.56" height="408" fill="#2a0000"/>
<rect x="1292.89" y="35" width="1.56" height="408" fill="#2c0000"/>
<rect x="1294.15" y="35" width="1.56" height="408" fill="#250000"/>
<rect x="1295.41" y="35" width="1.56" height="408" fill="#2d0000"/>
<rect x="1296.67" y="35" width="1.56" height="408" fill="#2c0000"/>
<rect x="1297.93" y="35" width="1.56" height="408" fill="#2b0000"/>
<rect x="1299.19" y="35" width="1.56" height="408" fill="#290000"/>
<rect x="1300.45" y="35" width="1.56" height="408" fill="#2c0000"/>
<rect x="1301.71" y="35" width="1.56" height="408" fill="#290000"/>
<rect x="1302.96" y="35" width="1.56" height="408" fill="#2b0000"/>
<rect x="1304.22" y="35" width="1.56" height="408" fill="#290000"/>
<rect x="1305.48" y="35" width="1.56" height="408" fill="#250000"/>
<rect x="1306.74" y="35" width="1.56" height="408" fill="#2b0000"/>
</g>
<rect x="330.8" y="35" width="10.9" height="2" fill="#5e0000"/>
<rect x="331.76" y="37" width="9.94" height="2" fill="#5f0000"/>
<rect x="331.37" y="45" width="10.33" height="2" fill="#680000"/>
<rect x="334.13" y="47" width="7.57" height="2" fill="#620000"/>
<rect x="325.5" y="49" width="16.2" height="2" fill="#5d0000"/>
<rect x="325.5" y="51" width="9.2" height="2" fill="#640000"/>
<rect x="325.5" y="57" width="16.2" height="2" fill="#670000"/>
<rect x="325.5" y="59" width="16.2" height="2" fill="#5f0000"/>
<rect x="325.5" y="61" width="16.2" height="2" fill="#690000"/>
<rect x="329.44" y="65" width="12.26" height="2" fill="#680000"/>
<rect x="332.82" y="67" width="8.88" height="2" fill="#650000"/>
<rect x="330.63" y="71" width="11.07" height="2" fill="#620000"/>
<rect x="325.5" y="75" width="16.2" height="2" fill="#690000"/>
<rect x="325.5" y="77" width="16.2" height="2" fill="#600000"/>
<rect x="325.5" y="81" width="16.2" height="2" fill="#610000"/>
<rect x="325.5" y="83" width="12.17" height="2" fill="#610000"/>
<rect x="325.5" y="85" width="7.89" height="2" fill="#630000"/>
<rect x="325.5" y="87" width="16.2" height="2" fill="#5d0000"/>
<rect x="325.5" y="89" width="16.2" height="2" fill="#690000"/>
<rect x="335.15" y="91" width="6.55" height="2" fill="#600000"/>
<rect x="325.5" y="93" width="8.78" height="2" fill="#650000"/>
<rect x="325.5" y="99" width="9.5" height="2" fill="#670000"/>
<rect x="325.5" y="103" width="10.62" height="2" fill="#640000"/>
<rect x="325.5" y="107" width="10.01" height="2" fill="#5d0000"/>
<rect x="325.5" y="115" width="9.23" height="2" fill="#670000"/>
<rect x="325.5" y="117" width="7.05" height="2" fill="#650000"/>
<rect x="325.5" y="119" width="16.2" height="2" fill="#620000"/>
<rect x="325.5" y="121" width="16.2" height="2" fill="#610000"/>
<rect x="325.5" y="123" width="16.2" height="2" fill="#680000"/>
<rect x="325.5" y="125" width="16.2" height="2" fill="#610000"/>
<rect x="325.5" y="129" width="16.2" height="2" fill="#630000"/>
<rect x="332.54" y="131" width="9.16" height="2" fill="#610000"/>
<rect x="325.5" y="135" width="16.2" height="2" fill="#600000"/>
<rect x="325.5" y="141" width="16.2" height="2" fill="#660000"/>
<rect x="332.92" y="147" width="8.78" height="2" fill="#680000"/>
<rect x="325.5" y="153" width="16.2" height="2" fill="#610000"/>
<rect x="325.5" y="155" width="11.92" height="2" fill="#650000"/>
<rect x="325.5" y="159" width="12.49" height="2" fill="#5e0000"/>
<rect x="325.5" y="161" width="16.2" height="2" fill="#640000"/>
<rect x="325.5" y="165" width="9.07" height="2" fill="#620000"/>
<rect x="325.5" y="167" width="12.6" height="2" fill="#690000"/>
<rect x="325.5" y="169" width="16.2" height="2" fill="#5f0000"/>
<rect x="325.5" y="171" width="16.2" height="2" fill="#690000"/>
<rect x="325.5" y="175" width="8.1" height="2" fill="#640000"/>
<rect x="325.5" y="179" width="8.19" height="2" fill="#600000"/>
<rect x="325.5" y="181" width="16.2" height="2" fill="#660000"/>
<rect x="329.55" y="183" width="12.15" height="2" fill="#650000"/>
<rect x="325.5" y="185" width="16.2" height="2" fill="#600000"/>
<rect x="325.5" y="187" width="16.2" height="2" fill="#610000"/>
<rect x="329.72" y="189" width="11.98" height="2" fill="#660000"/>
<rect x="325.5" y="195" width="16.2" height="2" fill="#5e0000"/>
<rect x="325.5" y="199" width="16.2" height="2" fill="#5f0000"/>
<rect x="325.5" y="203" width="16.2" height="2" fill="#610000"/>
<rect x="334.13" y="205" width="7.57" height="2" fill="#620000"/>
<rect x="325.5" y="211" width="16.2" height="2" fill="#680000"/>
<rect x="330.05" y="219" width="11.65" height="2" fill="#5e0000"/>
<rect x="325.5" y="221" width="8.03" height="2" fill="#680000"/>
<rect x="325.5" y="223" width="16.2" height="2" fill="#630000"/>
<rect x="325.5" y="225" width="12.31" height="2" fill="#620000"/>
<rect x="325.5" y="227" width="10.46" height="2" fill="#5f0000"/>
<rect x="325.5" y="231" width="11.91" height="2" fill="#600000"/>
<rect x="325.5" y="233" width="12.75" height="2" fill="#600000"/>
<rect x="325.5" y="237" width="16.2" height="2" fill="#690000"/>
<rect x="333.07" y="241" width="8.63" height="2" fill="#690000"/>
<rect x="325.5" y="243" width="16.2" height="2" fill="#660000"/>
<rect x="330.23" y="245" width="11.47" height="2" fill="#600000"/>
<rect x="325.5" y="247" width="16.2" height="2" fill="#620000"/>
<rect x="325.5" y="249" width="11.13" height="2" fill="#610000"/>
<rect x="330.3" y="251" width="11.4" height="2" fill="#660000"/>
<rect x="325.5" y="263" width="16.2" height="2" fill="#5e0000"/>
<rect x="325.5" y="267" width="16.2" height="2" fill="#640000"/>
<rect x="334.56" y="271" width="7.14" height="2" fill="#5e0000"/>
<rect x="330.32" y="273" width="11.38" height="2" fill="#690000"/>
<rect x="330.4" y="275" width="11.3" height="2" fill="#620000"/>
<rect x="335.04" y="279" width="6.66" height="2" fill="#5e0000"/>
<rect x="325.5" y="281" width="9.52" height="2" fill="#630000"/>
<rect x="332.25" y="283" width="9.45" height="2" fill="#610000"/>
<rect x="325.5" y="291" width="16.2" height="2" fill="#5d0000"/>
<rect x="325.5" y="295" width="16.2" height="2" fill="#620000"/>
<rect x="325.5" y="301" width="16.2" height="2" fill="#630000"/>
<rect x="325.5" y="303" width="12.39" height="2" fill="#5e0000"/>
<rect x="330.33" y="309" width="11.37" height="2" fill="#5f0000"/>
<rect x="325.5" y="311" width="16.2" height="2" fill="#620000"/>
<rect x="325.5" y="313" width="16.2" height="2" fill="#5e0000"/>
<rect x="325.5" y="315" width="10.54" height="2" fill="#600000"/>
<rect x="325.5" y="317" width="8.08" height="2" fill="#620000"/>
<rect x="325.5" y="323" width="16.2" height="2" fill="#670000"/>
<rect x="325.5" y="337" width="12.12" height="2" fill="#670000"/>
<rect x="325.5" y="339" width="8.58" height="2" fill="#5f0000"/>
<rect x="325.5" y="341" width="16.2" height="2" fill="#5e0000"/>
<rect x="331.05" y="345" width="10.65" height="2" fill="#5e0000"/>
<rect x="325.5" y="353" width="10.82" height="2" fill="#620000"/>
<rect x="325.5" y="355" width="16.2" height="2" fill="#640000"/>
<rect x="333.34" y="359" width="8.36" height="2" fill="#640000"/>
<rect x="325.5" y="361" width="16.2" height="2" fill="#690000"/>
<rect x="325.5" y="363" width="16.2" height="2" fill="#610000"/>
<rect x="325.5" y="367" width="16.2" height="2" fill="#630000"/>
<rect x="325.5" y="371" width="16.2" height="2" fill="#690000"/>
<rect x="325.5" y="373" width="12.62" height="2" fill="#670000"/>
<rect x="325.5" y="377" width="7.25" height="2" fill="#640000"/>
<rect x="325.5" y="379" width="11.66" height="2" fill="#600000"/>
<rect x="335.11" y="387" width="6.59" height="2" fill="#610000"/>
<rect x="325.5" y="395" width="16.2" height="2" fill="#5f0000"/>
<rect x="333.39" y="399" width="8.31" height="2" fill="#5f0000"/>
<rect x="325.5" y="403" width="8.53" height="2" fill="#670000"/>
<rect x="325.5" y="411" width="16.2" height="2" fill="#5d0000"/>
<rect x="325.5" y="415" width="12.78" height="2" fill="#620000"/>
<rect x="325.5" y="417" width="8.4" height="2" fill="#620000"/>
<rect x="325.5" y="419" width="16.2" height="2" fill="#690000"/>
<rect x="325.5" y="427" width="9.11" height="2" fill="#670000"/>
<rect x="325.5" y="429" width="12.46" height="2" fill="#640000"/>
<rect x="325.5" y="431" width="16.2" height="2" fill="#620000"/>
<rect x="325.5" y="435" width="16.2" height="2" fill="#610000"/>
<rect x="333.62" y="437" width="8.08" height="2" fill="#660000"/>
<rect x="349.03" y="57" width="6.47" height="2" fill="#5a0000"/>
<rect x="343.5" y="67" width="12" height="2" fill="#5e0000"/>
<rect x="343.5" y="77" width="12" height="2" fill="#590000"/>
<rect x="343.5" y="81" width="12" height="2" fill="#5d0000"/>
<rect x="343.5" y="85" width="12" height="2" fill="#5d0000"/>
<rect x="348.6" y="107" width="6.9" height="2" fill="#560000"/>
<rect x="343.5" y="123" width="12" height="2" fill="#5c0000"/>
<rect x="346.35" y="143" width="9.15" height="2" fill="#580000"/>
<rect x="343.5" y="149" width="12" height="2" fill="#5f0000"/>
<rect x="347.7" y="167" width="7.8" height="2" fill="#560000"/>
<rect x="343.5" y="175" width="12" height="2" fill="#5b0000"/>
<rect x="343.5" y="199" width="7.9" height="2" fill="#570000"/>
<rect x="349.1" y="225" width="6.4" height="2" fill="#5b0000"/>
<rect x="343.5" y="231" width="12" height="2" fill="#5b0000"/>
<rect x="343.5" y="239" width="12" height="2" fill="#5a0000"/>
<rect x="343.5" y="241" width="9.52" height="2" fill="#5f0000"/>
<rect x="343.5" y="251" width="12" height="2" fill="#580000"/>
<rect x="343.5" y="257" width="12" height="2" fill="#590000"/>
<rect x="343.5" y="279" width="12" height="2" fill="#560000"/>
<rect x="343.5" y="297" width="4.93" height="2" fill="#5f0000"/>
<rect x="343.5" y="301" width="7.34" height="2" fill="#5b0000"/>
<rect x="343.5" y="313" width="12" height="2" fill="#5a0000"/>
<rect x="343.5" y="317" width="12" height="2" fill="#560000"/>
<rect x="343.5" y="323" width="12" height="2" fill="#590000"/>
<rect x="343.5" y="355" width="6.81" height="2" fill="#5a0000"/>
<rect x="343.5" y="359" width="6.98" height="2" fill="#5d0000"/>
<rect x="343.5" y="363" width="12" height="2" fill="#5c0000"/>
<rect x="343.5" y="409" width="12" height="2" fill="#580000"/>
<rect x="343.5" y="429" width="6.88" height="2" fill="#5a0000"/>
<rect x="343.5" y="435" width="8.91" height="2" fill="#570000"/>
<rect x="343.5" y="441" width="12" height="2" fill="#5f0000"/>
<rect x="440.12" y="39" width="10.28" height="2" fill="#650000"/>
<rect x="439.37" y="43" width="11.03" height="2" fill="#680000"/>
<rect x="435.6" y="45" width="14.8" height="2" fill="#660000"/>
<rect x="435.6" y="47" width="14.8" height="2" fill="#5e0000"/>
<rect x="442.05" y="49" width="8.35" height="2" fill="#680000"/>
<rect x="435.6" y="51" width="14.8" height="2" fill="#660000"/>
<rect x="438.94" y="55" width="11.46" height="2" fill="#690000"/>
<rect x="441.28" y="57" width="9.12" height="2" fill="#5e0000"/>
<rect x="435.6" y="65" width="14.8" height="2" fill="#650000"/>
<rect x="435.6" y="67" width="10.07" height="2" fill="#670000"/>
<rect x="435.6" y="69" width="14.8" height="2" fill="#670000"/>
<rect x="435.6" y="75" width="6.24" height="2" fill="#600000"/>
<rect x="435.6" y="77" width="11.37" height="2" fill="#5e0000"/>
<rect x="439.38" y="81" width="11.02" height="2" fill="#650000"/>
<rect x="435.6" y="83" width="8.45" height="2" fill="#660000"/>
<rect x="435.6" y="87" width="8.67" height="2" fill="#600000"/>
<rect x="435.6" y="91" width="7.2" height="2" fill="#650000"/>
<rect x="435.6" y="95" width="9.72" height="2" fill="#5e0000"/>
<rect x="435.6" y="99" width="14.8" height="2" fill="#650000"/>
<rect x="435.6" y="103" width="11.23" height="2" fill="#670000"/>
<rect x="435.6" y="111" width="8.07" height="2" fill="#690000"/>
<rect x="435.6" y="115" width="11.27" height="2" fill="#620000"/>
<rect x="435.6" y="117" width="6.69" height="2" fill="#660000"/>
<rect x="444.15" y="119" width="6.25" height="2" fill="#610000"/>
<rect x="435.6" y="121" width="14.8" height="2" fill="#680000"/>
<rect x="438.72" y="123" width="11.68" height="2" fill="#620000"/>
<rect x="441.59" y="125" width="8.81" height="2" fill="#610000"/>
<rect x="435.6" y="131" width="14.8" height="2" fill="#5e0000"/>
<rect x="444.4" y="133" width="6" height="2" fill="#640000"/>
<rect x="435.6" y="135" width="8.58" height="2" fill="#630000"/>
<rect x="435.6" y="141" width="14.8" height="2" fill="#640000"/>
<rect x="435.6" y="143" width="14.8" height="2" fill="#650000"/>
<rect x="435.6" y="145" width="14.8" height="2" fill="#670000"/>
<rect x="435.6" y="147" width="14.8" height="2" fill="#5e0000"/>
<rect x="435.6" y="149" width="14.8" height="2" fill="#630000"/>
<rect x="435.6" y="153" width="14.8" height="2" fill="#610000"/>
<rect x="435.6" y="155" width="14.8" height="2" fill="#630000"/>
<rect x="435.6" y="159" width="14.8" height="2" fill="#600000"/>
<rect x="439.55" y="163" width="10.85" height="2" fill="#6a0000"/>
<rect x="435.6" y="165" width="14.8" height="2" fill="#630000"/>
<rect x="435.6" y="167" width="14.8" height="2" fill="#5f0000"/>
<rect x="435.6" y="169" width="9.73" height="2" fill="#640000"/>
<rect x="443.08" y="171" width="7.32" height="2" fill="#660000"/>
<rect x="435.6" y="175" width="6.67" height="2" fill="#650000"/>
<rect x="435.6" y="179" width="14.8" height="2" fill="#610000"/>
<rect x="435.6" y="181" width="6.06" height="2" fill="#620000"/>
<rect x="435.6" y="183" width="14.8" height="2" fill="#650000"/>
<rect x="435.6" y="187" width="6.79" height="2" fill="#690000"/>
<rect x="435.6" y="191" width="14.8" height="2" fill="#680000"/>
<rect x="435.6" y="193" width="14.8" height="2" fill="#660000"/>
<rect x="435.6" y="199" width="11.83" height="2" fill="#5f0000"/>
<rect x="441.73" y="203" width="8.67" height="2" fill="#680000"/>
<rect x="444.33" y="205" width="6.07" height="2" fill="#5f0000"/>
<rect x="435.6" y="209" width="14.8" height="2" fill="#680000"/>
<rect x="440.18" y="211" width="10.22" height="2" fill="#650000"/>
<rect x="435.6" y="213" width="14.8" height="2" fill="#650000"/>
<rect x="435.6" y="217" width="7.49" height="2" fill="#630000"/>
<rect x="435.6" y="219" width="14.8" height="2" fill="#650000"/>
<rect x="440.1" y="221" width="10.3" height="2" fill="#660000"/>
<rect x="438.65" y="223" width="11.75" height="2" fill="#5f0000"/>
<rect x="435.6" y="225" width="9.24" height="2" fill="#5e0000"/>
<rect x="435.6" y="231" width="14.8" height="2" fill="#5d0000"/>
<rect x="435.6" y="233" width="14.8" height="2" fill="#650000"/>
<rect x="435.6" y="241" width="14.8" height="2" fill="#5d0000"/>
<rect x="435.6" y="245" width="11.25" height="2" fill="#5e0000"/>
<rect x="438.58" y="247" width="11.82" height="2" fill="#5e0000"/>
<rect x="435.6" y="249" width="14.8" height="2" fill="#610000"/>
<rect x="435.6" y="251" width="14.8" height="2" fill="#5f0000"/>
<rect x="435.6" y="255" width="9.17" height="2" fill="#600000"/>
<rect x="435.6" y="257" width="7.3" height="2" fill="#5d0000"/>
<rect x="435.6" y="261" width="14.8" height="2" fill="#660000"/>
<rect x="435.6" y="269" width="14.8" height="2" fill="#650000"/>
<rect x="435.6" y="271" width="10.71" height="2" fill="#660000"/>
<rect x="435.6" y="273" width="14.8" height="2" fill="#600000"/>
<rect x="435.6" y="275" width="14.8" height="2" fill="#5f0000"/>
<rect x="435.6" y="279" width="14.8" height="2" fill="#5e0000"/>
<rect x="435.6" y="281" width="11.8" height="2" fill="#5f0000"/>
<rect x="438.6" y="283" width="11.8" height="2" fill="#620000"/>
<rect x="439.45" y="291" width="10.95" height="2" fill="#690000"/>
<rect x="435.6" y="293" width="14.8" height="2" fill="#5e0000"/>
<rect x="435.6" y="297" width="6.4" height="2" fill="#670000"/>
<rect x="441.08" y="299" width="9.32" height="2" fill="#640000"/>
<rect x="440.3" y="301" width="10.1" height="2" fill="#670000"/>
<rect x="442.5" y="305" width="7.9" height="2" fill="#640000"/>
<rect x="435.6" y="309" width="9.94" height="2" fill="#660000"/>
<rect x="441.63" y="315" width="8.77" height="2" fill="#660000"/>
<rect x="435.6" y="317" width="14.8" height="2" fill="#650000"/>
<rect x="435.6" y="321" width="9.22" height="2" fill="#640000"/>
<rect x="435.6" y="323" width="11.42" height="2" fill="#610000"/>
<rect x="440.35" y="327" width="10.05" height="2" fill="#610000"/>
<rect x="435.6" y="331" width="6.25" height="2" fill="#5e0000"/>
<rect x="442.6" y="333" width="7.8" height="2" fill="#610000"/>
<rect x="435.6" y="335" width="14.8" height="2" fill="#5e0000"/>
<rect x="435.6" y="337" width="6.68" height="2" fill="#660000"/>
<rect x="435.6" y="339" width="10.28" height="2" fill="#600000"/>
<rect x="435.6" y="345" width="14.8" height="2" fill="#630000"/>
<rect x="435.6" y="347" width="14.8" height="2" fill="#630000"/>
<rect x="441.16" y="351" width="9.24" height="2" fill="#620000"/>
<rect x="435.6" y="355" width="14.8" height="2" fill="#620000"/>
<rect x="435.6" y="357" width="7.5" height="2" fill="#5f0000"/>
<rect x="435.6" y="359" width="14.8" height="2" fill="#5e0000"/>
<rect x="435.6" y="363" width="14.8" height="2" fill="#5e0000"/>
<rect x="441.26" y="365" width="9.14" height="2" fill="#650000"/>
<rect x="435.6" y="367" width="14.8" height="2" fill="#610000"/>
<rect x="435.6" y="379" width="8.14" height="2" fill="#630000"/>
<rect x="435.6" y="381" width="7.2" height="2" fill="#680000"/>
<rect x="435.6" y="393" width="14.8" height="2" fill="#670000"/>
<rect x="441" y="395" width="9.4" height="2" fill="#610000"/>
<rect x="435.6" y="401" width="8.21" height="2" fill="#650000"/>
<rect x="443.4" y="403" width="7" height="2" fill="#610000"/>
<rect x="435.6" y="407" width="14.8" height="2" fill="#630000"/>
<rect x="435.6" y="409" width="14.8" height="2" fill="#680000"/>
<rect x="435.6" y="411" width="14.8" height="2" fill="#610000"/>
<rect x="441.52" y="413" width="8.88" height="2" fill="#690000"/>
<rect x="439.89" y="415" width="10.51" height="2" fill="#640000"/>
<rect x="439.28" y="421" width="11.12" height="2" fill="#630000"/>
<rect x="435.6" y="423" width="10.37" height="2" fill="#6a0000"/>
<rect x="435.6" y="425" width="14.8" height="2" fill="#5e0000"/>
<rect x="435.6" y="427" width="14.8" height="2" fill="#690000"/>
<rect x="440.16" y="429" width="10.24" height="2" fill="#600000"/>
<rect x="435.6" y="431" width="14.8" height="2" fill="#5f0000"/>
<rect x="435.6" y="433" width="6.81" height="2" fill="#5d0000"/>
<rect x="435.6" y="441" width="8.45" height="2" fill="#640000"/>
<rect x="435.6" y="443" width="9.13" height="2" fill="#5d0000"/>
<rect x="454.42" y="35" width="3.98" height="2" fill="#5e0000"/>
<rect x="452.3" y="47" width="3.33" height="2" fill="#620000"/>
<rect x="454.95" y="53" width="3.45" height="2" fill="#5f0000"/>
<rect x="452.3" y="55" width="4.32" height="2" fill="#5d0000"/>
<rect x="452.3" y="57" width="6.1" height="2" fill="#650000"/>
<rect x="455.77" y="59" width="2.63" height="2" fill="#660000"/>
<rect x="452.3" y="61" width="6.1" height="2" fill="#650000"/>
<rect x="452.3" y="65" width="6.1" height="2" fill="#680000"/>
<rect x="454.66" y="67" width="3.74" height="2" fill="#5e0000"/>
<rect x="452.3" y="69" width="6.1" height="2" fill="#5e0000"/>
<rect x="452.3" y="71" width="6.1" height="2" fill="#630000"/>
<rect x="452.3" y="75" width="6.1" height="2" fill="#640000"/>
<rect x="452.3" y="77" width="3.73" height="2" fill="#610000"/>
<rect x="452.3" y="81" width="3.51" height="2" fill="#5f0000"/>
<rect x="452.3" y="83" width="6.1" height="2" fill="#5e0000"/>
<rect x="452.3" y="85" width="4.8" height="2" fill="#630000"/>
<rect x="452.3" y="87" width="2.66" height="2" fill="#5f0000"/>
<rect x="452.3" y="89" width="6.1" height="2" fill="#610000"/>
<rect x="454.21" y="91" width="4.19" height="2" fill="#5d0000"/>
<rect x="452.3" y="97" width="4.52" height="2" fill="#630000"/>
<rect x="452.3" y="99" width="3.57" height="2" fill="#660000"/>
<rect x="452.3" y="107" width="6.1" height="2" fill="#630000"/>
<rect x="452.3" y="117" width="6.1" height="2" fill="#660000"/>
<rect x="452.3" y="119" width="6.1" height="2" fill="#660000"/>
<rect x="452.3" y="121" width="6.1" height="2" fill="#650000"/>
<rect x="454.72" y="123" width="3.68" height="2" fill="#670000"/>
<rect x="452.3" y="125" width="6.1" height="2" fill="#660000"/>
<rect x="452.3" y="127" width="3.5" height="2" fill="#690000"/>
<rect x="452.3" y="131" width="6.1" height="2" fill="#660000"/>
<rect x="452.3" y="133" width="6.1" height="2" fill="#670000"/>
<rect x="452.3" y="135" width="6.1" height="2" fill="#670000"/>
<rect x="452.3" y="137" width="6.1" height="2" fill="#630000"/>
<rect x="452.3" y="147" width="6.1" height="2" fill="#620000"/>
<rect x="452.3" y="153" width="6.1" height="2" fill="#670000"/>
<rect x="452.3" y="159" width="6.1" height="2" fill="#660000"/>
<rect x="452.3" y="163" width="6.1" height="2" fill="#650000"/>
<rect x="452.3" y="165" width="3.66" height="2" fill="#690000"/>
<rect x="452.3" y="167" width="6.1" height="2" fill="#5f0000"/>
<rect x="452.3" y="169" width="6.1" height="2" fill="#610000"/>
<rect x="452.3" y="171" width="6.1" height="2" fill="#650000"/>
<rect x="452.3" y="175" width="3.99" height="2" fill="#610000"/>
<rect x="454.29" y="177" width="4.11" height="2" fill="#5f0000"/>
<rect x="452.3" y="183" width="3.35" height="2" fill="#600000"/>
<rect x="452.3" y="185" width="6.1" height="2" fill="#5e0000"/>
<rect x="452.3" y="187" width="6.1" height="2" fill="#5f0000"/>
<rect x="452.3" y="189" width="6.1" height="2" fill="#630000"/>
<rect x="452.3" y="191" width="2.57" height="2" fill="#680000"/>
<rect x="452.3" y="193" width="4.87" height="2" fill="#680000"/>
<rect x="452.3" y="195" width="6.1" height="2" fill="#6a0000"/>
<rect x="452.3" y="199" width="3.74" height="2" fill="#5d0000"/>
<rect x="452.3" y="205" width="6.1" height="2" fill="#6a0000"/>
<rect x="452.3" y="207" width="3.61" height="2" fill="#5e0000"/>
<rect x="452.3" y="211" width="4.13" height="2" fill="#690000"/>
<rect x="454.1" y="215" width="4.3" height="2" fill="#620000"/>
<rect x="452.3" y="219" width="6.1" height="2" fill="#640000"/>
<rect x="452.3" y="221" width="4.52" height="2" fill="#640000"/>
<rect x="452.3" y="223" width="4.86" height="2" fill="#5f0000"/>
<rect x="454.29" y="225" width="4.11" height="2" fill="#610000"/>
<rect x="452.3" y="227" width="6.1" height="2" fill="#600000"/>
<rect x="452.3" y="231" width="6.1" height="2" fill="#5e0000"/>
<rect x="452.3" y="233" width="6.1" height="2" fill="#610000"/>
<rect x="452.3" y="235" width="6.1" height="2" fill="#680000"/>
<rect x="452.3" y="239" width="6.1" height="2" fill="#620000"/>
<rect x="453.68" y="241" width="4.72" height="2" fill="#600000"/>
<rect x="452.3" y="243" width="2.69" height="2" fill="#5f0000"/>
<rect x="455.83" y="247" width="2.57" height="2" fill="#670000"/>
<rect x="452.3" y="251" width="2.49" height="2" fill="#680000"/>
<rect x="452.3" y="253" width="6.1" height="2" fill="#690000"/>
<rect x="452.3" y="259" width="6.1" height="2" fill="#610000"/>
<rect x="452.3" y="265" width="4.46" height="2" fill="#610000"/>
<rect x="452.3" y="267" width="4.23" height="2" fill="#640000"/>
<rect x="452.3" y="269" width="6.1" height="2" fill="#690000"/>
<rect x="455.67" y="271" width="2.73" height="2" fill="#690000"/>
<rect x="452.3" y="273" width="6.1" height="2" fill="#5f0000"/>
<rect x="452.3" y="275" width="3.12" height="2" fill="#650000"/>
<rect x="453.61" y="279" width="4.79" height="2" fill="#600000"/>
<rect x="452.3" y="285" width="2.97" height="2" fill="#620000"/>
<rect x="452.3" y="289" width="6.1" height="2" fill="#680000"/>
<rect x="455.08" y="291" width="3.32" height="2" fill="#630000"/>
<rect x="452.3" y="293" width="3.4" height="2" fill="#610000"/>
<rect x="452.3" y="295" width="6.1" height="2" fill="#630000"/>
<rect x="452.3" y="297" width="2.95" height="2" fill="#690000"/>
<rect x="452.3" y="301" width="6.1" height="2" fill="#640000"/>
<rect x="453.57" y="305" width="4.83" height="2" fill="#620000"/>
<rect x="453.58" y="309" width="4.82" height="2" fill="#600000"/>
<rect x="452.3" y="313" width="6.1" height="2" fill="#630000"/>
<rect x="452.3" y="317" width="6.1" height="2" fill="#600000"/>
<rect x="452.3" y="319" width="6.1" height="2" fill="#640000"/>
<rect x="452.3" y="321" width="6.1" height="2" fill="#680000"/>
<rect x="452.3" y="323" width="6.1" height="2" fill="#5f0000"/>
<rect x="452.3" y="325" width="6.1" height="2" fill="#650000"/>
<rect x="452.3" y="327" width="2.49" height="2" fill="#600000"/>
<rect x="452.3" y="331" width="6.1" height="2" fill="#640000"/>
<rect x="454.94" y="333" width="3.46" height="2" fill="#5e0000"/>
<rect x="452.3" y="335" width="6.1" height="2" fill="#690000"/>
<rect x="452.3" y="341" width="3.97" height="2" fill="#620000"/>
<rect x="452.3" y="347" width="6.1" height="2" fill="#690000"/>
<rect x="455.3" y="355" width="3.1" height="2" fill="#5e0000"/>
<rect x="452.3" y="357" width="6.1" height="2" fill="#5f0000"/>
<rect x="452.3" y="359" width="4.56" height="2" fill="#670000"/>
<rect x="452.3" y="363" width="6.1" height="2" fill="#650000"/>
<rect x="452.3" y="365" width="6.1" height="2" fill="#5d0000"/>
<rect x="452.3" y="373" width="3.46" height="2" fill="#660000"/>
<rect x="452.3" y="375" width="6.1" height="2" fill="#600000"/>
<rect x="452.3" y="391" width="4.79" height="2" fill="#660000"/>
<rect x="452.3" y="393" width="6.1" height="2" fill="#620000"/>
<rect x="452.3" y="395" width="6.1" height="2" fill="#630000"/>
<rect x="452.3" y="397" width="6.1" height="2" fill="#610000"/>
<rect x="454.83" y="401" width="3.57" height="2" fill="#680000"/>
<rect x="452.3" y="407" width="6.1" height="2" fill="#670000"/>
<rect x="452.3" y="411" width="6.1" height="2" fill="#650000"/>
<rect x="455.19" y="415" width="3.21" height="2" fill="#620000"/>
<rect x="453.99" y="417" width="4.41" height="2" fill="#680000"/>
<rect x="452.3" y="425" width="2.48" height="2" fill="#600000"/>
<rect x="452.3" y="427" width="6.1" height="2" fill="#690000"/>
<rect x="452.3" y="429" width="6.1" height="2" fill="#600000"/>
<rect x="452.3" y="435" width="6.1" height="2" fill="#650000"/>
<rect x="452.3" y="439" width="6.1" height="2" fill="#600000"/>
<rect x="452.3" y="441" width="4.25" height="2" fill="#5d0000"/>
<rect x="452.3" y="443" width="6.1" height="2" fill="#5e0000"/>
<rect x="460.3" y="37" width="10.6" height="2" fill="#640000"/>
<rect x="466.09" y="47" width="4.81" height="2" fill="#5e0000"/>
<rect x="460.3" y="51" width="10.6" height="2" fill="#680000"/>
<rect x="460.3" y="57" width="10.6" height="2" fill="#5e0000"/>
<rect x="460.3" y="61" width="4.51" height="2" fill="#600000"/>
<rect x="460.3" y="63" width="10.6" height="2" fill="#600000"/>
<rect x="460.3" y="67" width="10.6" height="2" fill="#5f0000"/>
<rect x="460.3" y="69" width="10.6" height="2" fill="#630000"/>
<rect x="463.36" y="71" width="7.54" height="2" fill="#650000"/>
<rect x="466.3" y="75" width="4.6" height="2" fill="#680000"/>
<rect x="463.76" y="77" width="7.14" height="2" fill="#610000"/>
<rect x="460.3" y="81" width="10.6" height="2" fill="#680000"/>
<rect x="463.48" y="85" width="7.42" height="2" fill="#620000"/>
<rect x="460.3" y="87" width="10.6" height="2" fill="#5f0000"/>
<rect x="462.9" y="91" width="8" height="2" fill="#600000"/>
<rect x="460.3" y="93" width="10.6" height="2" fill="#5e0000"/>
<rect x="460.3" y="95" width="4.85" height="2" fill="#670000"/>
<rect x="460.3" y="101" width="4.73" height="2" fill="#690000"/>
<rect x="460.3" y="103" width="5.27" height="2" fill="#640000"/>
<rect x="460.3" y="105" width="10.6" height="2" fill="#680000"/>
<rect x="460.3" y="107" width="6.71" height="2" fill="#5d0000"/>
<rect x="460.3" y="113" width="10.6" height="2" fill="#630000"/>
<rect x="460.3" y="117" width="10.6" height="2" fill="#660000"/>
<rect x="460.3" y="121" width="4.5" height="2" fill="#630000"/>
<rect x="460.3" y="123" width="5.66" height="2" fill="#650000"/>
<rect x="460.3" y="125" width="10.6" height="2" fill="#690000"/>
<rect x="460.3" y="131" width="4.97" height="2" fill="#5e0000"/>
<rect x="460.3" y="135" width="7.94" height="2" fill="#5e0000"/>
<rect x="463.13" y="137" width="7.77" height="2" fill="#660000"/>
<rect x="460.3" y="141" width="10.6" height="2" fill="#680000"/>
<rect x="460.3" y="149" width="6.82" height="2" fill="#620000"/>
<rect x="460.3" y="153" width="10.6" height="2" fill="#670000"/>
<rect x="460.3" y="155" width="10.6" height="2" fill="#600000"/>
<rect x="460.3" y="159" width="6.53" height="2" fill="#600000"/>
<rect x="460.3" y="161" width="10.6" height="2" fill="#690000"/>
<rect x="460.3" y="163" width="10.6" height="2" fill="#610000"/>
<rect x="465.2" y="165" width="5.7" height="2" fill="#620000"/>
<rect x="460.3" y="167" width="10.6" height="2" fill="#680000"/>
<rect x="460.3" y="169" width="10.6" height="2" fill="#640000"/>
<rect x="460.3" y="171" width="7.64" height="2" fill="#640000"/>
<rect x="460.3" y="179" width="10.6" height="2" fill="#600000"/>
<rect x="460.3" y="183" width="5.82" height="2" fill="#630000"/>
<rect x="460.3" y="187" width="10.6" height="2" fill="#640000"/>
<rect x="460.3" y="191" width="10.6" height="2" fill="#600000"/>
<rect x="460.3" y="193" width="6.4" height="2" fill="#660000"/>
<rect x="460.3" y="197" width="10.6" height="2" fill="#5f0000"/>
<rect x="460.3" y="199" width="10.6" height="2" fill="#5f0000"/>
<rect x="460.3" y="203" width="10.6" height="2" fill="#670000"/>
<rect x="460.3" y="205" width="4.25" height="2" fill="#660000"/>
<rect x="460.3" y="211" width="5.49" height="2" fill="#5f0000"/>
<rect x="460.3" y="213" width="10.6" height="2" fill="#5e0000"/>
<rect x="460.3" y="217" width="10.6" height="2" fill="#5e0000"/>
<rect x="460.3" y="221" width="5.8" height="2" fill="#660000"/>
<rect x="466.46" y="225" width="4.44" height="2" fill="#5e0000"/>
<rect x="460.3" y="231" width="10.6" height="2" fill="#5e0000"/>
<rect x="465.66" y="233" width="5.24" height="2" fill="#630000"/>
<rect x="460.3" y="239" width="6.51" height="2" fill="#630000"/>
<rect x="460.3" y="241" width="10.6" height="2" fill="#630000"/>
<rect x="460.3" y="245" width="10.6" height="2" fill="#660000"/>
<rect x="460.3" y="247" width="10.6" height="2" fill="#680000"/>
<rect x="460.3" y="249" width="6.5" height="2" fill="#650000"/>
<rect x="460.3" y="251" width="10.6" height="2" fill="#680000"/>
<rect x="460.3" y="255" width="7.71" height="2" fill="#670000"/>
<rect x="460.3" y="261" width="5.62" height="2" fill="#680000"/>
<rect x="460.3" y="271" width="10.6" height="2" fill="#640000"/>
<rect x="460.3" y="275" width="10.6" height="2" fill="#660000"/>
<rect x="460.3" y="277" width="5.17" height="2" fill="#660000"/>
<rect x="460.3" y="279" width="7.75" height="2" fill="#670000"/>
<rect x="460.3" y="281" width="10.6" height="2" fill="#5f0000"/>
<rect x="460.3" y="287" width="10.6" height="2" fill="#680000"/>
<rect x="460.3" y="289" width="7.92" height="2" fill="#610000"/>
<rect x="463.03" y="291" width="7.87" height="2" fill="#620000"/>
<rect x="460.3" y="295" width="10.6" height="2" fill="#690000"/>
<rect x="460.3" y="297" width="10.6" height="2" fill="#600000"/>
<rect x="460.3" y="299" width="5.55" height="2" fill="#680000"/>
<rect x="460.3" y="301" width="10.6" height="2" fill="#660000"/>
<rect x="460.3" y="303" width="4.42" height="2" fill="#5f0000"/>
<rect x="460.3" y="305" width="6.61" height="2" fill="#610000"/>
<rect x="463.86" y="309" width="7.04" height="2" fill="#5e0000"/>
<rect x="460.3" y="313" width="10.6" height="2" fill="#650000"/>
<rect x="466.46" y="315" width="4.44" height="2" fill="#620000"/>
<rect x="465.74" y="317" width="5.16" height="2" fill="#5e0000"/>
<rect x="463.01" y="325" width="7.89" height="2" fill="#670000"/>
<rect x="460.3" y="331" width="10.6" height="2" fill="#620000"/>
<rect x="460.3" y="333" width="10.6" height="2" fill="#630000"/>
<rect x="460.3" y="335" width="10.6" height="2" fill="#690000"/>
<rect x="460.3" y="339" width="7.75" height="2" fill="#600000"/>
<rect x="460.3" y="347" width="10.6" height="2" fill="#630000"/>
<rect x="460.3" y="349" width="10.6" height="2" fill="#600000"/>
<rect x="460.3" y="359" width="10.6" height="2" fill="#670000"/>
<rect x="460.3" y="361" width="10.6" height="2" fill="#610000"/>
<rect x="460.3" y="363" width="10.6" height="2" fill="#5d0000"/>
<rect x="460.3" y="371" width="10.6" height="2" fill="#650000"/>
<rect x="460.3" y="373" width="10.6" height="2" fill="#680000"/>
<rect x="460.3" y="379" width="7.35" height="2" fill="#600000"/>
<rect x="465.88" y="381" width="5.02" height="2" fill="#690000"/>
<rect x="465.16" y="385" width="5.74" height="2" fill="#5d0000"/>
<rect x="460.3" y="391" width="10.6" height="2" fill="#5f0000"/>
<rect x="460.3" y="395" width="10.6" height="2" fill="#640000"/>
<rect x="460.3" y="397" width="8.17" height="2" fill="#600000"/>
<rect x="460.3" y="399" width="10.6" height="2" fill="#690000"/>
<rect x="460.3" y="401" width="10.6" height="2" fill="#660000"/>
<rect x="460.3" y="405" width="10.6" height="2" fill="#620000"/>
<rect x="460.3" y="409" width="10.6" height="2" fill="#670000"/>
<rect x="460.3" y="411" width="5.32" height="2" fill="#660000"/>
<rect x="466.25" y="413" width="4.65" height="2" fill="#640000"/>
<rect x="464.74" y="419" width="6.16" height="2" fill="#660000"/>
<rect x="460.3" y="421" width="8.18" height="2" fill="#630000"/>
<rect x="463.83" y="423" width="7.07" height="2" fill="#600000"/>
<rect x="460.3" y="425" width="10.6" height="2" fill="#5d0000"/>
<rect x="460.3" y="427" width="7.97" height="2" fill="#680000"/>
<rect x="464.72" y="429" width="6.18" height="2" fill="#630000"/>
<rect x="460.3" y="431" width="10.6" height="2" fill="#610000"/>
<rect x="460.3" y="435" width="10.6" height="2" fill="#620000"/>
<rect x="466.09" y="437" width="4.81" height="2" fill="#5e0000"/>
<rect x="460.3" y="439" width="10.6" height="2" fill="#650000"/>
<rect x="460.3" y="441" width="7.1" height="2" fill="#600000"/>
<rect x="460.3" y="443" width="10.6" height="2" fill="#650000"/>
<rect x="473.2" y="43" width="13.01" height="2" fill="#660000"/>
<rect x="473.2" y="47" width="7.56" height="2" fill="#5d0000"/>
<rect x="473.2" y="49" width="9.48" height="2" fill="#620000"/>
<rect x="473.2" y="53" width="9.59" height="2" fill="#640000"/>
<rect x="473.2" y="57" width="18.2" height="2" fill="#610000"/>
<rect x="473.2" y="59" width="14.45" height="2" fill="#630000"/>
<rect x="473.2" y="61" width="18.2" height="2" fill="#630000"/>
<rect x="477.94" y="67" width="13.46" height="2" fill="#690000"/>
<rect x="479.15" y="69" width="12.25" height="2" fill="#670000"/>
<rect x="478.55" y="71" width="12.85" height="2" fill="#690000"/>
<rect x="473.2" y="77" width="18.2" height="2" fill="#640000"/>
<rect x="473.2" y="81" width="18.2" height="2" fill="#670000"/>
<rect x="473.2" y="85" width="14.37" height="2" fill="#5e0000"/>
<rect x="473.2" y="87" width="18.2" height="2" fill="#630000"/>
<rect x="473.2" y="91" width="9.27" height="2" fill="#660000"/>
<rect x="473.2" y="93" width="18.2" height="2" fill="#600000"/>
<rect x="473.2" y="99" width="9.16" height="2" fill="#680000"/>
<rect x="473.2" y="103" width="12.83" height="2" fill="#640000"/>
<rect x="473.2" y="109" width="13.98" height="2" fill="#5d0000"/>
<rect x="482.49" y="111" width="8.91" height="2" fill="#610000"/>
<rect x="473.2" y="117" width="18.2" height="2" fill="#620000"/>
<rect x="473.2" y="121" width="10.42" height="2" fill="#5f0000"/>
<rect x="473.2" y="125" width="18.2" height="2" fill="#680000"/>
<rect x="473.2" y="127" width="18.2" height="2" fill="#630000"/>
<rect x="473.2" y="131" width="18.2" height="2" fill="#5f0000"/>
<rect x="473.2" y="133" width="9.56" height="2" fill="#600000"/>
<rect x="473.2" y="135" width="18.2" height="2" fill="#690000"/>
<rect x="481.13" y="137" width="10.27" height="2" fill="#680000"/>
<rect x="477.04" y="141" width="14.36" height="2" fill="#5f0000"/>
<rect x="473.2" y="143" width="18.2" height="2" fill="#620000"/>
<rect x="473.2" y="147" width="12.64" height="2" fill="#610000"/>
<rect x="473.2" y="149" width="11.27" height="2" fill="#600000"/>
<rect x="473.2" y="155" width="18.2" height="2" fill="#5f0000"/>
<rect x="473.2" y="157" width="8.04" height="2" fill="#640000"/>
<rect x="479.54" y="159" width="11.86" height="2" fill="#640000"/>
<rect x="473.2" y="163" width="14.11" height="2" fill="#610000"/>
<rect x="473.2" y="165" width="11.17" height="2" fill="#670000"/>
<rect x="473.2" y="167" width="11.75" height="2" fill="#660000"/>
<rect x="481.51" y="169" width="9.89" height="2" fill="#610000"/>
<rect x="473.2" y="171" width="8.11" height="2" fill="#5e0000"/>
<rect x="473.2" y="175" width="10.29" height="2" fill="#5f0000"/>
<rect x="473.2" y="183" width="11.89" height="2" fill="#5e0000"/>
<rect x="473.2" y="185" width="18.2" height="2" fill="#5e0000"/>
<rect x="473.2" y="189" width="18.2" height="2" fill="#5e0000"/>
<rect x="478.36" y="191" width="13.04" height="2" fill="#610000"/>
<rect x="473.2" y="193" width="18.2" height="2" fill="#630000"/>
<rect x="482.57" y="195" width="8.83" height="2" fill="#630000"/>
<rect x="482.06" y="199" width="9.34" height="2" fill="#640000"/>
<rect x="473.2" y="201" width="8.06" height="2" fill="#670000"/>
<rect x="473.2" y="203" width="12.82" height="2" fill="#660000"/>
<rect x="480.82" y="205" width="10.58" height="2" fill="#620000"/>
<rect x="473.2" y="207" width="10.09" height="2" fill="#660000"/>
<rect x="482.56" y="209" width="8.84" height="2" fill="#640000"/>
<rect x="479.02" y="211" width="12.38" height="2" fill="#610000"/>
<rect x="473.2" y="215" width="18.2" height="2" fill="#5f0000"/>
<rect x="473.2" y="217" width="8.44" height="2" fill="#600000"/>
<rect x="473.2" y="223" width="18.2" height="2" fill="#610000"/>
<rect x="473.2" y="225" width="18.2" height="2" fill="#660000"/>
<rect x="473.2" y="231" width="10.47" height="2" fill="#670000"/>
<rect x="473.2" y="233" width="18.2" height="2" fill="#690000"/>
<rect x="473.2" y="235" width="18.2" height="2" fill="#6a0000"/>
<rect x="473.2" y="237" width="18.2" height="2" fill="#680000"/>
<rect x="473.2" y="239" width="12.54" height="2" fill="#680000"/>
<rect x="473.2" y="241" width="18.2" height="2" fill="#600000"/>
<rect x="478.02" y="243" width="13.38" height="2" fill="#600000"/>
<rect x="473.2" y="251" width="18.2" height="2" fill="#640000"/>
<rect x="473.2" y="253" width="18.2" height="2" fill="#620000"/>
<rect x="473.2" y="255" width="18.2" height="2" fill="#650000"/>
<rect x="473.2" y="257" width="18.2" height="2" fill="#640000"/>
<rect x="483.44" y="261" width="7.96" height="2" fill="#680000"/>
<rect x="473.2" y="267" width="18.2" height="2" fill="#640000"/>
<rect x="473.2" y="269" width="18.2" height="2" fill="#5f0000"/>
<rect x="473.2" y="271" width="18.2" height="2" fill="#600000"/>
<rect x="473.2" y="273" width="18.2" height="2" fill="#610000"/>
<rect x="473.2" y="275" width="13.49" height="2" fill="#670000"/>
<rect x="479.39" y="279" width="12.01" height="2" fill="#5e0000"/>
<rect x="473.2" y="281" width="18.2" height="2" fill="#5f0000"/>
<rect x="476.94" y="283" width="14.46" height="2" fill="#660000"/>
<rect x="473.2" y="285" width="18.2" height="2" fill="#5f0000"/>
<rect x="473.2" y="289" width="18.2" height="2" fill="#5e0000"/>
<rect x="473.2" y="291" width="9.38" height="2" fill="#5f0000"/>
<rect x="480.91" y="293" width="10.49" height="2" fill="#640000"/>
<rect x="473.2" y="295" width="18.2" height="2" fill="#690000"/>
<rect x="473.2" y="297" width="9.11" height="2" fill="#630000"/>
<rect x="473.2" y="299" width="11.65" height="2" fill="#660000"/>
<rect x="473.2" y="301" width="12.81" height="2" fill="#5f0000"/>
<rect x="473.2" y="303" width="9.2" height="2" fill="#680000"/>
<rect x="473.2" y="305" width="9.14" height="2" fill="#690000"/>
<rect x="473.2" y="307" width="18.2" height="2" fill="#650000"/>
<rect x="473.2" y="309" width="8.96" height="2" fill="#5e0000"/>
<rect x="473.2" y="313" width="18.2" height="2" fill="#610000"/>
<rect x="473.2" y="315" width="18.2" height="2" fill="#5e0000"/>
<rect x="473.2" y="327" width="18.2" height="2" fill="#660000"/>
<rect x="473.2" y="333" width="18.2" height="2" fill="#690000"/>
<rect x="479.28" y="345" width="12.12" height="2" fill="#650000"/>
<rect x="473.2" y="347" width="18.2" height="2" fill="#630000"/>
<rect x="473.2" y="353" width="12.02" height="2" fill="#690000"/>
<rect x="473.2" y="355" width="18.2" height="2" fill="#690000"/>
<rect x="473.2" y="361" width="18.2" height="2" fill="#650000"/>
<rect x="473.2" y="363" width="18.2" height="2" fill="#5f0000"/>
<rect x="473.2" y="367" width="13.55" height="2" fill="#670000"/>
<rect x="473.2" y="369" width="18.2" height="2" fill="#670000"/>
<rect x="473.2" y="371" width="18.2" height="2" fill="#5d0000"/>
<rect x="473.2" y="373" width="18.2" height="2" fill="#610000"/>
<rect x="473.2" y="379" width="18.2" height="2" fill="#660000"/>
<rect x="477.53" y="389" width="13.87" height="2" fill="#670000"/>
<rect x="480.24" y="393" width="11.16" height="2" fill="#680000"/>
<rect x="473.2" y="395" width="18.2" height="2" fill="#630000"/>
<rect x="473.2" y="397" width="18.2" height="2" fill="#640000"/>
<rect x="477.62" y="399" width="13.78" height="2" fill="#600000"/>
<rect x="473.2" y="401" width="18.2" height="2" fill="#690000"/>
<rect x="473.2" y="403" width="18.2" height="2" fill="#680000"/>
<rect x="481.5" y="405" width="9.9" height="2" fill="#680000"/>
<rect x="481.43" y="409" width="9.97" height="2" fill="#600000"/>
<rect x="473.2" y="411" width="18.2" height="2" fill="#650000"/>
<rect x="473.2" y="413" width="18.2" height="2" fill="#660000"/>
<rect x="473.2" y="415" width="8.15" height="2" fill="#640000"/>
<rect x="473.2" y="417" width="18.2" height="2" fill="#5e0000"/>
<rect x="483.6" y="419" width="7.8" height="2" fill="#640000"/>
<rect x="483.55" y="423" width="7.85" height="2" fill="#670000"/>
<rect x="482.61" y="427" width="8.79" height="2" fill="#630000"/>
<rect x="473.2" y="431" width="8.24" height="2" fill="#690000"/>
<rect x="483.77" y="437" width="7.63" height="2" fill="#630000"/>
<rect x="473.2" y="439" width="18.2" height="2" fill="#640000"/>
<rect x="473.2" y="441" width="14.49" height="2" fill="#610000"/>
<rect x="473.2" y="443" width="18.2" height="2" fill="#620000"/>
<rect x="787.6" y="41" width="7.9" height="2" fill="#670000"/>
<rect x="787.6" y="45" width="7.9" height="2" fill="#620000"/>
<rect x="787.6" y="47" width="4.08" height="2" fill="#6c0000"/>
<rect x="787.6" y="49" width="7.9" height="2" fill="#6b0000"/>
<rect x="787.6" y="53" width="7.9" height="2" fill="#6a0000"/>
<rect x="787.6" y="55" width="7.9" height="2" fill="#5e0000"/>
<rect x="787.6" y="59" width="7.9" height="2" fill="#6a0000"/>
<rect x="787.6" y="61" width="7.9" height="2" fill="#5f0000"/>
<rect x="787.6" y="63" width="7.9" height="2" fill="#600000"/>
<rect x="787.6" y="67" width="7.9" height="2" fill="#670000"/>
<rect x="791.55" y="75" width="3.95" height="2" fill="#640000"/>
<rect x="787.6" y="77" width="7.9" height="2" fill="#6a0000"/>
<rect x="787.6" y="81" width="7.9" height="2" fill="#6b0000"/>
<rect x="787.6" y="83" width="7.9" height="2" fill="#660000"/>
<rect x="787.6" y="85" width="7.9" height="2" fill="#600000"/>
<rect x="787.6" y="87" width="7.9" height="2" fill="#640000"/>
<rect x="787.6" y="89" width="7.9" height="2" fill="#690000"/>
<rect x="787.6" y="91" width="7.9" height="2" fill="#610000"/>
<rect x="789.78" y="93" width="5.72" height="2" fill="#660000"/>
<rect x="787.6" y="95" width="7.9" height="2" fill="#690000"/>
<rect x="787.6" y="97" width="4.62" height="2" fill="#670000"/>
<rect x="787.6" y="99" width="7.9" height="2" fill="#620000"/>
<rect x="787.6" y="103" width="7.9" height="2" fill="#5f0000"/>
<rect x="787.6" y="105" width="7.9" height="2" fill="#670000"/>
<rect x="791.9" y="107" width="3.6" height="2" fill="#6b0000"/>
<rect x="787.6" y="109" width="4.69" height="2" fill="#5e0000"/>
<rect x="787.6" y="117" width="7.9" height="2" fill="#630000"/>
<rect x="787.6" y="119" width="7.9" height="2" fill="#680000"/>
<rect x="787.6" y="121" width="7.9" height="2" fill="#690000"/>
<rect x="791.34" y="123" width="4.16" height="2" fill="#6a0000"/>
<rect x="789.99" y="125" width="5.51" height="2" fill="#620000"/>
<rect x="787.6" y="127" width="7.9" height="2" fill="#650000"/>
<rect x="787.6" y="129" width="6.19" height="2" fill="#670000"/>
<rect x="789.3" y="131" width="6.2" height="2" fill="#5f0000"/>
<rect x="787.6" y="135" width="4.71" height="2" fill="#690000"/>
<rect x="792.21" y="137" width="3.29" height="2" fill="#6c0000"/>
<rect x="787.6" y="143" width="7.9" height="2" fill="#6d0000"/>
<rect x="787.6" y="145" width="3.31" height="2" fill="#660000"/>
<rect x="787.6" y="149" width="7.9" height="2" fill="#5f0000"/>
<rect x="787.6" y="153" width="7.9" height="2" fill="#6b0000"/>
<rect x="787.6" y="155" width="7.9" height="2" fill="#620000"/>
<rect x="787.6" y="159" width="7.9" height="2" fill="#610000"/>
<rect x="789.29" y="163" width="6.21" height="2" fill="#610000"/>
<rect x="790.2" y="165" width="5.3" height="2" fill="#5f0000"/>
<rect x="787.6" y="167" width="3.24" height="2" fill="#600000"/>
<rect x="787.6" y="169" width="7.9" height="2" fill="#670000"/>
<rect x="787.6" y="175" width="7.9" height="2" fill="#6b0000"/>
<rect x="787.6" y="179" width="3.4" height="2" fill="#670000"/>
<rect x="790.25" y="181" width="5.25" height="2" fill="#6d0000"/>
<rect x="789.58" y="183" width="5.92" height="2" fill="#660000"/>
<rect x="787.6" y="187" width="7.9" height="2" fill="#650000"/>
<rect x="792.14" y="189" width="3.36" height="2" fill="#650000"/>
<rect x="787.6" y="191" width="4.07" height="2" fill="#680000"/>
<rect x="787.6" y="193" width="3.91" height="2" fill="#600000"/>
<rect x="787.6" y="199" width="7.9" height="2" fill="#6c0000"/>
<rect x="787.6" y="203" width="7.9" height="2" fill="#6b0000"/>
<rect x="789.23" y="205" width="6.27" height="2" fill="#660000"/>
<rect x="787.6" y="207" width="4.42" height="2" fill="#6b0000"/>
<rect x="787.6" y="209" width="7.9" height="2" fill="#6b0000"/>
<rect x="792.16" y="211" width="3.34" height="2" fill="#670000"/>
<rect x="787.6" y="213" width="7.9" height="2" fill="#6b0000"/>
<rect x="791.32" y="215" width="4.18" height="2" fill="#6d0000"/>
<rect x="787.6" y="217" width="7.9" height="2" fill="#5f0000"/>
<rect x="787.6" y="221" width="7.9" height="2" fill="#680000"/>
<rect x="787.6" y="223" width="4.3" height="2" fill="#6d0000"/>
<rect x="787.6" y="225" width="7.9" height="2" fill="#620000"/>
<rect x="787.6" y="227" width="6.26" height="2" fill="#640000"/>
<rect x="787.6" y="231" width="4.2" height="2" fill="#5f0000"/>
<rect x="791.16" y="233" width="4.34" height="2" fill="#640000"/>
<rect x="787.6" y="237" width="4.67" height="2" fill="#6c0000"/>
<rect x="789.77" y="239" width="5.73" height="2" fill="#5f0000"/>
<rect x="787.6" y="241" width="7.9" height="2" fill="#5f0000"/>
<rect x="787.6" y="243" width="7.9" height="2" fill="#650000"/>
<rect x="787.6" y="245" width="7.9" height="2" fill="#6b0000"/>
<rect x="789.29" y="247" width="6.21" height="2" fill="#5d0000"/>
<rect x="787.6" y="249" width="4.68" height="2" fill="#5d0000"/>
<rect x="787.6" y="251" width="7.9" height="2" fill="#620000"/>
<rect x="787.6" y="255" width="7.9" height="2" fill="#660000"/>
<rect x="789.64" y="257" width="5.86" height="2" fill="#610000"/>
<rect x="787.6" y="259" width="7.9" height="2" fill="#630000"/>
<rect x="787.6" y="261" width="4.87" height="2" fill="#5e0000"/>
<rect x="787.6" y="269" width="4.47" height="2" fill="#6a0000"/>
<rect x="787.6" y="271" width="7.9" height="2" fill="#610000"/>
<rect x="791.65" y="273" width="3.85" height="2" fill="#6a0000"/>
<rect x="787.6" y="275" width="3.53" height="2" fill="#5d0000"/>
<rect x="787.6" y="279" width="4.23" height="2" fill="#650000"/>
<rect x="787.6" y="281" width="7.9" height="2" fill="#600000"/>
<rect x="787.6" y="283" width="5.27" height="2" fill="#5f0000"/>
<rect x="787.6" y="289" width="7.9" height="2" fill="#6a0000"/>
<rect x="790.8" y="291" width="4.7" height="2" fill="#600000"/>
<rect x="787.6" y="295" width="7.9" height="2" fill="#610000"/>
<rect x="791.45" y="299" width="4.05" height="2" fill="#5f0000"/>
<rect x="787.6" y="301" width="7.9" height="2" fill="#670000"/>
<rect x="790.56" y="303" width="4.94" height="2" fill="#5f0000"/>
<rect x="787.6" y="309" width="7.9" height="2" fill="#5d0000"/>
<rect x="787.6" y="311" width="7.9" height="2" fill="#620000"/>
<rect x="787.6" y="313" width="7.9" height="2" fill="#630000"/>
<rect x="787.6" y="315" width="7.9" height="2" fill="#5e0000"/>
<rect x="790.23" y="317" width="5.27" height="2" fill="#5f0000"/>
<rect x="787.6" y="319" width="7.9" height="2" fill="#680000"/>
<rect x="787.6" y="323" width="7.9" height="2" fill="#6d0000"/>
<rect x="787.6" y="325" width="7.9" height="2" fill="#640000"/>
<rect x="787.6" y="327" width="7.9" height="2" fill="#670000"/>
<rect x="787.6" y="329" width="7.9" height="2" fill="#660000"/>
<rect x="787.6" y="339" width="7.9" height="2" fill="#6c0000"/>
<rect x="791.96" y="341" width="3.54" height="2" fill="#6d0000"/>
<rect x="789.56" y="347" width="5.94" height="2" fill="#620000"/>
<rect x="787.6" y="349" width="7.9" height="2" fill="#600000"/>
<rect x="787.6" y="351" width="7.9" height="2" fill="#6b0000"/>
<rect x="787.6" y="353" width="7.9" height="2" fill="#600000"/>
<rect x="787.6" y="355" width="7.9" height="2" fill="#650000"/>
<rect x="787.6" y="357" width="7.9" height="2" fill="#610000"/>
<rect x="787.6" y="359" width="7.9" height="2" fill="#6b0000"/>
<rect x="791.86" y="361" width="3.64" height="2" fill="#690000"/>
<rect x="787.6" y="363" width="7.9" height="2" fill="#630000"/>
<rect x="787.6" y="365" width="7.9" height="2" fill="#5e0000"/>
<rect x="790.48" y="367" width="5.02" height="2" fill="#660000"/>
<rect x="787.6" y="369" width="7.9" height="2" fill="#680000"/>
<rect x="787.6" y="371" width="7.9" height="2" fill="#610000"/>
<rect x="787.6" y="373" width="7.9" height="2" fill="#660000"/>
<rect x="787.6" y="377" width="7.9" height="2" fill="#5e0000"/>
<rect x="787.6" y="379" width="7.9" height="2" fill="#670000"/>
<rect x="789.53" y="383" width="5.97" height="2" fill="#6c0000"/>
<rect x="787.6" y="385" width="7.9" height="2" fill="#5d0000"/>
<rect x="787.6" y="389" width="4.11" height="2" fill="#670000"/>
<rect x="787.6" y="395" width="7.9" height="2" fill="#5f0000"/>
<rect x="787.6" y="399" width="7.9" height="2" fill="#630000"/>
<rect x="787.6" y="401" width="5.01" height="2" fill="#5e0000"/>
<rect x="787.6" y="409" width="7.9" height="2" fill="#6d0000"/>
<rect x="787.6" y="413" width="7.9" height="2" fill="#680000"/>
<rect x="792.14" y="415" width="3.36" height="2" fill="#670000"/>
<rect x="791.93" y="417" width="3.57" height="2" fill="#640000"/>
<rect x="787.6" y="421" width="4.1" height="2" fill="#650000"/>
<rect x="790.77" y="423" width="4.73" height="2" fill="#6a0000"/>
<rect x="787.6" y="427" width="5.95" height="2" fill="#670000"/>
<rect x="790.68" y="429" width="4.82" height="2" fill="#6c0000"/>
<rect x="787.6" y="433" width="7.9" height="2" fill="#5d0000"/>
<rect x="787.6" y="435" width="7.9" height="2" fill="#5e0000"/>
<rect x="787.6" y="439" width="7.9" height="2" fill="#610000"/>
<rect x="787.6" y="441" width="7.9" height="2" fill="#6d0000"/>
<g style="mix-blend-mode:lighten">
<rect x="86.5" y="276.6" width="1221.5" height="2.2" fill="#530000"/>
<rect x="146" y="276.7" width="7" height="2" fill="#5d0000"/>
<rect x="174" y="276.7" width="4" height="2" fill="#5b0000"/>
<rect x="245" y="276.7" width="45" height="2" fill="#5b0000"/>
<rect x="1053" y="276.7" width="51" height="2" fill="#5d0000"/>
<rect x="1083" y="276.7" width="10" height="2" fill="#710000"/>
<rect x="1129" y="276.7" width="50" height="2" fill="#5b0000"/>
<rect x="1207" y="276.7" width="54" height="2" fill="#5d0000"/>
<rect x="1239" y="276.7" width="22" height="2" fill="#6e0000"/>
<rect x="107" y="268.8" width="88" height="2" fill="#380000"/>
<rect x="915" y="268.8" width="393" height="2" fill="#470000"/>
<rect x="1069" y="268.8" width="16" height="2" fill="#580000"/>
<rect x="1204" y="268.8" width="41" height="2" fill="#510000"/>
<rect x="97.6" y="323.8" width="1210.4" height="2" fill="#420000"/>
<rect x="176" y="323.8" width="4" height="2" fill="#510000"/>
<rect x="1050" y="323.8" width="258" height="2" fill="#4b0000"/>
<rect x="1085" y="323.8" width="9" height="2" fill="#5d0000"/>
<rect x="1236" y="323.8" width="25" height="2" fill="#5d0000"/>
<rect x="700" y="379.4" width="608" height="2" fill="#460000"/>
<rect x="94.5" y="432" width="1213.5" height="2" fill="#480000"/>
<rect x="994" y="432" width="314" height="2" fill="#4e0000"/>
<rect x="178" y="432" width="4" height="2" fill="#5b0000"/>
<rect x="280" y="432" width="10" height="2" fill="#5d0000"/>
<rect x="1069" y="432" width="32" height="2" fill="#5f0000"/>
<rect x="1233" y="432" width="25" height="2" fill="#5f0000"/>
<rect x="160" y="437.6" width="26" height="2" fill="#4c0000"/>
<rect x="868" y="437.6" width="440" height="2" fill="#400000"/>
<rect x="1121" y="115.4" width="187" height="2.5" fill="#4b0000"/>
<rect x="1130" y="70" width="178" height="2" fill="#380000"/>
<rect x="1130" y="82" width="178" height="2" fill="#380000"/>
<rect x="980" y="159" width="70" height="2" fill="#3d0000"/>
<rect x="1151" y="387" width="52" height="2" fill="#3b0000"/>
<rect x="1085" y="256.5" width="65" height="2" fill="#380000"/>
<rect x="120" y="43" width="80" height="2" fill="#2d0000"/>
<rect x="110" y="57" width="90" height="2" fill="#2d0000"/>
<rect x="115" y="71" width="80" height="2" fill="#2d0000"/>
<rect x="125" y="99" width="75" height="2" fill="#2d0000"/>
<rect x="115" y="153" width="85" height="2" fill="#2d0000"/>
<rect x="120" y="188" width="80" height="2" fill="#2d0000"/>
<rect x="125" y="226" width="75" height="2" fill="#2d0000"/>
<rect x="105" y="291" width="95" height="2" fill="#2d0000"/>
<rect x="110" y="303" width="85" height="2" fill="#2d0000"/>
<rect x="105" y="314" width="95" height="2" fill="#2d0000"/>
<rect x="110" y="331" width="85" height="2" fill="#2d0000"/>
<rect x="120" y="352" width="80" height="2" fill="#2d0000"/>
<rect x="110" y="379" width="90" height="2" fill="#2d0000"/>
<rect x="125" y="404" width="70" height="2" fill="#2d0000"/>
<line x1="1129" y1="45" x2="1073" y2="127" stroke-width="1.6" stroke="#450000"/>
<line x1="1067" y1="37" x2="1051" y2="67" stroke-width="1.4" stroke="#420000"/>
</g>
<rect x="167.65" y="35" width="1.3" height="408" fill="#530000"/>
<rect x="202.25" y="35" width="1.5" height="408" fill="#590000"/>
<rect x="216.85" y="35" width="1.3" height="408" fill="#590000"/>
<rect x="241.1" y="35" width="2.8" height="61" fill="#7f0000"/>
<rect x="241.1" y="98" width="2.8" height="85" fill="#7f0000"/>
<rect x="241.1" y="185" width="2.8" height="79" fill="#7f0000"/>
<rect x="241.1" y="268" width="2.8" height="2" fill="#7f0000"/>
<rect x="241.1" y="272" width="2.8" height="86" fill="#7f0000"/>
<rect x="241.1" y="360" width="2.8" height="83" fill="#7f0000"/>
<rect x="290.25" y="35" width="2.5" height="408" fill="#7f0000"/>
<rect x="309.5" y="35" width="2" height="2" fill="#7d0000"/>
<rect x="309.5" y="47" width="2" height="2" fill="#7d0000"/>
<rect x="309.5" y="65" width="2" height="6" fill="#7d0000"/>
<rect x="309.5" y="85" width="2" height="2" fill="#7d0000"/>
<rect x="309.5" y="91" width="2" height="2" fill="#7d0000"/>
<rect x="309.5" y="101" width="2" height="4" fill="#7d0000"/>
<rect x="309.5" y="113" width="2" height="8" fill="#7d0000"/>
<rect x="309.5" y="131" width="2" height="4" fill="#7d0000"/>
<rect x="309.5" y="139" width="2" height="10" fill="#7d0000"/>
<rect x="309.5" y="153" width="2" height="8" fill="#7d0000"/>
<rect x="309.5" y="177" width="2" height="16" fill="#7d0000"/>
<rect x="309.5" y="195" width="2" height="4" fill="#7d0000"/>
<rect x="309.5" y="203" width="2" height="2" fill="#7d0000"/>
<rect x="309.5" y="207" width="2" height="6" fill="#7d0000"/>
<rect x="309.5" y="219" width="2" height="6" fill="#7d0000"/>
<rect x="309.5" y="231" width="2" height="10" fill="#7d0000"/>
<rect x="309.5" y="243" width="2" height="6" fill="#7d0000"/>
<rect x="309.5" y="251" width="2" height="4" fill="#7d0000"/>
<rect x="309.5" y="259" width="2" height="14" fill="#7d0000"/>
<rect x="309.5" y="275" width="2" height="2" fill="#7d0000"/>
<rect x="309.5" y="281" width="2" height="16" fill="#7d0000"/>
<rect x="309.5" y="303" width="2" height="4" fill="#7d0000"/>
<rect x="309.5" y="311" width="2" height="8" fill="#7d0000"/>
<rect x="309.5" y="327" width="2" height="8" fill="#7d0000"/>
<rect x="309.5" y="347" width="2" height="2" fill="#7d0000"/>
<rect x="309.5" y="351" width="2" height="2" fill="#7d0000"/>
<rect x="309.5" y="355" width="2" height="2" fill="#7d0000"/>
<rect x="309.5" y="359" width="2" height="8" fill="#7d0000"/>
<rect x="309.5" y="377" width="2" height="10" fill="#7d0000"/>
<rect x="309.5" y="397" width="2" height="4" fill="#7d0000"/>
<rect x="309.5" y="403" width="2" height="2" fill="#7d0000"/>
<rect x="309.5" y="407" width="2" height="8" fill="#7d0000"/>
<rect x="309.5" y="421" width="2" height="8" fill="#7d0000"/>
<rect x="309.5" y="431" width="2" height="12" fill="#7d0000"/>
<rect x="321.75" y="35" width="1.5" height="14" fill="#750000"/>
<rect x="321.75" y="55" width="1.5" height="8" fill="#750000"/>
<rect x="321.75" y="69" width="1.5" height="18" fill="#750000"/>
<rect x="321.75" y="89" width="1.5" height="12" fill="#750000"/>
<rect x="321.75" y="103" width="1.5" height="4" fill="#750000"/>
<rect x="321.75" y="109" width="1.5" height="18" fill="#750000"/>
<rect x="321.75" y="131" width="1.5" height="2" fill="#750000"/>
<rect x="321.75" y="139" width="1.5" height="2" fill="#750000"/>
<rect x="321.75" y="145" width="1.5" height="2" fill="#750000"/>
<rect x="321.75" y="155" width="1.5" height="6" fill="#750000"/>
<rect x="321.75" y="163" width="1.5" height="2" fill="#750000"/>
<rect x="321.75" y="169" width="1.5" height="10" fill="#750000"/>
<rect x="321.75" y="191" width="1.5" height="24" fill="#750000"/>
<rect x="321.75" y="217" width="1.5" height="2" fill="#750000"/>
<rect x="321.75" y="221" width="1.5" height="4" fill="#750000"/>
<rect x="321.75" y="227" width="1.5" height="6" fill="#750000"/>
<rect x="321.75" y="235" width="1.5" height="2" fill="#750000"/>
<rect x="321.75" y="241" width="1.5" height="14" fill="#750000"/>
<rect x="321.75" y="257" width="1.5" height="4" fill="#750000"/>
<rect x="321.75" y="263" width="1.5" height="2" fill="#750000"/>
<rect x="321.75" y="269" width="1.5" height="2" fill="#750000"/>
<rect x="321.75" y="273" width="1.5" height="8" fill="#750000"/>
<rect x="321.75" y="283" width="1.5" height="14" fill="#750000"/>
<rect x="321.75" y="301" width="1.5" height="24" fill="#750000"/>
<rect x="321.75" y="327" width="1.5" height="18" fill="#750000"/>
<rect x="321.75" y="347" width="1.5" height="24" fill="#750000"/>
<rect x="321.75" y="373" width="1.5" height="12" fill="#750000"/>
<rect x="321.75" y="387" width="1.5" height="4" fill="#750000"/>
<rect x="321.75" y="397" width="1.5" height="14" fill="#750000"/>
<rect x="321.75" y="417" width="1.5" height="2" fill="#750000"/>
<rect x="321.75" y="421" width="1.5" height="6" fill="#750000"/>
<rect x="321.75" y="429" width="1.5" height="14" fill="#750000"/>
<rect x="323.85" y="35" width="1.3" height="2" fill="#750000"/>
<rect x="323.85" y="39" width="1.3" height="18" fill="#750000"/>
<rect x="323.85" y="77" width="1.3" height="2" fill="#750000"/>
<rect x="323.85" y="81" width="1.3" height="6" fill="#750000"/>
<rect x="323.85" y="91" width="1.3" height="16" fill="#750000"/>
<rect x="323.85" y="113" width="1.3" height="4" fill="#750000"/>
<rect x="323.85" y="119" width="1.3" height="4" fill="#750000"/>
<rect x="323.85" y="125" width="1.3" height="6" fill="#750000"/>
<rect x="323.85" y="141" width="1.3" height="14" fill="#750000"/>
<rect x="323.85" y="157" width="1.3" height="2" fill="#750000"/>
<rect x="323.85" y="161" width="1.3" height="2" fill="#750000"/>
<rect x="323.85" y="169" width="1.3" height="12" fill="#750000"/>
<rect x="323.85" y="183" width="1.3" height="16" fill="#750000"/>
<rect x="323.85" y="201" width="1.3" height="18" fill="#750000"/>
<rect x="323.85" y="221" width="1.3" height="2" fill="#750000"/>
<rect x="323.85" y="225" width="1.3" height="12" fill="#750000"/>
<rect x="323.85" y="245" width="1.3" height="4" fill="#750000"/>
<rect x="323.85" y="251" width="1.3" height="8" fill="#750000"/>
<rect x="323.85" y="261" width="1.3" height="2" fill="#750000"/>
<rect x="323.85" y="265" width="1.3" height="2" fill="#750000"/>
<rect x="323.85" y="275" width="1.3" height="4" fill="#750000"/>
<rect x="323.85" y="287" width="1.3" height="14" fill="#750000"/>
<rect x="323.85" y="303" width="1.3" height="18" fill="#750000"/>
<rect x="323.85" y="329" width="1.3" height="8" fill="#750000"/>
<rect x="323.85" y="349" width="1.3" height="2" fill="#750000"/>
<rect x="323.85" y="361" width="1.3" height="2" fill="#750000"/>
<rect x="323.85" y="373" width="1.3" height="2" fill="#750000"/>
<rect x="323.85" y="387" width="1.3" height="8" fill="#750000"/>
<rect x="323.85" y="399" width="1.3" height="4" fill="#750000"/>
<rect x="323.85" y="409" width="1.3" height="2" fill="#750000"/>
<rect x="323.85" y="413" width="1.3" height="4" fill="#750000"/>
<rect x="323.85" y="419" width="1.3" height="2" fill="#750000"/>
<rect x="323.85" y="423" width="1.3" height="4" fill="#750000"/>
<rect x="323.85" y="433" width="1.3" height="6" fill="#750000"/>
<rect x="323.85" y="441" width="1.3" height="2" fill="#750000"/>
<rect x="341.85" y="35" width="1.3" height="408" fill="#7a0000"/>
<rect x="355.85" y="35" width="1.3" height="408" fill="#7d0000"/>
<rect x="366.85" y="35" width="1.3" height="408" fill="#7a0000"/>
<rect x="374" y="35" width="2" height="408" fill="#7d0000"/>
<rect x="377.7" y="35" width="3.6" height="408" fill="#820000"/>
<rect x="378.5" y="35" width="2" height="408" fill="#900000"/>
<rect x="383" y="35" width="2" height="408" fill="#7f0000"/>
<rect x="388" y="35" width="2" height="408" fill="#730000"/>
<rect x="395" y="35" width="1" height="408" fill="#620000"/>
<rect x="408" y="35" width="2" height="408" fill="#7f0000"/>
<rect x="426.5" y="35" width="2" height="408" fill="#730000"/>
<rect x="430" y="35" width="1" height="408" fill="#7a0000"/>
<rect x="432" y="35" width="3" height="408" fill="#870000"/>
<rect x="450.55" y="35" width="1.5" height="408" fill="#8b0000"/>
<rect x="458.55" y="35" width="1.5" height="408" fill="#870000"/>
<rect x="471" y="35" width="2" height="408" fill="#7f0000"/>
<rect x="491.55" y="35" width="1.5" height="408" fill="#980000"/>
<rect x="500.25" y="35" width="2.5" height="10" fill="#7d0000"/>
<rect x="500.25" y="49" width="2.5" height="2" fill="#7d0000"/>
<rect x="500.25" y="59" width="2.5" height="16" fill="#7d0000"/>
<rect x="500.25" y="81" width="2.5" height="2" fill="#7d0000"/>
<rect x="500.25" y="85" width="2.5" height="12" fill="#7d0000"/>
<rect x="500.25" y="109" width="2.5" height="2" fill="#7d0000"/>
<rect x="500.25" y="119" width="2.5" height="16" fill="#7d0000"/>
<rect x="500.25" y="139" width="2.5" height="2" fill="#7d0000"/>
<rect x="500.25" y="143" width="2.5" height="4" fill="#7d0000"/>
<rect x="500.25" y="163" width="2.5" height="2" fill="#7d0000"/>
<rect x="500.25" y="183" width="2.5" height="2" fill="#7d0000"/>
<rect x="500.25" y="189" width="2.5" height="8" fill="#7d0000"/>
<rect x="500.25" y="199" width="2.5" height="1" fill="#7d0000"/>
<rect x="508.4" y="35" width="1.6" height="10" fill="#7a0000"/>
<rect x="508.4" y="47" width="1.6" height="2" fill="#7a0000"/>
<rect x="508.4" y="51" width="1.6" height="26" fill="#7a0000"/>
<rect x="508.4" y="83" width="1.6" height="2" fill="#7a0000"/>
<rect x="508.4" y="87" width="1.6" height="24" fill="#7a0000"/>
<rect x="508.4" y="113" width="1.6" height="8" fill="#7a0000"/>
<rect x="508.4" y="127" width="1.6" height="4" fill="#7a0000"/>
<rect x="508.4" y="139" width="1.6" height="14" fill="#7a0000"/>
<rect x="508.4" y="159" width="1.6" height="14" fill="#7a0000"/>
<rect x="508.4" y="175" width="1.6" height="12" fill="#7a0000"/>
<rect x="508.4" y="189" width="1.6" height="10" fill="#7a0000"/>
<rect x="508.4" y="201" width="1.6" height="4" fill="#7a0000"/>
<rect x="508.4" y="207" width="1.6" height="12" fill="#7a0000"/>
<rect x="508.4" y="221" width="1.6" height="10" fill="#7a0000"/>
<rect x="508.4" y="233" width="1.6" height="4" fill="#7a0000"/>
<rect x="508.4" y="239" width="1.6" height="4" fill="#7a0000"/>
<rect x="508.4" y="249" width="1.6" height="4" fill="#7a0000"/>
<rect x="508.4" y="255" width="1.6" height="30" fill="#7a0000"/>
<rect x="508.4" y="287" width="1.6" height="2" fill="#7a0000"/>
<rect x="508.4" y="291" width="1.6" height="12" fill="#7a0000"/>
<rect x="508.4" y="305" width="1.6" height="12" fill="#7a0000"/>
<rect x="508.4" y="319" width="1.6" height="2" fill="#7a0000"/>
<rect x="508.4" y="323" width="1.6" height="14" fill="#7a0000"/>
<rect x="508.4" y="339" width="1.6" height="6" fill="#7a0000"/>
<rect x="508.4" y="349" width="1.6" height="2" fill="#7a0000"/>
<rect x="508.4" y="353" width="1.6" height="24" fill="#7a0000"/>
<rect x="508.4" y="379" width="1.6" height="2" fill="#7a0000"/>
<rect x="508.4" y="383" width="1.6" height="6" fill="#7a0000"/>
<rect x="508.4" y="391" width="1.6" height="20" fill="#7a0000"/>
<rect x="508.4" y="413" width="1.6" height="2" fill="#7a0000"/>
<rect x="508.4" y="417" width="1.6" height="14" fill="#7a0000"/>
<rect x="508.4" y="433" width="1.6" height="10" fill="#7a0000"/>
<rect x="512.5" y="35" width="2" height="408" fill="#7d0000"/>
<rect x="515.25" y="35" width="1.5" height="408" fill="#6c0000"/>
<rect x="530.75" y="35" width="1.5" height="408" fill="#7f0000"/>
<rect x="532.75" y="35" width="1.5" height="408" fill="#9a0000"/>
<rect x="563" y="35" width="2" height="4" fill="#750000"/>
<rect x="563" y="47" width="2" height="4" fill="#750000"/>
<rect x="563" y="55" width="2" height="16" fill="#750000"/>
<rect x="563" y="75" width="2" height="2" fill="#750000"/>
<rect x="563" y="83" width="2" height="4" fill="#750000"/>
<rect x="563" y="89" width="2" height="18" fill="#750000"/>
<rect x="563" y="109" width="2" height="2" fill="#750000"/>
<rect x="563" y="113" width="2" height="6" fill="#750000"/>
<rect x="563" y="121" width="2" height="2" fill="#750000"/>
<rect x="563" y="125" width="2" height="2" fill="#750000"/>
<rect x="563" y="129" width="2" height="6" fill="#750000"/>
<rect x="563" y="139" width="2" height="16" fill="#750000"/>
<rect x="563" y="163" width="2" height="20" fill="#750000"/>
<rect x="563" y="185" width="2" height="10" fill="#750000"/>
<rect x="563" y="199" width="2" height="2" fill="#750000"/>
<rect x="563" y="203" width="2" height="22" fill="#750000"/>
<rect x="563" y="229" width="2" height="2" fill="#750000"/>
<rect x="563" y="233" width="2" height="12" fill="#750000"/>
<rect x="563" y="247" width="2" height="8" fill="#750000"/>
<rect x="563" y="257" width="2" height="2" fill="#750000"/>
<rect x="563" y="261" width="2" height="2" fill="#750000"/>
<rect x="563" y="265" width="2" height="6" fill="#750000"/>
<rect x="563" y="275" width="2" height="12" fill="#750000"/>
<rect x="563" y="289" width="2" height="4" fill="#750000"/>
<rect x="563" y="301" width="2" height="24" fill="#750000"/>
<rect x="563" y="327" width="2" height="6" fill="#750000"/>
<rect x="563" y="335" width="2" height="4" fill="#750000"/>
<rect x="563" y="343" width="2" height="6" fill="#750000"/>
<rect x="563" y="361" width="2" height="8" fill="#750000"/>
<rect x="563" y="371" width="2" height="2" fill="#750000"/>
<rect x="563" y="375" width="2" height="14" fill="#750000"/>
<rect x="563" y="393" width="2" height="2" fill="#750000"/>
<rect x="563" y="397" width="2" height="6" fill="#750000"/>
<rect x="563" y="407" width="2" height="2" fill="#750000"/>
<rect x="563" y="411" width="2" height="4" fill="#750000"/>
<rect x="563" y="417" width="2" height="2" fill="#750000"/>
<rect x="563" y="421" width="2" height="2" fill="#750000"/>
<rect x="563" y="425" width="2" height="6" fill="#750000"/>
<rect x="572.5" y="49" width="2" height="2" fill="#750000"/>
<rect x="572.5" y="53" width="2" height="2" fill="#750000"/>
<rect x="572.5" y="57" width="2" height="4" fill="#750000"/>
<rect x="572.5" y="63" width="2" height="6" fill="#750000"/>
<rect x="572.5" y="73" width="2" height="14" fill="#750000"/>
<rect x="572.5" y="89" width="2" height="2" fill="#750000"/>
<rect x="572.5" y="101" width="2" height="14" fill="#750000"/>
<rect x="572.5" y="125" width="2" height="4" fill="#750000"/>
<rect x="572.5" y="131" width="2" height="4" fill="#750000"/>
<rect x="572.5" y="145" width="2" height="2" fill="#750000"/>
<rect x="572.5" y="149" width="2" height="6" fill="#750000"/>
<rect x="572.5" y="159" width="2" height="2" fill="#750000"/>
<rect x="572.5" y="167" width="2" height="12" fill="#750000"/>
<rect x="572.5" y="181" width="2" height="6" fill="#750000"/>
<rect x="572.5" y="189" width="2" height="10" fill="#750000"/>
<rect x="572.5" y="201" width="2" height="6" fill="#750000"/>
<rect x="572.5" y="221" width="2" height="2" fill="#750000"/>
<rect x="572.5" y="225" width="2" height="12" fill="#750000"/>
<rect x="572.5" y="241" width="2" height="16" fill="#750000"/>
<rect x="572.5" y="261" width="2" height="14" fill="#750000"/>
<rect x="572.5" y="277" width="2" height="10" fill="#750000"/>
<rect x="572.5" y="293" width="2" height="4" fill="#750000"/>
<rect x="572.5" y="299" width="2" height="2" fill="#750000"/>
<rect x="572.5" y="309" width="2" height="4" fill="#750000"/>
<rect x="572.5" y="315" width="2" height="12" fill="#750000"/>
<rect x="572.5" y="329" width="2" height="2" fill="#750000"/>
<rect x="572.5" y="335" width="2" height="4" fill="#750000"/>
<rect x="572.5" y="345" width="2" height="10" fill="#750000"/>
<rect x="572.5" y="357" width="2" height="12" fill="#750000"/>
<rect x="572.5" y="371" width="2" height="2" fill="#750000"/>
<rect x="572.5" y="375" width="2" height="4" fill="#750000"/>
<rect x="572.5" y="381" width="2" height="4" fill="#750000"/>
<rect x="572.5" y="389" width="2" height="10" fill="#750000"/>
<rect x="572.5" y="405" width="2" height="2" fill="#750000"/>
<rect x="572.5" y="409" width="2" height="16" fill="#750000"/>
<rect x="572.5" y="431" width="2" height="12" fill="#750000"/>
<rect x="580.85" y="37" width="1.3" height="6" fill="#7d0000"/>
<rect x="580.85" y="53" width="1.3" height="2" fill="#7d0000"/>
<rect x="580.85" y="57" width="1.3" height="6" fill="#7d0000"/>
<rect x="580.85" y="65" width="1.3" height="2" fill="#7d0000"/>
<rect x="580.85" y="69" width="1.3" height="2" fill="#7d0000"/>
<rect x="580.85" y="77" width="1.3" height="4" fill="#7d0000"/>
<rect x="580.85" y="83" width="1.3" height="12" fill="#7d0000"/>
<rect x="580.85" y="97" width="1.3" height="2" fill="#7d0000"/>
<rect x="580.85" y="101" width="1.3" height="2" fill="#7d0000"/>
<rect x="580.85" y="105" width="1.3" height="6" fill="#7d0000"/>
<rect x="580.85" y="117" width="1.3" height="6" fill="#7d0000"/>
<rect x="580.85" y="125" width="1.3" height="8" fill="#7d0000"/>
<rect x="580.85" y="135" width="1.3" height="12" fill="#7d0000"/>
<rect x="580.85" y="149" width="1.3" height="2" fill="#7d0000"/>
<rect x="580.85" y="155" width="1.3" height="2" fill="#7d0000"/>
<rect x="580.85" y="159" width="1.3" height="10" fill="#7d0000"/>
<rect x="580.85" y="171" width="1.3" height="8" fill="#7d0000"/>
<rect x="580.85" y="181" width="1.3" height="6" fill="#7d0000"/>
<rect x="580.85" y="191" width="1.3" height="2" fill="#7d0000"/>
<rect x="580.85" y="195" width="1.3" height="2" fill="#7d0000"/>
<rect x="580.85" y="203" width="1.3" height="2" fill="#7d0000"/>
<rect x="580.85" y="213" width="1.3" height="2" fill="#7d0000"/>
<rect x="580.85" y="217" width="1.3" height="2" fill="#7d0000"/>
<rect x="580.85" y="223" width="1.3" height="2" fill="#7d0000"/>
<rect x="580.85" y="235" width="1.3" height="8" fill="#7d0000"/>
<rect x="580.85" y="247" width="1.3" height="2" fill="#7d0000"/>
<rect x="580.85" y="251" width="1.3" height="2" fill="#7d0000"/>
<rect x="580.85" y="255" width="1.3" height="6" fill="#7d0000"/>
<rect x="580.85" y="269" width="1.3" height="2" fill="#7d0000"/>
<rect x="580.85" y="273" width="1.3" height="2" fill="#7d0000"/>
<rect x="580.85" y="277" width="1.3" height="2" fill="#7d0000"/>
<rect x="580.85" y="281" width="1.3" height="2" fill="#7d0000"/>
<rect x="580.85" y="285" width="1.3" height="2" fill="#7d0000"/>
<rect x="580.85" y="289" width="1.3" height="12" fill="#7d0000"/>
<rect x="580.85" y="307" width="1.3" height="2" fill="#7d0000"/>
<rect x="580.85" y="317" width="1.3" height="4" fill="#7d0000"/>
<rect x="580.85" y="325" width="1.3" height="2" fill="#7d0000"/>
<rect x="580.85" y="329" width="1.3" height="2" fill="#7d0000"/>
<rect x="580.85" y="333" width="1.3" height="8" fill="#7d0000"/>
<rect x="580.85" y="349" width="1.3" height="6" fill="#7d0000"/>
<rect x="580.85" y="363" width="1.3" height="2" fill="#7d0000"/>
<rect x="580.85" y="367" width="1.3" height="6" fill="#7d0000"/>
<rect x="580.85" y="387" width="1.3" height="4" fill="#7d0000"/>
<rect x="580.85" y="401" width="1.3" height="8" fill="#7d0000"/>
<rect x="580.85" y="411" width="1.3" height="2" fill="#7d0000"/>
<rect x="580.85" y="417" width="1.3" height="8" fill="#7d0000"/>
<rect x="580.85" y="427" width="1.3" height="2" fill="#7d0000"/>
<rect x="580.85" y="431" width="1.3" height="8" fill="#7d0000"/>
<rect x="580.85" y="441" width="1.3" height="2" fill="#7d0000"/>
<rect x="597" y="35" width="2" height="408" fill="#620000"/>
<rect x="605.8" y="35" width="3.4" height="408" fill="#820000"/>
<rect x="606.5" y="35" width="1.8" height="408" fill="#950000"/>
<rect x="609.35" y="35" width="1.3" height="408" fill="#670000"/>
<rect x="619.25" y="35" width="1.5" height="12" fill="#820000"/>
<rect x="619.25" y="49" width="1.5" height="2" fill="#820000"/>
<rect x="619.25" y="53" width="1.5" height="6" fill="#820000"/>
<rect x="619.25" y="63" width="1.5" height="14" fill="#820000"/>
<rect x="619.25" y="79" width="1.5" height="16" fill="#820000"/>
<rect x="619.25" y="99" width="1.5" height="2" fill="#820000"/>
<rect x="619.25" y="103" width="1.5" height="6" fill="#820000"/>
<rect x="619.25" y="111" width="1.5" height="6" fill="#820000"/>
<rect x="619.25" y="119" width="1.5" height="10" fill="#820000"/>
<rect x="619.25" y="131" width="1.5" height="12" fill="#820000"/>
<rect x="619.25" y="145" width="1.5" height="2" fill="#820000"/>
<rect x="619.25" y="149" width="1.5" height="12" fill="#820000"/>
<rect x="619.25" y="167" width="1.5" height="16" fill="#820000"/>
<rect x="619.25" y="185" width="1.5" height="16" fill="#820000"/>
<rect x="619.25" y="203" width="1.5" height="12" fill="#820000"/>
<rect x="619.25" y="219" width="1.5" height="2" fill="#820000"/>
<rect x="619.25" y="229" width="1.5" height="4" fill="#820000"/>
<rect x="619.25" y="235" width="1.5" height="4" fill="#820000"/>
<rect x="619.25" y="241" width="1.5" height="2" fill="#820000"/>
<rect x="619.25" y="249" width="1.5" height="4" fill="#820000"/>
<rect x="619.25" y="255" width="1.5" height="16" fill="#820000"/>
<rect x="619.25" y="273" width="1.5" height="2" fill="#820000"/>
<rect x="619.25" y="277" width="1.5" height="8" fill="#820000"/>
<rect x="619.25" y="287" width="1.5" height="4" fill="#820000"/>
<rect x="619.25" y="293" width="1.5" height="2" fill="#820000"/>
<rect x="619.25" y="297" width="1.5" height="18" fill="#820000"/>
<rect x="619.25" y="319" width="1.5" height="18" fill="#820000"/>
<rect x="619.25" y="339" width="1.5" height="2" fill="#820000"/>
<rect x="619.25" y="345" width="1.5" height="10" fill="#820000"/>
<rect x="619.25" y="357" width="1.5" height="4" fill="#820000"/>
<rect x="619.25" y="363" width="1.5" height="4" fill="#820000"/>
<rect x="619.25" y="369" width="1.5" height="8" fill="#820000"/>
<rect x="619.25" y="379" width="1.5" height="2" fill="#820000"/>
<rect x="619.25" y="383" width="1.5" height="2" fill="#820000"/>
<rect x="619.25" y="393" width="1.5" height="18" fill="#820000"/>
<rect x="619.25" y="413" width="1.5" height="4" fill="#820000"/>
<rect x="619.25" y="421" width="1.5" height="16" fill="#820000"/>
<rect x="619.25" y="439" width="1.5" height="4" fill="#820000"/>
<rect x="621.75" y="35" width="1.5" height="408" fill="#670000"/>
<rect x="627.25" y="35" width="2.5" height="2" fill="#820000"/>
<rect x="627.25" y="43" width="2.5" height="6" fill="#820000"/>
<rect x="627.25" y="53" width="2.5" height="2" fill="#820000"/>
<rect x="627.25" y="59" width="2.5" height="10" fill="#820000"/>
<rect x="627.25" y="73" width="2.5" height="4" fill="#820000"/>
<rect x="627.25" y="79" width="2.5" height="4" fill="#820000"/>
<rect x="627.25" y="85" width="2.5" height="10" fill="#820000"/>
<rect x="627.25" y="97" width="2.5" height="2" fill="#820000"/>
<rect x="627.25" y="101" width="2.5" height="2" fill="#820000"/>
<rect x="627.25" y="105" width="2.5" height="12" fill="#820000"/>
<rect x="627.25" y="127" width="2.5" height="2" fill="#820000"/>
<rect x="627.25" y="131" width="2.5" height="8" fill="#820000"/>
<rect x="627.25" y="143" width="2.5" height="2" fill="#820000"/>
<rect x="627.25" y="147" width="2.5" height="14" fill="#820000"/>
<rect x="627.25" y="163" width="2.5" height="14" fill="#820000"/>
<rect x="627.25" y="179" width="2.5" height="10" fill="#820000"/>
<rect x="627.25" y="191" width="2.5" height="2" fill="#820000"/>
<rect x="627.25" y="195" width="2.5" height="4" fill="#820000"/>
<rect x="627.25" y="201" width="2.5" height="4" fill="#820000"/>
<rect x="627.25" y="207" width="2.5" height="8" fill="#820000"/>
<rect x="627.25" y="217" width="2.5" height="2" fill="#820000"/>
<rect x="627.25" y="225" width="2.5" height="6" fill="#820000"/>
<rect x="627.25" y="233" width="2.5" height="2" fill="#820000"/>
<rect x="627.25" y="245" width="2.5" height="4" fill="#820000"/>
<rect x="627.25" y="251" width="2.5" height="2" fill="#820000"/>
<rect x="627.25" y="255" width="2.5" height="6" fill="#820000"/>
<rect x="627.25" y="263" width="2.5" height="6" fill="#820000"/>
<rect x="627.25" y="271" width="2.5" height="10" fill="#820000"/>
<rect x="627.25" y="283" width="2.5" height="4" fill="#820000"/>
<rect x="627.25" y="295" width="2.5" height="2" fill="#820000"/>
<rect x="627.25" y="301" width="2.5" height="2" fill="#820000"/>
<rect x="627.25" y="305" width="2.5" height="2" fill="#820000"/>
<rect x="627.25" y="311" width="2.5" height="14" fill="#820000"/>
<rect x="627.25" y="327" width="2.5" height="6" fill="#820000"/>
<rect x="627.25" y="335" width="2.5" height="4" fill="#820000"/>
<rect x="627.25" y="343" width="2.5" height="2" fill="#820000"/>
<rect x="627.25" y="347" width="2.5" height="6" fill="#820000"/>
<rect x="627.25" y="355" width="2.5" height="6" fill="#820000"/>
<rect x="627.25" y="365" width="2.5" height="6" fill="#820000"/>
<rect x="627.25" y="381" width="2.5" height="2" fill="#820000"/>
<rect x="627.25" y="385" width="2.5" height="12" fill="#820000"/>
<rect x="627.25" y="399" width="2.5" height="10" fill="#820000"/>
<rect x="627.25" y="411" width="2.5" height="2" fill="#820000"/>
<rect x="627.25" y="415" width="2.5" height="8" fill="#820000"/>
<rect x="627.25" y="427" width="2.5" height="2" fill="#820000"/>
<rect x="627.25" y="431" width="2.5" height="2" fill="#820000"/>
<rect x="627.25" y="439" width="2.5" height="2" fill="#820000"/>
<rect x="645.5" y="35" width="3" height="408" fill="#670000"/>
<rect x="652.75" y="35" width="1.5" height="408" fill="#7f0000"/>
<rect x="659" y="35" width="2" height="2" fill="#a60000"/>
<rect x="659" y="49" width="2" height="2" fill="#a60000"/>
<rect x="659" y="53" width="2" height="8" fill="#a60000"/>
<rect x="659" y="63" width="2" height="2" fill="#a60000"/>
<rect x="659" y="67" width="2" height="4" fill="#a60000"/>
<rect x="659" y="73" width="2" height="2" fill="#a60000"/>
<rect x="659" y="85" width="2" height="2" fill="#a60000"/>
<rect x="659" y="91" width="2" height="2" fill="#a60000"/>
<rect x="659" y="95" width="2" height="4" fill="#a60000"/>
<rect x="659" y="105" width="2" height="4" fill="#a60000"/>
<rect x="659" y="111" width="2" height="4" fill="#a60000"/>
<rect x="659" y="119" width="2" height="2" fill="#a60000"/>
<rect x="659" y="123" width="2" height="2" fill="#a60000"/>
<rect x="659" y="127" width="2" height="2" fill="#a60000"/>
<rect x="659" y="131" width="2" height="4" fill="#a60000"/>
<rect x="659" y="143" width="2" height="8" fill="#a60000"/>
<rect x="659" y="157" width="2" height="2" fill="#a60000"/>
<rect x="659" y="161" width="2" height="8" fill="#a60000"/>
<rect x="659" y="177" width="2" height="8" fill="#a60000"/>
<rect x="659" y="191" width="2" height="2" fill="#a60000"/>
<rect x="659" y="197" width="2" height="2" fill="#a60000"/>
<rect x="659" y="201" width="2" height="2" fill="#a60000"/>
<rect x="659" y="213" width="2" height="2" fill="#a60000"/>
<rect x="659" y="217" width="2" height="2" fill="#a60000"/>
<rect x="659" y="225" width="2" height="6" fill="#a60000"/>
<rect x="659" y="233" width="2" height="2" fill="#a60000"/>
<rect x="659" y="243" width="2" height="2" fill="#a60000"/>
<rect x="659" y="247" width="2" height="2" fill="#a60000"/>
<rect x="659" y="251" width="2" height="2" fill="#a60000"/>
<rect x="659" y="255" width="2" height="2" fill="#a60000"/>
<rect x="659" y="261" width="2" height="2" fill="#a60000"/>
<rect x="659" y="265" width="2" height="6" fill="#a60000"/>
<rect x="659" y="279" width="2" height="2" fill="#a60000"/>
<rect x="659" y="289" width="2" height="2" fill="#a60000"/>
<rect x="659" y="299" width="2" height="8" fill="#a60000"/>
<rect x="659" y="309" width="2" height="2" fill="#a60000"/>
<rect x="659" y="315" width="2" height="8" fill="#a60000"/>
<rect x="659" y="325" width="2" height="2" fill="#a60000"/>
<rect x="659" y="331" width="2" height="2" fill="#a60000"/>
<rect x="659" y="339" width="2" height="6" fill="#a60000"/>
<rect x="659" y="347" width="2" height="2" fill="#a60000"/>
<rect x="659" y="351" width="2" height="4" fill="#a60000"/>
<rect x="659" y="361" width="2" height="2" fill="#a60000"/>
<rect x="659" y="367" width="2" height="2" fill="#a60000"/>
<rect x="659" y="371" width="2" height="2" fill="#a60000"/>
<rect x="659" y="379" width="2" height="6" fill="#a60000"/>
<rect x="659" y="387" width="2" height="2" fill="#a60000"/>
<rect x="659" y="401" width="2" height="6" fill="#a60000"/>
<rect x="659" y="409" width="2" height="2" fill="#a60000"/>
<rect x="659" y="413" width="2" height="2" fill="#a60000"/>
<rect x="659" y="419" width="2" height="2" fill="#a60000"/>
<rect x="659" y="423" width="2" height="2" fill="#a60000"/>
<rect x="659" y="427" width="2" height="4" fill="#a60000"/>
<rect x="659" y="433" width="2" height="8" fill="#a60000"/>
<rect x="672.5" y="75" width="2" height="368" fill="#7d0000"/>
<rect x="678.8" y="35" width="2.4" height="408" fill="#870000"/>
<rect x="681" y="35" width="1" height="408" fill="#670000"/>
<rect x="683" y="35" width="1" height="408" fill="#670000"/>
<rect x="687" y="35" width="2" height="408" fill="#870000"/>
<rect x="692" y="35" width="2" height="408" fill="#730000"/>
<rect x="741" y="35" width="1" height="265" fill="#710000"/>
<rect x="741" y="300" width="1" height="143" fill="#620000"/>
<rect x="765.85" y="35" width="2.3" height="408" fill="#9f0000"/>
<rect x="770" y="67" width="1" height="376" fill="#7d0000"/>
<rect x="774" y="35" width="2" height="408" fill="#870000"/>
<rect x="777.25" y="35" width="1.5" height="408" fill="#710000"/>
<rect x="779" y="35" width="5" height="408" fill="#b00000"/>
<rect x="782.5" y="35" width="1.6" height="408" fill="#bc0000"/>
<rect x="784.9" y="35" width="2.6" height="408" fill="#7a0000"/>
<rect x="792.2" y="35" width="1.6" height="100" fill="#7d0000"/>
<rect x="793.65" y="135" width="1.3" height="6" fill="#7d0000"/>
<rect x="793.65" y="143" width="1.3" height="10" fill="#7d0000"/>
<rect x="793.65" y="157" width="1.3" height="2" fill="#7d0000"/>
<rect x="793.65" y="161" width="1.3" height="16" fill="#7d0000"/>
<rect x="793.65" y="181" width="1.3" height="6" fill="#7d0000"/>
<rect x="793.65" y="193" width="1.3" height="2" fill="#7d0000"/>
<rect x="793.65" y="199" width="1.3" height="1" fill="#7d0000"/>
<rect x="795" y="200" width="1" height="4" fill="#7d0000"/>
<rect x="795" y="210" width="1" height="6" fill="#7d0000"/>
<rect x="795" y="218" width="1" height="4" fill="#7d0000"/>
<rect x="795" y="230" width="1" height="2" fill="#7d0000"/>
<rect x="795" y="234" width="1" height="4" fill="#7d0000"/>
<rect x="795" y="240" width="1" height="6" fill="#7d0000"/>
<rect x="795" y="248" width="1" height="10" fill="#7d0000"/>
<rect x="795" y="260" width="1" height="14" fill="#7d0000"/>
<rect x="795" y="276" width="1" height="2" fill="#7d0000"/>
<rect x="795" y="284" width="1" height="2" fill="#7d0000"/>
<rect x="795" y="288" width="1" height="6" fill="#7d0000"/>
<rect x="795" y="300" width="1" height="2" fill="#7d0000"/>
<rect x="795" y="304" width="1" height="2" fill="#7d0000"/>
<rect x="795" y="308" width="1" height="2" fill="#7d0000"/>
<rect x="795" y="312" width="1" height="6" fill="#7d0000"/>
<rect x="795" y="320" width="1" height="4" fill="#7d0000"/>
<rect x="795" y="326" width="1" height="2" fill="#7d0000"/>
<rect x="795" y="330" width="1" height="2" fill="#7d0000"/>
<rect x="795" y="334" width="1" height="2" fill="#7d0000"/>
<rect x="795" y="340" width="1" height="2" fill="#7d0000"/>
<rect x="795" y="346" width="1" height="2" fill="#7d0000"/>
<rect x="795" y="350" width="1" height="8" fill="#7d0000"/>
<rect x="795" y="360" width="1" height="18" fill="#7d0000"/>
<rect x="795" y="382" width="1" height="18" fill="#7d0000"/>
<rect x="795" y="402" width="1" height="8" fill="#7d0000"/>
<rect x="795" y="414" width="1" height="2" fill="#7d0000"/>
<rect x="795" y="420" width="1" height="2" fill="#7d0000"/>
<rect x="795" y="426" width="1" height="10" fill="#7d0000"/>
<rect x="795" y="438" width="1" height="5" fill="#7d0000"/>
<rect x="811.5" y="35" width="1" height="408" fill="#5d0000"/>
<rect x="818.25" y="35" width="1.5" height="36" fill="#840000"/>
<rect x="818.25" y="73" width="1.5" height="36" fill="#840000"/>
<rect x="818.25" y="111" width="1.5" height="14" fill="#840000"/>
<rect x="818.25" y="129" width="1.5" height="10" fill="#840000"/>
<rect x="818.25" y="141" width="1.5" height="20" fill="#840000"/>
<rect x="818.25" y="163" width="1.5" height="6" fill="#840000"/>
<rect x="818.25" y="171" width="1.5" height="28" fill="#840000"/>
<rect x="818.25" y="201" width="1.5" height="10" fill="#840000"/>
<rect x="818.25" y="217" width="1.5" height="6" fill="#840000"/>
<rect x="818.25" y="225" width="1.5" height="12" fill="#840000"/>
<rect x="818.25" y="239" width="1.5" height="10" fill="#840000"/>
<rect x="818.25" y="251" width="1.5" height="4" fill="#840000"/>
<rect x="818.25" y="257" width="1.5" height="2" fill="#840000"/>
<rect x="818.25" y="261" width="1.5" height="2" fill="#840000"/>
<rect x="818.25" y="265" width="1.5" height="36" fill="#840000"/>
<rect x="818.25" y="303" width="1.5" height="2" fill="#840000"/>
<rect x="818.25" y="307" width="1.5" height="22" fill="#840000"/>
<rect x="818.25" y="331" width="1.5" height="22" fill="#840000"/>
<rect x="818.25" y="355" width="1.5" height="6" fill="#840000"/>
<rect x="818.25" y="363" width="1.5" height="8" fill="#840000"/>
<rect x="818.25" y="373" width="1.5" height="2" fill="#840000"/>
<rect x="818.25" y="377" width="1.5" height="14" fill="#840000"/>
<rect x="818.25" y="393" width="1.5" height="6" fill="#840000"/>
<rect x="818.25" y="401" width="1.5" height="22" fill="#840000"/>
<rect x="818.25" y="425" width="1.5" height="16" fill="#840000"/>
<rect x="852" y="35" width="2" height="4" fill="#7a0000"/>
<rect x="852" y="41" width="2" height="2" fill="#7a0000"/>
<rect x="852" y="45" width="2" height="6" fill="#7a0000"/>
<rect x="852" y="53" width="2" height="6" fill="#7a0000"/>
<rect x="852" y="63" width="2" height="4" fill="#7a0000"/>
<rect x="852" y="69" width="2" height="2" fill="#7a0000"/>
<rect x="852" y="73" width="2" height="2" fill="#7a0000"/>
<rect x="852" y="83" width="2" height="2" fill="#7a0000"/>
<rect x="852" y="91" width="2" height="2" fill="#7a0000"/>
<rect x="852" y="95" width="2" height="2" fill="#7a0000"/>
<rect x="852" y="101" width="2" height="4" fill="#7a0000"/>
<rect x="852" y="111" width="2" height="6" fill="#7a0000"/>
<rect x="852" y="121" width="2" height="2" fill="#7a0000"/>
<rect x="852" y="125" width="2" height="6" fill="#7a0000"/>
<rect x="852" y="135" width="2" height="2" fill="#7a0000"/>
<rect x="852" y="141" width="2" height="6" fill="#7a0000"/>
<rect x="852" y="149" width="2" height="2" fill="#7a0000"/>
<rect x="852" y="153" width="2" height="4" fill="#7a0000"/>
<rect x="852" y="159" width="2" height="2" fill="#7a0000"/>
<rect x="852" y="163" width="2" height="2" fill="#7a0000"/>
<rect x="852" y="167" width="2" height="4" fill="#7a0000"/>
<rect x="852" y="175" width="2" height="6" fill="#7a0000"/>
<rect x="852" y="183" width="2" height="2" fill="#7a0000"/>
<rect x="852" y="189" width="2" height="4" fill="#7a0000"/>
<rect x="852" y="195" width="2" height="2" fill="#7a0000"/>
<rect x="852" y="199" width="2" height="2" fill="#7a0000"/>
<rect x="852" y="203" width="2" height="2" fill="#7a0000"/>
<rect x="852" y="207" width="2" height="4" fill="#7a0000"/>
<rect x="852" y="213" width="2" height="6" fill="#7a0000"/>
<rect x="852" y="221" width="2" height="2" fill="#7a0000"/>
<rect x="852" y="225" width="2" height="2" fill="#7a0000"/>
<rect x="852" y="229" width="2" height="2" fill="#7a0000"/>
<rect x="852" y="233" width="2" height="6" fill="#7a0000"/>
<rect x="852" y="241" width="2" height="4" fill="#7a0000"/>
<rect x="852" y="247" width="2" height="2" fill="#7a0000"/>
<rect x="852" y="253" width="2" height="6" fill="#7a0000"/>
<rect x="852" y="261" width="2" height="2" fill="#7a0000"/>
<rect x="852" y="265" width="2" height="8" fill="#7a0000"/>
<rect x="852" y="275" width="2" height="2" fill="#7a0000"/>
<rect x="852" y="279" width="2" height="2" fill="#7a0000"/>
<rect x="852" y="283" width="2" height="2" fill="#7a0000"/>
<rect x="852" y="287" width="2" height="4" fill="#7a0000"/>
<rect x="852" y="295" width="2" height="2" fill="#7a0000"/>
<rect x="852" y="299" width="2" height="2" fill="#7a0000"/>
<rect x="852" y="303" width="2" height="2" fill="#7a0000"/>
<rect x="852" y="307" width="2" height="4" fill="#7a0000"/>
<rect x="852" y="313" width="2" height="2" fill="#7a0000"/>
<rect x="852" y="317" width="2" height="4" fill="#7a0000"/>
<rect x="852" y="323" width="2" height="2" fill="#7a0000"/>
<rect x="852" y="327" width="2" height="4" fill="#7a0000"/>
<rect x="852" y="333" width="2" height="8" fill="#7a0000"/>
<rect x="852" y="343" width="2" height="10" fill="#7a0000"/>
<rect x="852" y="357" width="2" height="4" fill="#7a0000"/>
<rect x="852" y="365" width="2" height="2" fill="#7a0000"/>
<rect x="852" y="371" width="2" height="2" fill="#7a0000"/>
<rect x="852" y="375" width="2" height="2" fill="#7a0000"/>
<rect x="852" y="385" width="2" height="2" fill="#7a0000"/>
<rect x="852" y="389" width="2" height="4" fill="#7a0000"/>
<rect x="852" y="397" width="2" height="2" fill="#7a0000"/>
<rect x="852" y="401" width="2" height="6" fill="#7a0000"/>
<rect x="852" y="409" width="2" height="10" fill="#7a0000"/>
<rect x="852" y="421" width="2" height="2" fill="#7a0000"/>
<rect x="852" y="427" width="2" height="2" fill="#7a0000"/>
<rect x="852" y="431" width="2" height="4" fill="#7a0000"/>
<rect x="852" y="437" width="2" height="2" fill="#7a0000"/>
<rect x="852" y="441" width="2" height="2" fill="#7a0000"/>
<rect x="888" y="57" width="3" height="9" fill="#670000"/>
<rect x="888" y="85" width="3" height="15" fill="#560000"/>
<rect x="888" y="104" width="3" height="13" fill="#750000"/>
<rect x="888" y="149" width="3" height="25" fill="#580000"/>
<rect x="888" y="217" width="3" height="22" fill="#7a0000"/>
<rect x="888" y="243" width="3" height="8" fill="#7a0000"/>
<rect x="888" y="255" width="3" height="8" fill="#690000"/>
<rect x="888" y="267" width="3" height="12" fill="#690000"/>
<rect x="888" y="283" width="3" height="9" fill="#670000"/>
<rect x="888" y="347" width="3" height="8" fill="#690000"/>
<rect x="888" y="358" width="3" height="7" fill="#690000"/>
<rect x="888" y="374" width="3" height="12" fill="#690000"/>
<rect x="888" y="390" width="3" height="8" fill="#690000"/>
<rect x="888" y="418" width="3" height="11" fill="#690000"/>
<rect x="912" y="35" width="1" height="408" fill="#490000"/>
<rect x="922" y="35" width="1" height="2" fill="#5b0000"/>
<rect x="922" y="39" width="1" height="6" fill="#5b0000"/>
<rect x="922" y="57" width="1" height="10" fill="#5b0000"/>
<rect x="922" y="69" width="1" height="2" fill="#5b0000"/>
<rect x="922" y="73" width="1" height="6" fill="#5b0000"/>
<rect x="922" y="89" width="1" height="2" fill="#5b0000"/>
<rect x="922" y="93" width="1" height="2" fill="#5b0000"/>
<rect x="922" y="103" width="1" height="2" fill="#5b0000"/>
<rect x="922" y="113" width="1" height="2" fill="#5b0000"/>
<rect x="922" y="119" width="1" height="2" fill="#5b0000"/>
<rect x="922" y="127" width="1" height="12" fill="#5b0000"/>
<rect x="922" y="145" width="1" height="18" fill="#5b0000"/>
<rect x="922" y="167" width="1" height="2" fill="#5b0000"/>
<rect x="922" y="173" width="1" height="2" fill="#5b0000"/>
<rect x="922" y="179" width="1" height="4" fill="#5b0000"/>
<rect x="922" y="185" width="1" height="4" fill="#5b0000"/>
<rect x="922" y="199" width="1" height="2" fill="#5b0000"/>
<rect x="922" y="203" width="1" height="14" fill="#5b0000"/>
<rect x="922" y="219" width="1" height="2" fill="#5b0000"/>
<rect x="922" y="223" width="1" height="4" fill="#5b0000"/>
<rect x="922" y="229" width="1" height="12" fill="#5b0000"/>
<rect x="922" y="243" width="1" height="18" fill="#5b0000"/>
<rect x="922" y="265" width="1" height="2" fill="#5b0000"/>
<rect x="922" y="269" width="1" height="2" fill="#5b0000"/>
<rect x="922" y="273" width="1" height="6" fill="#5b0000"/>
<rect x="922" y="281" width="1" height="2" fill="#5b0000"/>
<rect x="922" y="287" width="1" height="2" fill="#5b0000"/>
<rect x="922" y="291" width="1" height="2" fill="#5b0000"/>
<rect x="922" y="295" width="1" height="4" fill="#5b0000"/>
<rect x="922" y="301" width="1" height="8" fill="#5b0000"/>
<rect x="922" y="313" width="1" height="2" fill="#5b0000"/>
<rect x="922" y="319" width="1" height="2" fill="#5b0000"/>
<rect x="922" y="323" width="1" height="2" fill="#5b0000"/>
<rect x="922" y="327" width="1" height="6" fill="#5b0000"/>
<rect x="922" y="335" width="1" height="10" fill="#5b0000"/>
<rect x="922" y="347" width="1" height="2" fill="#5b0000"/>
<rect x="922" y="363" width="1" height="4" fill="#5b0000"/>
<rect x="922" y="371" width="1" height="4" fill="#5b0000"/>
<rect x="922" y="377" width="1" height="8" fill="#5b0000"/>
<rect x="922" y="393" width="1" height="18" fill="#5b0000"/>
<rect x="922" y="417" width="1" height="2" fill="#5b0000"/>
<rect x="922" y="421" width="1" height="2" fill="#5b0000"/>
<rect x="922" y="431" width="1" height="2" fill="#5b0000"/>
<rect x="922" y="437" width="1" height="6" fill="#5b0000"/>
<rect x="925.25" y="35" width="1.5" height="125" fill="#690000"/>
<rect x="925.25" y="206" width="1.5" height="119" fill="#690000"/>
<rect x="925.25" y="325" width="1.5" height="20" fill="#5b0000"/>
<rect x="925.25" y="402" width="1.5" height="38" fill="#710000"/>
<rect x="946" y="35" width="1" height="204" fill="#510000"/>
<rect x="946" y="239" width="1" height="41" fill="#5f0000"/>
<rect x="946" y="280" width="1" height="133" fill="#4e0000"/>
<rect x="946" y="413" width="1" height="27" fill="#640000"/>
<rect x="959.9" y="35" width="1.2" height="12" fill="#780000"/>
<rect x="959.9" y="51" width="1.2" height="29" fill="#670000"/>
<rect x="959.9" y="234" width="1.2" height="36" fill="#670000"/>
<rect x="959.9" y="270" width="1.2" height="18" fill="#5b0000"/>
<rect x="979" y="35" width="1" height="285" fill="#670000"/>
<rect x="979" y="320" width="1" height="123" fill="#560000"/>
<rect x="1007.5" y="35" width="1" height="45" fill="#470000"/>
<rect x="1019" y="108.5" width="3" height="170.5" fill="#580000"/>
<rect x="1087" y="35" width="1" height="408" fill="#490000"/>
<rect x="1121" y="35" width="1" height="180" fill="#5f0000"/>
<rect x="1121" y="215" width="1" height="228" fill="#750000"/>
<rect x="1202.5" y="388" width="1" height="55" fill="#420000"/>
<rect x="1222.5" y="35" width="1" height="100" fill="#3d0000"/>
<rect x="245.1" y="330" width="1" height="55" fill="#670000"/>

</g>
</g>
<rect x="19.5" y="35.5" width="1288" height="407" fill="none" stroke="#000" stroke-width="1"/>
<rect x="1320.5" y="35.5" width="26" height="407" fill="url(#cb)" stroke="#000" stroke-width="1"/>
<g class="tk">
<line x1="19.5" y1="443" x2="19.5" y2="447.4"/>
<line x1="62.5" y1="443" x2="62.5" y2="447.4"/>
<line x1="105.5" y1="443" x2="105.5" y2="447.4"/>
<line x1="148.5" y1="443" x2="148.5" y2="447.4"/>
<line x1="191.5" y1="443" x2="191.5" y2="447.4"/>
<line x1="234.5" y1="443" x2="234.5" y2="447.4"/>
<line x1="277.5" y1="443" x2="277.5" y2="447.4"/>
<line x1="320.5" y1="443" x2="320.5" y2="447.4"/>
<line x1="363.5" y1="443" x2="363.5" y2="447.4"/>
<line x1="406.5" y1="443" x2="406.5" y2="447.4"/>
<line x1="449.5" y1="443" x2="449.5" y2="447.4"/>
<line x1="492.5" y1="443" x2="492.5" y2="447.4"/>
<line x1="535.5" y1="443" x2="535.5" y2="447.4"/>
<line x1="578.5" y1="443" x2="578.5" y2="447.4"/>
<line x1="621.5" y1="443" x2="621.5" y2="447.4"/>
<line x1="664.5" y1="443" x2="664.5" y2="447.4"/>
<line x1="707.5" y1="443" x2="707.5" y2="447.4"/>
<line x1="750.5" y1="443" x2="750.5" y2="447.4"/>
<line x1="793.5" y1="443" x2="793.5" y2="447.4"/>
<line x1="836.5" y1="443" x2="836.5" y2="447.4"/>
<line x1="879.5" y1="443" x2="879.5" y2="447.4"/>
<line x1="922.5" y1="443" x2="922.5" y2="447.4"/>
<line x1="965.5" y1="443" x2="965.5" y2="447.4"/>
<line x1="1008.5" y1="443" x2="1008.5" y2="447.4"/>
<line x1="1051.5" y1="443" x2="1051.5" y2="447.4"/>
<line x1="1094.5" y1="443" x2="1094.5" y2="447.4"/>
<line x1="1137.5" y1="443" x2="1137.5" y2="447.4"/>
<line x1="1180.5" y1="443" x2="1180.5" y2="447.4"/>
<line x1="1223.5" y1="443" x2="1223.5" y2="447.4"/>
<line x1="1266.5" y1="443" x2="1266.5" y2="447.4"/>
<line x1="1347" y1="419.69" x2="1351.6" y2="419.69"/>
<line x1="1347" y1="374.06" x2="1351.6" y2="374.06"/>
<line x1="1347" y1="328.43" x2="1351.6" y2="328.43"/>
<line x1="1347" y1="282.8" x2="1351.6" y2="282.8"/>
<line x1="1347" y1="237.17" x2="1351.6" y2="237.17"/>
<line x1="1347" y1="191.55" x2="1351.6" y2="191.55"/>
<line x1="1347" y1="145.92" x2="1351.6" y2="145.92"/>
<line x1="1347" y1="100.29" x2="1351.6" y2="100.29"/>
<line x1="1347" y1="54.66" x2="1351.6" y2="54.66"/>
</g>
<g class="xl">
<text x="19.5" y="462.4">0</text>
<text x="62.5" y="462.4">1</text>
<text x="105.5" y="462.4">2</text>
<text x="148.5" y="462.4">3</text>
<text x="191.5" y="462.4">4</text>
<text x="234.5" y="462.4">5</text>
<text x="277.5" y="462.4">6</text>
<text x="320.5" y="462.4">7</text>
<text x="363.5" y="462.4">8</text>
<text x="406.5" y="462.4">9</text>
<text x="449.5" y="462.4">10</text>
<text x="492.5" y="462.4">11</text>
<text x="535.5" y="462.4">12</text>
<text x="578.5" y="462.4">13</text>
<text x="621.5" y="462.4">14</text>
<text x="664.5" y="462.4">15</text>
<text x="707.5" y="462.4">16</text>
<text x="750.5" y="462.4">17</text>
<text x="793.5" y="462.4">18</text>
<text x="836.5" y="462.4">19</text>
<text x="879.5" y="462.4">20</text>
<text x="922.5" y="462.4">21</text>
<text x="965.5" y="462.4">22</text>
<text x="1008.5" y="462.4">23</text>
<text x="1051.5" y="462.4">24</text>
<text x="1094.5" y="462.4">25</text>
<text x="1137.5" y="462.4">26</text>
<text x="1180.5" y="462.4">27</text>
<text x="1223.5" y="462.4">28</text>
<text x="1266.5" y="462.4">29</text>
</g>
<g class="cl">
<text x="1357.2" y="423.49" textLength="26" lengthAdjust="spacingAndGlyphs">−90</text>
<text x="1357.2" y="377.86" textLength="26" lengthAdjust="spacingAndGlyphs">−80</text>
<text x="1357.2" y="332.23" textLength="26" lengthAdjust="spacingAndGlyphs">−70</text>
<text x="1357.2" y="286.6" textLength="26" lengthAdjust="spacingAndGlyphs">−60</text>
<text x="1357.2" y="240.97" textLength="26" lengthAdjust="spacingAndGlyphs">−50</text>
<text x="1357.2" y="195.35" textLength="26" lengthAdjust="spacingAndGlyphs">−40</text>
<text x="1357.2" y="149.72" textLength="26" lengthAdjust="spacingAndGlyphs">−30</text>
<text x="1357.2" y="104.09" textLength="26" lengthAdjust="spacingAndGlyphs">−20</text>
<text x="1357.2" y="58.46" textLength="26" lengthAdjust="spacingAndGlyphs">−10</text>
</g>
<g font-size="16.67">
<text x="391.0" y="26.6" textLength="95.5" lengthAdjust="spacingAndGlyphs">09/05/2024</text>
<text x="493.2" y="26.6" textLength="46.8" lengthAdjust="spacingAndGlyphs">16:00</text>
<text x="545.8" y="26.6" textLength="32.6" lengthAdjust="spacingAndGlyphs">local</text>
<text x="590.0" y="26.6" textLength="37.6" lengthAdjust="spacingAndGlyphs">time</text>
<text x="633.6" y="26.6" textLength="6.6" lengthAdjust="spacingAndGlyphs">-</text>
<text x="645.4" y="26.6" textLength="54.4" lengthAdjust="spacingAndGlyphs">KIWI_1</text>
<text x="707.2" y="26.6" textLength="6.6" lengthAdjust="spacingAndGlyphs">-</text>
<text x="717.4" y="26.6" textLength="64.2" lengthAdjust="spacingAndGlyphs">Skywire</text>
<text x="788.4" y="26.6" textLength="34.2" lengthAdjust="spacingAndGlyphs">loop</text>
<text x="828.0" y="26.6" textLength="47.4" lengthAdjust="spacingAndGlyphs">[SNR:</text>
<text x="880.4" y="26.6" textLength="20.2" lengthAdjust="spacingAndGlyphs">20</text>
<text x="906.2" y="26.6" textLength="28.6" lengthAdjust="spacingAndGlyphs">dB]</text>
</g>
<text x="663.3" y="481.6" font-size="14.6" text-anchor="middle" textLength="27.6" lengthAdjust="spacing">MHz</text>
<text x="1315" y="27" font-size="14.8" textLength="36.8" lengthAdjust="spacingAndGlyphs">dBm</text>
</svg>
</body>
</html>
